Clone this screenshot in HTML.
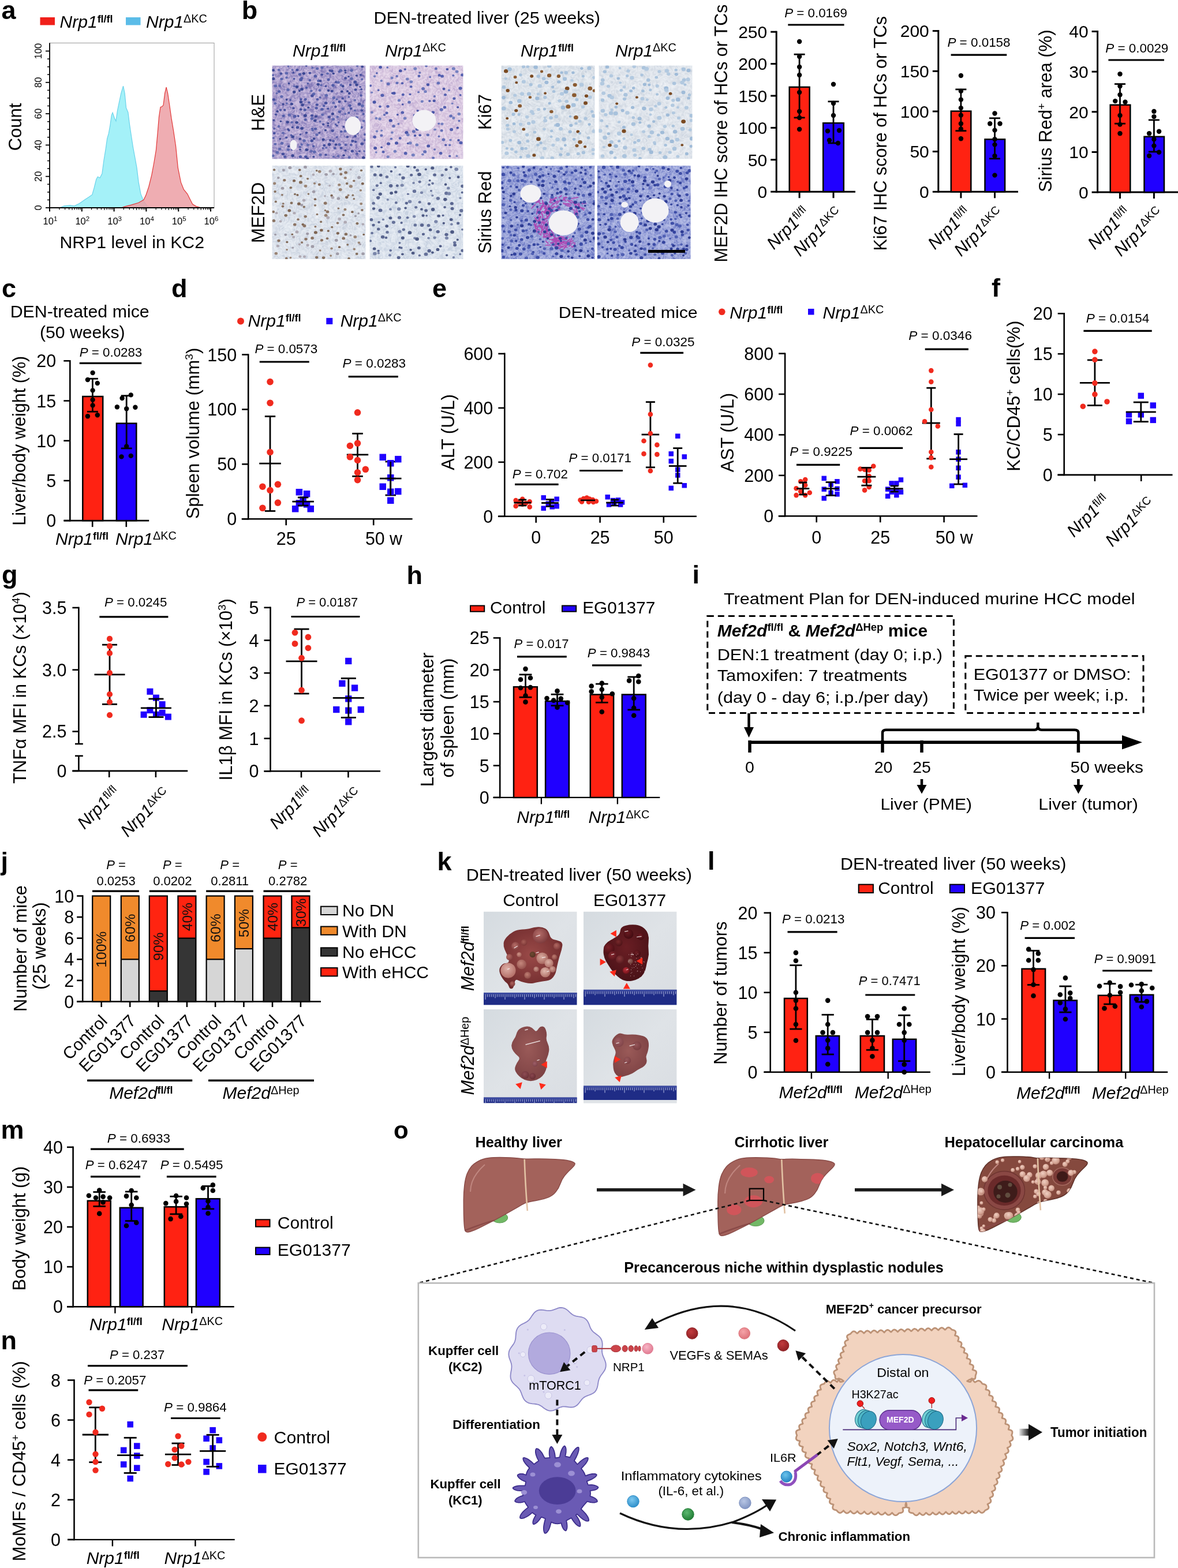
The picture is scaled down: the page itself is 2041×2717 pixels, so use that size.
<!DOCTYPE html>
<html><head><meta charset="utf-8"><title>Figure</title>
<style>html,body{margin:0;padding:0;background:#fff;}svg{display:block;}
text{font-family:'Liberation Sans',Arial,sans-serif;}</style></head>
<body><svg width="2041" height="2717" viewBox="0 0 2041 2717">
<rect width="2041" height="2717" fill="#fff"/>
<text x="2.4" y="33.2" font-size="45" font-weight="bold">a</text>
<rect x="69.5" y="30.0" width="25.5" height="13.5" fill="#f0201a" />
<text x="103.6" y="48.0" font-size="30"><tspan font-style="italic">Nrp1</tspan><tspan font-size="18.0" dy="-9.0" font-weight="bold">fl/fl</tspan></text>
<rect x="218.0" y="30.0" width="25.5" height="13.5" fill="#5bbce8" />
<text x="253.0" y="48.0" font-size="30"><tspan font-style="italic">Nrp1</tspan><tspan font-size="19.8" dy="-8.7">ΔKC</tspan></text>
<rect x="86" y="74.5" width="285" height="285.5" fill="none" stroke="#9a9a9a" stroke-width="1"/>
<path d="M103.6,360.1 L111.2,356.8 L121.3,355.8 L128.9,356.8 L137.7,352.5 L146.6,346.2 L154.2,341.2 L159.7,337.4 L163.0,326.0 L166.8,310.8 L169.3,306.3 L173.1,308.3 L176.9,300.7 L179.9,278.0 L183.2,257.8 L185.7,240.1 L188.3,231.2 L190.8,217.3 L193.3,199.6 L195.1,195.1 L198.4,204.7 L200.9,209.8 L203.4,192.1 L206.0,179.4 L209.8,161.7 L213.5,149.1 L216.1,161.7 L218.6,187.0 L221.9,194.6 L224.4,214.8 L227.4,235.0 L230.5,255.2 L233.8,272.9 L237.0,290.6 L240.1,315.9 L243.9,336.1 L248.9,348.7 L255.2,356.8 L262.8,360.1 Z" fill="#9ff0f8" stroke="#6cd3ea" stroke-width="1.2" fill-opacity="0.95"/>
<path d="M209.8,360.1 L217.3,357.6 L227.4,355.1 L240.1,351.3 L248.9,346.2 L252.7,338.6 L257.8,323.5 L262.8,303.3 L266.6,283.0 L270.4,260.3 L273.4,227.4 L275.5,202.2 L278.0,185.7 L281.0,184.5 L283.0,182.0 L285.6,161.7 L288.1,151.1 L290.6,161.7 L293.7,182.0 L296.9,204.7 L300.7,227.4 L304.5,252.7 L308.3,290.6 L313.4,315.9 L318.4,328.5 L324.7,336.1 L328.5,343.7 L333.6,353.8 L339.9,357.6 L348.7,360.1 Z" fill="#ec9fa4" stroke="#e23a3a" stroke-width="1.2" fill-opacity="0.85"/>
<line x1="86.0" y1="359.5" x2="371.0" y2="359.5" stroke="#6cd3ea" stroke-width="1.2" />
<line x1="86.0" y1="74.5" x2="86.0" y2="361.0" stroke="#000" stroke-width="1.8" />
<line x1="79.0" y1="360.0" x2="86.0" y2="360.0" stroke="#000" stroke-width="1.8" />
<text x="72.0" y="360.0" font-size="16.5" text-anchor="middle" transform="rotate(-90 72.0 360.0)">0</text>
<line x1="82.0" y1="346.4" x2="86.0" y2="346.4" stroke="#000" stroke-width="1.5" />
<line x1="82.0" y1="332.9" x2="86.0" y2="332.9" stroke="#000" stroke-width="1.5" />
<line x1="82.0" y1="319.3" x2="86.0" y2="319.3" stroke="#000" stroke-width="1.5" />
<line x1="79.0" y1="305.7" x2="86.0" y2="305.7" stroke="#000" stroke-width="1.8" />
<text x="72.0" y="305.7" font-size="16.5" text-anchor="middle" transform="rotate(-90 72.0 305.7)">20</text>
<line x1="82.0" y1="292.1" x2="86.0" y2="292.1" stroke="#000" stroke-width="1.5" />
<line x1="82.0" y1="278.6" x2="86.0" y2="278.6" stroke="#000" stroke-width="1.5" />
<line x1="82.0" y1="265.0" x2="86.0" y2="265.0" stroke="#000" stroke-width="1.5" />
<line x1="79.0" y1="251.4" x2="86.0" y2="251.4" stroke="#000" stroke-width="1.8" />
<text x="72.0" y="251.4" font-size="16.5" text-anchor="middle" transform="rotate(-90 72.0 251.4)">40</text>
<line x1="82.0" y1="237.8" x2="86.0" y2="237.8" stroke="#000" stroke-width="1.5" />
<line x1="82.0" y1="224.2" x2="86.0" y2="224.2" stroke="#000" stroke-width="1.5" />
<line x1="82.0" y1="210.7" x2="86.0" y2="210.7" stroke="#000" stroke-width="1.5" />
<line x1="79.0" y1="197.1" x2="86.0" y2="197.1" stroke="#000" stroke-width="1.8" />
<text x="72.0" y="197.1" font-size="16.5" text-anchor="middle" transform="rotate(-90 72.0 197.1)">60</text>
<line x1="82.0" y1="183.5" x2="86.0" y2="183.5" stroke="#000" stroke-width="1.5" />
<line x1="82.0" y1="169.9" x2="86.0" y2="169.9" stroke="#000" stroke-width="1.5" />
<line x1="82.0" y1="156.4" x2="86.0" y2="156.4" stroke="#000" stroke-width="1.5" />
<line x1="79.0" y1="142.8" x2="86.0" y2="142.8" stroke="#000" stroke-width="1.8" />
<text x="72.0" y="142.8" font-size="16.5" text-anchor="middle" transform="rotate(-90 72.0 142.8)">80</text>
<line x1="82.0" y1="129.2" x2="86.0" y2="129.2" stroke="#000" stroke-width="1.5" />
<line x1="82.0" y1="115.7" x2="86.0" y2="115.7" stroke="#000" stroke-width="1.5" />
<line x1="82.0" y1="102.1" x2="86.0" y2="102.1" stroke="#000" stroke-width="1.5" />
<line x1="79.0" y1="88.5" x2="86.0" y2="88.5" stroke="#000" stroke-width="1.8" />
<text x="72.0" y="88.5" font-size="16.5" text-anchor="middle" transform="rotate(-90 72.0 88.5)">100</text>
<line x1="85.0" y1="360.0" x2="371.0" y2="360.0" stroke="#000" stroke-width="1.8" />
<line x1="86.0" y1="360.0" x2="86.0" y2="366.5" stroke="#000" stroke-width="2" />
<text x="87.0" y="389.0" font-size="16.5" text-anchor="middle">10<tspan font-size="11.5" dy="-6.5">1</tspan></text>
<line x1="102.8" y1="360.0" x2="102.8" y2="363.5" stroke="#000" stroke-width="1.2" />
<line x1="112.6" y1="360.0" x2="112.6" y2="363.5" stroke="#000" stroke-width="1.2" />
<line x1="119.6" y1="360.0" x2="119.6" y2="363.5" stroke="#000" stroke-width="1.2" />
<line x1="125.0" y1="360.0" x2="125.0" y2="364.0" stroke="#000" stroke-width="1.2" />
<line x1="129.4" y1="360.0" x2="129.4" y2="363.5" stroke="#000" stroke-width="1.2" />
<line x1="133.2" y1="360.0" x2="133.2" y2="363.5" stroke="#000" stroke-width="1.2" />
<line x1="136.4" y1="360.0" x2="136.4" y2="363.5" stroke="#000" stroke-width="1.2" />
<line x1="139.2" y1="360.0" x2="139.2" y2="363.5" stroke="#000" stroke-width="1.2" />
<line x1="141.8" y1="360.0" x2="141.8" y2="366.5" stroke="#000" stroke-width="2" />
<text x="142.8" y="389.0" font-size="16.5" text-anchor="middle">10<tspan font-size="11.5" dy="-6.5">2</tspan></text>
<line x1="158.6" y1="360.0" x2="158.6" y2="363.5" stroke="#000" stroke-width="1.2" />
<line x1="168.4" y1="360.0" x2="168.4" y2="363.5" stroke="#000" stroke-width="1.2" />
<line x1="175.4" y1="360.0" x2="175.4" y2="363.5" stroke="#000" stroke-width="1.2" />
<line x1="180.8" y1="360.0" x2="180.8" y2="364.0" stroke="#000" stroke-width="1.2" />
<line x1="185.2" y1="360.0" x2="185.2" y2="363.5" stroke="#000" stroke-width="1.2" />
<line x1="189.0" y1="360.0" x2="189.0" y2="363.5" stroke="#000" stroke-width="1.2" />
<line x1="192.2" y1="360.0" x2="192.2" y2="363.5" stroke="#000" stroke-width="1.2" />
<line x1="195.0" y1="360.0" x2="195.0" y2="363.5" stroke="#000" stroke-width="1.2" />
<line x1="197.6" y1="360.0" x2="197.6" y2="366.5" stroke="#000" stroke-width="2" />
<text x="198.6" y="389.0" font-size="16.5" text-anchor="middle">10<tspan font-size="11.5" dy="-6.5">3</tspan></text>
<line x1="214.4" y1="360.0" x2="214.4" y2="363.5" stroke="#000" stroke-width="1.2" />
<line x1="224.2" y1="360.0" x2="224.2" y2="363.5" stroke="#000" stroke-width="1.2" />
<line x1="231.2" y1="360.0" x2="231.2" y2="363.5" stroke="#000" stroke-width="1.2" />
<line x1="236.6" y1="360.0" x2="236.6" y2="364.0" stroke="#000" stroke-width="1.2" />
<line x1="241.0" y1="360.0" x2="241.0" y2="363.5" stroke="#000" stroke-width="1.2" />
<line x1="244.8" y1="360.0" x2="244.8" y2="363.5" stroke="#000" stroke-width="1.2" />
<line x1="248.0" y1="360.0" x2="248.0" y2="363.5" stroke="#000" stroke-width="1.2" />
<line x1="250.8" y1="360.0" x2="250.8" y2="363.5" stroke="#000" stroke-width="1.2" />
<line x1="253.4" y1="360.0" x2="253.4" y2="366.5" stroke="#000" stroke-width="2" />
<text x="254.4" y="389.0" font-size="16.5" text-anchor="middle">10<tspan font-size="11.5" dy="-6.5">4</tspan></text>
<line x1="270.2" y1="360.0" x2="270.2" y2="363.5" stroke="#000" stroke-width="1.2" />
<line x1="280.0" y1="360.0" x2="280.0" y2="363.5" stroke="#000" stroke-width="1.2" />
<line x1="287.0" y1="360.0" x2="287.0" y2="363.5" stroke="#000" stroke-width="1.2" />
<line x1="292.4" y1="360.0" x2="292.4" y2="364.0" stroke="#000" stroke-width="1.2" />
<line x1="296.8" y1="360.0" x2="296.8" y2="363.5" stroke="#000" stroke-width="1.2" />
<line x1="300.6" y1="360.0" x2="300.6" y2="363.5" stroke="#000" stroke-width="1.2" />
<line x1="303.8" y1="360.0" x2="303.8" y2="363.5" stroke="#000" stroke-width="1.2" />
<line x1="306.6" y1="360.0" x2="306.6" y2="363.5" stroke="#000" stroke-width="1.2" />
<line x1="309.2" y1="360.0" x2="309.2" y2="366.5" stroke="#000" stroke-width="2" />
<text x="310.2" y="389.0" font-size="16.5" text-anchor="middle">10<tspan font-size="11.5" dy="-6.5">5</tspan></text>
<line x1="326.0" y1="360.0" x2="326.0" y2="363.5" stroke="#000" stroke-width="1.2" />
<line x1="335.8" y1="360.0" x2="335.8" y2="363.5" stroke="#000" stroke-width="1.2" />
<line x1="342.8" y1="360.0" x2="342.8" y2="363.5" stroke="#000" stroke-width="1.2" />
<line x1="348.2" y1="360.0" x2="348.2" y2="364.0" stroke="#000" stroke-width="1.2" />
<line x1="352.6" y1="360.0" x2="352.6" y2="363.5" stroke="#000" stroke-width="1.2" />
<line x1="356.4" y1="360.0" x2="356.4" y2="363.5" stroke="#000" stroke-width="1.2" />
<line x1="359.6" y1="360.0" x2="359.6" y2="363.5" stroke="#000" stroke-width="1.2" />
<line x1="362.4" y1="360.0" x2="362.4" y2="363.5" stroke="#000" stroke-width="1.2" />
<line x1="365.0" y1="360.0" x2="365.0" y2="366.5" stroke="#000" stroke-width="2" />
<text x="366.0" y="389.0" font-size="16.5" text-anchor="middle">10<tspan font-size="11.5" dy="-6.5">6</tspan></text>
<text x="36.6" y="220.0" font-size="31" text-anchor="middle" transform="rotate(-90 36.6 220.0)">Count</text>
<text x="103.5" y="430.0" font-size="30" textLength="250.5" lengthAdjust="spacingAndGlyphs">NRP1 level in KC2</text>
<text x="418.7" y="33.2" font-size="45" font-weight="bold">b</text>
<text x="647.5" y="41.0" font-size="30" textLength="392.5" lengthAdjust="spacingAndGlyphs">DEN-treated liver (25 weeks)</text>
<text x="507.0" y="97.5" font-size="30"><tspan font-style="italic">Nrp1</tspan><tspan font-size="18.0" dy="-9.0" font-weight="bold">fl/fl</tspan></text>
<text x="667.0" y="97.5" font-size="30"><tspan font-style="italic">Nrp1</tspan><tspan font-size="19.8" dy="-8.7">ΔKC</tspan></text>
<text x="902.0" y="97.5" font-size="30"><tspan font-style="italic">Nrp1</tspan><tspan font-size="18.0" dy="-9.0" font-weight="bold">fl/fl</tspan></text>
<text x="1066.0" y="97.5" font-size="30"><tspan font-style="italic">Nrp1</tspan><tspan font-size="19.8" dy="-8.7">ΔKC</tspan></text>
<clipPath id="clip1"><rect x="471.5" y="113.5" width="162" height="162"/></clipPath>
<g clip-path="url(#clip1)">
<rect x="471.5" y="113.5" width="162.0" height="162.0" fill="#aa9dcc" />
<filter id="tf1" x="0" y="0" width="100%" height="100%" color-interpolation-filters="sRGB"><feTurbulence type="fractalNoise" baseFrequency="0.09" numOctaves="3" seed="1" result="n"/><feColorMatrix in="n" type="matrix" values="0 0 0 0 0.373  0 0 0 0 0.345  0 0 0 0 0.647  1.5 0 0 0 -0.55"/></filter>
<rect x="471.5" y="113.5" width="162" height="162" filter="url(#tf1)"/>
<filter id="tg1" x="0" y="0" width="100%" height="100%" color-interpolation-filters="sRGB"><feTurbulence type="fractalNoise" baseFrequency="0.18" numOctaves="3" seed="51" result="n"/><feColorMatrix in="n" type="matrix" values="0 0 0 0 0.922  0 0 0 0 0.843  0 0 0 0 0.933  1.6 0 0 0 -0.75"/></filter>
<rect x="471.5" y="113.5" width="162" height="162" filter="url(#tg1)"/>
<filter id="tm1" x="0" y="0" width="100%" height="100%" color-interpolation-filters="sRGB"><feTurbulence type="fractalNoise" baseFrequency="0.085" numOctaves="2" seed="91" result="n"/><feComponentTransfer in="n" result="t"><feFuncR type="table" tableValues="0 1 0 0 1 0 0 1 0 0 1 0 0 1 0"/></feComponentTransfer><feColorMatrix in="t" type="matrix" values="0 0 0 0 0.882  0 0 0 0 0.824  0 0 0 0 0.922  0.55 0 0 0 0"/></filter>
<rect x="471.5" y="113.5" width="162" height="162" filter="url(#tm1)"/>
<ellipse cx="473.2" cy="121.7" rx="2.7" ry="2.3" fill="#3c4894" fill-opacity="1.0"/>
<ellipse cx="483.2" cy="120.9" rx="2.3" ry="2.0" fill="#5e68b0" fill-opacity="1.0"/>
<ellipse cx="499.4" cy="114.9" rx="1.8" ry="1.6" fill="#5e68b0" fill-opacity="1.0"/>
<ellipse cx="506.3" cy="121.0" rx="1.8" ry="1.6" fill="#5e68b0" fill-opacity="1.0"/>
<ellipse cx="514.9" cy="121.3" rx="2.5" ry="2.2" fill="#46509e" fill-opacity="1.0"/>
<ellipse cx="530.8" cy="114.3" rx="1.8" ry="1.6" fill="#46509e" fill-opacity="1.0"/>
<ellipse cx="541.3" cy="117.5" rx="2.0" ry="1.8" fill="#5e68b0" fill-opacity="1.0"/>
<ellipse cx="549.5" cy="118.8" rx="2.7" ry="2.3" fill="#5e68b0" fill-opacity="1.0"/>
<ellipse cx="558.0" cy="117.2" rx="2.6" ry="2.3" fill="#5e68b0" fill-opacity="1.0"/>
<ellipse cx="571.8" cy="122.4" rx="2.3" ry="2.0" fill="#46509e" fill-opacity="1.0"/>
<ellipse cx="575.0" cy="123.1" rx="2.8" ry="2.4" fill="#46509e" fill-opacity="1.0"/>
<ellipse cx="590.2" cy="122.2" rx="2.9" ry="2.6" fill="#5e68b0" fill-opacity="1.0"/>
<ellipse cx="598.1" cy="122.3" rx="2.0" ry="1.7" fill="#3c4894" fill-opacity="1.0"/>
<ellipse cx="609.0" cy="122.0" rx="2.8" ry="2.4" fill="#5e68b0" fill-opacity="1.0"/>
<ellipse cx="619.1" cy="114.3" rx="2.0" ry="1.8" fill="#5e68b0" fill-opacity="1.0"/>
<ellipse cx="627.7" cy="115.6" rx="2.4" ry="2.1" fill="#3c4894" fill-opacity="1.0"/>
<ellipse cx="472.8" cy="130.2" rx="1.9" ry="1.7" fill="#525ca8" fill-opacity="1.0"/>
<ellipse cx="486.9" cy="127.7" rx="2.3" ry="2.1" fill="#46509e" fill-opacity="1.0"/>
<ellipse cx="496.5" cy="126.9" rx="2.8" ry="2.4" fill="#5e68b0" fill-opacity="1.0"/>
<ellipse cx="508.3" cy="125.7" rx="2.0" ry="1.8" fill="#46509e" fill-opacity="1.0"/>
<ellipse cx="519.5" cy="129.0" rx="2.8" ry="2.4" fill="#525ca8" fill-opacity="1.0"/>
<ellipse cx="526.3" cy="127.3" rx="2.8" ry="2.4" fill="#3c4894" fill-opacity="1.0"/>
<ellipse cx="536.9" cy="126.6" rx="2.4" ry="2.1" fill="#46509e" fill-opacity="1.0"/>
<ellipse cx="546.4" cy="131.9" rx="2.9" ry="2.5" fill="#525ca8" fill-opacity="1.0"/>
<ellipse cx="557.7" cy="129.2" rx="2.3" ry="2.0" fill="#46509e" fill-opacity="1.0"/>
<ellipse cx="567.5" cy="127.5" rx="2.4" ry="2.1" fill="#5e68b0" fill-opacity="1.0"/>
<ellipse cx="577.7" cy="127.4" rx="2.2" ry="1.9" fill="#3c4894" fill-opacity="1.0"/>
<ellipse cx="587.6" cy="124.4" rx="2.0" ry="1.8" fill="#525ca8" fill-opacity="1.0"/>
<ellipse cx="598.5" cy="125.8" rx="1.9" ry="1.6" fill="#3c4894" fill-opacity="1.0"/>
<ellipse cx="603.9" cy="132.7" rx="1.8" ry="1.6" fill="#46509e" fill-opacity="1.0"/>
<ellipse cx="617.9" cy="131.0" rx="2.1" ry="1.8" fill="#3c4894" fill-opacity="1.0"/>
<ellipse cx="624.9" cy="129.8" rx="2.2" ry="1.9" fill="#46509e" fill-opacity="1.0"/>
<ellipse cx="473.5" cy="136.6" rx="2.9" ry="2.5" fill="#3c4894" fill-opacity="1.0"/>
<ellipse cx="488.0" cy="136.9" rx="2.6" ry="2.3" fill="#5e68b0" fill-opacity="1.0"/>
<ellipse cx="496.6" cy="134.5" rx="2.2" ry="2.0" fill="#5e68b0" fill-opacity="1.0"/>
<ellipse cx="509.6" cy="136.6" rx="2.1" ry="1.8" fill="#525ca8" fill-opacity="1.0"/>
<ellipse cx="521.3" cy="138.2" rx="2.9" ry="2.6" fill="#525ca8" fill-opacity="1.0"/>
<ellipse cx="522.8" cy="135.6" rx="2.6" ry="2.3" fill="#525ca8" fill-opacity="1.0"/>
<ellipse cx="536.8" cy="138.9" rx="2.3" ry="2.0" fill="#525ca8" fill-opacity="1.0"/>
<ellipse cx="551.8" cy="140.0" rx="2.6" ry="2.3" fill="#5e68b0" fill-opacity="1.0"/>
<ellipse cx="555.0" cy="140.2" rx="2.2" ry="2.0" fill="#3c4894" fill-opacity="1.0"/>
<ellipse cx="569.1" cy="138.1" rx="2.6" ry="2.3" fill="#525ca8" fill-opacity="1.0"/>
<ellipse cx="582.1" cy="142.2" rx="2.1" ry="1.9" fill="#46509e" fill-opacity="1.0"/>
<ellipse cx="586.2" cy="142.8" rx="2.6" ry="2.3" fill="#5e68b0" fill-opacity="1.0"/>
<ellipse cx="598.7" cy="135.4" rx="2.4" ry="2.1" fill="#46509e" fill-opacity="1.0"/>
<ellipse cx="609.0" cy="136.2" rx="2.8" ry="2.5" fill="#5e68b0" fill-opacity="1.0"/>
<ellipse cx="615.3" cy="142.2" rx="2.9" ry="2.6" fill="#46509e" fill-opacity="1.0"/>
<ellipse cx="627.3" cy="137.4" rx="2.0" ry="1.8" fill="#5e68b0" fill-opacity="1.0"/>
<ellipse cx="477.4" cy="148.9" rx="2.9" ry="2.5" fill="#5e68b0" fill-opacity="1.0"/>
<ellipse cx="484.8" cy="148.9" rx="2.1" ry="1.9" fill="#5e68b0" fill-opacity="1.0"/>
<ellipse cx="500.5" cy="144.5" rx="2.0" ry="1.8" fill="#3c4894" fill-opacity="1.0"/>
<ellipse cx="509.8" cy="149.5" rx="1.9" ry="1.7" fill="#5e68b0" fill-opacity="1.0"/>
<ellipse cx="514.4" cy="150.5" rx="2.7" ry="2.4" fill="#3c4894" fill-opacity="1.0"/>
<ellipse cx="531.0" cy="152.0" rx="2.4" ry="2.1" fill="#525ca8" fill-opacity="1.0"/>
<ellipse cx="533.4" cy="144.7" rx="1.9" ry="1.7" fill="#525ca8" fill-opacity="1.0"/>
<ellipse cx="551.2" cy="146.3" rx="2.7" ry="2.3" fill="#3c4894" fill-opacity="1.0"/>
<ellipse cx="556.4" cy="147.5" rx="2.1" ry="1.9" fill="#5e68b0" fill-opacity="1.0"/>
<ellipse cx="564.4" cy="149.4" rx="1.9" ry="1.7" fill="#46509e" fill-opacity="1.0"/>
<ellipse cx="577.0" cy="147.8" rx="2.9" ry="2.6" fill="#525ca8" fill-opacity="1.0"/>
<ellipse cx="590.9" cy="147.5" rx="2.5" ry="2.2" fill="#5e68b0" fill-opacity="1.0"/>
<ellipse cx="594.2" cy="149.4" rx="2.4" ry="2.1" fill="#3c4894" fill-opacity="1.0"/>
<ellipse cx="607.0" cy="147.1" rx="2.4" ry="2.1" fill="#46509e" fill-opacity="1.0"/>
<ellipse cx="617.9" cy="146.9" rx="2.7" ry="2.4" fill="#3c4894" fill-opacity="1.0"/>
<ellipse cx="624.0" cy="150.5" rx="1.9" ry="1.6" fill="#46509e" fill-opacity="1.0"/>
<ellipse cx="479.5" cy="161.7" rx="2.0" ry="1.7" fill="#5e68b0" fill-opacity="1.0"/>
<ellipse cx="483.6" cy="158.6" rx="2.6" ry="2.3" fill="#525ca8" fill-opacity="1.0"/>
<ellipse cx="499.0" cy="155.4" rx="2.8" ry="2.5" fill="#5e68b0" fill-opacity="1.0"/>
<ellipse cx="509.7" cy="159.5" rx="2.7" ry="2.4" fill="#3c4894" fill-opacity="1.0"/>
<ellipse cx="519.0" cy="157.4" rx="2.0" ry="1.8" fill="#3c4894" fill-opacity="1.0"/>
<ellipse cx="523.0" cy="154.6" rx="2.9" ry="2.6" fill="#3c4894" fill-opacity="1.0"/>
<ellipse cx="539.4" cy="157.4" rx="2.2" ry="2.0" fill="#5e68b0" fill-opacity="1.0"/>
<ellipse cx="543.5" cy="162.8" rx="2.9" ry="2.6" fill="#5e68b0" fill-opacity="1.0"/>
<ellipse cx="554.0" cy="156.5" rx="2.5" ry="2.2" fill="#5e68b0" fill-opacity="1.0"/>
<ellipse cx="569.2" cy="156.9" rx="2.4" ry="2.1" fill="#3c4894" fill-opacity="1.0"/>
<ellipse cx="575.1" cy="157.8" rx="2.7" ry="2.4" fill="#46509e" fill-opacity="1.0"/>
<ellipse cx="592.3" cy="158.6" rx="2.5" ry="2.2" fill="#3c4894" fill-opacity="1.0"/>
<ellipse cx="602.1" cy="158.1" rx="2.1" ry="1.9" fill="#3c4894" fill-opacity="1.0"/>
<ellipse cx="605.3" cy="161.7" rx="2.4" ry="2.1" fill="#3c4894" fill-opacity="1.0"/>
<ellipse cx="616.0" cy="155.4" rx="2.5" ry="2.2" fill="#46509e" fill-opacity="1.0"/>
<ellipse cx="626.1" cy="154.7" rx="2.0" ry="1.8" fill="#46509e" fill-opacity="1.0"/>
<ellipse cx="474.4" cy="172.5" rx="2.6" ry="2.3" fill="#46509e" fill-opacity="1.0"/>
<ellipse cx="487.9" cy="167.3" rx="2.7" ry="2.4" fill="#5e68b0" fill-opacity="1.0"/>
<ellipse cx="496.5" cy="172.5" rx="1.9" ry="1.7" fill="#3c4894" fill-opacity="1.0"/>
<ellipse cx="503.1" cy="173.3" rx="2.0" ry="1.7" fill="#525ca8" fill-opacity="1.0"/>
<ellipse cx="521.5" cy="172.1" rx="2.1" ry="1.9" fill="#46509e" fill-opacity="1.0"/>
<ellipse cx="529.1" cy="172.2" rx="2.5" ry="2.2" fill="#525ca8" fill-opacity="1.0"/>
<ellipse cx="540.9" cy="165.9" rx="2.8" ry="2.5" fill="#46509e" fill-opacity="1.0"/>
<ellipse cx="550.0" cy="172.1" rx="2.5" ry="2.2" fill="#525ca8" fill-opacity="1.0"/>
<ellipse cx="554.6" cy="168.6" rx="1.9" ry="1.7" fill="#525ca8" fill-opacity="1.0"/>
<ellipse cx="565.4" cy="165.2" rx="2.9" ry="2.5" fill="#5e68b0" fill-opacity="1.0"/>
<ellipse cx="578.3" cy="169.6" rx="2.8" ry="2.4" fill="#5e68b0" fill-opacity="1.0"/>
<ellipse cx="583.5" cy="172.3" rx="2.0" ry="1.7" fill="#5e68b0" fill-opacity="1.0"/>
<ellipse cx="593.7" cy="170.5" rx="2.3" ry="2.0" fill="#46509e" fill-opacity="1.0"/>
<ellipse cx="604.2" cy="167.9" rx="1.9" ry="1.7" fill="#525ca8" fill-opacity="1.0"/>
<ellipse cx="615.0" cy="173.6" rx="2.1" ry="1.8" fill="#5e68b0" fill-opacity="1.0"/>
<ellipse cx="625.5" cy="165.4" rx="2.3" ry="2.1" fill="#525ca8" fill-opacity="1.0"/>
<ellipse cx="476.8" cy="179.3" rx="2.5" ry="2.2" fill="#5e68b0" fill-opacity="1.0"/>
<ellipse cx="490.6" cy="180.6" rx="2.0" ry="1.8" fill="#3c4894" fill-opacity="1.0"/>
<ellipse cx="496.8" cy="179.1" rx="2.0" ry="1.8" fill="#5e68b0" fill-opacity="1.0"/>
<ellipse cx="505.5" cy="180.3" rx="2.6" ry="2.3" fill="#3c4894" fill-opacity="1.0"/>
<ellipse cx="521.4" cy="176.8" rx="2.8" ry="2.5" fill="#3c4894" fill-opacity="1.0"/>
<ellipse cx="524.1" cy="181.7" rx="2.8" ry="2.5" fill="#3c4894" fill-opacity="1.0"/>
<ellipse cx="535.5" cy="177.5" rx="2.4" ry="2.1" fill="#525ca8" fill-opacity="1.0"/>
<ellipse cx="549.3" cy="181.5" rx="2.5" ry="2.2" fill="#46509e" fill-opacity="1.0"/>
<ellipse cx="561.2" cy="183.5" rx="2.4" ry="2.1" fill="#525ca8" fill-opacity="1.0"/>
<ellipse cx="564.6" cy="178.6" rx="2.9" ry="2.5" fill="#46509e" fill-opacity="1.0"/>
<ellipse cx="577.8" cy="178.3" rx="2.5" ry="2.2" fill="#5e68b0" fill-opacity="1.0"/>
<ellipse cx="588.1" cy="176.3" rx="2.6" ry="2.3" fill="#46509e" fill-opacity="1.0"/>
<ellipse cx="598.3" cy="175.6" rx="2.1" ry="1.8" fill="#46509e" fill-opacity="1.0"/>
<ellipse cx="606.1" cy="183.1" rx="2.9" ry="2.5" fill="#525ca8" fill-opacity="1.0"/>
<ellipse cx="622.6" cy="180.4" rx="2.9" ry="2.6" fill="#46509e" fill-opacity="1.0"/>
<ellipse cx="627.9" cy="183.2" rx="2.9" ry="2.6" fill="#5e68b0" fill-opacity="1.0"/>
<ellipse cx="480.6" cy="193.1" rx="2.2" ry="2.0" fill="#3c4894" fill-opacity="1.0"/>
<ellipse cx="486.1" cy="190.6" rx="2.3" ry="2.1" fill="#525ca8" fill-opacity="1.0"/>
<ellipse cx="493.3" cy="190.4" rx="2.2" ry="2.0" fill="#46509e" fill-opacity="1.0"/>
<ellipse cx="508.4" cy="187.4" rx="2.2" ry="1.9" fill="#46509e" fill-opacity="1.0"/>
<ellipse cx="521.3" cy="189.7" rx="2.4" ry="2.1" fill="#46509e" fill-opacity="1.0"/>
<ellipse cx="528.3" cy="190.4" rx="2.7" ry="2.4" fill="#525ca8" fill-opacity="1.0"/>
<ellipse cx="534.3" cy="186.2" rx="2.0" ry="1.8" fill="#3c4894" fill-opacity="1.0"/>
<ellipse cx="548.2" cy="187.2" rx="2.6" ry="2.3" fill="#525ca8" fill-opacity="1.0"/>
<ellipse cx="558.0" cy="189.4" rx="2.8" ry="2.4" fill="#525ca8" fill-opacity="1.0"/>
<ellipse cx="568.3" cy="188.4" rx="2.1" ry="1.8" fill="#46509e" fill-opacity="1.0"/>
<ellipse cx="581.5" cy="185.1" rx="2.4" ry="2.1" fill="#46509e" fill-opacity="1.0"/>
<ellipse cx="588.4" cy="193.7" rx="2.7" ry="2.3" fill="#525ca8" fill-opacity="1.0"/>
<ellipse cx="594.2" cy="188.3" rx="2.7" ry="2.4" fill="#5e68b0" fill-opacity="1.0"/>
<ellipse cx="608.2" cy="188.1" rx="2.4" ry="2.1" fill="#46509e" fill-opacity="1.0"/>
<ellipse cx="614.9" cy="191.4" rx="2.2" ry="1.9" fill="#5e68b0" fill-opacity="1.0"/>
<ellipse cx="627.0" cy="191.5" rx="2.4" ry="2.1" fill="#46509e" fill-opacity="1.0"/>
<ellipse cx="477.9" cy="198.4" rx="2.0" ry="1.8" fill="#46509e" fill-opacity="1.0"/>
<ellipse cx="491.2" cy="200.8" rx="2.6" ry="2.3" fill="#525ca8" fill-opacity="1.0"/>
<ellipse cx="501.3" cy="199.2" rx="2.7" ry="2.4" fill="#5e68b0" fill-opacity="1.0"/>
<ellipse cx="510.9" cy="201.5" rx="2.9" ry="2.6" fill="#525ca8" fill-opacity="1.0"/>
<ellipse cx="516.6" cy="201.1" rx="2.0" ry="1.8" fill="#46509e" fill-opacity="1.0"/>
<ellipse cx="528.8" cy="200.3" rx="2.9" ry="2.6" fill="#3c4894" fill-opacity="1.0"/>
<ellipse cx="540.6" cy="200.3" rx="2.6" ry="2.3" fill="#46509e" fill-opacity="1.0"/>
<ellipse cx="547.4" cy="201.8" rx="2.5" ry="2.2" fill="#3c4894" fill-opacity="1.0"/>
<ellipse cx="558.7" cy="198.7" rx="2.5" ry="2.2" fill="#5e68b0" fill-opacity="1.0"/>
<ellipse cx="570.3" cy="202.7" rx="2.7" ry="2.3" fill="#46509e" fill-opacity="1.0"/>
<ellipse cx="576.4" cy="197.4" rx="2.6" ry="2.3" fill="#3c4894" fill-opacity="1.0"/>
<ellipse cx="584.8" cy="202.6" rx="2.3" ry="2.1" fill="#5e68b0" fill-opacity="1.0"/>
<ellipse cx="598.2" cy="197.5" rx="1.9" ry="1.7" fill="#5e68b0" fill-opacity="1.0"/>
<ellipse cx="604.3" cy="195.6" rx="2.3" ry="2.0" fill="#525ca8" fill-opacity="1.0"/>
<ellipse cx="618.4" cy="203.6" rx="2.6" ry="2.3" fill="#5e68b0" fill-opacity="1.0"/>
<ellipse cx="629.7" cy="197.5" rx="2.1" ry="1.9" fill="#525ca8" fill-opacity="1.0"/>
<ellipse cx="474.2" cy="208.2" rx="1.8" ry="1.6" fill="#3c4894" fill-opacity="1.0"/>
<ellipse cx="486.4" cy="210.2" rx="1.8" ry="1.6" fill="#3c4894" fill-opacity="1.0"/>
<ellipse cx="498.2" cy="211.6" rx="2.7" ry="2.4" fill="#3c4894" fill-opacity="1.0"/>
<ellipse cx="505.6" cy="211.9" rx="2.2" ry="2.0" fill="#5e68b0" fill-opacity="1.0"/>
<ellipse cx="514.1" cy="212.3" rx="2.8" ry="2.4" fill="#3c4894" fill-opacity="1.0"/>
<ellipse cx="529.2" cy="207.5" rx="2.5" ry="2.2" fill="#525ca8" fill-opacity="1.0"/>
<ellipse cx="540.4" cy="205.4" rx="2.8" ry="2.5" fill="#5e68b0" fill-opacity="1.0"/>
<ellipse cx="545.8" cy="209.1" rx="2.7" ry="2.3" fill="#3c4894" fill-opacity="1.0"/>
<ellipse cx="554.7" cy="210.8" rx="2.0" ry="1.7" fill="#5e68b0" fill-opacity="1.0"/>
<ellipse cx="568.4" cy="213.6" rx="1.9" ry="1.7" fill="#3c4894" fill-opacity="1.0"/>
<ellipse cx="577.4" cy="206.6" rx="2.7" ry="2.4" fill="#5e68b0" fill-opacity="1.0"/>
<ellipse cx="586.7" cy="212.0" rx="2.0" ry="1.8" fill="#525ca8" fill-opacity="1.0"/>
<ellipse cx="600.1" cy="207.9" rx="1.9" ry="1.7" fill="#5e68b0" fill-opacity="1.0"/>
<ellipse cx="606.6" cy="213.6" rx="2.9" ry="2.5" fill="#46509e" fill-opacity="1.0"/>
<ellipse cx="614.3" cy="210.6" rx="2.8" ry="2.5" fill="#525ca8" fill-opacity="1.0"/>
<ellipse cx="630.1" cy="209.6" rx="2.4" ry="2.1" fill="#5e68b0" fill-opacity="1.0"/>
<ellipse cx="475.1" cy="222.9" rx="1.9" ry="1.7" fill="#525ca8" fill-opacity="1.0"/>
<ellipse cx="483.0" cy="218.9" rx="2.3" ry="2.1" fill="#5e68b0" fill-opacity="1.0"/>
<ellipse cx="499.1" cy="224.1" rx="2.0" ry="1.8" fill="#3c4894" fill-opacity="1.0"/>
<ellipse cx="506.6" cy="220.5" rx="2.0" ry="1.8" fill="#3c4894" fill-opacity="1.0"/>
<ellipse cx="515.5" cy="220.7" rx="2.8" ry="2.5" fill="#46509e" fill-opacity="1.0"/>
<ellipse cx="523.1" cy="222.5" rx="2.8" ry="2.4" fill="#3c4894" fill-opacity="1.0"/>
<ellipse cx="540.9" cy="223.0" rx="2.1" ry="1.8" fill="#525ca8" fill-opacity="1.0"/>
<ellipse cx="546.5" cy="223.3" rx="2.7" ry="2.3" fill="#525ca8" fill-opacity="1.0"/>
<ellipse cx="560.2" cy="215.5" rx="2.2" ry="2.0" fill="#46509e" fill-opacity="1.0"/>
<ellipse cx="568.3" cy="217.6" rx="1.9" ry="1.6" fill="#3c4894" fill-opacity="1.0"/>
<ellipse cx="581.5" cy="215.6" rx="1.8" ry="1.6" fill="#525ca8" fill-opacity="1.0"/>
<ellipse cx="583.8" cy="217.7" rx="1.9" ry="1.7" fill="#46509e" fill-opacity="1.0"/>
<ellipse cx="595.2" cy="219.8" rx="1.9" ry="1.7" fill="#3c4894" fill-opacity="1.0"/>
<ellipse cx="609.9" cy="223.0" rx="2.5" ry="2.2" fill="#5e68b0" fill-opacity="1.0"/>
<ellipse cx="616.8" cy="217.7" rx="2.1" ry="1.8" fill="#525ca8" fill-opacity="1.0"/>
<ellipse cx="626.1" cy="220.6" rx="2.7" ry="2.4" fill="#525ca8" fill-opacity="1.0"/>
<ellipse cx="475.2" cy="230.9" rx="2.4" ry="2.1" fill="#46509e" fill-opacity="1.0"/>
<ellipse cx="490.4" cy="230.4" rx="2.4" ry="2.1" fill="#5e68b0" fill-opacity="1.0"/>
<ellipse cx="500.6" cy="226.0" rx="2.1" ry="1.8" fill="#46509e" fill-opacity="1.0"/>
<ellipse cx="504.7" cy="234.3" rx="1.9" ry="1.7" fill="#525ca8" fill-opacity="1.0"/>
<ellipse cx="520.3" cy="233.1" rx="1.8" ry="1.6" fill="#46509e" fill-opacity="1.0"/>
<ellipse cx="530.9" cy="230.1" rx="2.4" ry="2.1" fill="#46509e" fill-opacity="1.0"/>
<ellipse cx="541.7" cy="225.7" rx="2.4" ry="2.1" fill="#5e68b0" fill-opacity="1.0"/>
<ellipse cx="548.9" cy="233.5" rx="2.7" ry="2.3" fill="#5e68b0" fill-opacity="1.0"/>
<ellipse cx="553.2" cy="230.2" rx="1.9" ry="1.6" fill="#3c4894" fill-opacity="1.0"/>
<ellipse cx="563.9" cy="225.7" rx="2.2" ry="1.9" fill="#3c4894" fill-opacity="1.0"/>
<ellipse cx="576.1" cy="226.6" rx="2.7" ry="2.4" fill="#46509e" fill-opacity="1.0"/>
<ellipse cx="591.2" cy="228.1" rx="2.3" ry="2.0" fill="#525ca8" fill-opacity="1.0"/>
<ellipse cx="598.1" cy="227.3" rx="2.8" ry="2.5" fill="#5e68b0" fill-opacity="1.0"/>
<ellipse cx="612.3" cy="230.7" rx="1.9" ry="1.7" fill="#5e68b0" fill-opacity="1.0"/>
<ellipse cx="618.5" cy="230.5" rx="2.8" ry="2.4" fill="#46509e" fill-opacity="1.0"/>
<ellipse cx="632.1" cy="233.0" rx="2.1" ry="1.9" fill="#525ca8" fill-opacity="1.0"/>
<ellipse cx="473.8" cy="239.1" rx="2.1" ry="1.9" fill="#5e68b0" fill-opacity="1.0"/>
<ellipse cx="485.3" cy="240.7" rx="1.8" ry="1.6" fill="#3c4894" fill-opacity="1.0"/>
<ellipse cx="496.1" cy="238.4" rx="2.1" ry="1.8" fill="#46509e" fill-opacity="1.0"/>
<ellipse cx="507.2" cy="236.9" rx="2.8" ry="2.5" fill="#3c4894" fill-opacity="1.0"/>
<ellipse cx="519.7" cy="240.7" rx="2.3" ry="2.0" fill="#3c4894" fill-opacity="1.0"/>
<ellipse cx="527.0" cy="243.8" rx="2.9" ry="2.5" fill="#5e68b0" fill-opacity="1.0"/>
<ellipse cx="540.2" cy="243.9" rx="2.8" ry="2.5" fill="#46509e" fill-opacity="1.0"/>
<ellipse cx="544.1" cy="240.3" rx="2.4" ry="2.1" fill="#3c4894" fill-opacity="1.0"/>
<ellipse cx="560.1" cy="241.9" rx="2.6" ry="2.3" fill="#3c4894" fill-opacity="1.0"/>
<ellipse cx="572.2" cy="242.8" rx="2.2" ry="1.9" fill="#3c4894" fill-opacity="1.0"/>
<ellipse cx="577.5" cy="244.4" rx="2.4" ry="2.1" fill="#525ca8" fill-opacity="1.0"/>
<ellipse cx="583.6" cy="237.8" rx="2.0" ry="1.8" fill="#525ca8" fill-opacity="1.0"/>
<ellipse cx="601.8" cy="237.2" rx="2.2" ry="2.0" fill="#46509e" fill-opacity="1.0"/>
<ellipse cx="611.0" cy="244.4" rx="2.6" ry="2.3" fill="#46509e" fill-opacity="1.0"/>
<ellipse cx="615.6" cy="236.1" rx="2.4" ry="2.1" fill="#46509e" fill-opacity="1.0"/>
<ellipse cx="631.7" cy="242.7" rx="2.0" ry="1.8" fill="#525ca8" fill-opacity="1.0"/>
<ellipse cx="476.7" cy="249.6" rx="2.5" ry="2.2" fill="#5e68b0" fill-opacity="1.0"/>
<ellipse cx="488.6" cy="248.2" rx="2.8" ry="2.5" fill="#5e68b0" fill-opacity="1.0"/>
<ellipse cx="500.1" cy="253.8" rx="2.3" ry="2.0" fill="#3c4894" fill-opacity="1.0"/>
<ellipse cx="507.3" cy="254.2" rx="2.7" ry="2.4" fill="#46509e" fill-opacity="1.0"/>
<ellipse cx="519.9" cy="254.7" rx="2.1" ry="1.8" fill="#525ca8" fill-opacity="1.0"/>
<ellipse cx="522.7" cy="250.5" rx="2.2" ry="1.9" fill="#5e68b0" fill-opacity="1.0"/>
<ellipse cx="533.5" cy="251.2" rx="2.4" ry="2.1" fill="#5e68b0" fill-opacity="1.0"/>
<ellipse cx="543.2" cy="253.4" rx="2.3" ry="2.0" fill="#525ca8" fill-opacity="1.0"/>
<ellipse cx="561.8" cy="252.0" rx="2.5" ry="2.2" fill="#46509e" fill-opacity="1.0"/>
<ellipse cx="570.6" cy="250.3" rx="2.9" ry="2.6" fill="#3c4894" fill-opacity="1.0"/>
<ellipse cx="582.1" cy="250.6" rx="2.4" ry="2.1" fill="#3c4894" fill-opacity="1.0"/>
<ellipse cx="588.2" cy="250.6" rx="2.7" ry="2.4" fill="#5e68b0" fill-opacity="1.0"/>
<ellipse cx="599.0" cy="250.9" rx="2.3" ry="2.0" fill="#525ca8" fill-opacity="1.0"/>
<ellipse cx="608.2" cy="251.0" rx="2.4" ry="2.1" fill="#525ca8" fill-opacity="1.0"/>
<ellipse cx="616.1" cy="245.7" rx="2.3" ry="2.0" fill="#46509e" fill-opacity="1.0"/>
<ellipse cx="627.2" cy="249.3" rx="2.9" ry="2.5" fill="#46509e" fill-opacity="1.0"/>
<ellipse cx="480.2" cy="264.2" rx="2.8" ry="2.4" fill="#5e68b0" fill-opacity="1.0"/>
<ellipse cx="484.6" cy="258.2" rx="2.7" ry="2.4" fill="#5e68b0" fill-opacity="1.0"/>
<ellipse cx="499.3" cy="259.3" rx="2.7" ry="2.4" fill="#5e68b0" fill-opacity="1.0"/>
<ellipse cx="505.6" cy="259.5" rx="1.8" ry="1.6" fill="#525ca8" fill-opacity="1.0"/>
<ellipse cx="519.9" cy="259.1" rx="1.9" ry="1.7" fill="#3c4894" fill-opacity="1.0"/>
<ellipse cx="531.3" cy="259.5" rx="2.9" ry="2.5" fill="#3c4894" fill-opacity="1.0"/>
<ellipse cx="539.5" cy="262.1" rx="2.3" ry="2.0" fill="#5e68b0" fill-opacity="1.0"/>
<ellipse cx="544.8" cy="263.3" rx="2.9" ry="2.5" fill="#5e68b0" fill-opacity="1.0"/>
<ellipse cx="559.5" cy="256.6" rx="1.9" ry="1.7" fill="#525ca8" fill-opacity="1.0"/>
<ellipse cx="565.2" cy="256.0" rx="2.1" ry="1.8" fill="#5e68b0" fill-opacity="1.0"/>
<ellipse cx="580.3" cy="256.7" rx="2.5" ry="2.2" fill="#525ca8" fill-opacity="1.0"/>
<ellipse cx="591.0" cy="256.6" rx="2.5" ry="2.2" fill="#46509e" fill-opacity="1.0"/>
<ellipse cx="598.5" cy="260.6" rx="2.2" ry="1.9" fill="#46509e" fill-opacity="1.0"/>
<ellipse cx="610.3" cy="261.9" rx="2.7" ry="2.4" fill="#46509e" fill-opacity="1.0"/>
<ellipse cx="622.8" cy="262.0" rx="2.0" ry="1.7" fill="#46509e" fill-opacity="1.0"/>
<ellipse cx="631.0" cy="261.9" rx="1.9" ry="1.6" fill="#5e68b0" fill-opacity="1.0"/>
<ellipse cx="473.1" cy="270.0" rx="2.6" ry="2.3" fill="#5e68b0" fill-opacity="1.0"/>
<ellipse cx="490.4" cy="266.9" rx="2.8" ry="2.4" fill="#46509e" fill-opacity="1.0"/>
<ellipse cx="493.6" cy="271.5" rx="2.6" ry="2.3" fill="#525ca8" fill-opacity="1.0"/>
<ellipse cx="507.1" cy="269.7" rx="2.8" ry="2.5" fill="#3c4894" fill-opacity="1.0"/>
<ellipse cx="520.4" cy="271.7" rx="2.7" ry="2.4" fill="#525ca8" fill-opacity="1.0"/>
<ellipse cx="529.8" cy="271.6" rx="2.8" ry="2.4" fill="#46509e" fill-opacity="1.0"/>
<ellipse cx="532.8" cy="274.9" rx="2.5" ry="2.2" fill="#3c4894" fill-opacity="1.0"/>
<ellipse cx="543.4" cy="271.6" rx="2.1" ry="1.9" fill="#46509e" fill-opacity="1.0"/>
<ellipse cx="555.1" cy="268.4" rx="2.6" ry="2.3" fill="#5e68b0" fill-opacity="1.0"/>
<ellipse cx="564.5" cy="268.2" rx="2.2" ry="2.0" fill="#46509e" fill-opacity="1.0"/>
<ellipse cx="578.1" cy="271.4" rx="1.9" ry="1.7" fill="#5e68b0" fill-opacity="1.0"/>
<ellipse cx="585.8" cy="270.3" rx="2.1" ry="1.9" fill="#5e68b0" fill-opacity="1.0"/>
<ellipse cx="595.5" cy="269.2" rx="2.3" ry="2.0" fill="#3c4894" fill-opacity="1.0"/>
<ellipse cx="605.2" cy="272.8" rx="2.6" ry="2.3" fill="#5e68b0" fill-opacity="1.0"/>
<ellipse cx="618.6" cy="266.4" rx="2.1" ry="1.9" fill="#525ca8" fill-opacity="1.0"/>
<ellipse cx="629.8" cy="273.3" rx="2.8" ry="2.5" fill="#3c4894" fill-opacity="1.0"/>
<ellipse cx="611.5" cy="218.0" rx="13.7" ry="16" fill="#f3f2f5"/>
<ellipse cx="508.5" cy="251.2" rx="6" ry="9" fill="#f3f2f5"/>
</g>
<clipPath id="clip2"><rect x="640.5" y="113.5" width="162" height="162"/></clipPath>
<g clip-path="url(#clip2)">
<rect x="640.5" y="113.5" width="162.0" height="162.0" fill="#d5c3dd" />
<filter id="tf2" x="0" y="0" width="100%" height="100%" color-interpolation-filters="sRGB"><feTurbulence type="fractalNoise" baseFrequency="0.08" numOctaves="3" seed="2" result="n"/><feColorMatrix in="n" type="matrix" values="0 0 0 0 0.686  0 0 0 0 0.588  0 0 0 0 0.784  1.3 0 0 0 -0.5"/></filter>
<rect x="640.5" y="113.5" width="162" height="162" filter="url(#tf2)"/>
<filter id="tg2" x="0" y="0" width="100%" height="100%" color-interpolation-filters="sRGB"><feTurbulence type="fractalNoise" baseFrequency="0.2" numOctaves="3" seed="52" result="n"/><feColorMatrix in="n" type="matrix" values="0 0 0 0 0.961  0 0 0 0 0.910  0 0 0 0 0.957  1.5 0 0 0 -0.65"/></filter>
<rect x="640.5" y="113.5" width="162" height="162" filter="url(#tg2)"/>
<filter id="tm2" x="0" y="0" width="100%" height="100%" color-interpolation-filters="sRGB"><feTurbulence type="fractalNoise" baseFrequency="0.085" numOctaves="2" seed="92" result="n"/><feComponentTransfer in="n" result="t"><feFuncR type="table" tableValues="0 1 0 0 1 0 0 1 0 0 1 0 0 1 0"/></feComponentTransfer><feColorMatrix in="t" type="matrix" values="0 0 0 0 0.961  0 0 0 0 0.922  0 0 0 0 0.965  0.5 0 0 0 0"/></filter>
<rect x="640.5" y="113.5" width="162" height="162" filter="url(#tm2)"/>
<ellipse cx="652.8" cy="126.8" rx="1.9" ry="1.7" fill="#5460b0" fill-opacity="1.0"/>
<ellipse cx="659.1" cy="116.5" rx="2.9" ry="2.5" fill="#4a56a8" fill-opacity="1.0"/>
<ellipse cx="671.2" cy="117.0" rx="1.9" ry="1.7" fill="#6470b8" fill-opacity="1.0"/>
<ellipse cx="693.8" cy="122.7" rx="2.9" ry="2.5" fill="#4a56a8" fill-opacity="1.0"/>
<ellipse cx="701.8" cy="120.1" rx="2.2" ry="1.9" fill="#5460b0" fill-opacity="1.0"/>
<ellipse cx="719.3" cy="119.1" rx="3.0" ry="2.7" fill="#7480c0" fill-opacity="1.0"/>
<ellipse cx="727.3" cy="126.0" rx="2.1" ry="1.8" fill="#6470b8" fill-opacity="1.0"/>
<ellipse cx="738.5" cy="114.6" rx="2.3" ry="2.0" fill="#6470b8" fill-opacity="1.0"/>
<ellipse cx="755.4" cy="119.0" rx="2.5" ry="2.2" fill="#6470b8" fill-opacity="1.0"/>
<ellipse cx="774.8" cy="120.1" rx="2.4" ry="2.1" fill="#4a56a8" fill-opacity="1.0"/>
<ellipse cx="785.8" cy="118.9" rx="3.1" ry="2.7" fill="#7480c0" fill-opacity="1.0"/>
<ellipse cx="791.6" cy="124.2" rx="2.8" ry="2.4" fill="#7480c0" fill-opacity="1.0"/>
<ellipse cx="649.1" cy="132.3" rx="2.2" ry="2.0" fill="#7480c0" fill-opacity="1.0"/>
<ellipse cx="660.8" cy="140.0" rx="2.3" ry="2.0" fill="#7480c0" fill-opacity="1.0"/>
<ellipse cx="679.1" cy="135.1" rx="2.6" ry="2.3" fill="#7480c0" fill-opacity="1.0"/>
<ellipse cx="687.6" cy="131.9" rx="2.3" ry="2.0" fill="#6470b8" fill-opacity="1.0"/>
<ellipse cx="705.8" cy="137.1" rx="2.8" ry="2.5" fill="#7480c0" fill-opacity="1.0"/>
<ellipse cx="712.4" cy="141.7" rx="2.8" ry="2.4" fill="#7480c0" fill-opacity="1.0"/>
<ellipse cx="726.0" cy="131.7" rx="2.5" ry="2.2" fill="#5460b0" fill-opacity="1.0"/>
<ellipse cx="745.2" cy="133.5" rx="1.9" ry="1.7" fill="#6470b8" fill-opacity="1.0"/>
<ellipse cx="761.3" cy="130.4" rx="2.6" ry="2.3" fill="#5460b0" fill-opacity="1.0"/>
<ellipse cx="766.0" cy="132.0" rx="3.0" ry="2.6" fill="#5460b0" fill-opacity="1.0"/>
<ellipse cx="785.3" cy="130.8" rx="2.2" ry="1.9" fill="#6470b8" fill-opacity="1.0"/>
<ellipse cx="801.1" cy="129.8" rx="3.0" ry="2.6" fill="#5460b0" fill-opacity="1.0"/>
<ellipse cx="641.9" cy="148.5" rx="2.2" ry="1.9" fill="#5460b0" fill-opacity="1.0"/>
<ellipse cx="655.7" cy="156.3" rx="1.9" ry="1.7" fill="#5460b0" fill-opacity="1.0"/>
<ellipse cx="672.7" cy="145.4" rx="3.0" ry="2.7" fill="#6470b8" fill-opacity="1.0"/>
<ellipse cx="688.0" cy="143.7" rx="2.6" ry="2.3" fill="#6470b8" fill-opacity="1.0"/>
<ellipse cx="697.0" cy="144.2" rx="2.3" ry="2.0" fill="#5460b0" fill-opacity="1.0"/>
<ellipse cx="712.2" cy="150.2" rx="2.3" ry="2.0" fill="#5460b0" fill-opacity="1.0"/>
<ellipse cx="733.1" cy="153.7" rx="3.0" ry="2.6" fill="#6470b8" fill-opacity="1.0"/>
<ellipse cx="741.4" cy="146.7" rx="2.7" ry="2.4" fill="#4a56a8" fill-opacity="1.0"/>
<ellipse cx="759.4" cy="144.0" rx="2.9" ry="2.5" fill="#6470b8" fill-opacity="1.0"/>
<ellipse cx="769.0" cy="154.0" rx="2.5" ry="2.2" fill="#4a56a8" fill-opacity="1.0"/>
<ellipse cx="777.9" cy="156.4" rx="2.2" ry="1.9" fill="#7480c0" fill-opacity="1.0"/>
<ellipse cx="797.6" cy="153.0" rx="3.1" ry="2.7" fill="#5460b0" fill-opacity="1.0"/>
<ellipse cx="644.2" cy="160.2" rx="2.1" ry="1.8" fill="#7480c0" fill-opacity="1.0"/>
<ellipse cx="662.4" cy="165.2" rx="3.1" ry="2.7" fill="#5460b0" fill-opacity="1.0"/>
<ellipse cx="680.3" cy="161.5" rx="2.4" ry="2.1" fill="#4a56a8" fill-opacity="1.0"/>
<ellipse cx="682.7" cy="161.4" rx="2.9" ry="2.5" fill="#4a56a8" fill-opacity="1.0"/>
<ellipse cx="698.3" cy="164.0" rx="2.5" ry="2.2" fill="#5460b0" fill-opacity="1.0"/>
<ellipse cx="710.5" cy="163.5" rx="2.1" ry="1.8" fill="#5460b0" fill-opacity="1.0"/>
<ellipse cx="725.1" cy="159.7" rx="2.1" ry="1.8" fill="#6470b8" fill-opacity="1.0"/>
<ellipse cx="737.0" cy="158.7" rx="2.7" ry="2.4" fill="#7480c0" fill-opacity="1.0"/>
<ellipse cx="752.9" cy="166.9" rx="2.1" ry="1.9" fill="#6470b8" fill-opacity="1.0"/>
<ellipse cx="771.5" cy="164.2" rx="2.5" ry="2.2" fill="#5460b0" fill-opacity="1.0"/>
<ellipse cx="786.9" cy="170.7" rx="2.6" ry="2.3" fill="#5460b0" fill-opacity="1.0"/>
<ellipse cx="797.7" cy="164.8" rx="1.9" ry="1.7" fill="#5460b0" fill-opacity="1.0"/>
<ellipse cx="648.6" cy="177.0" rx="3.1" ry="2.7" fill="#4a56a8" fill-opacity="1.0"/>
<ellipse cx="658.4" cy="184.7" rx="2.4" ry="2.1" fill="#5460b0" fill-opacity="1.0"/>
<ellipse cx="671.9" cy="184.3" rx="2.7" ry="2.4" fill="#5460b0" fill-opacity="1.0"/>
<ellipse cx="691.5" cy="173.9" rx="2.7" ry="2.4" fill="#7480c0" fill-opacity="1.0"/>
<ellipse cx="697.7" cy="180.9" rx="2.0" ry="1.7" fill="#4a56a8" fill-opacity="1.0"/>
<ellipse cx="709.0" cy="177.2" rx="2.8" ry="2.4" fill="#6470b8" fill-opacity="1.0"/>
<ellipse cx="731.3" cy="175.7" rx="2.6" ry="2.3" fill="#7480c0" fill-opacity="1.0"/>
<ellipse cx="744.4" cy="175.0" rx="2.3" ry="2.0" fill="#5460b0" fill-opacity="1.0"/>
<ellipse cx="752.3" cy="174.8" rx="2.6" ry="2.3" fill="#4a56a8" fill-opacity="1.0"/>
<ellipse cx="770.5" cy="185.9" rx="2.7" ry="2.4" fill="#5460b0" fill-opacity="1.0"/>
<ellipse cx="783.7" cy="179.4" rx="1.9" ry="1.7" fill="#7480c0" fill-opacity="1.0"/>
<ellipse cx="793.2" cy="185.9" rx="2.1" ry="1.8" fill="#4a56a8" fill-opacity="1.0"/>
<ellipse cx="644.4" cy="194.8" rx="2.5" ry="2.2" fill="#7480c0" fill-opacity="1.0"/>
<ellipse cx="666.0" cy="199.0" rx="2.2" ry="2.0" fill="#6470b8" fill-opacity="1.0"/>
<ellipse cx="670.1" cy="195.8" rx="2.6" ry="2.3" fill="#5460b0" fill-opacity="1.0"/>
<ellipse cx="688.8" cy="198.7" rx="2.0" ry="1.8" fill="#4a56a8" fill-opacity="1.0"/>
<ellipse cx="697.3" cy="195.1" rx="2.9" ry="2.5" fill="#5460b0" fill-opacity="1.0"/>
<ellipse cx="718.4" cy="200.0" rx="2.7" ry="2.4" fill="#5460b0" fill-opacity="1.0"/>
<ellipse cx="723.7" cy="191.8" rx="2.2" ry="1.9" fill="#4a56a8" fill-opacity="1.0"/>
<ellipse cx="741.0" cy="194.8" rx="2.0" ry="1.8" fill="#7480c0" fill-opacity="1.0"/>
<ellipse cx="750.3" cy="194.7" rx="2.8" ry="2.4" fill="#4a56a8" fill-opacity="1.0"/>
<ellipse cx="764.7" cy="190.0" rx="3.1" ry="2.7" fill="#6470b8" fill-opacity="1.0"/>
<ellipse cx="781.1" cy="201.1" rx="2.9" ry="2.5" fill="#6470b8" fill-opacity="1.0"/>
<ellipse cx="795.3" cy="197.4" rx="2.9" ry="2.5" fill="#7480c0" fill-opacity="1.0"/>
<ellipse cx="651.9" cy="205.0" rx="2.5" ry="2.2" fill="#7480c0" fill-opacity="1.0"/>
<ellipse cx="658.0" cy="206.0" rx="2.8" ry="2.5" fill="#7480c0" fill-opacity="1.0"/>
<ellipse cx="676.7" cy="208.9" rx="3.1" ry="2.7" fill="#4a56a8" fill-opacity="1.0"/>
<ellipse cx="690.3" cy="214.7" rx="2.0" ry="1.7" fill="#6470b8" fill-opacity="1.0"/>
<ellipse cx="701.6" cy="205.1" rx="2.9" ry="2.5" fill="#7480c0" fill-opacity="1.0"/>
<ellipse cx="720.5" cy="211.0" rx="1.9" ry="1.7" fill="#7480c0" fill-opacity="1.0"/>
<ellipse cx="728.5" cy="214.6" rx="2.5" ry="2.2" fill="#6470b8" fill-opacity="1.0"/>
<ellipse cx="745.6" cy="202.8" rx="3.1" ry="2.7" fill="#7480c0" fill-opacity="1.0"/>
<ellipse cx="760.2" cy="214.3" rx="2.0" ry="1.8" fill="#6470b8" fill-opacity="1.0"/>
<ellipse cx="766.0" cy="214.8" rx="2.6" ry="2.3" fill="#7480c0" fill-opacity="1.0"/>
<ellipse cx="785.9" cy="204.4" rx="2.6" ry="2.3" fill="#7480c0" fill-opacity="1.0"/>
<ellipse cx="795.5" cy="209.4" rx="2.1" ry="1.8" fill="#6470b8" fill-opacity="1.0"/>
<ellipse cx="653.0" cy="227.4" rx="2.3" ry="2.0" fill="#7480c0" fill-opacity="1.0"/>
<ellipse cx="661.2" cy="226.2" rx="2.0" ry="1.7" fill="#7480c0" fill-opacity="1.0"/>
<ellipse cx="679.4" cy="229.6" rx="2.4" ry="2.2" fill="#7480c0" fill-opacity="1.0"/>
<ellipse cx="682.0" cy="218.4" rx="2.8" ry="2.5" fill="#6470b8" fill-opacity="1.0"/>
<ellipse cx="704.4" cy="229.8" rx="3.1" ry="2.7" fill="#4a56a8" fill-opacity="1.0"/>
<ellipse cx="716.9" cy="227.8" rx="3.0" ry="2.6" fill="#6470b8" fill-opacity="1.0"/>
<ellipse cx="722.8" cy="223.9" rx="3.1" ry="2.7" fill="#4a56a8" fill-opacity="1.0"/>
<ellipse cx="737.6" cy="221.1" rx="2.5" ry="2.2" fill="#5460b0" fill-opacity="1.0"/>
<ellipse cx="753.6" cy="224.5" rx="2.4" ry="2.1" fill="#7480c0" fill-opacity="1.0"/>
<ellipse cx="765.2" cy="226.3" rx="2.5" ry="2.2" fill="#6470b8" fill-opacity="1.0"/>
<ellipse cx="782.1" cy="224.5" rx="3.0" ry="2.7" fill="#5460b0" fill-opacity="1.0"/>
<ellipse cx="792.8" cy="221.5" rx="2.3" ry="2.0" fill="#4a56a8" fill-opacity="1.0"/>
<ellipse cx="649.1" cy="237.3" rx="2.9" ry="2.6" fill="#5460b0" fill-opacity="1.0"/>
<ellipse cx="660.9" cy="234.8" rx="2.6" ry="2.3" fill="#6470b8" fill-opacity="1.0"/>
<ellipse cx="677.9" cy="240.4" rx="2.3" ry="2.0" fill="#6470b8" fill-opacity="1.0"/>
<ellipse cx="693.2" cy="239.5" rx="2.5" ry="2.2" fill="#5460b0" fill-opacity="1.0"/>
<ellipse cx="706.8" cy="233.5" rx="2.9" ry="2.6" fill="#7480c0" fill-opacity="1.0"/>
<ellipse cx="719.1" cy="234.9" rx="2.3" ry="2.0" fill="#4a56a8" fill-opacity="1.0"/>
<ellipse cx="727.7" cy="234.3" rx="2.4" ry="2.1" fill="#4a56a8" fill-opacity="1.0"/>
<ellipse cx="741.3" cy="233.8" rx="2.8" ry="2.4" fill="#6470b8" fill-opacity="1.0"/>
<ellipse cx="760.5" cy="236.4" rx="2.0" ry="1.8" fill="#6470b8" fill-opacity="1.0"/>
<ellipse cx="768.4" cy="242.0" rx="2.9" ry="2.6" fill="#6470b8" fill-opacity="1.0"/>
<ellipse cx="780.5" cy="242.6" rx="2.2" ry="1.9" fill="#7480c0" fill-opacity="1.0"/>
<ellipse cx="794.5" cy="243.0" rx="2.3" ry="2.0" fill="#4a56a8" fill-opacity="1.0"/>
<ellipse cx="650.2" cy="256.7" rx="3.0" ry="2.6" fill="#4a56a8" fill-opacity="1.0"/>
<ellipse cx="661.1" cy="255.2" rx="2.0" ry="1.7" fill="#4a56a8" fill-opacity="1.0"/>
<ellipse cx="673.0" cy="249.1" rx="3.1" ry="2.7" fill="#4a56a8" fill-opacity="1.0"/>
<ellipse cx="687.0" cy="247.9" rx="3.0" ry="2.7" fill="#4a56a8" fill-opacity="1.0"/>
<ellipse cx="706.8" cy="248.5" rx="1.9" ry="1.7" fill="#4a56a8" fill-opacity="1.0"/>
<ellipse cx="710.7" cy="247.8" rx="3.0" ry="2.6" fill="#7480c0" fill-opacity="1.0"/>
<ellipse cx="722.3" cy="251.0" rx="2.9" ry="2.6" fill="#7480c0" fill-opacity="1.0"/>
<ellipse cx="742.2" cy="253.0" rx="3.0" ry="2.6" fill="#4a56a8" fill-opacity="1.0"/>
<ellipse cx="753.0" cy="259.1" rx="2.0" ry="1.8" fill="#6470b8" fill-opacity="1.0"/>
<ellipse cx="772.2" cy="251.2" rx="2.1" ry="1.8" fill="#4a56a8" fill-opacity="1.0"/>
<ellipse cx="779.2" cy="251.3" rx="2.2" ry="1.9" fill="#6470b8" fill-opacity="1.0"/>
<ellipse cx="798.5" cy="247.4" rx="3.1" ry="2.7" fill="#5460b0" fill-opacity="1.0"/>
<ellipse cx="651.7" cy="263.9" rx="2.0" ry="1.7" fill="#7480c0" fill-opacity="1.0"/>
<ellipse cx="664.1" cy="263.3" rx="2.5" ry="2.2" fill="#5460b0" fill-opacity="1.0"/>
<ellipse cx="672.3" cy="271.7" rx="2.6" ry="2.3" fill="#7480c0" fill-opacity="1.0"/>
<ellipse cx="684.4" cy="262.2" rx="2.8" ry="2.5" fill="#7480c0" fill-opacity="1.0"/>
<ellipse cx="702.7" cy="265.7" rx="2.9" ry="2.6" fill="#5460b0" fill-opacity="1.0"/>
<ellipse cx="715.8" cy="268.6" rx="3.1" ry="2.7" fill="#7480c0" fill-opacity="1.0"/>
<ellipse cx="732.4" cy="267.5" rx="2.4" ry="2.1" fill="#7480c0" fill-opacity="1.0"/>
<ellipse cx="736.2" cy="262.9" rx="3.1" ry="2.7" fill="#6470b8" fill-opacity="1.0"/>
<ellipse cx="750.6" cy="273.7" rx="2.5" ry="2.2" fill="#6470b8" fill-opacity="1.0"/>
<ellipse cx="763.6" cy="265.6" rx="2.9" ry="2.5" fill="#5460b0" fill-opacity="1.0"/>
<ellipse cx="779.2" cy="270.4" rx="2.2" ry="1.9" fill="#5460b0" fill-opacity="1.0"/>
<ellipse cx="791.5" cy="270.4" rx="2.0" ry="1.8" fill="#7480c0" fill-opacity="1.0"/>
<ellipse cx="735.0" cy="208.9" rx="20.6" ry="18.3" fill="#f3f2f5"/>
</g>
<clipPath id="clip3"><rect x="471.5" y="287" width="162" height="162"/></clipPath>
<g clip-path="url(#clip3)">
<rect x="471.5" y="287.0" width="162.0" height="162.0" fill="#d3dae5" />
<filter id="tf3" x="0" y="0" width="100%" height="100%" color-interpolation-filters="sRGB"><feTurbulence type="fractalNoise" baseFrequency="0.07" numOctaves="3" seed="3" result="n"/><feColorMatrix in="n" type="matrix" values="0 0 0 0 0.933  0 0 0 0 0.949  0 0 0 0 0.969  1.5 0 0 0 -0.5"/></filter>
<rect x="471.5" y="287" width="162" height="162" filter="url(#tf3)"/>
<filter id="tg3" x="0" y="0" width="100%" height="100%" color-interpolation-filters="sRGB"><feTurbulence type="fractalNoise" baseFrequency="0.14" numOctaves="3" seed="53" result="n"/><feColorMatrix in="n" type="matrix" values="0 0 0 0 0.706  0 0 0 0 0.753  0 0 0 0 0.824  1.3 0 0 0 -0.6"/></filter>
<rect x="471.5" y="287" width="162" height="162" filter="url(#tg3)"/>
<filter id="tm3" x="0" y="0" width="100%" height="100%" color-interpolation-filters="sRGB"><feTurbulence type="fractalNoise" baseFrequency="0.08" numOctaves="2" seed="93" result="n"/><feComponentTransfer in="n" result="t"><feFuncR type="table" tableValues="0 1 0 0 1 0 0 1 0 0 1 0 0 1 0"/></feComponentTransfer><feColorMatrix in="t" type="matrix" values="0 0 0 0 0.941  0 0 0 0 0.957  0 0 0 0 0.976  0.6 0 0 0 0"/></filter>
<rect x="471.5" y="287" width="162" height="162" filter="url(#tm3)"/>
<ellipse cx="475.1" cy="294.3" rx="2.2" ry="2.0" fill="#86705e" fill-opacity="1.0"/>
<ellipse cx="491.4" cy="294.7" rx="2.5" ry="2.2" fill="#a09ca8" fill-opacity="1.0"/>
<ellipse cx="502.3" cy="290.5" rx="3.0" ry="2.6" fill="#a09ca8" fill-opacity="1.0"/>
<ellipse cx="519.2" cy="294.4" rx="2.3" ry="2.0" fill="#7e6452" fill-opacity="1.0"/>
<ellipse cx="529.0" cy="289.5" rx="2.9" ry="2.6" fill="#a09ca8" fill-opacity="1.0"/>
<ellipse cx="548.7" cy="295.8" rx="1.9" ry="1.7" fill="#86705e" fill-opacity="1.0"/>
<ellipse cx="553.7" cy="297.2" rx="2.8" ry="2.5" fill="#9a8474" fill-opacity="1.0"/>
<ellipse cx="572.4" cy="296.4" rx="2.9" ry="2.5" fill="#b0aab4" fill-opacity="1.0"/>
<ellipse cx="589.8" cy="292.9" rx="2.7" ry="2.4" fill="#86705e" fill-opacity="1.0"/>
<ellipse cx="599.1" cy="299.0" rx="2.9" ry="2.5" fill="#8c7464" fill-opacity="1.0"/>
<ellipse cx="607.6" cy="293.7" rx="2.1" ry="1.9" fill="#b0aab4" fill-opacity="1.0"/>
<ellipse cx="626.0" cy="295.3" rx="2.2" ry="1.9" fill="#86705e" fill-opacity="1.0"/>
<ellipse cx="482.3" cy="308.1" rx="2.4" ry="2.1" fill="#a09ca8" fill-opacity="1.0"/>
<ellipse cx="492.8" cy="312.2" rx="2.6" ry="2.3" fill="#8c7464" fill-opacity="1.0"/>
<ellipse cx="509.6" cy="313.2" rx="2.6" ry="2.3" fill="#7e6452" fill-opacity="1.0"/>
<ellipse cx="521.2" cy="305.1" rx="2.5" ry="2.2" fill="#86705e" fill-opacity="1.0"/>
<ellipse cx="533.1" cy="309.8" rx="2.1" ry="1.8" fill="#86705e" fill-opacity="1.0"/>
<ellipse cx="542.9" cy="302.7" rx="2.4" ry="2.1" fill="#b0aab4" fill-opacity="1.0"/>
<ellipse cx="565.2" cy="302.3" rx="2.8" ry="2.4" fill="#a09ca8" fill-opacity="1.0"/>
<ellipse cx="577.6" cy="301.4" rx="2.3" ry="2.0" fill="#a09ca8" fill-opacity="1.0"/>
<ellipse cx="590.8" cy="301.7" rx="2.5" ry="2.2" fill="#8c7464" fill-opacity="1.0"/>
<ellipse cx="598.3" cy="308.3" rx="2.5" ry="2.2" fill="#9a8474" fill-opacity="1.0"/>
<ellipse cx="613.3" cy="313.3" rx="2.2" ry="1.9" fill="#8c7464" fill-opacity="1.0"/>
<ellipse cx="622.0" cy="307.7" rx="2.9" ry="2.6" fill="#a09ca8" fill-opacity="1.0"/>
<ellipse cx="475.7" cy="317.9" rx="2.6" ry="2.3" fill="#9a8474" fill-opacity="1.0"/>
<ellipse cx="489.5" cy="326.3" rx="2.9" ry="2.5" fill="#a09ca8" fill-opacity="1.0"/>
<ellipse cx="503.8" cy="325.2" rx="2.3" ry="2.0" fill="#86705e" fill-opacity="1.0"/>
<ellipse cx="520.9" cy="315.9" rx="3.0" ry="2.6" fill="#86705e" fill-opacity="1.0"/>
<ellipse cx="529.5" cy="322.4" rx="2.7" ry="2.3" fill="#9a8474" fill-opacity="1.0"/>
<ellipse cx="545.0" cy="317.8" rx="2.2" ry="1.9" fill="#9a8474" fill-opacity="1.0"/>
<ellipse cx="553.3" cy="319.7" rx="2.5" ry="2.2" fill="#8c7464" fill-opacity="1.0"/>
<ellipse cx="571.2" cy="321.8" rx="2.0" ry="1.7" fill="#b0aab4" fill-opacity="1.0"/>
<ellipse cx="587.8" cy="320.3" rx="2.6" ry="2.3" fill="#9a8474" fill-opacity="1.0"/>
<ellipse cx="601.1" cy="318.1" rx="2.4" ry="2.1" fill="#86705e" fill-opacity="1.0"/>
<ellipse cx="607.9" cy="322.9" rx="3.0" ry="2.6" fill="#9a8474" fill-opacity="1.0"/>
<ellipse cx="628.3" cy="318.3" rx="2.5" ry="2.2" fill="#7e6452" fill-opacity="1.0"/>
<ellipse cx="476.6" cy="332.0" rx="2.2" ry="2.0" fill="#86705e" fill-opacity="1.0"/>
<ellipse cx="488.9" cy="337.7" rx="1.9" ry="1.7" fill="#8c7464" fill-opacity="1.0"/>
<ellipse cx="511.0" cy="336.5" rx="2.0" ry="1.7" fill="#86705e" fill-opacity="1.0"/>
<ellipse cx="515.4" cy="337.9" rx="2.1" ry="1.8" fill="#7e6452" fill-opacity="1.0"/>
<ellipse cx="534.4" cy="336.1" rx="1.9" ry="1.7" fill="#86705e" fill-opacity="1.0"/>
<ellipse cx="543.6" cy="332.2" rx="2.8" ry="2.5" fill="#a09ca8" fill-opacity="1.0"/>
<ellipse cx="563.0" cy="339.8" rx="1.9" ry="1.7" fill="#b0aab4" fill-opacity="1.0"/>
<ellipse cx="574.6" cy="338.9" rx="2.3" ry="2.1" fill="#7e6452" fill-opacity="1.0"/>
<ellipse cx="589.7" cy="328.6" rx="2.9" ry="2.6" fill="#9a8474" fill-opacity="1.0"/>
<ellipse cx="603.5" cy="338.4" rx="2.0" ry="1.8" fill="#9a8474" fill-opacity="1.0"/>
<ellipse cx="611.3" cy="338.2" rx="1.9" ry="1.7" fill="#86705e" fill-opacity="1.0"/>
<ellipse cx="624.9" cy="329.8" rx="2.2" ry="1.9" fill="#9a8474" fill-opacity="1.0"/>
<ellipse cx="477.8" cy="349.4" rx="2.1" ry="1.9" fill="#86705e" fill-opacity="1.0"/>
<ellipse cx="490.7" cy="352.9" rx="2.0" ry="1.7" fill="#8c7464" fill-opacity="1.0"/>
<ellipse cx="505.0" cy="351.8" rx="2.5" ry="2.2" fill="#86705e" fill-opacity="1.0"/>
<ellipse cx="518.0" cy="353.2" rx="2.9" ry="2.6" fill="#7e6452" fill-opacity="1.0"/>
<ellipse cx="526.6" cy="347.2" rx="2.7" ry="2.4" fill="#b0aab4" fill-opacity="1.0"/>
<ellipse cx="546.0" cy="345.2" rx="2.2" ry="1.9" fill="#7e6452" fill-opacity="1.0"/>
<ellipse cx="563.6" cy="352.1" rx="3.0" ry="2.6" fill="#8c7464" fill-opacity="1.0"/>
<ellipse cx="576.5" cy="342.2" rx="2.9" ry="2.5" fill="#b0aab4" fill-opacity="1.0"/>
<ellipse cx="586.4" cy="344.1" rx="2.9" ry="2.5" fill="#a09ca8" fill-opacity="1.0"/>
<ellipse cx="600.7" cy="341.8" rx="2.7" ry="2.4" fill="#7e6452" fill-opacity="1.0"/>
<ellipse cx="613.3" cy="344.6" rx="1.8" ry="1.6" fill="#86705e" fill-opacity="1.0"/>
<ellipse cx="625.7" cy="353.1" rx="2.5" ry="2.2" fill="#9a8474" fill-opacity="1.0"/>
<ellipse cx="473.7" cy="367.0" rx="2.4" ry="2.2" fill="#8c7464" fill-opacity="1.0"/>
<ellipse cx="489.9" cy="357.6" rx="2.4" ry="2.1" fill="#8c7464" fill-opacity="1.0"/>
<ellipse cx="501.3" cy="364.8" rx="2.9" ry="2.6" fill="#7e6452" fill-opacity="1.0"/>
<ellipse cx="522.7" cy="355.3" rx="2.6" ry="2.2" fill="#a09ca8" fill-opacity="1.0"/>
<ellipse cx="526.8" cy="358.5" rx="2.1" ry="1.9" fill="#86705e" fill-opacity="1.0"/>
<ellipse cx="546.0" cy="355.8" rx="2.2" ry="1.9" fill="#8c7464" fill-opacity="1.0"/>
<ellipse cx="563.6" cy="364.6" rx="1.9" ry="1.6" fill="#8c7464" fill-opacity="1.0"/>
<ellipse cx="567.5" cy="367.0" rx="2.8" ry="2.5" fill="#8c7464" fill-opacity="1.0"/>
<ellipse cx="586.4" cy="361.1" rx="2.0" ry="1.7" fill="#8c7464" fill-opacity="1.0"/>
<ellipse cx="597.9" cy="363.0" rx="2.5" ry="2.2" fill="#9a8474" fill-opacity="1.0"/>
<ellipse cx="610.4" cy="367.2" rx="2.3" ry="2.0" fill="#7e6452" fill-opacity="1.0"/>
<ellipse cx="627.4" cy="363.9" rx="2.3" ry="2.0" fill="#8c7464" fill-opacity="1.0"/>
<ellipse cx="479.1" cy="369.2" rx="2.4" ry="2.1" fill="#b0aab4" fill-opacity="1.0"/>
<ellipse cx="495.2" cy="373.3" rx="2.8" ry="2.4" fill="#86705e" fill-opacity="1.0"/>
<ellipse cx="509.9" cy="369.3" rx="2.6" ry="2.2" fill="#b0aab4" fill-opacity="1.0"/>
<ellipse cx="516.5" cy="380.2" rx="2.3" ry="2.0" fill="#8c7464" fill-opacity="1.0"/>
<ellipse cx="529.2" cy="375.2" rx="2.6" ry="2.3" fill="#8c7464" fill-opacity="1.0"/>
<ellipse cx="549.4" cy="371.4" rx="2.0" ry="1.7" fill="#8c7464" fill-opacity="1.0"/>
<ellipse cx="564.6" cy="373.2" rx="2.9" ry="2.5" fill="#9a8474" fill-opacity="1.0"/>
<ellipse cx="568.2" cy="377.1" rx="2.9" ry="2.6" fill="#b0aab4" fill-opacity="1.0"/>
<ellipse cx="588.2" cy="379.5" rx="2.8" ry="2.4" fill="#b0aab4" fill-opacity="1.0"/>
<ellipse cx="595.0" cy="372.5" rx="2.4" ry="2.1" fill="#86705e" fill-opacity="1.0"/>
<ellipse cx="615.9" cy="374.4" rx="2.1" ry="1.8" fill="#a09ca8" fill-opacity="1.0"/>
<ellipse cx="621.2" cy="369.8" rx="1.9" ry="1.7" fill="#a09ca8" fill-opacity="1.0"/>
<ellipse cx="474.4" cy="382.5" rx="2.8" ry="2.5" fill="#8c7464" fill-opacity="1.0"/>
<ellipse cx="486.0" cy="383.6" rx="2.4" ry="2.1" fill="#b0aab4" fill-opacity="1.0"/>
<ellipse cx="510.7" cy="389.2" rx="2.8" ry="2.4" fill="#8c7464" fill-opacity="1.0"/>
<ellipse cx="524.8" cy="389.0" rx="2.4" ry="2.1" fill="#7e6452" fill-opacity="1.0"/>
<ellipse cx="527.5" cy="391.3" rx="2.9" ry="2.6" fill="#8c7464" fill-opacity="1.0"/>
<ellipse cx="546.4" cy="392.7" rx="2.0" ry="1.8" fill="#8c7464" fill-opacity="1.0"/>
<ellipse cx="556.1" cy="384.4" rx="2.1" ry="1.8" fill="#86705e" fill-opacity="1.0"/>
<ellipse cx="575.2" cy="393.6" rx="2.1" ry="1.9" fill="#86705e" fill-opacity="1.0"/>
<ellipse cx="585.0" cy="386.4" rx="2.3" ry="2.0" fill="#8c7464" fill-opacity="1.0"/>
<ellipse cx="598.2" cy="385.0" rx="2.9" ry="2.6" fill="#b0aab4" fill-opacity="1.0"/>
<ellipse cx="618.9" cy="387.2" rx="2.5" ry="2.2" fill="#86705e" fill-opacity="1.0"/>
<ellipse cx="628.9" cy="388.5" rx="2.4" ry="2.1" fill="#b0aab4" fill-opacity="1.0"/>
<ellipse cx="477.0" cy="406.5" rx="2.0" ry="1.8" fill="#a09ca8" fill-opacity="1.0"/>
<ellipse cx="494.8" cy="406.8" rx="2.4" ry="2.1" fill="#a09ca8" fill-opacity="1.0"/>
<ellipse cx="506.3" cy="406.1" rx="2.0" ry="1.7" fill="#7e6452" fill-opacity="1.0"/>
<ellipse cx="514.5" cy="401.9" rx="2.9" ry="2.6" fill="#b0aab4" fill-opacity="1.0"/>
<ellipse cx="532.7" cy="405.1" rx="2.6" ry="2.3" fill="#a09ca8" fill-opacity="1.0"/>
<ellipse cx="546.9" cy="402.8" rx="3.0" ry="2.6" fill="#7e6452" fill-opacity="1.0"/>
<ellipse cx="556.9" cy="398.9" rx="2.8" ry="2.4" fill="#7e6452" fill-opacity="1.0"/>
<ellipse cx="568.8" cy="400.1" rx="2.2" ry="1.9" fill="#7e6452" fill-opacity="1.0"/>
<ellipse cx="585.3" cy="404.2" rx="2.6" ry="2.3" fill="#7e6452" fill-opacity="1.0"/>
<ellipse cx="599.4" cy="405.8" rx="2.8" ry="2.5" fill="#86705e" fill-opacity="1.0"/>
<ellipse cx="607.5" cy="407.7" rx="1.9" ry="1.7" fill="#a09ca8" fill-opacity="1.0"/>
<ellipse cx="630.2" cy="406.4" rx="1.9" ry="1.6" fill="#7e6452" fill-opacity="1.0"/>
<ellipse cx="483.0" cy="417.1" rx="2.7" ry="2.4" fill="#8c7464" fill-opacity="1.0"/>
<ellipse cx="497.3" cy="419.5" rx="2.1" ry="1.8" fill="#7e6452" fill-opacity="1.0"/>
<ellipse cx="508.6" cy="410.8" rx="2.5" ry="2.2" fill="#b0aab4" fill-opacity="1.0"/>
<ellipse cx="523.1" cy="420.1" rx="2.1" ry="1.9" fill="#8c7464" fill-opacity="1.0"/>
<ellipse cx="530.0" cy="414.3" rx="2.7" ry="2.4" fill="#8c7464" fill-opacity="1.0"/>
<ellipse cx="541.1" cy="412.4" rx="2.9" ry="2.5" fill="#8c7464" fill-opacity="1.0"/>
<ellipse cx="557.5" cy="416.2" rx="2.6" ry="2.3" fill="#8c7464" fill-opacity="1.0"/>
<ellipse cx="567.0" cy="413.2" rx="2.3" ry="2.0" fill="#8c7464" fill-opacity="1.0"/>
<ellipse cx="582.7" cy="416.3" rx="2.9" ry="2.6" fill="#a09ca8" fill-opacity="1.0"/>
<ellipse cx="595.2" cy="413.0" rx="2.9" ry="2.5" fill="#8c7464" fill-opacity="1.0"/>
<ellipse cx="615.3" cy="410.5" rx="2.9" ry="2.5" fill="#9a8474" fill-opacity="1.0"/>
<ellipse cx="621.9" cy="420.6" rx="2.2" ry="2.0" fill="#9a8474" fill-opacity="1.0"/>
<ellipse cx="481.4" cy="426.3" rx="2.6" ry="2.3" fill="#b0aab4" fill-opacity="1.0"/>
<ellipse cx="497.1" cy="432.6" rx="1.9" ry="1.7" fill="#9a8474" fill-opacity="1.0"/>
<ellipse cx="507.3" cy="429.2" rx="1.9" ry="1.7" fill="#a09ca8" fill-opacity="1.0"/>
<ellipse cx="518.9" cy="423.4" rx="2.2" ry="1.9" fill="#b0aab4" fill-opacity="1.0"/>
<ellipse cx="533.1" cy="424.9" rx="2.6" ry="2.3" fill="#b0aab4" fill-opacity="1.0"/>
<ellipse cx="541.5" cy="427.2" rx="2.9" ry="2.6" fill="#a09ca8" fill-opacity="1.0"/>
<ellipse cx="554.7" cy="434.0" rx="2.0" ry="1.7" fill="#9a8474" fill-opacity="1.0"/>
<ellipse cx="574.5" cy="430.6" rx="2.3" ry="2.0" fill="#9a8474" fill-opacity="1.0"/>
<ellipse cx="588.0" cy="428.2" rx="2.2" ry="1.9" fill="#7e6452" fill-opacity="1.0"/>
<ellipse cx="602.2" cy="424.0" rx="2.0" ry="1.8" fill="#86705e" fill-opacity="1.0"/>
<ellipse cx="613.8" cy="431.7" rx="2.2" ry="2.0" fill="#9a8474" fill-opacity="1.0"/>
<ellipse cx="624.0" cy="423.3" rx="2.0" ry="1.7" fill="#a09ca8" fill-opacity="1.0"/>
<ellipse cx="478.3" cy="439.2" rx="2.7" ry="2.4" fill="#9a8474" fill-opacity="1.0"/>
<ellipse cx="496.3" cy="447.7" rx="2.3" ry="2.1" fill="#8c7464" fill-opacity="1.0"/>
<ellipse cx="503.5" cy="446.5" rx="1.9" ry="1.7" fill="#9a8474" fill-opacity="1.0"/>
<ellipse cx="519.8" cy="444.5" rx="2.5" ry="2.2" fill="#b0aab4" fill-opacity="1.0"/>
<ellipse cx="527.5" cy="444.7" rx="2.5" ry="2.2" fill="#b0aab4" fill-opacity="1.0"/>
<ellipse cx="548.7" cy="446.1" rx="2.7" ry="2.4" fill="#86705e" fill-opacity="1.0"/>
<ellipse cx="560.6" cy="446.6" rx="2.8" ry="2.4" fill="#86705e" fill-opacity="1.0"/>
<ellipse cx="573.1" cy="443.1" rx="2.0" ry="1.8" fill="#9a8474" fill-opacity="1.0"/>
<ellipse cx="584.7" cy="439.7" rx="2.8" ry="2.5" fill="#a09ca8" fill-opacity="1.0"/>
<ellipse cx="604.5" cy="447.7" rx="2.3" ry="2.0" fill="#86705e" fill-opacity="1.0"/>
<ellipse cx="618.2" cy="439.9" rx="2.4" ry="2.1" fill="#86705e" fill-opacity="1.0"/>
<ellipse cx="629.0" cy="439.8" rx="2.8" ry="2.5" fill="#a09ca8" fill-opacity="1.0"/>
</g>
<clipPath id="clip4"><rect x="640.5" y="287" width="162" height="162"/></clipPath>
<g clip-path="url(#clip4)">
<rect x="640.5" y="287.0" width="162.0" height="162.0" fill="#d0d9e6" />
<filter id="tf4" x="0" y="0" width="100%" height="100%" color-interpolation-filters="sRGB"><feTurbulence type="fractalNoise" baseFrequency="0.07" numOctaves="3" seed="4" result="n"/><feColorMatrix in="n" type="matrix" values="0 0 0 0 0.925  0 0 0 0 0.945  0 0 0 0 0.969  1.5 0 0 0 -0.5"/></filter>
<rect x="640.5" y="287" width="162" height="162" filter="url(#tf4)"/>
<filter id="tg4" x="0" y="0" width="100%" height="100%" color-interpolation-filters="sRGB"><feTurbulence type="fractalNoise" baseFrequency="0.14" numOctaves="3" seed="54" result="n"/><feColorMatrix in="n" type="matrix" values="0 0 0 0 0.698  0 0 0 0 0.753  0 0 0 0 0.831  1.3 0 0 0 -0.6"/></filter>
<rect x="640.5" y="287" width="162" height="162" filter="url(#tg4)"/>
<filter id="tm4" x="0" y="0" width="100%" height="100%" color-interpolation-filters="sRGB"><feTurbulence type="fractalNoise" baseFrequency="0.08" numOctaves="2" seed="94" result="n"/><feComponentTransfer in="n" result="t"><feFuncR type="table" tableValues="0 1 0 0 1 0 0 1 0 0 1 0 0 1 0"/></feComponentTransfer><feColorMatrix in="t" type="matrix" values="0 0 0 0 0.941  0 0 0 0 0.957  0 0 0 0 0.976  0.6 0 0 0 0"/></filter>
<rect x="640.5" y="287" width="162" height="162" filter="url(#tm4)"/>
<ellipse cx="644.0" cy="288.9" rx="2.6" ry="2.3" fill="#66729a" fill-opacity="1.0"/>
<ellipse cx="655.8" cy="287.9" rx="2.8" ry="2.4" fill="#4e5a84" fill-opacity="1.0"/>
<ellipse cx="677.9" cy="297.0" rx="2.3" ry="2.0" fill="#4e5a84" fill-opacity="1.0"/>
<ellipse cx="685.0" cy="289.8" rx="2.2" ry="1.9" fill="#66729a" fill-opacity="1.0"/>
<ellipse cx="706.6" cy="288.0" rx="2.9" ry="2.5" fill="#4e5a84" fill-opacity="1.0"/>
<ellipse cx="718.4" cy="290.0" rx="2.4" ry="2.2" fill="#4e5a84" fill-opacity="1.0"/>
<ellipse cx="723.2" cy="295.0" rx="2.9" ry="2.6" fill="#66729a" fill-opacity="1.0"/>
<ellipse cx="737.8" cy="293.4" rx="2.1" ry="1.9" fill="#4e5a84" fill-opacity="1.0"/>
<ellipse cx="749.3" cy="291.2" rx="3.0" ry="2.6" fill="#4e5a84" fill-opacity="1.0"/>
<ellipse cx="773.0" cy="293.9" rx="2.6" ry="2.3" fill="#4e5a84" fill-opacity="1.0"/>
<ellipse cx="781.4" cy="289.6" rx="2.4" ry="2.1" fill="#5a6690" fill-opacity="1.0"/>
<ellipse cx="790.7" cy="293.3" rx="3.4" ry="3.0" fill="#7a86aa" fill-opacity="1.0"/>
<ellipse cx="649.7" cy="302.9" rx="2.9" ry="2.6" fill="#5a6690" fill-opacity="1.0"/>
<ellipse cx="659.7" cy="303.6" rx="2.9" ry="2.5" fill="#4e5a84" fill-opacity="1.0"/>
<ellipse cx="670.4" cy="306.5" rx="2.8" ry="2.5" fill="#66729a" fill-opacity="1.0"/>
<ellipse cx="692.7" cy="302.4" rx="2.1" ry="1.9" fill="#66729a" fill-opacity="1.0"/>
<ellipse cx="698.5" cy="308.2" rx="3.2" ry="2.8" fill="#5a6690" fill-opacity="1.0"/>
<ellipse cx="712.7" cy="303.3" rx="2.6" ry="2.3" fill="#5a6690" fill-opacity="1.0"/>
<ellipse cx="726.5" cy="302.2" rx="3.3" ry="2.9" fill="#4e5a84" fill-opacity="1.0"/>
<ellipse cx="744.6" cy="312.8" rx="2.0" ry="1.8" fill="#4e5a84" fill-opacity="1.0"/>
<ellipse cx="753.1" cy="303.0" rx="2.9" ry="2.6" fill="#5a6690" fill-opacity="1.0"/>
<ellipse cx="766.2" cy="303.5" rx="2.6" ry="2.3" fill="#66729a" fill-opacity="1.0"/>
<ellipse cx="779.2" cy="308.5" rx="2.2" ry="2.0" fill="#5a6690" fill-opacity="1.0"/>
<ellipse cx="794.1" cy="306.7" rx="2.5" ry="2.2" fill="#4e5a84" fill-opacity="1.0"/>
<ellipse cx="653.3" cy="321.6" rx="2.6" ry="2.3" fill="#66729a" fill-opacity="1.0"/>
<ellipse cx="659.8" cy="317.2" rx="2.1" ry="1.9" fill="#5a6690" fill-opacity="1.0"/>
<ellipse cx="677.1" cy="321.9" rx="3.3" ry="2.9" fill="#5a6690" fill-opacity="1.0"/>
<ellipse cx="688.3" cy="321.8" rx="2.5" ry="2.2" fill="#5a6690" fill-opacity="1.0"/>
<ellipse cx="696.7" cy="321.1" rx="3.1" ry="2.7" fill="#7a86aa" fill-opacity="1.0"/>
<ellipse cx="716.6" cy="317.1" rx="2.3" ry="2.0" fill="#7a86aa" fill-opacity="1.0"/>
<ellipse cx="727.2" cy="315.1" rx="2.6" ry="2.3" fill="#66729a" fill-opacity="1.0"/>
<ellipse cx="743.5" cy="319.9" rx="2.3" ry="2.0" fill="#66729a" fill-opacity="1.0"/>
<ellipse cx="749.6" cy="317.8" rx="2.4" ry="2.1" fill="#66729a" fill-opacity="1.0"/>
<ellipse cx="772.1" cy="319.7" rx="2.4" ry="2.1" fill="#4e5a84" fill-opacity="1.0"/>
<ellipse cx="776.8" cy="326.0" rx="2.8" ry="2.5" fill="#7a86aa" fill-opacity="1.0"/>
<ellipse cx="801.4" cy="322.6" rx="3.2" ry="2.8" fill="#5a6690" fill-opacity="1.0"/>
<ellipse cx="647.2" cy="329.3" rx="2.3" ry="2.0" fill="#66729a" fill-opacity="1.0"/>
<ellipse cx="658.8" cy="336.2" rx="3.1" ry="2.7" fill="#4e5a84" fill-opacity="1.0"/>
<ellipse cx="678.1" cy="334.6" rx="2.9" ry="2.6" fill="#4e5a84" fill-opacity="1.0"/>
<ellipse cx="685.8" cy="332.9" rx="2.7" ry="2.4" fill="#4e5a84" fill-opacity="1.0"/>
<ellipse cx="706.9" cy="336.3" rx="2.1" ry="1.8" fill="#66729a" fill-opacity="1.0"/>
<ellipse cx="718.0" cy="331.4" rx="3.2" ry="2.8" fill="#66729a" fill-opacity="1.0"/>
<ellipse cx="730.5" cy="333.8" rx="2.7" ry="2.3" fill="#7a86aa" fill-opacity="1.0"/>
<ellipse cx="746.9" cy="330.8" rx="2.0" ry="1.8" fill="#66729a" fill-opacity="1.0"/>
<ellipse cx="749.3" cy="338.8" rx="2.2" ry="1.9" fill="#7a86aa" fill-opacity="1.0"/>
<ellipse cx="773.3" cy="334.9" rx="3.2" ry="2.8" fill="#66729a" fill-opacity="1.0"/>
<ellipse cx="778.1" cy="335.6" rx="3.1" ry="2.8" fill="#7a86aa" fill-opacity="1.0"/>
<ellipse cx="800.8" cy="333.5" rx="2.1" ry="1.9" fill="#5a6690" fill-opacity="1.0"/>
<ellipse cx="647.1" cy="352.2" rx="2.8" ry="2.5" fill="#66729a" fill-opacity="1.0"/>
<ellipse cx="655.2" cy="342.6" rx="3.2" ry="2.8" fill="#5a6690" fill-opacity="1.0"/>
<ellipse cx="671.8" cy="345.9" rx="2.1" ry="1.9" fill="#7a86aa" fill-opacity="1.0"/>
<ellipse cx="686.3" cy="351.2" rx="2.4" ry="2.2" fill="#66729a" fill-opacity="1.0"/>
<ellipse cx="704.4" cy="352.1" rx="2.6" ry="2.3" fill="#5a6690" fill-opacity="1.0"/>
<ellipse cx="710.1" cy="349.2" rx="3.2" ry="2.8" fill="#7a86aa" fill-opacity="1.0"/>
<ellipse cx="727.2" cy="350.3" rx="2.6" ry="2.3" fill="#66729a" fill-opacity="1.0"/>
<ellipse cx="743.4" cy="353.0" rx="2.7" ry="2.4" fill="#5a6690" fill-opacity="1.0"/>
<ellipse cx="758.9" cy="343.7" rx="3.2" ry="2.8" fill="#66729a" fill-opacity="1.0"/>
<ellipse cx="771.3" cy="345.6" rx="3.2" ry="2.8" fill="#4e5a84" fill-opacity="1.0"/>
<ellipse cx="782.8" cy="352.7" rx="3.0" ry="2.6" fill="#5a6690" fill-opacity="1.0"/>
<ellipse cx="797.5" cy="343.1" rx="2.2" ry="1.9" fill="#7a86aa" fill-opacity="1.0"/>
<ellipse cx="647.6" cy="361.5" rx="2.6" ry="2.3" fill="#4e5a84" fill-opacity="1.0"/>
<ellipse cx="659.0" cy="364.5" rx="3.4" ry="3.0" fill="#5a6690" fill-opacity="1.0"/>
<ellipse cx="676.4" cy="362.6" rx="2.4" ry="2.2" fill="#7a86aa" fill-opacity="1.0"/>
<ellipse cx="691.2" cy="362.1" rx="3.3" ry="2.9" fill="#7a86aa" fill-opacity="1.0"/>
<ellipse cx="702.6" cy="360.5" rx="2.2" ry="1.9" fill="#4e5a84" fill-opacity="1.0"/>
<ellipse cx="720.7" cy="359.3" rx="2.6" ry="2.3" fill="#66729a" fill-opacity="1.0"/>
<ellipse cx="730.4" cy="362.7" rx="2.4" ry="2.1" fill="#4e5a84" fill-opacity="1.0"/>
<ellipse cx="738.1" cy="364.8" rx="2.9" ry="2.6" fill="#5a6690" fill-opacity="1.0"/>
<ellipse cx="750.1" cy="363.0" rx="3.2" ry="2.9" fill="#4e5a84" fill-opacity="1.0"/>
<ellipse cx="770.6" cy="359.1" rx="2.4" ry="2.1" fill="#5a6690" fill-opacity="1.0"/>
<ellipse cx="783.5" cy="361.5" rx="3.0" ry="2.7" fill="#5a6690" fill-opacity="1.0"/>
<ellipse cx="799.4" cy="365.0" rx="3.3" ry="2.9" fill="#66729a" fill-opacity="1.0"/>
<ellipse cx="643.4" cy="380.7" rx="2.9" ry="2.6" fill="#5a6690" fill-opacity="1.0"/>
<ellipse cx="663.9" cy="380.4" rx="2.2" ry="1.9" fill="#7a86aa" fill-opacity="1.0"/>
<ellipse cx="676.4" cy="377.7" rx="2.9" ry="2.5" fill="#4e5a84" fill-opacity="1.0"/>
<ellipse cx="692.0" cy="377.0" rx="3.2" ry="2.8" fill="#66729a" fill-opacity="1.0"/>
<ellipse cx="706.1" cy="377.2" rx="2.4" ry="2.1" fill="#66729a" fill-opacity="1.0"/>
<ellipse cx="717.7" cy="375.2" rx="2.7" ry="2.4" fill="#7a86aa" fill-opacity="1.0"/>
<ellipse cx="733.1" cy="373.5" rx="2.6" ry="2.3" fill="#4e5a84" fill-opacity="1.0"/>
<ellipse cx="739.1" cy="373.7" rx="2.0" ry="1.8" fill="#66729a" fill-opacity="1.0"/>
<ellipse cx="760.1" cy="374.2" rx="2.8" ry="2.4" fill="#4e5a84" fill-opacity="1.0"/>
<ellipse cx="767.6" cy="373.4" rx="2.1" ry="1.8" fill="#5a6690" fill-opacity="1.0"/>
<ellipse cx="781.7" cy="380.4" rx="2.9" ry="2.5" fill="#4e5a84" fill-opacity="1.0"/>
<ellipse cx="797.0" cy="372.5" rx="2.1" ry="1.9" fill="#4e5a84" fill-opacity="1.0"/>
<ellipse cx="647.0" cy="390.0" rx="2.7" ry="2.3" fill="#5a6690" fill-opacity="1.0"/>
<ellipse cx="656.5" cy="385.1" rx="2.4" ry="2.1" fill="#5a6690" fill-opacity="1.0"/>
<ellipse cx="670.2" cy="391.8" rx="2.9" ry="2.6" fill="#4e5a84" fill-opacity="1.0"/>
<ellipse cx="681.9" cy="385.2" rx="3.0" ry="2.7" fill="#66729a" fill-opacity="1.0"/>
<ellipse cx="695.6" cy="386.0" rx="2.2" ry="1.9" fill="#5a6690" fill-opacity="1.0"/>
<ellipse cx="719.4" cy="390.0" rx="2.8" ry="2.5" fill="#66729a" fill-opacity="1.0"/>
<ellipse cx="731.1" cy="390.1" rx="3.3" ry="2.9" fill="#5a6690" fill-opacity="1.0"/>
<ellipse cx="742.5" cy="390.6" rx="3.0" ry="2.6" fill="#66729a" fill-opacity="1.0"/>
<ellipse cx="755.3" cy="384.0" rx="3.2" ry="2.8" fill="#7a86aa" fill-opacity="1.0"/>
<ellipse cx="768.8" cy="386.7" rx="2.2" ry="2.0" fill="#4e5a84" fill-opacity="1.0"/>
<ellipse cx="782.4" cy="388.7" rx="2.4" ry="2.1" fill="#7a86aa" fill-opacity="1.0"/>
<ellipse cx="793.7" cy="386.9" rx="2.6" ry="2.3" fill="#5a6690" fill-opacity="1.0"/>
<ellipse cx="644.6" cy="403.9" rx="2.4" ry="2.1" fill="#66729a" fill-opacity="1.0"/>
<ellipse cx="655.7" cy="397.1" rx="2.8" ry="2.5" fill="#5a6690" fill-opacity="1.0"/>
<ellipse cx="671.0" cy="402.4" rx="2.7" ry="2.3" fill="#66729a" fill-opacity="1.0"/>
<ellipse cx="692.4" cy="401.2" rx="3.0" ry="2.7" fill="#7a86aa" fill-opacity="1.0"/>
<ellipse cx="699.3" cy="397.8" rx="2.7" ry="2.4" fill="#66729a" fill-opacity="1.0"/>
<ellipse cx="710.0" cy="403.2" rx="3.3" ry="2.9" fill="#4e5a84" fill-opacity="1.0"/>
<ellipse cx="733.5" cy="405.8" rx="2.6" ry="2.3" fill="#5a6690" fill-opacity="1.0"/>
<ellipse cx="745.6" cy="398.3" rx="2.8" ry="2.5" fill="#4e5a84" fill-opacity="1.0"/>
<ellipse cx="758.7" cy="401.5" rx="3.2" ry="2.8" fill="#5a6690" fill-opacity="1.0"/>
<ellipse cx="773.5" cy="406.5" rx="3.2" ry="2.8" fill="#5a6690" fill-opacity="1.0"/>
<ellipse cx="783.5" cy="402.1" rx="3.4" ry="3.0" fill="#4e5a84" fill-opacity="1.0"/>
<ellipse cx="801.0" cy="397.8" rx="2.1" ry="1.8" fill="#66729a" fill-opacity="1.0"/>
<ellipse cx="641.6" cy="417.4" rx="2.5" ry="2.2" fill="#66729a" fill-opacity="1.0"/>
<ellipse cx="663.1" cy="410.6" rx="3.3" ry="2.9" fill="#5a6690" fill-opacity="1.0"/>
<ellipse cx="669.0" cy="411.9" rx="2.4" ry="2.1" fill="#5a6690" fill-opacity="1.0"/>
<ellipse cx="692.5" cy="421.0" rx="2.0" ry="1.8" fill="#66729a" fill-opacity="1.0"/>
<ellipse cx="697.8" cy="412.2" rx="3.0" ry="2.7" fill="#4e5a84" fill-opacity="1.0"/>
<ellipse cx="718.6" cy="412.8" rx="2.5" ry="2.2" fill="#7a86aa" fill-opacity="1.0"/>
<ellipse cx="722.6" cy="414.2" rx="3.3" ry="2.9" fill="#4e5a84" fill-opacity="1.0"/>
<ellipse cx="742.5" cy="412.6" rx="2.3" ry="2.0" fill="#7a86aa" fill-opacity="1.0"/>
<ellipse cx="753.1" cy="411.8" rx="2.7" ry="2.4" fill="#7a86aa" fill-opacity="1.0"/>
<ellipse cx="774.0" cy="412.5" rx="3.0" ry="2.7" fill="#7a86aa" fill-opacity="1.0"/>
<ellipse cx="787.7" cy="420.4" rx="2.6" ry="2.3" fill="#66729a" fill-opacity="1.0"/>
<ellipse cx="792.8" cy="415.4" rx="2.1" ry="1.8" fill="#4e5a84" fill-opacity="1.0"/>
<ellipse cx="648.6" cy="430.9" rx="2.9" ry="2.5" fill="#4e5a84" fill-opacity="1.0"/>
<ellipse cx="655.7" cy="434.7" rx="2.2" ry="2.0" fill="#5a6690" fill-opacity="1.0"/>
<ellipse cx="676.7" cy="434.0" rx="2.4" ry="2.1" fill="#66729a" fill-opacity="1.0"/>
<ellipse cx="692.5" cy="428.7" rx="2.2" ry="1.9" fill="#4e5a84" fill-opacity="1.0"/>
<ellipse cx="695.3" cy="429.6" rx="2.3" ry="2.0" fill="#5a6690" fill-opacity="1.0"/>
<ellipse cx="711.6" cy="432.9" rx="2.2" ry="1.9" fill="#4e5a84" fill-opacity="1.0"/>
<ellipse cx="725.8" cy="429.6" rx="2.9" ry="2.6" fill="#5a6690" fill-opacity="1.0"/>
<ellipse cx="743.7" cy="434.7" rx="3.2" ry="2.9" fill="#5a6690" fill-opacity="1.0"/>
<ellipse cx="758.4" cy="432.4" rx="2.9" ry="2.6" fill="#4e5a84" fill-opacity="1.0"/>
<ellipse cx="763.1" cy="426.6" rx="2.5" ry="2.2" fill="#4e5a84" fill-opacity="1.0"/>
<ellipse cx="788.2" cy="424.6" rx="3.0" ry="2.7" fill="#5a6690" fill-opacity="1.0"/>
<ellipse cx="801.3" cy="434.2" rx="2.9" ry="2.6" fill="#5a6690" fill-opacity="1.0"/>
<ellipse cx="649.4" cy="439.4" rx="3.3" ry="2.9" fill="#7a86aa" fill-opacity="1.0"/>
<ellipse cx="655.9" cy="438.6" rx="2.2" ry="1.9" fill="#7a86aa" fill-opacity="1.0"/>
<ellipse cx="675.5" cy="442.2" rx="2.5" ry="2.2" fill="#7a86aa" fill-opacity="1.0"/>
<ellipse cx="690.7" cy="446.4" rx="3.0" ry="2.7" fill="#5a6690" fill-opacity="1.0"/>
<ellipse cx="697.4" cy="440.5" rx="2.4" ry="2.1" fill="#4e5a84" fill-opacity="1.0"/>
<ellipse cx="715.6" cy="438.5" rx="2.9" ry="2.5" fill="#4e5a84" fill-opacity="1.0"/>
<ellipse cx="726.8" cy="442.7" rx="2.2" ry="1.9" fill="#66729a" fill-opacity="1.0"/>
<ellipse cx="738.0" cy="440.4" rx="3.4" ry="2.9" fill="#66729a" fill-opacity="1.0"/>
<ellipse cx="749.4" cy="437.6" rx="2.4" ry="2.1" fill="#4e5a84" fill-opacity="1.0"/>
<ellipse cx="774.1" cy="442.2" rx="2.1" ry="1.8" fill="#4e5a84" fill-opacity="1.0"/>
<ellipse cx="785.9" cy="445.9" rx="2.2" ry="2.0" fill="#7a86aa" fill-opacity="1.0"/>
<ellipse cx="797.2" cy="440.4" rx="2.0" ry="1.8" fill="#66729a" fill-opacity="1.0"/>
</g>
<clipPath id="clip5"><rect x="868.5" y="113.5" width="162" height="162"/></clipPath>
<g clip-path="url(#clip5)">
<rect x="868.5" y="113.5" width="162.0" height="162.0" fill="#d5dce4" />
<filter id="tf5" x="0" y="0" width="100%" height="100%" color-interpolation-filters="sRGB"><feTurbulence type="fractalNoise" baseFrequency="0.07" numOctaves="3" seed="5" result="n"/><feColorMatrix in="n" type="matrix" values="0 0 0 0 0.933  0 0 0 0 0.949  0 0 0 0 0.965  1.5 0 0 0 -0.5"/></filter>
<rect x="868.5" y="113.5" width="162" height="162" filter="url(#tf5)"/>
<filter id="tg5" x="0" y="0" width="100%" height="100%" color-interpolation-filters="sRGB"><feTurbulence type="fractalNoise" baseFrequency="0.15" numOctaves="3" seed="55" result="n"/><feColorMatrix in="n" type="matrix" values="0 0 0 0 0.725  0 0 0 0 0.776  0 0 0 0 0.839  1.3 0 0 0 -0.6"/></filter>
<rect x="868.5" y="113.5" width="162" height="162" filter="url(#tg5)"/>
<filter id="tm5" x="0" y="0" width="100%" height="100%" color-interpolation-filters="sRGB"><feTurbulence type="fractalNoise" baseFrequency="0.075" numOctaves="2" seed="95" result="n"/><feComponentTransfer in="n" result="t"><feFuncR type="table" tableValues="0 1 0 0 1 0 0 1 0 0 1 0 0 1 0"/></feComponentTransfer><feColorMatrix in="t" type="matrix" values="0 0 0 0 0.949  0 0 0 0 0.961  0 0 0 0 0.976  0.55 0 0 0 0"/></filter>
<rect x="868.5" y="113.5" width="162" height="162" filter="url(#tm5)"/>
<ellipse cx="876.7" cy="123.2" rx="3.7" ry="3.2" fill="#7a4a22" fill-opacity="1.0"/>
<ellipse cx="883.0" cy="119.8" rx="3.9" ry="3.4" fill="#a8c2dc" fill-opacity="1.0"/>
<ellipse cx="907.1" cy="115.6" rx="3.2" ry="2.8" fill="#abc4dd" fill-opacity="1.0"/>
<ellipse cx="914.3" cy="115.4" rx="2.8" ry="2.5" fill="#abc4dd" fill-opacity="1.0"/>
<ellipse cx="928.1" cy="116.4" rx="3.8" ry="3.3" fill="#9fbbd8" fill-opacity="1.0"/>
<ellipse cx="938.6" cy="123.9" rx="2.6" ry="2.3" fill="#8a5a30" fill-opacity="1.0"/>
<ellipse cx="951.7" cy="114.2" rx="3.8" ry="3.3" fill="#abc4dd" fill-opacity="1.0"/>
<ellipse cx="973.1" cy="125.8" rx="2.7" ry="2.3" fill="#9fbbd8" fill-opacity="1.0"/>
<ellipse cx="980.7" cy="125.9" rx="3.3" ry="2.9" fill="#abc4dd" fill-opacity="1.0"/>
<ellipse cx="992.9" cy="125.9" rx="2.7" ry="2.4" fill="#9fbbd8" fill-opacity="1.0"/>
<ellipse cx="1007.8" cy="118.6" rx="2.7" ry="2.3" fill="#9fbbd8" fill-opacity="1.0"/>
<ellipse cx="1020.9" cy="118.2" rx="3.7" ry="3.3" fill="#a8c2dc" fill-opacity="1.0"/>
<ellipse cx="876.4" cy="136.3" rx="2.5" ry="2.2" fill="#b2c9e0" fill-opacity="1.0"/>
<ellipse cx="892.6" cy="133.5" rx="2.9" ry="2.6" fill="#8a5a30" fill-opacity="1.0"/>
<ellipse cx="901.9" cy="129.8" rx="2.8" ry="2.5" fill="#a8c2dc" fill-opacity="1.0"/>
<ellipse cx="921.2" cy="132.0" rx="3.0" ry="2.7" fill="#7a4a22" fill-opacity="1.0"/>
<ellipse cx="932.7" cy="132.1" rx="3.3" ry="2.9" fill="#a8c2dc" fill-opacity="1.0"/>
<ellipse cx="942.2" cy="136.3" rx="3.4" ry="3.0" fill="#abc4dd" fill-opacity="1.0"/>
<ellipse cx="951.6" cy="130.7" rx="3.7" ry="3.3" fill="#8a5a30" fill-opacity="1.0"/>
<ellipse cx="967.9" cy="132.0" rx="3.2" ry="2.9" fill="#8a5a30" fill-opacity="1.0"/>
<ellipse cx="978.5" cy="136.8" rx="3.7" ry="3.2" fill="#a8c2dc" fill-opacity="1.0"/>
<ellipse cx="991.1" cy="139.2" rx="2.5" ry="2.2" fill="#b2c9e0" fill-opacity="1.0"/>
<ellipse cx="1010.4" cy="132.1" rx="2.6" ry="2.3" fill="#a8c2dc" fill-opacity="1.0"/>
<ellipse cx="1028.9" cy="134.3" rx="2.9" ry="2.6" fill="#b2c9e0" fill-opacity="1.0"/>
<ellipse cx="872.9" cy="150.9" rx="3.4" ry="3.0" fill="#a8c2dc" fill-opacity="1.0"/>
<ellipse cx="894.8" cy="143.1" rx="2.5" ry="2.2" fill="#7a4a22" fill-opacity="1.0"/>
<ellipse cx="907.4" cy="141.6" rx="3.6" ry="3.2" fill="#b2c9e0" fill-opacity="1.0"/>
<ellipse cx="919.7" cy="146.7" rx="3.1" ry="2.7" fill="#a8c2dc" fill-opacity="1.0"/>
<ellipse cx="935.1" cy="148.9" rx="3.7" ry="3.2" fill="#b2c9e0" fill-opacity="1.0"/>
<ellipse cx="946.9" cy="142.8" rx="3.6" ry="3.1" fill="#9fbbd8" fill-opacity="1.0"/>
<ellipse cx="957.8" cy="150.7" rx="2.6" ry="2.3" fill="#9fbbd8" fill-opacity="1.0"/>
<ellipse cx="968.2" cy="141.9" rx="3.1" ry="2.7" fill="#9fbbd8" fill-opacity="1.0"/>
<ellipse cx="982.7" cy="153.3" rx="3.8" ry="3.3" fill="#7a4a22" fill-opacity="1.0"/>
<ellipse cx="996.2" cy="147.1" rx="3.6" ry="3.1" fill="#8a5a30" fill-opacity="1.0"/>
<ellipse cx="1007.5" cy="146.9" rx="3.8" ry="3.4" fill="#b2c9e0" fill-opacity="1.0"/>
<ellipse cx="1022.3" cy="153.2" rx="3.9" ry="3.5" fill="#8a5a30" fill-opacity="1.0"/>
<ellipse cx="879.7" cy="156.9" rx="3.2" ry="2.8" fill="#7a4a22" fill-opacity="1.0"/>
<ellipse cx="892.2" cy="165.2" rx="3.0" ry="2.6" fill="#b2c9e0" fill-opacity="1.0"/>
<ellipse cx="904.6" cy="162.7" rx="3.6" ry="3.2" fill="#b2c9e0" fill-opacity="1.0"/>
<ellipse cx="916.5" cy="162.8" rx="3.7" ry="3.3" fill="#a8c2dc" fill-opacity="1.0"/>
<ellipse cx="932.5" cy="163.1" rx="2.9" ry="2.5" fill="#b2c9e0" fill-opacity="1.0"/>
<ellipse cx="944.6" cy="161.7" rx="2.4" ry="2.1" fill="#7a4a22" fill-opacity="1.0"/>
<ellipse cx="959.6" cy="158.6" rx="2.8" ry="2.5" fill="#a8c2dc" fill-opacity="1.0"/>
<ellipse cx="973.6" cy="162.5" rx="3.7" ry="3.2" fill="#b2c9e0" fill-opacity="1.0"/>
<ellipse cx="980.5" cy="158.9" rx="3.9" ry="3.4" fill="#9fbbd8" fill-opacity="1.0"/>
<ellipse cx="994.9" cy="164.9" rx="3.8" ry="3.3" fill="#8a5a30" fill-opacity="1.0"/>
<ellipse cx="1016.0" cy="166.3" rx="3.2" ry="2.8" fill="#7a4a22" fill-opacity="1.0"/>
<ellipse cx="1029.6" cy="157.1" rx="3.0" ry="2.6" fill="#8a5a30" fill-opacity="1.0"/>
<ellipse cx="872.6" cy="169.1" rx="3.5" ry="3.1" fill="#9fbbd8" fill-opacity="1.0"/>
<ellipse cx="884.8" cy="177.7" rx="3.3" ry="2.9" fill="#9fbbd8" fill-opacity="1.0"/>
<ellipse cx="899.9" cy="174.9" rx="3.8" ry="3.3" fill="#a8c2dc" fill-opacity="1.0"/>
<ellipse cx="918.4" cy="168.5" rx="2.7" ry="2.3" fill="#8a5a30" fill-opacity="1.0"/>
<ellipse cx="930.8" cy="170.4" rx="3.6" ry="3.2" fill="#9fbbd8" fill-opacity="1.0"/>
<ellipse cx="944.3" cy="168.7" rx="3.2" ry="2.8" fill="#abc4dd" fill-opacity="1.0"/>
<ellipse cx="952.2" cy="179.0" rx="2.6" ry="2.3" fill="#9fbbd8" fill-opacity="1.0"/>
<ellipse cx="969.5" cy="174.8" rx="3.1" ry="2.7" fill="#b2c9e0" fill-opacity="1.0"/>
<ellipse cx="981.8" cy="175.6" rx="3.3" ry="2.9" fill="#abc4dd" fill-opacity="1.0"/>
<ellipse cx="999.4" cy="172.7" rx="3.0" ry="2.6" fill="#a8c2dc" fill-opacity="1.0"/>
<ellipse cx="1014.6" cy="178.7" rx="3.5" ry="3.1" fill="#7a4a22" fill-opacity="1.0"/>
<ellipse cx="1022.2" cy="168.6" rx="3.4" ry="3.0" fill="#b2c9e0" fill-opacity="1.0"/>
<ellipse cx="872.8" cy="187.9" rx="3.9" ry="3.5" fill="#a8c2dc" fill-opacity="1.0"/>
<ellipse cx="894.3" cy="191.6" rx="3.1" ry="2.7" fill="#7a4a22" fill-opacity="1.0"/>
<ellipse cx="900.7" cy="183.4" rx="3.4" ry="3.0" fill="#8a5a30" fill-opacity="1.0"/>
<ellipse cx="921.3" cy="193.4" rx="3.4" ry="3.0" fill="#b2c9e0" fill-opacity="1.0"/>
<ellipse cx="933.2" cy="189.7" rx="3.0" ry="2.6" fill="#b2c9e0" fill-opacity="1.0"/>
<ellipse cx="943.5" cy="189.1" rx="2.6" ry="2.3" fill="#9fbbd8" fill-opacity="1.0"/>
<ellipse cx="955.4" cy="193.5" rx="3.2" ry="2.8" fill="#8a5a30" fill-opacity="1.0"/>
<ellipse cx="975.5" cy="186.3" rx="3.9" ry="3.5" fill="#9fbbd8" fill-opacity="1.0"/>
<ellipse cx="984.4" cy="184.8" rx="4.0" ry="3.5" fill="#8a5a30" fill-opacity="1.0"/>
<ellipse cx="993.7" cy="181.9" rx="3.9" ry="3.4" fill="#a8c2dc" fill-opacity="1.0"/>
<ellipse cx="1010.1" cy="185.2" rx="3.2" ry="2.8" fill="#b2c9e0" fill-opacity="1.0"/>
<ellipse cx="1025.7" cy="193.3" rx="2.8" ry="2.5" fill="#a8c2dc" fill-opacity="1.0"/>
<ellipse cx="878.7" cy="205.2" rx="2.4" ry="2.1" fill="#7a4a22" fill-opacity="1.0"/>
<ellipse cx="889.5" cy="198.1" rx="3.2" ry="2.8" fill="#a8c2dc" fill-opacity="1.0"/>
<ellipse cx="899.2" cy="198.4" rx="2.6" ry="2.3" fill="#a8c2dc" fill-opacity="1.0"/>
<ellipse cx="913.2" cy="202.6" rx="3.2" ry="2.8" fill="#b2c9e0" fill-opacity="1.0"/>
<ellipse cx="923.4" cy="196.7" rx="2.9" ry="2.5" fill="#b2c9e0" fill-opacity="1.0"/>
<ellipse cx="944.1" cy="204.1" rx="2.4" ry="2.1" fill="#b2c9e0" fill-opacity="1.0"/>
<ellipse cx="954.6" cy="204.2" rx="3.3" ry="2.9" fill="#a8c2dc" fill-opacity="1.0"/>
<ellipse cx="963.7" cy="201.9" rx="3.5" ry="3.1" fill="#b2c9e0" fill-opacity="1.0"/>
<ellipse cx="988.0" cy="201.8" rx="2.4" ry="2.1" fill="#9fbbd8" fill-opacity="1.0"/>
<ellipse cx="997.9" cy="203.5" rx="3.9" ry="3.5" fill="#8a5a30" fill-opacity="1.0"/>
<ellipse cx="1014.6" cy="205.4" rx="3.2" ry="2.8" fill="#abc4dd" fill-opacity="1.0"/>
<ellipse cx="1028.6" cy="200.8" rx="3.6" ry="3.2" fill="#a8c2dc" fill-opacity="1.0"/>
<ellipse cx="879.3" cy="217.1" rx="3.1" ry="2.7" fill="#a8c2dc" fill-opacity="1.0"/>
<ellipse cx="890.6" cy="214.4" rx="2.9" ry="2.5" fill="#9fbbd8" fill-opacity="1.0"/>
<ellipse cx="902.0" cy="215.3" rx="3.2" ry="2.8" fill="#b2c9e0" fill-opacity="1.0"/>
<ellipse cx="916.2" cy="213.8" rx="3.3" ry="2.9" fill="#a8c2dc" fill-opacity="1.0"/>
<ellipse cx="924.0" cy="211.5" rx="3.7" ry="3.3" fill="#b2c9e0" fill-opacity="1.0"/>
<ellipse cx="944.7" cy="209.0" rx="3.6" ry="3.1" fill="#b2c9e0" fill-opacity="1.0"/>
<ellipse cx="962.3" cy="217.2" rx="2.5" ry="2.2" fill="#b2c9e0" fill-opacity="1.0"/>
<ellipse cx="966.3" cy="216.5" rx="3.9" ry="3.5" fill="#9fbbd8" fill-opacity="1.0"/>
<ellipse cx="989.3" cy="217.3" rx="3.1" ry="2.7" fill="#9fbbd8" fill-opacity="1.0"/>
<ellipse cx="998.1" cy="213.7" rx="2.7" ry="2.3" fill="#abc4dd" fill-opacity="1.0"/>
<ellipse cx="1004.7" cy="210.0" rx="3.0" ry="2.6" fill="#b2c9e0" fill-opacity="1.0"/>
<ellipse cx="1021.1" cy="215.6" rx="2.6" ry="2.3" fill="#9fbbd8" fill-opacity="1.0"/>
<ellipse cx="879.8" cy="223.8" rx="3.1" ry="2.7" fill="#b2c9e0" fill-opacity="1.0"/>
<ellipse cx="891.0" cy="228.1" rx="3.0" ry="2.6" fill="#b2c9e0" fill-opacity="1.0"/>
<ellipse cx="907.3" cy="223.9" rx="2.9" ry="2.5" fill="#7a4a22" fill-opacity="1.0"/>
<ellipse cx="913.2" cy="233.6" rx="3.3" ry="2.9" fill="#abc4dd" fill-opacity="1.0"/>
<ellipse cx="926.4" cy="228.9" rx="2.8" ry="2.5" fill="#a8c2dc" fill-opacity="1.0"/>
<ellipse cx="943.0" cy="223.8" rx="2.8" ry="2.4" fill="#b2c9e0" fill-opacity="1.0"/>
<ellipse cx="955.7" cy="226.9" rx="2.6" ry="2.3" fill="#a8c2dc" fill-opacity="1.0"/>
<ellipse cx="971.6" cy="223.2" rx="3.5" ry="3.1" fill="#b2c9e0" fill-opacity="1.0"/>
<ellipse cx="987.7" cy="228.3" rx="3.1" ry="2.8" fill="#9fbbd8" fill-opacity="1.0"/>
<ellipse cx="1001.3" cy="228.0" rx="2.9" ry="2.6" fill="#7a4a22" fill-opacity="1.0"/>
<ellipse cx="1004.5" cy="231.0" rx="2.5" ry="2.2" fill="#9fbbd8" fill-opacity="1.0"/>
<ellipse cx="1029.2" cy="227.4" rx="3.7" ry="3.2" fill="#b2c9e0" fill-opacity="1.0"/>
<ellipse cx="870.2" cy="246.7" rx="3.2" ry="2.8" fill="#abc4dd" fill-opacity="1.0"/>
<ellipse cx="884.4" cy="243.3" rx="3.0" ry="2.6" fill="#abc4dd" fill-opacity="1.0"/>
<ellipse cx="899.7" cy="247.0" rx="3.5" ry="3.1" fill="#9fbbd8" fill-opacity="1.0"/>
<ellipse cx="914.3" cy="244.5" rx="3.0" ry="2.6" fill="#a8c2dc" fill-opacity="1.0"/>
<ellipse cx="932.9" cy="240.9" rx="3.8" ry="3.3" fill="#7a4a22" fill-opacity="1.0"/>
<ellipse cx="937.1" cy="247.7" rx="2.7" ry="2.4" fill="#9fbbd8" fill-opacity="1.0"/>
<ellipse cx="955.0" cy="236.9" rx="2.5" ry="2.2" fill="#abc4dd" fill-opacity="1.0"/>
<ellipse cx="966.1" cy="241.6" rx="3.9" ry="3.4" fill="#b2c9e0" fill-opacity="1.0"/>
<ellipse cx="977.2" cy="241.4" rx="3.8" ry="3.4" fill="#9fbbd8" fill-opacity="1.0"/>
<ellipse cx="994.6" cy="241.3" rx="2.7" ry="2.4" fill="#9fbbd8" fill-opacity="1.0"/>
<ellipse cx="1005.0" cy="246.2" rx="3.8" ry="3.3" fill="#8a5a30" fill-opacity="1.0"/>
<ellipse cx="1019.5" cy="238.8" rx="2.8" ry="2.5" fill="#9fbbd8" fill-opacity="1.0"/>
<ellipse cx="878.3" cy="257.3" rx="2.5" ry="2.2" fill="#a8c2dc" fill-opacity="1.0"/>
<ellipse cx="886.9" cy="258.3" rx="2.9" ry="2.6" fill="#a8c2dc" fill-opacity="1.0"/>
<ellipse cx="904.5" cy="257.4" rx="3.2" ry="2.8" fill="#9fbbd8" fill-opacity="1.0"/>
<ellipse cx="911.1" cy="257.3" rx="2.9" ry="2.5" fill="#abc4dd" fill-opacity="1.0"/>
<ellipse cx="932.0" cy="251.2" rx="2.7" ry="2.4" fill="#a8c2dc" fill-opacity="1.0"/>
<ellipse cx="943.7" cy="257.2" rx="3.4" ry="3.0" fill="#b2c9e0" fill-opacity="1.0"/>
<ellipse cx="958.4" cy="251.4" rx="3.0" ry="2.6" fill="#b2c9e0" fill-opacity="1.0"/>
<ellipse cx="972.6" cy="257.9" rx="2.7" ry="2.3" fill="#abc4dd" fill-opacity="1.0"/>
<ellipse cx="979.3" cy="251.7" rx="2.5" ry="2.2" fill="#9fbbd8" fill-opacity="1.0"/>
<ellipse cx="999.5" cy="252.5" rx="3.1" ry="2.8" fill="#8a5a30" fill-opacity="1.0"/>
<ellipse cx="1013.6" cy="254.2" rx="2.5" ry="2.2" fill="#7a4a22" fill-opacity="1.0"/>
<ellipse cx="1027.8" cy="259.3" rx="3.3" ry="2.9" fill="#b2c9e0" fill-opacity="1.0"/>
<ellipse cx="877.9" cy="265.6" rx="3.7" ry="3.2" fill="#b2c9e0" fill-opacity="1.0"/>
<ellipse cx="894.0" cy="263.3" rx="2.8" ry="2.5" fill="#a8c2dc" fill-opacity="1.0"/>
<ellipse cx="902.2" cy="272.2" rx="2.5" ry="2.2" fill="#9fbbd8" fill-opacity="1.0"/>
<ellipse cx="915.1" cy="270.5" rx="3.8" ry="3.3" fill="#abc4dd" fill-opacity="1.0"/>
<ellipse cx="925.4" cy="268.9" rx="3.0" ry="2.7" fill="#7a4a22" fill-opacity="1.0"/>
<ellipse cx="939.5" cy="273.9" rx="3.7" ry="3.2" fill="#b2c9e0" fill-opacity="1.0"/>
<ellipse cx="956.8" cy="273.9" rx="3.4" ry="3.0" fill="#abc4dd" fill-opacity="1.0"/>
<ellipse cx="971.3" cy="268.0" rx="3.0" ry="2.6" fill="#9fbbd8" fill-opacity="1.0"/>
<ellipse cx="984.1" cy="267.3" rx="3.4" ry="3.0" fill="#a8c2dc" fill-opacity="1.0"/>
<ellipse cx="1001.8" cy="266.4" rx="3.1" ry="2.7" fill="#abc4dd" fill-opacity="1.0"/>
<ellipse cx="1010.9" cy="264.4" rx="3.2" ry="2.8" fill="#a8c2dc" fill-opacity="1.0"/>
<ellipse cx="1027.6" cy="266.5" rx="2.6" ry="2.3" fill="#b2c9e0" fill-opacity="1.0"/>
</g>
<clipPath id="clip6"><rect x="1037.5" y="113.5" width="162" height="162"/></clipPath>
<g clip-path="url(#clip6)">
<rect x="1037.5" y="113.5" width="162.0" height="162.0" fill="#d8dee6" />
<filter id="tf6" x="0" y="0" width="100%" height="100%" color-interpolation-filters="sRGB"><feTurbulence type="fractalNoise" baseFrequency="0.07" numOctaves="3" seed="6" result="n"/><feColorMatrix in="n" type="matrix" values="0 0 0 0 0.941  0 0 0 0 0.953  0 0 0 0 0.969  1.5 0 0 0 -0.5"/></filter>
<rect x="1037.5" y="113.5" width="162" height="162" filter="url(#tf6)"/>
<filter id="tg6" x="0" y="0" width="100%" height="100%" color-interpolation-filters="sRGB"><feTurbulence type="fractalNoise" baseFrequency="0.15" numOctaves="3" seed="56" result="n"/><feColorMatrix in="n" type="matrix" values="0 0 0 0 0.737  0 0 0 0 0.784  0 0 0 0 0.847  1.3 0 0 0 -0.6"/></filter>
<rect x="1037.5" y="113.5" width="162" height="162" filter="url(#tg6)"/>
<filter id="tm6" x="0" y="0" width="100%" height="100%" color-interpolation-filters="sRGB"><feTurbulence type="fractalNoise" baseFrequency="0.075" numOctaves="2" seed="96" result="n"/><feComponentTransfer in="n" result="t"><feFuncR type="table" tableValues="0 1 0 0 1 0 0 1 0 0 1 0 0 1 0"/></feComponentTransfer><feColorMatrix in="t" type="matrix" values="0 0 0 0 0.949  0 0 0 0 0.961  0 0 0 0 0.976  0.55 0 0 0 0"/></filter>
<rect x="1037.5" y="113.5" width="162" height="162" filter="url(#tm6)"/>
<ellipse cx="1047.8" cy="124.2" rx="3.2" ry="2.8" fill="#a8c2dc" fill-opacity="1.0"/>
<ellipse cx="1052.1" cy="115.9" rx="3.3" ry="2.9" fill="#9fbbd8" fill-opacity="1.0"/>
<ellipse cx="1074.1" cy="118.1" rx="2.4" ry="2.1" fill="#abc4dd" fill-opacity="1.0"/>
<ellipse cx="1088.4" cy="123.0" rx="3.1" ry="2.7" fill="#b2c9e0" fill-opacity="1.0"/>
<ellipse cx="1098.7" cy="115.3" rx="3.3" ry="2.9" fill="#b2c9e0" fill-opacity="1.0"/>
<ellipse cx="1115.5" cy="117.4" rx="3.7" ry="3.2" fill="#abc4dd" fill-opacity="1.0"/>
<ellipse cx="1120.2" cy="119.3" rx="4.0" ry="3.5" fill="#b2c9e0" fill-opacity="1.0"/>
<ellipse cx="1142.4" cy="124.0" rx="3.1" ry="2.7" fill="#b2c9e0" fill-opacity="1.0"/>
<ellipse cx="1155.4" cy="122.7" rx="3.7" ry="3.2" fill="#b2c9e0" fill-opacity="1.0"/>
<ellipse cx="1171.2" cy="121.3" rx="2.7" ry="2.4" fill="#abc4dd" fill-opacity="1.0"/>
<ellipse cx="1184.3" cy="120.1" rx="3.7" ry="3.3" fill="#abc4dd" fill-opacity="1.0"/>
<ellipse cx="1192.9" cy="122.0" rx="3.5" ry="3.1" fill="#9fbbd8" fill-opacity="1.0"/>
<ellipse cx="1044.3" cy="138.8" rx="3.4" ry="3.0" fill="#abc4dd" fill-opacity="1.0"/>
<ellipse cx="1059.0" cy="131.4" rx="3.3" ry="2.9" fill="#b2c9e0" fill-opacity="1.0"/>
<ellipse cx="1071.3" cy="135.9" rx="2.7" ry="2.4" fill="#9fbbd8" fill-opacity="1.0"/>
<ellipse cx="1086.7" cy="131.5" rx="2.7" ry="2.4" fill="#abc4dd" fill-opacity="1.0"/>
<ellipse cx="1094.9" cy="134.9" rx="3.7" ry="3.3" fill="#b2c9e0" fill-opacity="1.0"/>
<ellipse cx="1112.0" cy="130.0" rx="2.7" ry="2.4" fill="#abc4dd" fill-opacity="1.0"/>
<ellipse cx="1123.2" cy="138.7" rx="3.4" ry="3.0" fill="#a8c2dc" fill-opacity="1.0"/>
<ellipse cx="1137.2" cy="134.1" rx="2.9" ry="2.5" fill="#abc4dd" fill-opacity="1.0"/>
<ellipse cx="1158.3" cy="128.3" rx="3.1" ry="2.7" fill="#b2c9e0" fill-opacity="1.0"/>
<ellipse cx="1171.8" cy="128.8" rx="3.1" ry="2.7" fill="#9fbbd8" fill-opacity="1.0"/>
<ellipse cx="1185.1" cy="138.5" rx="3.5" ry="3.1" fill="#abc4dd" fill-opacity="1.0"/>
<ellipse cx="1192.1" cy="137.8" rx="3.7" ry="3.2" fill="#b2c9e0" fill-opacity="1.0"/>
<ellipse cx="1043.4" cy="144.9" rx="3.7" ry="3.3" fill="#b2c9e0" fill-opacity="1.0"/>
<ellipse cx="1054.0" cy="149.4" rx="3.1" ry="2.7" fill="#b2c9e0" fill-opacity="1.0"/>
<ellipse cx="1074.7" cy="143.3" rx="2.4" ry="2.1" fill="#b2c9e0" fill-opacity="1.0"/>
<ellipse cx="1081.7" cy="150.9" rx="2.7" ry="2.4" fill="#b2c9e0" fill-opacity="1.0"/>
<ellipse cx="1097.7" cy="152.4" rx="2.8" ry="2.5" fill="#9fbbd8" fill-opacity="1.0"/>
<ellipse cx="1116.9" cy="146.3" rx="3.2" ry="2.8" fill="#9fbbd8" fill-opacity="1.0"/>
<ellipse cx="1124.9" cy="147.0" rx="2.6" ry="2.3" fill="#9fbbd8" fill-opacity="1.0"/>
<ellipse cx="1138.7" cy="148.9" rx="3.1" ry="2.8" fill="#b2c9e0" fill-opacity="1.0"/>
<ellipse cx="1154.2" cy="153.0" rx="3.9" ry="3.4" fill="#9fbbd8" fill-opacity="1.0"/>
<ellipse cx="1168.1" cy="144.4" rx="3.4" ry="3.0" fill="#abc4dd" fill-opacity="1.0"/>
<ellipse cx="1182.0" cy="143.1" rx="3.7" ry="3.3" fill="#b2c9e0" fill-opacity="1.0"/>
<ellipse cx="1186.8" cy="146.6" rx="2.5" ry="2.2" fill="#a8c2dc" fill-opacity="1.0"/>
<ellipse cx="1045.6" cy="161.6" rx="3.5" ry="3.1" fill="#b2c9e0" fill-opacity="1.0"/>
<ellipse cx="1056.1" cy="166.1" rx="3.8" ry="3.3" fill="#a8c2dc" fill-opacity="1.0"/>
<ellipse cx="1076.3" cy="156.6" rx="2.8" ry="2.5" fill="#a8c2dc" fill-opacity="1.0"/>
<ellipse cx="1083.8" cy="164.2" rx="3.7" ry="3.3" fill="#abc4dd" fill-opacity="1.0"/>
<ellipse cx="1093.1" cy="157.5" rx="3.0" ry="2.6" fill="#9fbbd8" fill-opacity="1.0"/>
<ellipse cx="1113.9" cy="157.6" rx="2.9" ry="2.6" fill="#a8c2dc" fill-opacity="1.0"/>
<ellipse cx="1126.8" cy="155.9" rx="2.6" ry="2.3" fill="#abc4dd" fill-opacity="1.0"/>
<ellipse cx="1138.5" cy="163.5" rx="2.5" ry="2.2" fill="#a8c2dc" fill-opacity="1.0"/>
<ellipse cx="1154.7" cy="156.2" rx="3.7" ry="3.3" fill="#b2c9e0" fill-opacity="1.0"/>
<ellipse cx="1161.6" cy="162.3" rx="2.8" ry="2.5" fill="#7a4a22" fill-opacity="1.0"/>
<ellipse cx="1184.0" cy="160.2" rx="3.5" ry="3.1" fill="#9fbbd8" fill-opacity="1.0"/>
<ellipse cx="1194.4" cy="164.6" rx="2.7" ry="2.4" fill="#abc4dd" fill-opacity="1.0"/>
<ellipse cx="1044.0" cy="173.5" rx="3.3" ry="2.9" fill="#abc4dd" fill-opacity="1.0"/>
<ellipse cx="1060.3" cy="168.9" rx="3.7" ry="3.2" fill="#b2c9e0" fill-opacity="1.0"/>
<ellipse cx="1068.7" cy="179.6" rx="2.5" ry="2.2" fill="#7a4a22" fill-opacity="1.0"/>
<ellipse cx="1082.0" cy="171.5" rx="3.2" ry="2.8" fill="#abc4dd" fill-opacity="1.0"/>
<ellipse cx="1103.4" cy="168.6" rx="2.5" ry="2.2" fill="#7a4a22" fill-opacity="1.0"/>
<ellipse cx="1113.0" cy="171.1" rx="3.6" ry="3.2" fill="#b2c9e0" fill-opacity="1.0"/>
<ellipse cx="1121.3" cy="172.7" rx="2.5" ry="2.2" fill="#b2c9e0" fill-opacity="1.0"/>
<ellipse cx="1142.0" cy="179.7" rx="3.5" ry="3.1" fill="#b2c9e0" fill-opacity="1.0"/>
<ellipse cx="1156.9" cy="170.1" rx="3.5" ry="3.1" fill="#9fbbd8" fill-opacity="1.0"/>
<ellipse cx="1166.3" cy="173.8" rx="3.2" ry="2.8" fill="#b2c9e0" fill-opacity="1.0"/>
<ellipse cx="1174.7" cy="172.4" rx="4.0" ry="3.5" fill="#9fbbd8" fill-opacity="1.0"/>
<ellipse cx="1193.1" cy="170.0" rx="2.9" ry="2.5" fill="#9fbbd8" fill-opacity="1.0"/>
<ellipse cx="1044.3" cy="192.0" rx="3.7" ry="3.2" fill="#abc4dd" fill-opacity="1.0"/>
<ellipse cx="1060.1" cy="190.4" rx="2.6" ry="2.3" fill="#b2c9e0" fill-opacity="1.0"/>
<ellipse cx="1067.2" cy="185.5" rx="2.8" ry="2.5" fill="#9fbbd8" fill-opacity="1.0"/>
<ellipse cx="1078.7" cy="191.5" rx="3.0" ry="2.7" fill="#9fbbd8" fill-opacity="1.0"/>
<ellipse cx="1096.1" cy="186.3" rx="3.1" ry="2.7" fill="#9fbbd8" fill-opacity="1.0"/>
<ellipse cx="1115.9" cy="188.1" rx="3.8" ry="3.3" fill="#9fbbd8" fill-opacity="1.0"/>
<ellipse cx="1127.9" cy="189.5" rx="3.7" ry="3.2" fill="#b2c9e0" fill-opacity="1.0"/>
<ellipse cx="1136.0" cy="183.9" rx="2.6" ry="2.3" fill="#b2c9e0" fill-opacity="1.0"/>
<ellipse cx="1153.8" cy="186.3" rx="2.5" ry="2.2" fill="#a8c2dc" fill-opacity="1.0"/>
<ellipse cx="1165.4" cy="182.4" rx="3.4" ry="3.0" fill="#b2c9e0" fill-opacity="1.0"/>
<ellipse cx="1174.4" cy="186.1" rx="2.5" ry="2.2" fill="#b2c9e0" fill-opacity="1.0"/>
<ellipse cx="1189.4" cy="186.6" rx="3.6" ry="3.2" fill="#b2c9e0" fill-opacity="1.0"/>
<ellipse cx="1049.4" cy="198.7" rx="3.2" ry="2.8" fill="#b2c9e0" fill-opacity="1.0"/>
<ellipse cx="1058.6" cy="195.9" rx="3.8" ry="3.4" fill="#abc4dd" fill-opacity="1.0"/>
<ellipse cx="1066.6" cy="196.5" rx="4.0" ry="3.5" fill="#a8c2dc" fill-opacity="1.0"/>
<ellipse cx="1087.0" cy="195.5" rx="3.7" ry="3.3" fill="#b2c9e0" fill-opacity="1.0"/>
<ellipse cx="1097.3" cy="203.8" rx="2.8" ry="2.5" fill="#abc4dd" fill-opacity="1.0"/>
<ellipse cx="1108.1" cy="205.6" rx="3.6" ry="3.2" fill="#9fbbd8" fill-opacity="1.0"/>
<ellipse cx="1127.0" cy="198.6" rx="2.4" ry="2.1" fill="#b2c9e0" fill-opacity="1.0"/>
<ellipse cx="1142.3" cy="204.2" rx="4.0" ry="3.5" fill="#b2c9e0" fill-opacity="1.0"/>
<ellipse cx="1156.8" cy="199.2" rx="3.2" ry="2.8" fill="#9fbbd8" fill-opacity="1.0"/>
<ellipse cx="1166.9" cy="195.6" rx="3.0" ry="2.6" fill="#b2c9e0" fill-opacity="1.0"/>
<ellipse cx="1175.9" cy="204.4" rx="3.0" ry="2.6" fill="#b2c9e0" fill-opacity="1.0"/>
<ellipse cx="1198.2" cy="200.5" rx="3.7" ry="3.3" fill="#a8c2dc" fill-opacity="1.0"/>
<ellipse cx="1042.4" cy="209.0" rx="2.9" ry="2.6" fill="#abc4dd" fill-opacity="1.0"/>
<ellipse cx="1051.7" cy="218.7" rx="2.5" ry="2.2" fill="#9fbbd8" fill-opacity="1.0"/>
<ellipse cx="1072.7" cy="211.5" rx="2.6" ry="2.3" fill="#b2c9e0" fill-opacity="1.0"/>
<ellipse cx="1080.9" cy="220.5" rx="3.0" ry="2.7" fill="#9fbbd8" fill-opacity="1.0"/>
<ellipse cx="1097.4" cy="215.0" rx="3.7" ry="3.3" fill="#a8c2dc" fill-opacity="1.0"/>
<ellipse cx="1108.8" cy="212.3" rx="2.5" ry="2.2" fill="#9fbbd8" fill-opacity="1.0"/>
<ellipse cx="1124.6" cy="218.5" rx="3.3" ry="2.9" fill="#9fbbd8" fill-opacity="1.0"/>
<ellipse cx="1132.7" cy="210.6" rx="2.6" ry="2.3" fill="#9fbbd8" fill-opacity="1.0"/>
<ellipse cx="1151.9" cy="219.1" rx="3.2" ry="2.9" fill="#b2c9e0" fill-opacity="1.0"/>
<ellipse cx="1166.3" cy="218.3" rx="2.7" ry="2.4" fill="#abc4dd" fill-opacity="1.0"/>
<ellipse cx="1184.1" cy="210.6" rx="3.9" ry="3.4" fill="#7a4a22" fill-opacity="1.0"/>
<ellipse cx="1197.7" cy="208.8" rx="3.1" ry="2.7" fill="#b2c9e0" fill-opacity="1.0"/>
<ellipse cx="1039.8" cy="226.7" rx="3.8" ry="3.3" fill="#b2c9e0" fill-opacity="1.0"/>
<ellipse cx="1054.4" cy="231.7" rx="2.7" ry="2.4" fill="#9fbbd8" fill-opacity="1.0"/>
<ellipse cx="1072.7" cy="231.5" rx="3.9" ry="3.4" fill="#b2c9e0" fill-opacity="1.0"/>
<ellipse cx="1081.0" cy="227.2" rx="3.6" ry="3.2" fill="#7a4a22" fill-opacity="1.0"/>
<ellipse cx="1094.0" cy="233.5" rx="2.5" ry="2.2" fill="#b2c9e0" fill-opacity="1.0"/>
<ellipse cx="1115.1" cy="228.1" rx="3.0" ry="2.6" fill="#b2c9e0" fill-opacity="1.0"/>
<ellipse cx="1129.4" cy="229.4" rx="3.8" ry="3.3" fill="#abc4dd" fill-opacity="1.0"/>
<ellipse cx="1140.7" cy="233.9" rx="2.8" ry="2.5" fill="#a8c2dc" fill-opacity="1.0"/>
<ellipse cx="1147.5" cy="229.5" rx="3.6" ry="3.1" fill="#9fbbd8" fill-opacity="1.0"/>
<ellipse cx="1169.6" cy="228.3" rx="3.7" ry="3.2" fill="#9fbbd8" fill-opacity="1.0"/>
<ellipse cx="1182.6" cy="223.2" rx="4.0" ry="3.5" fill="#abc4dd" fill-opacity="1.0"/>
<ellipse cx="1195.8" cy="224.8" rx="2.9" ry="2.6" fill="#b2c9e0" fill-opacity="1.0"/>
<ellipse cx="1048.1" cy="238.6" rx="3.9" ry="3.5" fill="#abc4dd" fill-opacity="1.0"/>
<ellipse cx="1059.3" cy="246.1" rx="3.6" ry="3.2" fill="#abc4dd" fill-opacity="1.0"/>
<ellipse cx="1072.7" cy="244.5" rx="2.6" ry="2.3" fill="#9fbbd8" fill-opacity="1.0"/>
<ellipse cx="1081.1" cy="240.2" rx="2.6" ry="2.3" fill="#b2c9e0" fill-opacity="1.0"/>
<ellipse cx="1099.8" cy="246.8" rx="2.8" ry="2.5" fill="#a8c2dc" fill-opacity="1.0"/>
<ellipse cx="1106.4" cy="243.6" rx="3.2" ry="2.8" fill="#abc4dd" fill-opacity="1.0"/>
<ellipse cx="1124.7" cy="236.4" rx="2.8" ry="2.5" fill="#b2c9e0" fill-opacity="1.0"/>
<ellipse cx="1133.9" cy="247.0" rx="2.9" ry="2.6" fill="#b2c9e0" fill-opacity="1.0"/>
<ellipse cx="1156.3" cy="240.2" rx="3.7" ry="3.3" fill="#9fbbd8" fill-opacity="1.0"/>
<ellipse cx="1164.2" cy="244.9" rx="3.6" ry="3.2" fill="#9fbbd8" fill-opacity="1.0"/>
<ellipse cx="1173.4" cy="242.1" rx="3.7" ry="3.3" fill="#b2c9e0" fill-opacity="1.0"/>
<ellipse cx="1198.7" cy="240.2" rx="3.8" ry="3.4" fill="#9fbbd8" fill-opacity="1.0"/>
<ellipse cx="1046.4" cy="255.0" rx="2.5" ry="2.2" fill="#b2c9e0" fill-opacity="1.0"/>
<ellipse cx="1056.5" cy="251.6" rx="3.3" ry="2.9" fill="#7a4a22" fill-opacity="1.0"/>
<ellipse cx="1067.2" cy="253.2" rx="3.7" ry="3.2" fill="#9fbbd8" fill-opacity="1.0"/>
<ellipse cx="1082.9" cy="255.8" rx="3.8" ry="3.4" fill="#abc4dd" fill-opacity="1.0"/>
<ellipse cx="1098.9" cy="259.9" rx="3.6" ry="3.2" fill="#b2c9e0" fill-opacity="1.0"/>
<ellipse cx="1114.7" cy="257.2" rx="3.4" ry="3.0" fill="#a8c2dc" fill-opacity="1.0"/>
<ellipse cx="1125.6" cy="259.1" rx="3.3" ry="2.9" fill="#a8c2dc" fill-opacity="1.0"/>
<ellipse cx="1134.7" cy="249.6" rx="2.4" ry="2.1" fill="#abc4dd" fill-opacity="1.0"/>
<ellipse cx="1153.1" cy="251.5" rx="2.8" ry="2.5" fill="#a8c2dc" fill-opacity="1.0"/>
<ellipse cx="1168.5" cy="257.7" rx="3.8" ry="3.4" fill="#abc4dd" fill-opacity="1.0"/>
<ellipse cx="1181.8" cy="251.3" rx="2.4" ry="2.1" fill="#7a4a22" fill-opacity="1.0"/>
<ellipse cx="1197.3" cy="253.5" rx="2.7" ry="2.4" fill="#9fbbd8" fill-opacity="1.0"/>
<ellipse cx="1044.0" cy="270.4" rx="3.2" ry="2.8" fill="#b2c9e0" fill-opacity="1.0"/>
<ellipse cx="1059.2" cy="264.2" rx="3.6" ry="3.1" fill="#9fbbd8" fill-opacity="1.0"/>
<ellipse cx="1065.8" cy="273.5" rx="2.7" ry="2.4" fill="#abc4dd" fill-opacity="1.0"/>
<ellipse cx="1081.9" cy="270.4" rx="4.0" ry="3.5" fill="#abc4dd" fill-opacity="1.0"/>
<ellipse cx="1100.2" cy="268.8" rx="3.2" ry="2.9" fill="#b2c9e0" fill-opacity="1.0"/>
<ellipse cx="1108.9" cy="274.5" rx="2.9" ry="2.5" fill="#9fbbd8" fill-opacity="1.0"/>
<ellipse cx="1128.3" cy="263.8" rx="3.6" ry="3.2" fill="#9fbbd8" fill-opacity="1.0"/>
<ellipse cx="1143.6" cy="264.6" rx="2.8" ry="2.5" fill="#abc4dd" fill-opacity="1.0"/>
<ellipse cx="1152.3" cy="272.6" rx="4.0" ry="3.5" fill="#a8c2dc" fill-opacity="1.0"/>
<ellipse cx="1160.6" cy="264.0" rx="3.1" ry="2.7" fill="#b2c9e0" fill-opacity="1.0"/>
<ellipse cx="1174.3" cy="271.0" rx="3.0" ry="2.6" fill="#b2c9e0" fill-opacity="1.0"/>
<ellipse cx="1189.9" cy="266.4" rx="3.0" ry="2.7" fill="#9fbbd8" fill-opacity="1.0"/>
</g>
<clipPath id="clip7"><rect x="868.5" y="287" width="162" height="162"/></clipPath>
<g clip-path="url(#clip7)">
<rect x="868.5" y="287.0" width="162.0" height="162.0" fill="#96a0d6" />
<filter id="tf7" x="0" y="0" width="100%" height="100%" color-interpolation-filters="sRGB"><feTurbulence type="fractalNoise" baseFrequency="0.09" numOctaves="3" seed="7" result="n"/><feColorMatrix in="n" type="matrix" values="0 0 0 0 0.275  0 0 0 0 0.333  0 0 0 0 0.706  1.4 0 0 0 -0.55"/></filter>
<rect x="868.5" y="287" width="162" height="162" filter="url(#tf7)"/>
<filter id="tg7" x="0" y="0" width="100%" height="100%" color-interpolation-filters="sRGB"><feTurbulence type="fractalNoise" baseFrequency="0.2" numOctaves="3" seed="57" result="n"/><feColorMatrix in="n" type="matrix" values="0 0 0 0 0.784  0 0 0 0 0.804  0 0 0 0 0.941  1.5 0 0 0 -0.7"/></filter>
<rect x="868.5" y="287" width="162" height="162" filter="url(#tg7)"/>
<filter id="tm7" x="0" y="0" width="100%" height="100%" color-interpolation-filters="sRGB"><feTurbulence type="fractalNoise" baseFrequency="0.09" numOctaves="2" seed="97" result="n"/><feComponentTransfer in="n" result="t"><feFuncR type="table" tableValues="0 1 0 0 1 0 0 1 0 0 1 0 0 1 0"/></feComponentTransfer><feColorMatrix in="t" type="matrix" values="0 0 0 0 0.804  0 0 0 0 0.824  0 0 0 0 0.941  0.5 0 0 0 0"/></filter>
<rect x="868.5" y="287" width="162" height="162" filter="url(#tm7)"/>
<path d="M950.0,401.8 L948.3,397.5 M941.0,376.2 L937.7,368.3 M987.6,417.4 L984.9,421.4 M929.3,393.1 L925.1,388.8 M938.1,357.7 L943.8,352.6 M994.5,366.4 L996.6,372.7 M971.0,412.3 L959.7,413.9 M962.7,420.0 L956.4,416.1 M948.2,376.8 L946.2,371.3 M953.8,359.3 L959.4,352.0 M940.8,387.5 L945.0,378.1 M952.4,415.4 L942.9,408.3 M962.2,358.4 L967.0,360.2 M931.1,393.9 L925.3,387.8 M988.9,421.9 L979.8,420.7 M984.4,356.3 L992.4,361.2 M942.0,369.8 L952.9,363.6 M932.3,384.4 L926.0,376.2 M940.4,354.3 L946.8,352.7 M934.8,398.7 L927.5,395.1 M967.8,411.7 L957.9,416.3 M972.7,415.1 L960.9,416.0 M980.5,419.0 L968.6,419.4 M975.5,344.6 L982.8,341.8 M932.4,404.7 L933.8,399.5 M965.9,413.6 L957.6,414.6 M946.6,370.6 L944.8,363.1 M938.1,400.4 L941.2,390.7 M934.5,377.8 L936.6,373.9 M991.6,348.6 L998.2,357.6 M940.3,396.0 L932.4,390.4 M981.9,411.1 L977.6,414.5 M950.7,399.2 L945.5,398.0 M976.9,417.5 L968.5,425.9 M950.9,369.3 L952.7,362.4 M947.8,397.4 L949.3,384.5 M936.5,385.7 L933.5,381.8 M946.4,401.1 L946.3,395.6 M994.2,426.2 L989.1,427.9 M948.8,377.6 L953.6,365.7 M984.1,348.6 L991.3,347.1 M964.0,424.2 L953.5,420.8 M948.2,402.0 L947.0,389.2 M982.4,346.1 L990.9,352.5 M955.8,415.9 L951.7,414.6 M987.9,414.0 L980.3,420.9 M997.7,358.5 L1001.2,370.9 M996.4,359.8 L1002.4,360.6 M963.3,412.2 L953.3,405.4 M979.3,352.3 L989.9,355.9 M980.3,423.2 L970.9,417.4 M963.9,353.9 L971.4,345.7 M936.8,408.0 L938.1,400.5 M927.7,397.8 L928.1,392.2 M973.2,413.2 L964.9,405.6 M967.9,426.1 L962.0,418.1 M940.0,402.9 L936.4,401.0 M1002.5,356.6 L1012.0,364.6 M927.9,391.6 L930.2,386.1 M955.1,410.2 L946.1,408.2 M952.4,411.6 L940.2,410.6 M941.6,401.6 L937.4,390.2 M927.4,394.1 L925.7,385.5 M948.2,379.6 L949.1,374.1 M996.5,422.1 L991.9,428.9 M959.1,353.8 L965.7,348.2 M933.2,370.5 L931.2,361.7 M955.8,410.2 L951.6,402.7 M934.2,369.6 L941.3,365.9 M944.2,365.2 L950.5,357.2 M935.4,387.8 L934.3,375.4 M951.1,350.2 L957.4,351.3 M930.2,368.5 L934.5,365.5 M973.5,419.0 L968.5,422.6 M982.5,423.1 L971.0,419.5 M966.7,423.6 L962.0,421.3 M989.5,344.1 L1001.9,341.9 M938.1,395.7 L943.5,385.6 M966.9,417.9 L960.1,416.1 M962.4,414.3 L959.4,411.5 M940.4,373.3 L937.9,366.8 M945.3,363.8 L945.4,350.9 M968.6,342.9 L973.2,338.4 M989.6,424.0 L985.5,427.2 M927.4,393.8 L929.5,387.8 M966.8,427.8 L957.0,424.7 M978.3,411.4 L970.7,409.6 M983.6,428.4 L972.4,427.7 M980.9,427.0 L972.7,435.4 M939.9,387.4 L940.3,375.1 M955.6,406.4 L951.2,402.2 M975.7,413.5 L971.3,417.3 M948.3,404.8 L946.6,398.4 M943.9,381.6 L943.6,377.5 M959.1,405.9 L954.3,398.3 M962.1,417.5 L959.6,413.2 M975.6,353.1 L987.1,352.9 M937.9,396.6 L937.7,383.7 M935.1,406.8 L933.1,397.3 M940.9,394.1 L936.6,391.2 M983.3,424.5 L978.6,427.3 M980.8,426.8 L971.9,422.0 M952.4,406.9 L945.0,403.5 M967.5,418.3 L955.0,420.3 M1001.3,358.4 L1013.6,361.6 M947.6,405.7 L940.2,405.1 M936.1,384.4 L932.5,376.7 M991.0,412.6 L987.6,419.4 M984.2,409.7 L979.2,413.2 M941.1,368.3 L949.0,362.4 M954.2,348.7 L959.8,344.6 M996.9,365.5 L1001.6,374.1 M989.1,425.3 L980.0,422.0 M958.3,348.6 L963.3,341.4 M929.1,378.8 L936.1,369.8 M933.7,364.9 L941.1,357.9 M961.1,407.4 L953.8,407.7 M976.5,426.8 L966.9,426.0 M942.6,361.3 L945.2,358.2 M971.2,347.1 L980.0,346.2 M956.5,366.6 L962.4,364.6 M980.9,415.3 L975.2,414.0 M958.1,345.2 L965.1,342.5 M931.9,383.6 L936.5,375.1 M954.7,367.7 L956.1,361.6 M964.1,357.4 L968.1,356.5 M983.0,415.0 L972.8,414.3 M955.0,361.9 L961.7,357.2 M944.9,385.8 L948.4,381.1 M1007.8,352.9 L1015.9,352.3 M975.7,342.5 L982.1,342.0 M954.1,424.7 L944.9,424.8 M969.9,420.3 L966.5,416.3 M975.8,351.6 L984.2,357.6 M950.5,421.9 L946.8,419.8 M993.5,416.6 L987.7,420.0 M970.7,416.8 L959.2,418.5 M996.4,421.0 L991.4,420.6 M996.0,351.6 L998.9,357.5 M941.6,398.6 L945.2,390.0 M941.7,400.4 L938.4,397.4 M977.1,426.8 L965.5,431.3 M955.8,410.0 L951.2,406.5 M929.5,402.8 L932.0,391.8 M939.2,357.6 L948.1,356.5 M963.2,363.2 L971.3,362.6 M963.1,350.6 L966.7,348.0 M990.0,362.0 L996.5,364.9 M942.2,412.0 L942.4,405.7 M952.5,363.4 L958.6,358.9 M967.6,412.5 L955.7,415.0 M942.9,381.9 L952.2,372.8 M944.5,387.7 L941.9,383.6 M949.8,399.4 L944.7,395.7 M932.3,367.3 L938.2,362.3 M936.5,393.6 L933.7,387.2 M982.8,415.2 L978.5,412.5 M933.7,379.7 L937.8,375.4 M953.5,408.0 L946.7,403.7 M1002.4,351.7 L1004.0,355.6 M990.5,422.3 L982.6,419.8 M951.7,373.5 L956.1,362.0 M976.9,344.8 L981.3,349.1 M975.7,413.4 L965.6,412.9 M998.7,352.7 L1006.5,360.2 M934.9,387.1 L927.3,379.1 M950.0,422.2 L945.2,417.4 M972.9,415.2 L963.1,412.0 M975.3,411.7 L966.1,411.1 M944.4,395.4 L943.6,391.4 M934.6,353.5 L942.9,351.3 M950.4,353.9 L950.9,359.6 M952.4,359.6 L951.0,363.5 M940.0,358.9 L934.9,361.7 M944.5,365.1 L945.1,369.3 M935.6,352.5 L933.4,347.6 M948.0,360.5 L942.6,360.3 M952.7,349.8 L955.1,344.7 M932.5,361.0 L929.5,371.3 M939.9,346.7 L941.0,353.5 M944.5,365.7 L948.6,371.1 M932.2,366.4 L935.0,369.7 M928.1,351.8 L936.3,345.7 M946.3,366.9 L952.0,364.3 M931.5,365.4 L931.4,361.2 M944.4,351.5 L940.0,356.0 M931.1,342.1 L929.9,348.4 M952.3,345.1 L957.6,343.9 M936.1,362.5 L939.2,356.2 M927.8,353.8 L920.6,361.3 M931.7,351.1 L935.1,348.6 M937.6,362.3 L938.0,358.0 M927.4,343.6 L932.5,340.8 M946.7,364.5 L943.5,369.5 M952.4,357.4 L951.7,366.4 " stroke="#b040b0" stroke-width="1.8" fill="none" stroke-opacity="0.9"/>
<ellipse cx="871.9" cy="290.2" rx="2.0" ry="1.7" fill="#34449e" fill-opacity="1.0"/>
<ellipse cx="879.4" cy="289.8" rx="2.6" ry="2.3" fill="#5060b4" fill-opacity="1.0"/>
<ellipse cx="897.9" cy="291.3" rx="2.3" ry="2.0" fill="#5060b4" fill-opacity="1.0"/>
<ellipse cx="906.8" cy="288.8" rx="2.6" ry="2.3" fill="#34449e" fill-opacity="1.0"/>
<ellipse cx="916.8" cy="294.7" rx="3.0" ry="2.7" fill="#3e4ea8" fill-opacity="1.0"/>
<ellipse cx="925.2" cy="290.7" rx="2.4" ry="2.1" fill="#2e3c94" fill-opacity="1.0"/>
<ellipse cx="936.9" cy="293.3" rx="2.6" ry="2.3" fill="#5060b4" fill-opacity="1.0"/>
<ellipse cx="946.7" cy="289.9" rx="2.0" ry="1.8" fill="#34449e" fill-opacity="1.0"/>
<ellipse cx="954.4" cy="292.8" rx="2.2" ry="1.9" fill="#5060b4" fill-opacity="1.0"/>
<ellipse cx="968.2" cy="297.1" rx="2.3" ry="2.0" fill="#34449e" fill-opacity="1.0"/>
<ellipse cx="972.2" cy="291.6" rx="3.2" ry="2.8" fill="#5060b4" fill-opacity="1.0"/>
<ellipse cx="982.0" cy="288.8" rx="2.5" ry="2.2" fill="#3e4ea8" fill-opacity="1.0"/>
<ellipse cx="997.3" cy="295.8" rx="2.8" ry="2.5" fill="#34449e" fill-opacity="1.0"/>
<ellipse cx="1007.7" cy="290.4" rx="2.3" ry="2.0" fill="#2e3c94" fill-opacity="1.0"/>
<ellipse cx="1014.2" cy="294.7" rx="2.2" ry="1.9" fill="#3e4ea8" fill-opacity="1.0"/>
<ellipse cx="1022.6" cy="289.8" rx="2.3" ry="2.0" fill="#3e4ea8" fill-opacity="1.0"/>
<ellipse cx="872.0" cy="302.2" rx="3.2" ry="2.9" fill="#3e4ea8" fill-opacity="1.0"/>
<ellipse cx="885.1" cy="299.3" rx="2.6" ry="2.2" fill="#34449e" fill-opacity="1.0"/>
<ellipse cx="890.2" cy="303.0" rx="3.0" ry="2.7" fill="#5060b4" fill-opacity="1.0"/>
<ellipse cx="907.7" cy="298.7" rx="2.3" ry="2.1" fill="#34449e" fill-opacity="1.0"/>
<ellipse cx="910.0" cy="304.2" rx="3.0" ry="2.7" fill="#3e4ea8" fill-opacity="1.0"/>
<ellipse cx="928.1" cy="302.0" rx="3.1" ry="2.7" fill="#5060b4" fill-opacity="1.0"/>
<ellipse cx="935.3" cy="305.9" rx="2.8" ry="2.5" fill="#34449e" fill-opacity="1.0"/>
<ellipse cx="940.8" cy="304.1" rx="2.8" ry="2.4" fill="#3e4ea8" fill-opacity="1.0"/>
<ellipse cx="950.3" cy="301.6" rx="2.0" ry="1.8" fill="#2e3c94" fill-opacity="1.0"/>
<ellipse cx="960.5" cy="305.5" rx="3.1" ry="2.8" fill="#34449e" fill-opacity="1.0"/>
<ellipse cx="977.7" cy="302.3" rx="2.4" ry="2.1" fill="#2e3c94" fill-opacity="1.0"/>
<ellipse cx="981.1" cy="298.6" rx="2.6" ry="2.3" fill="#5060b4" fill-opacity="1.0"/>
<ellipse cx="991.1" cy="299.3" rx="2.5" ry="2.2" fill="#3e4ea8" fill-opacity="1.0"/>
<ellipse cx="1006.5" cy="299.2" rx="2.2" ry="1.9" fill="#2e3c94" fill-opacity="1.0"/>
<ellipse cx="1014.5" cy="301.1" rx="2.3" ry="2.1" fill="#34449e" fill-opacity="1.0"/>
<ellipse cx="1023.7" cy="303.8" rx="2.4" ry="2.1" fill="#5060b4" fill-opacity="1.0"/>
<ellipse cx="869.2" cy="316.6" rx="3.0" ry="2.6" fill="#3e4ea8" fill-opacity="1.0"/>
<ellipse cx="882.7" cy="313.1" rx="3.2" ry="2.8" fill="#5060b4" fill-opacity="1.0"/>
<ellipse cx="897.5" cy="313.3" rx="3.0" ry="2.7" fill="#5060b4" fill-opacity="1.0"/>
<ellipse cx="904.6" cy="312.7" rx="3.0" ry="2.6" fill="#3e4ea8" fill-opacity="1.0"/>
<ellipse cx="909.6" cy="314.5" rx="2.8" ry="2.4" fill="#5060b4" fill-opacity="1.0"/>
<ellipse cx="920.4" cy="315.2" rx="2.4" ry="2.1" fill="#3e4ea8" fill-opacity="1.0"/>
<ellipse cx="931.1" cy="311.9" rx="2.6" ry="2.3" fill="#34449e" fill-opacity="1.0"/>
<ellipse cx="940.9" cy="313.9" rx="3.0" ry="2.6" fill="#3e4ea8" fill-opacity="1.0"/>
<ellipse cx="952.8" cy="317.3" rx="2.0" ry="1.8" fill="#5060b4" fill-opacity="1.0"/>
<ellipse cx="963.0" cy="315.0" rx="2.8" ry="2.4" fill="#34449e" fill-opacity="1.0"/>
<ellipse cx="978.5" cy="315.2" rx="3.0" ry="2.7" fill="#3e4ea8" fill-opacity="1.0"/>
<ellipse cx="986.2" cy="317.5" rx="2.8" ry="2.4" fill="#3e4ea8" fill-opacity="1.0"/>
<ellipse cx="998.1" cy="310.9" rx="2.2" ry="2.0" fill="#5060b4" fill-opacity="1.0"/>
<ellipse cx="1009.2" cy="310.7" rx="2.4" ry="2.1" fill="#3e4ea8" fill-opacity="1.0"/>
<ellipse cx="1013.0" cy="316.2" rx="3.1" ry="2.7" fill="#34449e" fill-opacity="1.0"/>
<ellipse cx="1028.9" cy="317.3" rx="2.8" ry="2.5" fill="#2e3c94" fill-opacity="1.0"/>
<ellipse cx="870.1" cy="325.8" rx="2.7" ry="2.3" fill="#2e3c94" fill-opacity="1.0"/>
<ellipse cx="885.0" cy="322.9" rx="2.3" ry="2.0" fill="#5060b4" fill-opacity="1.0"/>
<ellipse cx="895.3" cy="324.3" rx="2.5" ry="2.2" fill="#34449e" fill-opacity="1.0"/>
<ellipse cx="899.4" cy="329.5" rx="2.6" ry="2.2" fill="#5060b4" fill-opacity="1.0"/>
<ellipse cx="916.5" cy="327.5" rx="2.5" ry="2.2" fill="#3e4ea8" fill-opacity="1.0"/>
<ellipse cx="927.0" cy="323.8" rx="2.0" ry="1.8" fill="#2e3c94" fill-opacity="1.0"/>
<ellipse cx="933.7" cy="320.8" rx="2.5" ry="2.2" fill="#34449e" fill-opacity="1.0"/>
<ellipse cx="940.3" cy="321.2" rx="3.1" ry="2.8" fill="#2e3c94" fill-opacity="1.0"/>
<ellipse cx="957.1" cy="324.9" rx="2.0" ry="1.8" fill="#5060b4" fill-opacity="1.0"/>
<ellipse cx="966.1" cy="327.6" rx="2.0" ry="1.7" fill="#34449e" fill-opacity="1.0"/>
<ellipse cx="979.3" cy="327.1" rx="3.0" ry="2.6" fill="#3e4ea8" fill-opacity="1.0"/>
<ellipse cx="981.6" cy="328.5" rx="2.3" ry="2.0" fill="#3e4ea8" fill-opacity="1.0"/>
<ellipse cx="996.8" cy="326.9" rx="2.2" ry="2.0" fill="#2e3c94" fill-opacity="1.0"/>
<ellipse cx="1006.2" cy="322.4" rx="2.4" ry="2.1" fill="#2e3c94" fill-opacity="1.0"/>
<ellipse cx="1019.0" cy="324.4" rx="2.3" ry="2.0" fill="#5060b4" fill-opacity="1.0"/>
<ellipse cx="1022.8" cy="322.5" rx="2.6" ry="2.3" fill="#2e3c94" fill-opacity="1.0"/>
<ellipse cx="872.4" cy="332.7" rx="2.5" ry="2.2" fill="#2e3c94" fill-opacity="1.0"/>
<ellipse cx="885.3" cy="339.4" rx="2.2" ry="1.9" fill="#2e3c94" fill-opacity="1.0"/>
<ellipse cx="890.3" cy="335.9" rx="2.8" ry="2.4" fill="#2e3c94" fill-opacity="1.0"/>
<ellipse cx="908.2" cy="335.1" rx="2.6" ry="2.3" fill="#34449e" fill-opacity="1.0"/>
<ellipse cx="911.8" cy="335.9" rx="3.1" ry="2.7" fill="#2e3c94" fill-opacity="1.0"/>
<ellipse cx="922.0" cy="340.4" rx="2.7" ry="2.4" fill="#2e3c94" fill-opacity="1.0"/>
<ellipse cx="932.8" cy="331.5" rx="2.2" ry="2.0" fill="#34449e" fill-opacity="1.0"/>
<ellipse cx="942.6" cy="335.8" rx="2.4" ry="2.1" fill="#2e3c94" fill-opacity="1.0"/>
<ellipse cx="956.7" cy="338.0" rx="2.2" ry="2.0" fill="#2e3c94" fill-opacity="1.0"/>
<ellipse cx="965.7" cy="334.9" rx="2.6" ry="2.3" fill="#34449e" fill-opacity="1.0"/>
<ellipse cx="971.5" cy="332.9" rx="2.8" ry="2.5" fill="#34449e" fill-opacity="1.0"/>
<ellipse cx="980.9" cy="336.3" rx="2.3" ry="2.1" fill="#2e3c94" fill-opacity="1.0"/>
<ellipse cx="995.4" cy="334.8" rx="2.3" ry="2.1" fill="#3e4ea8" fill-opacity="1.0"/>
<ellipse cx="1002.5" cy="336.8" rx="2.6" ry="2.3" fill="#3e4ea8" fill-opacity="1.0"/>
<ellipse cx="1010.9" cy="338.5" rx="2.9" ry="2.5" fill="#5060b4" fill-opacity="1.0"/>
<ellipse cx="1021.8" cy="336.9" rx="3.1" ry="2.7" fill="#2e3c94" fill-opacity="1.0"/>
<ellipse cx="872.7" cy="344.1" rx="2.0" ry="1.7" fill="#2e3c94" fill-opacity="1.0"/>
<ellipse cx="884.6" cy="347.2" rx="2.7" ry="2.4" fill="#5060b4" fill-opacity="1.0"/>
<ellipse cx="891.5" cy="350.3" rx="2.0" ry="1.8" fill="#34449e" fill-opacity="1.0"/>
<ellipse cx="903.1" cy="343.9" rx="2.0" ry="1.8" fill="#34449e" fill-opacity="1.0"/>
<ellipse cx="909.6" cy="346.9" rx="3.2" ry="2.8" fill="#3e4ea8" fill-opacity="1.0"/>
<ellipse cx="923.4" cy="346.6" rx="2.8" ry="2.5" fill="#5060b4" fill-opacity="1.0"/>
<ellipse cx="937.2" cy="343.2" rx="2.4" ry="2.1" fill="#2e3c94" fill-opacity="1.0"/>
<ellipse cx="945.6" cy="351.2" rx="2.9" ry="2.5" fill="#5060b4" fill-opacity="1.0"/>
<ellipse cx="956.5" cy="341.6" rx="3.0" ry="2.7" fill="#5060b4" fill-opacity="1.0"/>
<ellipse cx="960.9" cy="347.9" rx="2.2" ry="1.9" fill="#34449e" fill-opacity="1.0"/>
<ellipse cx="972.6" cy="347.8" rx="2.1" ry="1.9" fill="#2e3c94" fill-opacity="1.0"/>
<ellipse cx="986.9" cy="344.1" rx="2.7" ry="2.3" fill="#5060b4" fill-opacity="1.0"/>
<ellipse cx="996.8" cy="350.5" rx="3.2" ry="2.8" fill="#2e3c94" fill-opacity="1.0"/>
<ellipse cx="1006.5" cy="350.9" rx="2.2" ry="2.0" fill="#34449e" fill-opacity="1.0"/>
<ellipse cx="1012.3" cy="350.3" rx="3.0" ry="2.7" fill="#3e4ea8" fill-opacity="1.0"/>
<ellipse cx="1029.5" cy="348.8" rx="2.4" ry="2.1" fill="#5060b4" fill-opacity="1.0"/>
<ellipse cx="872.0" cy="354.7" rx="3.1" ry="2.8" fill="#5060b4" fill-opacity="1.0"/>
<ellipse cx="883.4" cy="357.5" rx="2.0" ry="1.7" fill="#34449e" fill-opacity="1.0"/>
<ellipse cx="893.2" cy="359.4" rx="2.7" ry="2.4" fill="#2e3c94" fill-opacity="1.0"/>
<ellipse cx="906.6" cy="356.1" rx="2.7" ry="2.4" fill="#3e4ea8" fill-opacity="1.0"/>
<ellipse cx="910.8" cy="352.6" rx="2.1" ry="1.8" fill="#3e4ea8" fill-opacity="1.0"/>
<ellipse cx="922.8" cy="353.7" rx="2.0" ry="1.7" fill="#34449e" fill-opacity="1.0"/>
<ellipse cx="931.0" cy="358.6" rx="2.0" ry="1.8" fill="#34449e" fill-opacity="1.0"/>
<ellipse cx="946.6" cy="353.0" rx="2.7" ry="2.4" fill="#2e3c94" fill-opacity="1.0"/>
<ellipse cx="951.8" cy="361.6" rx="2.6" ry="2.3" fill="#34449e" fill-opacity="1.0"/>
<ellipse cx="968.1" cy="359.7" rx="2.9" ry="2.5" fill="#5060b4" fill-opacity="1.0"/>
<ellipse cx="971.2" cy="354.3" rx="2.1" ry="1.8" fill="#34449e" fill-opacity="1.0"/>
<ellipse cx="989.0" cy="361.2" rx="2.9" ry="2.6" fill="#34449e" fill-opacity="1.0"/>
<ellipse cx="998.0" cy="358.5" rx="2.3" ry="2.0" fill="#34449e" fill-opacity="1.0"/>
<ellipse cx="1001.8" cy="360.0" rx="2.8" ry="2.5" fill="#2e3c94" fill-opacity="1.0"/>
<ellipse cx="1013.7" cy="356.5" rx="2.0" ry="1.7" fill="#2e3c94" fill-opacity="1.0"/>
<ellipse cx="1029.4" cy="352.8" rx="2.9" ry="2.6" fill="#2e3c94" fill-opacity="1.0"/>
<ellipse cx="876.0" cy="369.0" rx="2.6" ry="2.3" fill="#2e3c94" fill-opacity="1.0"/>
<ellipse cx="884.8" cy="363.4" rx="2.5" ry="2.2" fill="#5060b4" fill-opacity="1.0"/>
<ellipse cx="894.0" cy="364.1" rx="2.6" ry="2.3" fill="#34449e" fill-opacity="1.0"/>
<ellipse cx="904.3" cy="365.2" rx="3.1" ry="2.7" fill="#34449e" fill-opacity="1.0"/>
<ellipse cx="914.7" cy="365.9" rx="2.5" ry="2.2" fill="#3e4ea8" fill-opacity="1.0"/>
<ellipse cx="922.3" cy="370.4" rx="2.0" ry="1.8" fill="#2e3c94" fill-opacity="1.0"/>
<ellipse cx="934.2" cy="367.9" rx="3.0" ry="2.6" fill="#3e4ea8" fill-opacity="1.0"/>
<ellipse cx="948.7" cy="368.9" rx="3.2" ry="2.8" fill="#2e3c94" fill-opacity="1.0"/>
<ellipse cx="955.3" cy="364.7" rx="3.0" ry="2.6" fill="#3e4ea8" fill-opacity="1.0"/>
<ellipse cx="964.7" cy="364.2" rx="2.8" ry="2.4" fill="#34449e" fill-opacity="1.0"/>
<ellipse cx="974.7" cy="372.8" rx="2.7" ry="2.4" fill="#34449e" fill-opacity="1.0"/>
<ellipse cx="986.1" cy="366.6" rx="2.5" ry="2.2" fill="#5060b4" fill-opacity="1.0"/>
<ellipse cx="998.6" cy="370.4" rx="2.5" ry="2.2" fill="#34449e" fill-opacity="1.0"/>
<ellipse cx="1004.0" cy="366.1" rx="2.5" ry="2.2" fill="#3e4ea8" fill-opacity="1.0"/>
<ellipse cx="1014.2" cy="371.7" rx="2.3" ry="2.0" fill="#5060b4" fill-opacity="1.0"/>
<ellipse cx="1022.0" cy="368.9" rx="2.8" ry="2.5" fill="#34449e" fill-opacity="1.0"/>
<ellipse cx="872.2" cy="377.1" rx="2.2" ry="1.9" fill="#5060b4" fill-opacity="1.0"/>
<ellipse cx="885.2" cy="381.2" rx="2.2" ry="1.9" fill="#5060b4" fill-opacity="1.0"/>
<ellipse cx="895.5" cy="376.4" rx="2.3" ry="2.0" fill="#2e3c94" fill-opacity="1.0"/>
<ellipse cx="903.6" cy="382.5" rx="2.3" ry="2.0" fill="#3e4ea8" fill-opacity="1.0"/>
<ellipse cx="911.9" cy="381.3" rx="3.0" ry="2.7" fill="#3e4ea8" fill-opacity="1.0"/>
<ellipse cx="926.2" cy="383.4" rx="2.9" ry="2.5" fill="#2e3c94" fill-opacity="1.0"/>
<ellipse cx="931.2" cy="377.1" rx="2.2" ry="1.9" fill="#34449e" fill-opacity="1.0"/>
<ellipse cx="941.4" cy="380.3" rx="2.2" ry="1.9" fill="#3e4ea8" fill-opacity="1.0"/>
<ellipse cx="959.0" cy="381.7" rx="2.9" ry="2.6" fill="#5060b4" fill-opacity="1.0"/>
<ellipse cx="962.6" cy="375.0" rx="3.1" ry="2.8" fill="#2e3c94" fill-opacity="1.0"/>
<ellipse cx="972.1" cy="377.7" rx="2.0" ry="1.8" fill="#5060b4" fill-opacity="1.0"/>
<ellipse cx="988.2" cy="378.2" rx="2.2" ry="2.0" fill="#2e3c94" fill-opacity="1.0"/>
<ellipse cx="994.7" cy="375.3" rx="2.7" ry="2.4" fill="#5060b4" fill-opacity="1.0"/>
<ellipse cx="1000.7" cy="376.3" rx="3.1" ry="2.7" fill="#5060b4" fill-opacity="1.0"/>
<ellipse cx="1018.5" cy="380.4" rx="2.8" ry="2.5" fill="#3e4ea8" fill-opacity="1.0"/>
<ellipse cx="1027.1" cy="380.2" rx="2.5" ry="2.2" fill="#2e3c94" fill-opacity="1.0"/>
<ellipse cx="871.4" cy="391.6" rx="3.1" ry="2.7" fill="#3e4ea8" fill-opacity="1.0"/>
<ellipse cx="886.3" cy="391.7" rx="2.8" ry="2.4" fill="#2e3c94" fill-opacity="1.0"/>
<ellipse cx="897.0" cy="389.4" rx="2.0" ry="1.7" fill="#5060b4" fill-opacity="1.0"/>
<ellipse cx="904.1" cy="391.2" rx="3.1" ry="2.7" fill="#2e3c94" fill-opacity="1.0"/>
<ellipse cx="916.6" cy="388.5" rx="2.6" ry="2.3" fill="#34449e" fill-opacity="1.0"/>
<ellipse cx="920.0" cy="390.0" rx="2.2" ry="1.9" fill="#3e4ea8" fill-opacity="1.0"/>
<ellipse cx="934.5" cy="385.7" rx="2.7" ry="2.4" fill="#3e4ea8" fill-opacity="1.0"/>
<ellipse cx="946.4" cy="389.7" rx="2.8" ry="2.4" fill="#2e3c94" fill-opacity="1.0"/>
<ellipse cx="954.8" cy="388.7" rx="3.2" ry="2.8" fill="#3e4ea8" fill-opacity="1.0"/>
<ellipse cx="969.2" cy="386.5" rx="2.6" ry="2.3" fill="#34449e" fill-opacity="1.0"/>
<ellipse cx="976.9" cy="390.7" rx="2.8" ry="2.4" fill="#2e3c94" fill-opacity="1.0"/>
<ellipse cx="982.9" cy="388.6" rx="2.0" ry="1.7" fill="#5060b4" fill-opacity="1.0"/>
<ellipse cx="998.8" cy="390.8" rx="2.8" ry="2.5" fill="#2e3c94" fill-opacity="1.0"/>
<ellipse cx="1001.6" cy="387.7" rx="2.5" ry="2.2" fill="#3e4ea8" fill-opacity="1.0"/>
<ellipse cx="1019.8" cy="394.1" rx="2.6" ry="2.2" fill="#3e4ea8" fill-opacity="1.0"/>
<ellipse cx="1022.1" cy="392.3" rx="3.0" ry="2.6" fill="#3e4ea8" fill-opacity="1.0"/>
<ellipse cx="873.3" cy="401.0" rx="2.2" ry="2.0" fill="#3e4ea8" fill-opacity="1.0"/>
<ellipse cx="882.3" cy="401.7" rx="3.0" ry="2.7" fill="#5060b4" fill-opacity="1.0"/>
<ellipse cx="893.5" cy="398.4" rx="2.7" ry="2.3" fill="#3e4ea8" fill-opacity="1.0"/>
<ellipse cx="906.5" cy="400.1" rx="3.0" ry="2.6" fill="#3e4ea8" fill-opacity="1.0"/>
<ellipse cx="911.9" cy="399.2" rx="2.3" ry="2.0" fill="#5060b4" fill-opacity="1.0"/>
<ellipse cx="925.8" cy="400.2" rx="3.0" ry="2.6" fill="#2e3c94" fill-opacity="1.0"/>
<ellipse cx="933.0" cy="401.9" rx="2.4" ry="2.1" fill="#5060b4" fill-opacity="1.0"/>
<ellipse cx="943.8" cy="401.7" rx="2.8" ry="2.5" fill="#2e3c94" fill-opacity="1.0"/>
<ellipse cx="951.4" cy="398.5" rx="2.5" ry="2.2" fill="#34449e" fill-opacity="1.0"/>
<ellipse cx="967.7" cy="404.3" rx="3.0" ry="2.6" fill="#3e4ea8" fill-opacity="1.0"/>
<ellipse cx="975.1" cy="398.9" rx="2.7" ry="2.4" fill="#34449e" fill-opacity="1.0"/>
<ellipse cx="982.3" cy="396.2" rx="2.3" ry="2.1" fill="#34449e" fill-opacity="1.0"/>
<ellipse cx="995.8" cy="403.8" rx="2.2" ry="1.9" fill="#5060b4" fill-opacity="1.0"/>
<ellipse cx="1003.8" cy="397.0" rx="3.1" ry="2.8" fill="#3e4ea8" fill-opacity="1.0"/>
<ellipse cx="1016.3" cy="402.2" rx="3.2" ry="2.8" fill="#34449e" fill-opacity="1.0"/>
<ellipse cx="1027.0" cy="404.2" rx="3.0" ry="2.6" fill="#2e3c94" fill-opacity="1.0"/>
<ellipse cx="870.8" cy="413.1" rx="2.6" ry="2.3" fill="#5060b4" fill-opacity="1.0"/>
<ellipse cx="885.2" cy="407.5" rx="2.1" ry="1.9" fill="#5060b4" fill-opacity="1.0"/>
<ellipse cx="891.4" cy="407.7" rx="2.6" ry="2.3" fill="#34449e" fill-opacity="1.0"/>
<ellipse cx="903.8" cy="415.1" rx="2.9" ry="2.5" fill="#3e4ea8" fill-opacity="1.0"/>
<ellipse cx="914.0" cy="411.6" rx="3.1" ry="2.7" fill="#34449e" fill-opacity="1.0"/>
<ellipse cx="921.1" cy="409.5" rx="2.9" ry="2.5" fill="#5060b4" fill-opacity="1.0"/>
<ellipse cx="935.8" cy="414.5" rx="2.4" ry="2.1" fill="#5060b4" fill-opacity="1.0"/>
<ellipse cx="949.0" cy="412.9" rx="2.2" ry="1.9" fill="#2e3c94" fill-opacity="1.0"/>
<ellipse cx="955.8" cy="406.6" rx="2.7" ry="2.4" fill="#2e3c94" fill-opacity="1.0"/>
<ellipse cx="967.5" cy="407.3" rx="2.6" ry="2.3" fill="#3e4ea8" fill-opacity="1.0"/>
<ellipse cx="970.6" cy="413.3" rx="2.8" ry="2.4" fill="#2e3c94" fill-opacity="1.0"/>
<ellipse cx="981.2" cy="412.7" rx="2.4" ry="2.1" fill="#3e4ea8" fill-opacity="1.0"/>
<ellipse cx="993.1" cy="409.7" rx="2.3" ry="2.0" fill="#34449e" fill-opacity="1.0"/>
<ellipse cx="1008.2" cy="409.2" rx="3.0" ry="2.7" fill="#5060b4" fill-opacity="1.0"/>
<ellipse cx="1013.8" cy="415.9" rx="3.1" ry="2.7" fill="#2e3c94" fill-opacity="1.0"/>
<ellipse cx="1029.8" cy="412.7" rx="3.0" ry="2.6" fill="#2e3c94" fill-opacity="1.0"/>
<ellipse cx="870.8" cy="424.1" rx="2.1" ry="1.9" fill="#34449e" fill-opacity="1.0"/>
<ellipse cx="886.3" cy="417.5" rx="2.9" ry="2.5" fill="#5060b4" fill-opacity="1.0"/>
<ellipse cx="894.2" cy="417.6" rx="2.3" ry="2.1" fill="#34449e" fill-opacity="1.0"/>
<ellipse cx="899.8" cy="425.1" rx="2.6" ry="2.3" fill="#34449e" fill-opacity="1.0"/>
<ellipse cx="916.7" cy="426.0" rx="2.7" ry="2.4" fill="#3e4ea8" fill-opacity="1.0"/>
<ellipse cx="925.3" cy="423.9" rx="2.7" ry="2.4" fill="#34449e" fill-opacity="1.0"/>
<ellipse cx="931.7" cy="423.6" rx="2.5" ry="2.2" fill="#3e4ea8" fill-opacity="1.0"/>
<ellipse cx="940.8" cy="418.9" rx="2.0" ry="1.8" fill="#34449e" fill-opacity="1.0"/>
<ellipse cx="958.3" cy="423.5" rx="2.4" ry="2.1" fill="#3e4ea8" fill-opacity="1.0"/>
<ellipse cx="967.3" cy="422.6" rx="2.3" ry="2.0" fill="#2e3c94" fill-opacity="1.0"/>
<ellipse cx="971.9" cy="417.5" rx="2.0" ry="1.7" fill="#34449e" fill-opacity="1.0"/>
<ellipse cx="984.9" cy="422.2" rx="3.0" ry="2.7" fill="#5060b4" fill-opacity="1.0"/>
<ellipse cx="995.7" cy="426.1" rx="2.5" ry="2.2" fill="#34449e" fill-opacity="1.0"/>
<ellipse cx="1006.8" cy="422.9" rx="3.2" ry="2.9" fill="#3e4ea8" fill-opacity="1.0"/>
<ellipse cx="1015.1" cy="421.1" rx="2.1" ry="1.8" fill="#5060b4" fill-opacity="1.0"/>
<ellipse cx="1022.8" cy="418.6" rx="2.0" ry="1.7" fill="#34449e" fill-opacity="1.0"/>
<ellipse cx="869.1" cy="434.4" rx="3.2" ry="2.8" fill="#34449e" fill-opacity="1.0"/>
<ellipse cx="881.1" cy="429.1" rx="2.6" ry="2.3" fill="#2e3c94" fill-opacity="1.0"/>
<ellipse cx="895.8" cy="430.3" rx="2.9" ry="2.6" fill="#3e4ea8" fill-opacity="1.0"/>
<ellipse cx="907.8" cy="431.5" rx="2.9" ry="2.6" fill="#3e4ea8" fill-opacity="1.0"/>
<ellipse cx="916.2" cy="428.8" rx="2.8" ry="2.4" fill="#5060b4" fill-opacity="1.0"/>
<ellipse cx="923.8" cy="437.0" rx="2.3" ry="2.0" fill="#34449e" fill-opacity="1.0"/>
<ellipse cx="936.3" cy="428.1" rx="2.0" ry="1.7" fill="#34449e" fill-opacity="1.0"/>
<ellipse cx="943.4" cy="431.0" rx="2.7" ry="2.4" fill="#5060b4" fill-opacity="1.0"/>
<ellipse cx="955.6" cy="431.0" rx="3.2" ry="2.8" fill="#5060b4" fill-opacity="1.0"/>
<ellipse cx="964.4" cy="429.6" rx="3.2" ry="2.8" fill="#34449e" fill-opacity="1.0"/>
<ellipse cx="973.6" cy="434.2" rx="2.8" ry="2.4" fill="#5060b4" fill-opacity="1.0"/>
<ellipse cx="984.7" cy="435.5" rx="2.5" ry="2.2" fill="#2e3c94" fill-opacity="1.0"/>
<ellipse cx="997.7" cy="433.4" rx="2.3" ry="2.1" fill="#34449e" fill-opacity="1.0"/>
<ellipse cx="1006.3" cy="434.3" rx="3.0" ry="2.6" fill="#2e3c94" fill-opacity="1.0"/>
<ellipse cx="1018.7" cy="435.0" rx="2.0" ry="1.7" fill="#3e4ea8" fill-opacity="1.0"/>
<ellipse cx="1026.4" cy="430.9" rx="2.5" ry="2.2" fill="#3e4ea8" fill-opacity="1.0"/>
<ellipse cx="872.4" cy="445.4" rx="2.7" ry="2.4" fill="#3e4ea8" fill-opacity="1.0"/>
<ellipse cx="886.5" cy="441.5" rx="2.0" ry="1.7" fill="#2e3c94" fill-opacity="1.0"/>
<ellipse cx="891.7" cy="440.3" rx="3.1" ry="2.8" fill="#34449e" fill-opacity="1.0"/>
<ellipse cx="902.0" cy="440.1" rx="3.1" ry="2.7" fill="#3e4ea8" fill-opacity="1.0"/>
<ellipse cx="912.0" cy="447.0" rx="3.0" ry="2.6" fill="#5060b4" fill-opacity="1.0"/>
<ellipse cx="922.8" cy="439.6" rx="2.7" ry="2.3" fill="#5060b4" fill-opacity="1.0"/>
<ellipse cx="931.6" cy="446.0" rx="3.2" ry="2.8" fill="#3e4ea8" fill-opacity="1.0"/>
<ellipse cx="942.7" cy="439.3" rx="2.5" ry="2.2" fill="#3e4ea8" fill-opacity="1.0"/>
<ellipse cx="958.4" cy="444.4" rx="2.0" ry="1.7" fill="#5060b4" fill-opacity="1.0"/>
<ellipse cx="964.3" cy="439.6" rx="3.0" ry="2.6" fill="#34449e" fill-opacity="1.0"/>
<ellipse cx="972.4" cy="444.4" rx="3.1" ry="2.7" fill="#2e3c94" fill-opacity="1.0"/>
<ellipse cx="984.7" cy="444.5" rx="2.2" ry="1.9" fill="#3e4ea8" fill-opacity="1.0"/>
<ellipse cx="991.3" cy="446.6" rx="2.3" ry="2.0" fill="#2e3c94" fill-opacity="1.0"/>
<ellipse cx="1004.3" cy="443.8" rx="2.1" ry="1.9" fill="#34449e" fill-opacity="1.0"/>
<ellipse cx="1019.2" cy="443.5" rx="3.1" ry="2.7" fill="#2e3c94" fill-opacity="1.0"/>
<ellipse cx="1026.6" cy="446.4" rx="2.2" ry="1.9" fill="#34449e" fill-opacity="1.0"/>
<ellipse cx="919.5" cy="335.6" rx="18" ry="15.6" fill="#f3f2f5"/>
<ellipse cx="976.0" cy="386.1" rx="25.3" ry="21.7" fill="#f3f2f5"/>
</g>
<clipPath id="clip8"><rect x="1034.7" y="287" width="162" height="162"/></clipPath>
<g clip-path="url(#clip8)">
<rect x="1034.7" y="287.0" width="162.0" height="162.0" fill="#98a2d8" />
<filter id="tf8" x="0" y="0" width="100%" height="100%" color-interpolation-filters="sRGB"><feTurbulence type="fractalNoise" baseFrequency="0.09" numOctaves="3" seed="8" result="n"/><feColorMatrix in="n" type="matrix" values="0 0 0 0 0.275  0 0 0 0 0.333  0 0 0 0 0.706  1.4 0 0 0 -0.55"/></filter>
<rect x="1034.7" y="287" width="162" height="162" filter="url(#tf8)"/>
<filter id="tg8" x="0" y="0" width="100%" height="100%" color-interpolation-filters="sRGB"><feTurbulence type="fractalNoise" baseFrequency="0.2" numOctaves="3" seed="58" result="n"/><feColorMatrix in="n" type="matrix" values="0 0 0 0 0.784  0 0 0 0 0.804  0 0 0 0 0.941  1.5 0 0 0 -0.7"/></filter>
<rect x="1034.7" y="287" width="162" height="162" filter="url(#tg8)"/>
<filter id="tm8" x="0" y="0" width="100%" height="100%" color-interpolation-filters="sRGB"><feTurbulence type="fractalNoise" baseFrequency="0.09" numOctaves="2" seed="98" result="n"/><feComponentTransfer in="n" result="t"><feFuncR type="table" tableValues="0 1 0 0 1 0 0 1 0 0 1 0 0 1 0"/></feComponentTransfer><feColorMatrix in="t" type="matrix" values="0 0 0 0 0.804  0 0 0 0 0.824  0 0 0 0 0.941  0.5 0 0 0 0"/></filter>
<rect x="1034.7" y="287" width="162" height="162" filter="url(#tm8)"/>
<ellipse cx="1037.3" cy="296.9" rx="2.1" ry="1.9" fill="#34449e" fill-opacity="1.0"/>
<ellipse cx="1046.1" cy="289.9" rx="3.2" ry="2.9" fill="#3e4ea8" fill-opacity="1.0"/>
<ellipse cx="1059.1" cy="287.8" rx="2.6" ry="2.3" fill="#5060b4" fill-opacity="1.0"/>
<ellipse cx="1070.1" cy="289.4" rx="3.0" ry="2.7" fill="#34449e" fill-opacity="1.0"/>
<ellipse cx="1080.1" cy="294.9" rx="2.9" ry="2.5" fill="#5060b4" fill-opacity="1.0"/>
<ellipse cx="1090.2" cy="296.4" rx="2.9" ry="2.5" fill="#2e3c94" fill-opacity="1.0"/>
<ellipse cx="1096.8" cy="295.5" rx="2.5" ry="2.2" fill="#5060b4" fill-opacity="1.0"/>
<ellipse cx="1107.1" cy="288.1" rx="2.3" ry="2.0" fill="#34449e" fill-opacity="1.0"/>
<ellipse cx="1120.7" cy="293.9" rx="3.1" ry="2.7" fill="#3e4ea8" fill-opacity="1.0"/>
<ellipse cx="1131.9" cy="292.8" rx="2.0" ry="1.8" fill="#3e4ea8" fill-opacity="1.0"/>
<ellipse cx="1137.8" cy="295.9" rx="2.5" ry="2.2" fill="#5060b4" fill-opacity="1.0"/>
<ellipse cx="1149.2" cy="291.0" rx="3.1" ry="2.7" fill="#3e4ea8" fill-opacity="1.0"/>
<ellipse cx="1158.1" cy="293.4" rx="2.6" ry="2.3" fill="#2e3c94" fill-opacity="1.0"/>
<ellipse cx="1173.2" cy="296.8" rx="3.0" ry="2.7" fill="#3e4ea8" fill-opacity="1.0"/>
<ellipse cx="1179.8" cy="291.0" rx="2.3" ry="2.0" fill="#34449e" fill-opacity="1.0"/>
<ellipse cx="1194.4" cy="295.9" rx="3.1" ry="2.8" fill="#3e4ea8" fill-opacity="1.0"/>
<ellipse cx="1038.3" cy="307.2" rx="2.3" ry="2.1" fill="#3e4ea8" fill-opacity="1.0"/>
<ellipse cx="1047.8" cy="302.5" rx="2.4" ry="2.1" fill="#5060b4" fill-opacity="1.0"/>
<ellipse cx="1057.1" cy="302.2" rx="2.2" ry="1.9" fill="#34449e" fill-opacity="1.0"/>
<ellipse cx="1067.4" cy="305.8" rx="2.3" ry="2.1" fill="#34449e" fill-opacity="1.0"/>
<ellipse cx="1083.0" cy="302.0" rx="3.0" ry="2.7" fill="#5060b4" fill-opacity="1.0"/>
<ellipse cx="1094.1" cy="299.7" rx="2.7" ry="2.4" fill="#5060b4" fill-opacity="1.0"/>
<ellipse cx="1099.8" cy="304.1" rx="2.3" ry="2.0" fill="#34449e" fill-opacity="1.0"/>
<ellipse cx="1106.4" cy="304.8" rx="2.9" ry="2.6" fill="#2e3c94" fill-opacity="1.0"/>
<ellipse cx="1117.6" cy="307.4" rx="2.6" ry="2.3" fill="#3e4ea8" fill-opacity="1.0"/>
<ellipse cx="1135.3" cy="299.0" rx="2.0" ry="1.7" fill="#3e4ea8" fill-opacity="1.0"/>
<ellipse cx="1139.6" cy="304.7" rx="2.1" ry="1.9" fill="#2e3c94" fill-opacity="1.0"/>
<ellipse cx="1149.8" cy="307.7" rx="2.0" ry="1.7" fill="#5060b4" fill-opacity="1.0"/>
<ellipse cx="1158.6" cy="306.8" rx="2.0" ry="1.8" fill="#3e4ea8" fill-opacity="1.0"/>
<ellipse cx="1168.5" cy="307.8" rx="2.5" ry="2.2" fill="#34449e" fill-opacity="1.0"/>
<ellipse cx="1178.8" cy="300.5" rx="3.0" ry="2.6" fill="#3e4ea8" fill-opacity="1.0"/>
<ellipse cx="1190.6" cy="299.4" rx="2.9" ry="2.5" fill="#3e4ea8" fill-opacity="1.0"/>
<ellipse cx="1041.8" cy="314.1" rx="2.1" ry="1.8" fill="#5060b4" fill-opacity="1.0"/>
<ellipse cx="1050.5" cy="317.1" rx="2.5" ry="2.2" fill="#34449e" fill-opacity="1.0"/>
<ellipse cx="1057.3" cy="313.5" rx="2.1" ry="1.8" fill="#34449e" fill-opacity="1.0"/>
<ellipse cx="1072.0" cy="315.1" rx="2.0" ry="1.7" fill="#2e3c94" fill-opacity="1.0"/>
<ellipse cx="1083.3" cy="314.3" rx="3.2" ry="2.8" fill="#3e4ea8" fill-opacity="1.0"/>
<ellipse cx="1090.4" cy="312.3" rx="2.4" ry="2.2" fill="#3e4ea8" fill-opacity="1.0"/>
<ellipse cx="1096.0" cy="315.1" rx="3.1" ry="2.8" fill="#2e3c94" fill-opacity="1.0"/>
<ellipse cx="1114.5" cy="318.7" rx="2.2" ry="2.0" fill="#2e3c94" fill-opacity="1.0"/>
<ellipse cx="1116.9" cy="313.2" rx="2.9" ry="2.6" fill="#2e3c94" fill-opacity="1.0"/>
<ellipse cx="1131.0" cy="315.2" rx="3.2" ry="2.8" fill="#2e3c94" fill-opacity="1.0"/>
<ellipse cx="1142.4" cy="310.2" rx="2.6" ry="2.3" fill="#5060b4" fill-opacity="1.0"/>
<ellipse cx="1155.3" cy="317.4" rx="2.4" ry="2.1" fill="#2e3c94" fill-opacity="1.0"/>
<ellipse cx="1160.3" cy="312.9" rx="3.1" ry="2.8" fill="#2e3c94" fill-opacity="1.0"/>
<ellipse cx="1174.3" cy="315.0" rx="2.4" ry="2.1" fill="#5060b4" fill-opacity="1.0"/>
<ellipse cx="1178.7" cy="317.1" rx="2.6" ry="2.3" fill="#34449e" fill-opacity="1.0"/>
<ellipse cx="1189.5" cy="309.8" rx="2.9" ry="2.6" fill="#2e3c94" fill-opacity="1.0"/>
<ellipse cx="1044.2" cy="327.5" rx="2.8" ry="2.4" fill="#2e3c94" fill-opacity="1.0"/>
<ellipse cx="1054.3" cy="322.6" rx="3.0" ry="2.7" fill="#2e3c94" fill-opacity="1.0"/>
<ellipse cx="1058.0" cy="328.6" rx="2.5" ry="2.2" fill="#2e3c94" fill-opacity="1.0"/>
<ellipse cx="1067.8" cy="322.4" rx="2.6" ry="2.3" fill="#5060b4" fill-opacity="1.0"/>
<ellipse cx="1078.0" cy="327.8" rx="2.7" ry="2.4" fill="#3e4ea8" fill-opacity="1.0"/>
<ellipse cx="1089.2" cy="327.5" rx="3.0" ry="2.6" fill="#5060b4" fill-opacity="1.0"/>
<ellipse cx="1096.7" cy="321.6" rx="2.7" ry="2.4" fill="#5060b4" fill-opacity="1.0"/>
<ellipse cx="1114.5" cy="327.6" rx="2.1" ry="1.9" fill="#3e4ea8" fill-opacity="1.0"/>
<ellipse cx="1122.4" cy="320.8" rx="2.6" ry="2.2" fill="#2e3c94" fill-opacity="1.0"/>
<ellipse cx="1134.8" cy="320.8" rx="2.7" ry="2.4" fill="#34449e" fill-opacity="1.0"/>
<ellipse cx="1139.4" cy="320.3" rx="3.1" ry="2.8" fill="#3e4ea8" fill-opacity="1.0"/>
<ellipse cx="1152.5" cy="323.5" rx="3.0" ry="2.7" fill="#3e4ea8" fill-opacity="1.0"/>
<ellipse cx="1163.3" cy="325.8" rx="2.4" ry="2.1" fill="#2e3c94" fill-opacity="1.0"/>
<ellipse cx="1173.6" cy="329.3" rx="2.0" ry="1.8" fill="#34449e" fill-opacity="1.0"/>
<ellipse cx="1185.3" cy="325.9" rx="2.5" ry="2.2" fill="#3e4ea8" fill-opacity="1.0"/>
<ellipse cx="1189.4" cy="323.7" rx="2.5" ry="2.2" fill="#34449e" fill-opacity="1.0"/>
<ellipse cx="1036.1" cy="332.9" rx="2.3" ry="2.1" fill="#3e4ea8" fill-opacity="1.0"/>
<ellipse cx="1048.4" cy="332.7" rx="3.2" ry="2.8" fill="#34449e" fill-opacity="1.0"/>
<ellipse cx="1060.5" cy="337.9" rx="3.0" ry="2.7" fill="#2e3c94" fill-opacity="1.0"/>
<ellipse cx="1068.3" cy="333.1" rx="2.6" ry="2.3" fill="#34449e" fill-opacity="1.0"/>
<ellipse cx="1080.8" cy="339.8" rx="3.2" ry="2.9" fill="#3e4ea8" fill-opacity="1.0"/>
<ellipse cx="1087.9" cy="332.9" rx="2.2" ry="1.9" fill="#3e4ea8" fill-opacity="1.0"/>
<ellipse cx="1102.9" cy="331.3" rx="3.1" ry="2.7" fill="#2e3c94" fill-opacity="1.0"/>
<ellipse cx="1109.9" cy="339.8" rx="2.7" ry="2.4" fill="#2e3c94" fill-opacity="1.0"/>
<ellipse cx="1122.5" cy="340.3" rx="2.6" ry="2.3" fill="#2e3c94" fill-opacity="1.0"/>
<ellipse cx="1133.0" cy="338.3" rx="2.2" ry="1.9" fill="#2e3c94" fill-opacity="1.0"/>
<ellipse cx="1142.7" cy="335.4" rx="2.1" ry="1.9" fill="#2e3c94" fill-opacity="1.0"/>
<ellipse cx="1151.1" cy="340.2" rx="2.6" ry="2.3" fill="#2e3c94" fill-opacity="1.0"/>
<ellipse cx="1164.1" cy="336.3" rx="2.5" ry="2.2" fill="#3e4ea8" fill-opacity="1.0"/>
<ellipse cx="1174.3" cy="337.0" rx="2.1" ry="1.9" fill="#5060b4" fill-opacity="1.0"/>
<ellipse cx="1177.2" cy="339.2" rx="2.6" ry="2.3" fill="#2e3c94" fill-opacity="1.0"/>
<ellipse cx="1190.2" cy="337.5" rx="2.8" ry="2.4" fill="#3e4ea8" fill-opacity="1.0"/>
<ellipse cx="1042.8" cy="341.7" rx="3.0" ry="2.7" fill="#5060b4" fill-opacity="1.0"/>
<ellipse cx="1050.6" cy="342.8" rx="3.2" ry="2.8" fill="#5060b4" fill-opacity="1.0"/>
<ellipse cx="1060.6" cy="347.2" rx="3.1" ry="2.7" fill="#2e3c94" fill-opacity="1.0"/>
<ellipse cx="1074.7" cy="341.9" rx="2.7" ry="2.4" fill="#2e3c94" fill-opacity="1.0"/>
<ellipse cx="1084.7" cy="345.0" rx="3.2" ry="2.8" fill="#34449e" fill-opacity="1.0"/>
<ellipse cx="1090.2" cy="343.2" rx="2.3" ry="2.0" fill="#2e3c94" fill-opacity="1.0"/>
<ellipse cx="1101.2" cy="350.6" rx="2.9" ry="2.6" fill="#5060b4" fill-opacity="1.0"/>
<ellipse cx="1109.5" cy="347.7" rx="2.0" ry="1.8" fill="#3e4ea8" fill-opacity="1.0"/>
<ellipse cx="1124.7" cy="348.0" rx="2.8" ry="2.5" fill="#34449e" fill-opacity="1.0"/>
<ellipse cx="1126.6" cy="343.8" rx="2.4" ry="2.1" fill="#2e3c94" fill-opacity="1.0"/>
<ellipse cx="1140.8" cy="343.2" rx="2.1" ry="1.9" fill="#2e3c94" fill-opacity="1.0"/>
<ellipse cx="1153.7" cy="349.2" rx="2.9" ry="2.6" fill="#2e3c94" fill-opacity="1.0"/>
<ellipse cx="1160.8" cy="344.4" rx="2.5" ry="2.2" fill="#5060b4" fill-opacity="1.0"/>
<ellipse cx="1170.9" cy="347.7" rx="2.6" ry="2.3" fill="#5060b4" fill-opacity="1.0"/>
<ellipse cx="1180.1" cy="347.2" rx="2.9" ry="2.6" fill="#2e3c94" fill-opacity="1.0"/>
<ellipse cx="1193.6" cy="348.0" rx="2.4" ry="2.1" fill="#5060b4" fill-opacity="1.0"/>
<ellipse cx="1037.1" cy="357.4" rx="2.7" ry="2.4" fill="#3e4ea8" fill-opacity="1.0"/>
<ellipse cx="1049.9" cy="352.7" rx="2.7" ry="2.3" fill="#2e3c94" fill-opacity="1.0"/>
<ellipse cx="1057.4" cy="358.5" rx="2.3" ry="2.0" fill="#3e4ea8" fill-opacity="1.0"/>
<ellipse cx="1074.3" cy="352.5" rx="2.5" ry="2.2" fill="#3e4ea8" fill-opacity="1.0"/>
<ellipse cx="1078.6" cy="352.6" rx="2.0" ry="1.7" fill="#34449e" fill-opacity="1.0"/>
<ellipse cx="1092.6" cy="357.9" rx="2.8" ry="2.4" fill="#34449e" fill-opacity="1.0"/>
<ellipse cx="1096.4" cy="354.4" rx="2.4" ry="2.1" fill="#34449e" fill-opacity="1.0"/>
<ellipse cx="1109.9" cy="361.2" rx="2.0" ry="1.7" fill="#34449e" fill-opacity="1.0"/>
<ellipse cx="1120.9" cy="354.3" rx="3.1" ry="2.8" fill="#5060b4" fill-opacity="1.0"/>
<ellipse cx="1134.6" cy="356.5" rx="2.1" ry="1.9" fill="#3e4ea8" fill-opacity="1.0"/>
<ellipse cx="1142.5" cy="359.9" rx="3.0" ry="2.6" fill="#2e3c94" fill-opacity="1.0"/>
<ellipse cx="1155.1" cy="356.6" rx="2.0" ry="1.8" fill="#5060b4" fill-opacity="1.0"/>
<ellipse cx="1163.0" cy="354.3" rx="2.0" ry="1.7" fill="#34449e" fill-opacity="1.0"/>
<ellipse cx="1173.8" cy="355.4" rx="2.2" ry="1.9" fill="#34449e" fill-opacity="1.0"/>
<ellipse cx="1180.6" cy="359.1" rx="2.3" ry="2.0" fill="#2e3c94" fill-opacity="1.0"/>
<ellipse cx="1192.6" cy="356.3" rx="2.2" ry="2.0" fill="#3e4ea8" fill-opacity="1.0"/>
<ellipse cx="1036.9" cy="371.0" rx="2.8" ry="2.5" fill="#5060b4" fill-opacity="1.0"/>
<ellipse cx="1046.8" cy="371.2" rx="2.3" ry="2.0" fill="#34449e" fill-opacity="1.0"/>
<ellipse cx="1059.4" cy="371.8" rx="3.0" ry="2.7" fill="#5060b4" fill-opacity="1.0"/>
<ellipse cx="1073.9" cy="371.6" rx="3.2" ry="2.8" fill="#3e4ea8" fill-opacity="1.0"/>
<ellipse cx="1081.3" cy="367.7" rx="2.2" ry="2.0" fill="#2e3c94" fill-opacity="1.0"/>
<ellipse cx="1091.4" cy="364.7" rx="2.3" ry="2.0" fill="#3e4ea8" fill-opacity="1.0"/>
<ellipse cx="1099.8" cy="369.7" rx="3.1" ry="2.8" fill="#2e3c94" fill-opacity="1.0"/>
<ellipse cx="1112.3" cy="368.6" rx="2.3" ry="2.0" fill="#5060b4" fill-opacity="1.0"/>
<ellipse cx="1119.2" cy="368.7" rx="2.8" ry="2.5" fill="#5060b4" fill-opacity="1.0"/>
<ellipse cx="1134.0" cy="372.1" rx="2.5" ry="2.2" fill="#2e3c94" fill-opacity="1.0"/>
<ellipse cx="1137.5" cy="366.9" rx="3.1" ry="2.7" fill="#5060b4" fill-opacity="1.0"/>
<ellipse cx="1150.3" cy="363.2" rx="2.4" ry="2.1" fill="#3e4ea8" fill-opacity="1.0"/>
<ellipse cx="1156.9" cy="363.3" rx="2.9" ry="2.5" fill="#2e3c94" fill-opacity="1.0"/>
<ellipse cx="1170.2" cy="367.8" rx="2.7" ry="2.4" fill="#3e4ea8" fill-opacity="1.0"/>
<ellipse cx="1178.0" cy="372.8" rx="2.3" ry="2.0" fill="#34449e" fill-opacity="1.0"/>
<ellipse cx="1188.9" cy="369.3" rx="2.0" ry="1.8" fill="#2e3c94" fill-opacity="1.0"/>
<ellipse cx="1038.3" cy="380.8" rx="3.2" ry="2.8" fill="#3e4ea8" fill-opacity="1.0"/>
<ellipse cx="1054.1" cy="381.1" rx="2.3" ry="2.0" fill="#34449e" fill-opacity="1.0"/>
<ellipse cx="1059.8" cy="378.5" rx="2.9" ry="2.6" fill="#34449e" fill-opacity="1.0"/>
<ellipse cx="1070.3" cy="378.9" rx="2.5" ry="2.2" fill="#5060b4" fill-opacity="1.0"/>
<ellipse cx="1080.5" cy="382.5" rx="2.8" ry="2.5" fill="#34449e" fill-opacity="1.0"/>
<ellipse cx="1091.1" cy="379.9" rx="3.0" ry="2.6" fill="#3e4ea8" fill-opacity="1.0"/>
<ellipse cx="1104.3" cy="381.1" rx="2.7" ry="2.4" fill="#5060b4" fill-opacity="1.0"/>
<ellipse cx="1111.8" cy="378.3" rx="2.2" ry="1.9" fill="#3e4ea8" fill-opacity="1.0"/>
<ellipse cx="1123.0" cy="382.5" rx="3.2" ry="2.8" fill="#2e3c94" fill-opacity="1.0"/>
<ellipse cx="1131.2" cy="380.5" rx="2.7" ry="2.4" fill="#2e3c94" fill-opacity="1.0"/>
<ellipse cx="1137.1" cy="376.3" rx="3.0" ry="2.7" fill="#5060b4" fill-opacity="1.0"/>
<ellipse cx="1150.6" cy="380.8" rx="2.2" ry="1.9" fill="#34449e" fill-opacity="1.0"/>
<ellipse cx="1162.6" cy="380.1" rx="2.3" ry="2.1" fill="#3e4ea8" fill-opacity="1.0"/>
<ellipse cx="1170.4" cy="379.3" rx="2.2" ry="1.9" fill="#5060b4" fill-opacity="1.0"/>
<ellipse cx="1179.9" cy="376.2" rx="2.2" ry="1.9" fill="#3e4ea8" fill-opacity="1.0"/>
<ellipse cx="1194.1" cy="374.2" rx="2.4" ry="2.1" fill="#34449e" fill-opacity="1.0"/>
<ellipse cx="1040.0" cy="389.5" rx="2.0" ry="1.8" fill="#34449e" fill-opacity="1.0"/>
<ellipse cx="1049.4" cy="388.3" rx="2.4" ry="2.1" fill="#34449e" fill-opacity="1.0"/>
<ellipse cx="1056.4" cy="393.2" rx="2.5" ry="2.2" fill="#5060b4" fill-opacity="1.0"/>
<ellipse cx="1066.5" cy="393.0" rx="2.0" ry="1.7" fill="#3e4ea8" fill-opacity="1.0"/>
<ellipse cx="1079.3" cy="393.5" rx="2.8" ry="2.5" fill="#5060b4" fill-opacity="1.0"/>
<ellipse cx="1091.3" cy="392.4" rx="2.6" ry="2.3" fill="#5060b4" fill-opacity="1.0"/>
<ellipse cx="1103.5" cy="392.3" rx="2.9" ry="2.5" fill="#3e4ea8" fill-opacity="1.0"/>
<ellipse cx="1110.1" cy="387.4" rx="2.7" ry="2.4" fill="#3e4ea8" fill-opacity="1.0"/>
<ellipse cx="1118.1" cy="389.8" rx="3.0" ry="2.6" fill="#2e3c94" fill-opacity="1.0"/>
<ellipse cx="1135.3" cy="388.3" rx="3.0" ry="2.6" fill="#2e3c94" fill-opacity="1.0"/>
<ellipse cx="1141.6" cy="393.1" rx="3.2" ry="2.8" fill="#2e3c94" fill-opacity="1.0"/>
<ellipse cx="1147.8" cy="388.4" rx="2.0" ry="1.7" fill="#34449e" fill-opacity="1.0"/>
<ellipse cx="1164.9" cy="386.9" rx="3.1" ry="2.7" fill="#3e4ea8" fill-opacity="1.0"/>
<ellipse cx="1172.7" cy="389.5" rx="3.1" ry="2.7" fill="#5060b4" fill-opacity="1.0"/>
<ellipse cx="1177.8" cy="391.6" rx="3.2" ry="2.8" fill="#5060b4" fill-opacity="1.0"/>
<ellipse cx="1191.1" cy="389.6" rx="2.4" ry="2.1" fill="#3e4ea8" fill-opacity="1.0"/>
<ellipse cx="1038.0" cy="405.1" rx="3.1" ry="2.8" fill="#34449e" fill-opacity="1.0"/>
<ellipse cx="1045.5" cy="404.4" rx="2.4" ry="2.1" fill="#5060b4" fill-opacity="1.0"/>
<ellipse cx="1055.6" cy="398.0" rx="3.2" ry="2.8" fill="#2e3c94" fill-opacity="1.0"/>
<ellipse cx="1066.0" cy="401.6" rx="2.8" ry="2.4" fill="#5060b4" fill-opacity="1.0"/>
<ellipse cx="1084.3" cy="396.0" rx="2.0" ry="1.7" fill="#34449e" fill-opacity="1.0"/>
<ellipse cx="1088.7" cy="398.0" rx="3.2" ry="2.8" fill="#2e3c94" fill-opacity="1.0"/>
<ellipse cx="1103.3" cy="402.0" rx="2.4" ry="2.1" fill="#34449e" fill-opacity="1.0"/>
<ellipse cx="1108.3" cy="404.0" rx="2.8" ry="2.4" fill="#3e4ea8" fill-opacity="1.0"/>
<ellipse cx="1120.8" cy="398.3" rx="2.8" ry="2.4" fill="#5060b4" fill-opacity="1.0"/>
<ellipse cx="1126.6" cy="395.8" rx="2.9" ry="2.6" fill="#2e3c94" fill-opacity="1.0"/>
<ellipse cx="1137.8" cy="398.1" rx="3.2" ry="2.8" fill="#2e3c94" fill-opacity="1.0"/>
<ellipse cx="1154.7" cy="400.5" rx="2.9" ry="2.6" fill="#3e4ea8" fill-opacity="1.0"/>
<ellipse cx="1164.5" cy="398.7" rx="3.1" ry="2.8" fill="#2e3c94" fill-opacity="1.0"/>
<ellipse cx="1168.3" cy="402.3" rx="2.9" ry="2.6" fill="#34449e" fill-opacity="1.0"/>
<ellipse cx="1181.8" cy="401.6" rx="3.0" ry="2.6" fill="#2e3c94" fill-opacity="1.0"/>
<ellipse cx="1192.1" cy="398.5" rx="2.7" ry="2.3" fill="#3e4ea8" fill-opacity="1.0"/>
<ellipse cx="1035.5" cy="413.1" rx="2.9" ry="2.5" fill="#3e4ea8" fill-opacity="1.0"/>
<ellipse cx="1048.6" cy="410.7" rx="3.2" ry="2.8" fill="#2e3c94" fill-opacity="1.0"/>
<ellipse cx="1058.6" cy="415.8" rx="2.3" ry="2.1" fill="#3e4ea8" fill-opacity="1.0"/>
<ellipse cx="1068.9" cy="410.7" rx="2.7" ry="2.4" fill="#3e4ea8" fill-opacity="1.0"/>
<ellipse cx="1082.6" cy="414.9" rx="2.8" ry="2.4" fill="#2e3c94" fill-opacity="1.0"/>
<ellipse cx="1093.3" cy="411.5" rx="3.2" ry="2.8" fill="#34449e" fill-opacity="1.0"/>
<ellipse cx="1103.9" cy="409.7" rx="2.6" ry="2.3" fill="#2e3c94" fill-opacity="1.0"/>
<ellipse cx="1106.2" cy="412.0" rx="2.9" ry="2.5" fill="#3e4ea8" fill-opacity="1.0"/>
<ellipse cx="1123.9" cy="413.1" rx="2.1" ry="1.9" fill="#34449e" fill-opacity="1.0"/>
<ellipse cx="1134.4" cy="414.5" rx="2.7" ry="2.4" fill="#3e4ea8" fill-opacity="1.0"/>
<ellipse cx="1143.5" cy="411.7" rx="3.2" ry="2.8" fill="#5060b4" fill-opacity="1.0"/>
<ellipse cx="1150.7" cy="409.2" rx="2.9" ry="2.5" fill="#5060b4" fill-opacity="1.0"/>
<ellipse cx="1161.2" cy="413.6" rx="2.1" ry="1.8" fill="#5060b4" fill-opacity="1.0"/>
<ellipse cx="1171.7" cy="410.5" rx="3.0" ry="2.7" fill="#5060b4" fill-opacity="1.0"/>
<ellipse cx="1182.4" cy="406.9" rx="2.6" ry="2.3" fill="#3e4ea8" fill-opacity="1.0"/>
<ellipse cx="1194.4" cy="411.8" rx="2.5" ry="2.2" fill="#2e3c94" fill-opacity="1.0"/>
<ellipse cx="1037.4" cy="422.5" rx="3.0" ry="2.6" fill="#34449e" fill-opacity="1.0"/>
<ellipse cx="1053.2" cy="419.4" rx="2.5" ry="2.2" fill="#2e3c94" fill-opacity="1.0"/>
<ellipse cx="1063.2" cy="420.4" rx="2.6" ry="2.3" fill="#3e4ea8" fill-opacity="1.0"/>
<ellipse cx="1073.4" cy="426.0" rx="2.4" ry="2.1" fill="#3e4ea8" fill-opacity="1.0"/>
<ellipse cx="1083.6" cy="418.7" rx="2.3" ry="2.0" fill="#34449e" fill-opacity="1.0"/>
<ellipse cx="1094.5" cy="423.5" rx="2.7" ry="2.4" fill="#3e4ea8" fill-opacity="1.0"/>
<ellipse cx="1101.1" cy="425.7" rx="2.1" ry="1.9" fill="#2e3c94" fill-opacity="1.0"/>
<ellipse cx="1108.8" cy="418.6" rx="2.6" ry="2.3" fill="#2e3c94" fill-opacity="1.0"/>
<ellipse cx="1124.0" cy="423.1" rx="2.6" ry="2.3" fill="#2e3c94" fill-opacity="1.0"/>
<ellipse cx="1133.4" cy="423.5" rx="2.9" ry="2.6" fill="#3e4ea8" fill-opacity="1.0"/>
<ellipse cx="1142.4" cy="417.6" rx="2.1" ry="1.8" fill="#2e3c94" fill-opacity="1.0"/>
<ellipse cx="1149.8" cy="419.8" rx="3.0" ry="2.6" fill="#34449e" fill-opacity="1.0"/>
<ellipse cx="1164.7" cy="423.3" rx="2.2" ry="1.9" fill="#5060b4" fill-opacity="1.0"/>
<ellipse cx="1166.9" cy="425.7" rx="2.6" ry="2.3" fill="#2e3c94" fill-opacity="1.0"/>
<ellipse cx="1180.6" cy="423.6" rx="2.4" ry="2.1" fill="#5060b4" fill-opacity="1.0"/>
<ellipse cx="1190.1" cy="426.0" rx="2.5" ry="2.2" fill="#2e3c94" fill-opacity="1.0"/>
<ellipse cx="1044.0" cy="428.6" rx="2.2" ry="2.0" fill="#3e4ea8" fill-opacity="1.0"/>
<ellipse cx="1052.1" cy="431.9" rx="2.5" ry="2.2" fill="#3e4ea8" fill-opacity="1.0"/>
<ellipse cx="1058.3" cy="431.1" rx="2.3" ry="2.0" fill="#34449e" fill-opacity="1.0"/>
<ellipse cx="1065.6" cy="432.1" rx="3.1" ry="2.7" fill="#3e4ea8" fill-opacity="1.0"/>
<ellipse cx="1077.8" cy="429.0" rx="3.1" ry="2.7" fill="#34449e" fill-opacity="1.0"/>
<ellipse cx="1090.2" cy="433.9" rx="2.1" ry="1.9" fill="#5060b4" fill-opacity="1.0"/>
<ellipse cx="1100.5" cy="434.9" rx="2.8" ry="2.5" fill="#34449e" fill-opacity="1.0"/>
<ellipse cx="1111.1" cy="430.7" rx="2.7" ry="2.3" fill="#2e3c94" fill-opacity="1.0"/>
<ellipse cx="1116.9" cy="431.5" rx="3.1" ry="2.7" fill="#5060b4" fill-opacity="1.0"/>
<ellipse cx="1131.2" cy="430.3" rx="2.0" ry="1.8" fill="#5060b4" fill-opacity="1.0"/>
<ellipse cx="1139.3" cy="436.2" rx="2.5" ry="2.2" fill="#2e3c94" fill-opacity="1.0"/>
<ellipse cx="1154.5" cy="435.0" rx="2.8" ry="2.5" fill="#3e4ea8" fill-opacity="1.0"/>
<ellipse cx="1163.1" cy="431.0" rx="2.5" ry="2.2" fill="#2e3c94" fill-opacity="1.0"/>
<ellipse cx="1174.1" cy="431.6" rx="2.8" ry="2.5" fill="#34449e" fill-opacity="1.0"/>
<ellipse cx="1184.5" cy="431.3" rx="2.4" ry="2.1" fill="#2e3c94" fill-opacity="1.0"/>
<ellipse cx="1189.7" cy="432.3" rx="2.9" ry="2.6" fill="#34449e" fill-opacity="1.0"/>
<ellipse cx="1037.6" cy="444.9" rx="3.1" ry="2.8" fill="#34449e" fill-opacity="1.0"/>
<ellipse cx="1052.6" cy="439.1" rx="2.0" ry="1.7" fill="#3e4ea8" fill-opacity="1.0"/>
<ellipse cx="1060.2" cy="443.1" rx="2.2" ry="2.0" fill="#2e3c94" fill-opacity="1.0"/>
<ellipse cx="1070.7" cy="441.8" rx="2.6" ry="2.3" fill="#5060b4" fill-opacity="1.0"/>
<ellipse cx="1078.9" cy="441.3" rx="3.1" ry="2.7" fill="#5060b4" fill-opacity="1.0"/>
<ellipse cx="1092.9" cy="439.0" rx="2.9" ry="2.5" fill="#34449e" fill-opacity="1.0"/>
<ellipse cx="1102.5" cy="440.9" rx="2.5" ry="2.2" fill="#3e4ea8" fill-opacity="1.0"/>
<ellipse cx="1111.3" cy="446.8" rx="3.1" ry="2.7" fill="#34449e" fill-opacity="1.0"/>
<ellipse cx="1117.8" cy="441.3" rx="2.5" ry="2.2" fill="#3e4ea8" fill-opacity="1.0"/>
<ellipse cx="1134.7" cy="441.1" rx="2.4" ry="2.2" fill="#5060b4" fill-opacity="1.0"/>
<ellipse cx="1142.0" cy="447.5" rx="2.5" ry="2.2" fill="#34449e" fill-opacity="1.0"/>
<ellipse cx="1148.0" cy="438.8" rx="2.9" ry="2.5" fill="#34449e" fill-opacity="1.0"/>
<ellipse cx="1164.4" cy="442.2" rx="2.5" ry="2.2" fill="#5060b4" fill-opacity="1.0"/>
<ellipse cx="1169.3" cy="439.1" rx="2.3" ry="2.0" fill="#3e4ea8" fill-opacity="1.0"/>
<ellipse cx="1184.0" cy="442.8" rx="2.0" ry="1.8" fill="#2e3c94" fill-opacity="1.0"/>
<ellipse cx="1187.5" cy="438.8" rx="2.7" ry="2.4" fill="#5060b4" fill-opacity="1.0"/>
<ellipse cx="1135.3" cy="364.5" rx="23.5" ry="21" fill="#f3f2f5"/>
<ellipse cx="1090.7" cy="385.0" rx="16" ry="17" fill="#f3f2f5"/>
<ellipse cx="1082.3" cy="354.8" rx="6" ry="5" fill="#f3f2f5"/>
<ellipse cx="1157.0" cy="318.7" rx="6" ry="6" fill="#f3f2f5"/>
</g>
<rect x="1123.0" y="433.0" width="64.0" height="5.0" fill="#000" />
<text x="458.0" y="195.0" font-size="31" text-anchor="middle" transform="rotate(-90 458.0 195.0)">H&amp;E</text>
<text x="458.0" y="368.5" font-size="31" text-anchor="middle" transform="rotate(-90 458.0 368.5)">MEF2D</text>
<text x="851.3" y="194.0" font-size="31" text-anchor="middle" transform="rotate(-90 851.3 194.0)">Ki67</text>
<text x="851.3" y="368.0" font-size="31" text-anchor="middle" transform="rotate(-90 851.3 368.0)">Sirius Red</text>
<line x1="1345.2" y1="53.7" x2="1345.2" y2="333.7" stroke="#000" stroke-width="3" />
<line x1="1335.2" y1="332.2" x2="1345.2" y2="332.2" stroke="#000" stroke-width="3" />
<text x="1329.2" y="343.0" font-size="30" text-anchor="end">0</text>
<line x1="1335.2" y1="276.8" x2="1345.2" y2="276.8" stroke="#000" stroke-width="3" />
<text x="1329.2" y="287.6" font-size="30" text-anchor="end">50</text>
<line x1="1335.2" y1="221.4" x2="1345.2" y2="221.4" stroke="#000" stroke-width="3" />
<text x="1329.2" y="232.2" font-size="30" text-anchor="end">100</text>
<line x1="1335.2" y1="166.0" x2="1345.2" y2="166.0" stroke="#000" stroke-width="3" />
<text x="1329.2" y="176.8" font-size="30" text-anchor="end">150</text>
<line x1="1335.2" y1="110.6" x2="1345.2" y2="110.6" stroke="#000" stroke-width="3" />
<text x="1329.2" y="121.4" font-size="30" text-anchor="end">200</text>
<line x1="1335.2" y1="55.2" x2="1345.2" y2="55.2" stroke="#000" stroke-width="3" />
<text x="1329.2" y="66.0" font-size="30" text-anchor="end">250</text>
<line x1="1345.2" y1="332.2" x2="1482.0" y2="332.2" stroke="#000" stroke-width="3" />
<line x1="1385.1" y1="332.2" x2="1385.1" y2="343.2" stroke="#000" stroke-width="3" />
<line x1="1444.0" y1="332.2" x2="1444.0" y2="343.2" stroke="#000" stroke-width="3" />
<rect x="1367.7" y="150.9" width="34.9" height="181.2" fill="#ff2212" stroke="#000" stroke-width="2.5" />
<rect x="1426.2" y="213.2" width="35.6" height="118.9" fill="#2000ff" stroke="#000" stroke-width="2.5" />
<line x1="1385.1" y1="94.2" x2="1385.1" y2="203.9" stroke="#000" stroke-width="2.8" />
<line x1="1375.6" y1="94.2" x2="1394.6" y2="94.2" stroke="#000" stroke-width="2.8" />
<line x1="1375.6" y1="203.9" x2="1394.6" y2="203.9" stroke="#000" stroke-width="2.8" />
<line x1="1444.0" y1="175.9" x2="1444.0" y2="248.0" stroke="#000" stroke-width="2.8" />
<line x1="1434.5" y1="175.9" x2="1453.5" y2="175.9" stroke="#000" stroke-width="2.8" />
<line x1="1434.5" y1="248.0" x2="1453.5" y2="248.0" stroke="#000" stroke-width="2.8" />
<circle cx="1385.1" cy="72.0" r="4.2" fill="#000" />
<circle cx="1385.1" cy="98.0" r="4.2" fill="#000" />
<circle cx="1385.1" cy="116.0" r="4.2" fill="#000" />
<circle cx="1385.1" cy="130.0" r="4.2" fill="#000" />
<circle cx="1385.1" cy="160.0" r="4.2" fill="#000" />
<circle cx="1385.1" cy="193.0" r="4.2" fill="#000" />
<circle cx="1385.1" cy="204.0" r="4.2" fill="#000" />
<circle cx="1385.1" cy="224.0" r="4.2" fill="#000" />
<circle cx="1444.0" cy="146.0" r="4.2" fill="#000" />
<circle cx="1444.0" cy="179.0" r="4.2" fill="#000" />
<circle cx="1444.0" cy="200.0" r="4.2" fill="#000" />
<circle cx="1434.0" cy="227.0" r="4.2" fill="#000" />
<circle cx="1454.0" cy="226.0" r="4.2" fill="#000" />
<circle cx="1437.0" cy="243.0" r="4.2" fill="#000" />
<circle cx="1452.0" cy="248.0" r="4.2" fill="#000" />
<text x="1413.5" y="30.0" font-size="21.5" text-anchor="middle" textLength="108.7" lengthAdjust="spacingAndGlyphs"><tspan font-style="italic">P</tspan> = 0.0169</text>
<line x1="1365.3" y1="43.0" x2="1462.6" y2="43.0" stroke="#000" stroke-width="3.2" />
<text x="1259.5" y="231.0" font-size="31" text-anchor="middle" transform="rotate(-90 1259.5 231.0)" textLength="447.0" lengthAdjust="spacingAndGlyphs">MEF2D IHC score of HCs or TCs</text>
<text x="1404.0" y="370.5" font-size="30" text-anchor="end" transform="rotate(-45 1404.0 370.5)"><tspan font-style="italic">Nrp1</tspan><tspan font-size="19.2" dy="-9.0">fl/fl</tspan></text>
<text x="1461.0" y="371.0" font-size="30" text-anchor="end" transform="rotate(-45 1461.0 371.0)"><tspan font-style="italic">Nrp1</tspan><tspan font-size="19.8" dy="-8.7">ΔKC</tspan></text>
<line x1="1625.8" y1="52.1" x2="1625.8" y2="333.8" stroke="#000" stroke-width="3" />
<line x1="1615.8" y1="332.3" x2="1625.8" y2="332.3" stroke="#000" stroke-width="3" />
<text x="1609.8" y="343.1" font-size="30" text-anchor="end">0</text>
<line x1="1615.8" y1="262.6" x2="1625.8" y2="262.6" stroke="#000" stroke-width="3" />
<text x="1609.8" y="273.4" font-size="30" text-anchor="end">50</text>
<line x1="1615.8" y1="193.0" x2="1625.8" y2="193.0" stroke="#000" stroke-width="3" />
<text x="1609.8" y="203.8" font-size="30" text-anchor="end">100</text>
<line x1="1615.8" y1="123.3" x2="1625.8" y2="123.3" stroke="#000" stroke-width="3" />
<text x="1609.8" y="134.1" font-size="30" text-anchor="end">150</text>
<line x1="1615.8" y1="53.6" x2="1625.8" y2="53.6" stroke="#000" stroke-width="3" />
<text x="1609.8" y="64.4" font-size="30" text-anchor="end">200</text>
<line x1="1625.8" y1="332.3" x2="1764.0" y2="332.3" stroke="#000" stroke-width="3" />
<line x1="1664.9" y1="332.3" x2="1664.9" y2="343.3" stroke="#000" stroke-width="3" />
<line x1="1723.5" y1="332.3" x2="1723.5" y2="343.3" stroke="#000" stroke-width="3" />
<rect x="1647.8" y="192.6" width="34.5" height="139.8" fill="#ff2212" stroke="#000" stroke-width="2.5" />
<rect x="1706.5" y="241.4" width="34.6" height="90.9" fill="#2000ff" stroke="#000" stroke-width="2.5" />
<line x1="1664.9" y1="154.9" x2="1664.9" y2="226.7" stroke="#000" stroke-width="2.8" />
<line x1="1655.4" y1="154.9" x2="1674.4" y2="154.9" stroke="#000" stroke-width="2.8" />
<line x1="1655.4" y1="226.7" x2="1674.4" y2="226.7" stroke="#000" stroke-width="2.8" />
<line x1="1723.5" y1="204.8" x2="1723.5" y2="274.9" stroke="#000" stroke-width="2.8" />
<line x1="1714.0" y1="204.8" x2="1733.0" y2="204.8" stroke="#000" stroke-width="2.8" />
<line x1="1714.0" y1="274.9" x2="1733.0" y2="274.9" stroke="#000" stroke-width="2.8" />
<circle cx="1664.9" cy="131.0" r="4.2" fill="#000" />
<circle cx="1664.9" cy="157.9" r="4.2" fill="#000" />
<circle cx="1664.9" cy="172.6" r="4.2" fill="#000" />
<circle cx="1664.9" cy="187.1" r="4.2" fill="#000" />
<circle cx="1664.9" cy="199.6" r="4.2" fill="#000" />
<circle cx="1664.9" cy="214.2" r="4.2" fill="#000" />
<circle cx="1664.9" cy="223.5" r="4.2" fill="#000" />
<circle cx="1664.9" cy="240.2" r="4.2" fill="#000" />
<circle cx="1723.5" cy="196.5" r="4.2" fill="#000" />
<circle cx="1715.2" cy="214.2" r="4.2" fill="#000" />
<circle cx="1732.5" cy="214.2" r="4.2" fill="#000" />
<circle cx="1723.5" cy="225.6" r="4.2" fill="#000" />
<circle cx="1723.5" cy="241.2" r="4.2" fill="#000" />
<circle cx="1723.5" cy="250.6" r="4.2" fill="#000" />
<circle cx="1723.5" cy="270.3" r="4.2" fill="#000" />
<circle cx="1723.5" cy="303.6" r="4.2" fill="#000" />
<text x="1696.0" y="81.1" font-size="21.5" text-anchor="middle" textLength="109.2" lengthAdjust="spacingAndGlyphs"><tspan font-style="italic">P</tspan> = 0.0158</text>
<line x1="1647.6" y1="95.2" x2="1744.3" y2="95.2" stroke="#000" stroke-width="3.2" />
<text x="1536.4" y="231.3" font-size="31" text-anchor="middle" transform="rotate(-90 1536.4 231.3)" textLength="406.6" lengthAdjust="spacingAndGlyphs">Ki67 IHC score of HCs or TCs</text>
<text x="1683.0" y="370.5" font-size="30" text-anchor="end" transform="rotate(-45 1683.0 370.5)"><tspan font-style="italic">Nrp1</tspan><tspan font-size="19.2" dy="-9.0">fl/fl</tspan></text>
<text x="1740.0" y="371.0" font-size="30" text-anchor="end" transform="rotate(-45 1740.0 371.0)"><tspan font-style="italic">Nrp1</tspan><tspan font-size="19.8" dy="-8.7">ΔKC</tspan></text>
<line x1="1901.6" y1="53.0" x2="1901.6" y2="334.6" stroke="#000" stroke-width="3" />
<line x1="1891.6" y1="333.1" x2="1901.6" y2="333.1" stroke="#000" stroke-width="3" />
<text x="1885.6" y="343.9" font-size="30" text-anchor="end">0</text>
<line x1="1891.6" y1="263.5" x2="1901.6" y2="263.5" stroke="#000" stroke-width="3" />
<text x="1885.6" y="274.3" font-size="30" text-anchor="end">10</text>
<line x1="1891.6" y1="193.8" x2="1901.6" y2="193.8" stroke="#000" stroke-width="3" />
<text x="1885.6" y="204.6" font-size="30" text-anchor="end">20</text>
<line x1="1891.6" y1="124.2" x2="1901.6" y2="124.2" stroke="#000" stroke-width="3" />
<text x="1885.6" y="135.0" font-size="30" text-anchor="end">30</text>
<line x1="1891.6" y1="54.5" x2="1901.6" y2="54.5" stroke="#000" stroke-width="3" />
<text x="1885.6" y="65.3" font-size="30" text-anchor="end">40</text>
<line x1="1901.6" y1="333.1" x2="2041.0" y2="333.1" stroke="#000" stroke-width="3" />
<line x1="1940.5" y1="333.1" x2="1940.5" y2="344.1" stroke="#000" stroke-width="3" />
<line x1="1999.4" y1="333.1" x2="1999.4" y2="344.1" stroke="#000" stroke-width="3" />
<rect x="1923.7" y="181.8" width="34.6" height="151.4" fill="#ff2212" stroke="#000" stroke-width="2.5" />
<rect x="1982.5" y="236.8" width="34.5" height="96.3" fill="#2000ff" stroke="#000" stroke-width="2.5" />
<line x1="1940.5" y1="145.6" x2="1940.5" y2="214.2" stroke="#000" stroke-width="2.8" />
<line x1="1931.0" y1="145.6" x2="1950.0" y2="145.6" stroke="#000" stroke-width="2.8" />
<line x1="1931.0" y1="214.2" x2="1950.0" y2="214.2" stroke="#000" stroke-width="2.8" />
<line x1="1999.4" y1="207.9" x2="1999.4" y2="263.0" stroke="#000" stroke-width="2.8" />
<line x1="1989.9" y1="207.9" x2="2008.9" y2="207.9" stroke="#000" stroke-width="2.8" />
<line x1="1989.9" y1="263.0" x2="2008.9" y2="263.0" stroke="#000" stroke-width="2.8" />
<circle cx="1940.5" cy="128.3" r="4.2" fill="#000" />
<circle cx="1940.5" cy="149.3" r="4.2" fill="#000" />
<circle cx="1940.5" cy="164.3" r="4.2" fill="#000" />
<circle cx="1932.2" cy="175.1" r="4.2" fill="#000" />
<circle cx="1949.5" cy="176.8" r="4.2" fill="#000" />
<circle cx="1940.5" cy="200.0" r="4.2" fill="#000" />
<circle cx="1940.5" cy="215.6" r="4.2" fill="#000" />
<circle cx="1940.5" cy="231.2" r="4.2" fill="#000" />
<circle cx="1999.4" cy="193.0" r="4.2" fill="#000" />
<circle cx="1999.4" cy="202.1" r="4.2" fill="#000" />
<circle cx="1991.1" cy="231.2" r="4.2" fill="#000" />
<circle cx="2008.1" cy="227.7" r="4.2" fill="#000" />
<circle cx="1999.4" cy="241.2" r="4.2" fill="#000" />
<circle cx="1999.4" cy="252.6" r="4.2" fill="#000" />
<circle cx="2008.1" cy="263.7" r="4.2" fill="#000" />
<circle cx="1991.1" cy="270.0" r="4.2" fill="#000" />
<text x="1969.8" y="91.1" font-size="21.5" text-anchor="middle" textLength="109.1" lengthAdjust="spacingAndGlyphs"><tspan font-style="italic">P</tspan> = 0.0029</text>
<line x1="1920.4" y1="104.0" x2="2017.0" y2="104.0" stroke="#000" stroke-width="3.2" />
<text x="1822.0" y="192.3" font-size="31" text-anchor="middle" transform="rotate(-90 1822.0 192.3)">Sirius Red<tspan font-size="19" dy="-11">+</tspan><tspan dy="11"> area (%)</tspan></text>
<text x="1960.0" y="370.5" font-size="30" text-anchor="end" transform="rotate(-45 1960.0 370.5)"><tspan font-style="italic">Nrp1</tspan><tspan font-size="19.2" dy="-9.0">fl/fl</tspan></text>
<text x="2017.0" y="371.0" font-size="30" text-anchor="end" transform="rotate(-45 2017.0 371.0)"><tspan font-style="italic">Nrp1</tspan><tspan font-size="19.8" dy="-8.7">ΔKC</tspan></text>
<text x="2.9" y="514.5" font-size="45" font-weight="bold">c</text>
<text x="17.7" y="549.5" font-size="30" textLength="241.0" lengthAdjust="spacingAndGlyphs">DEN-treated mice</text>
<text x="69.0" y="585.8" font-size="30" textLength="147.5" lengthAdjust="spacingAndGlyphs">(50 weeks)</text>
<line x1="121.3" y1="624.1" x2="121.3" y2="903.4" stroke="#000" stroke-width="2.6" />
<line x1="110.3" y1="902.1" x2="121.3" y2="902.1" stroke="#000" stroke-width="2.6" />
<text x="97.3" y="913.1" font-size="30.5" text-anchor="end">0</text>
<line x1="110.3" y1="832.9" x2="121.3" y2="832.9" stroke="#000" stroke-width="2.6" />
<text x="97.3" y="843.9" font-size="30.5" text-anchor="end">5</text>
<line x1="110.3" y1="763.7" x2="121.3" y2="763.7" stroke="#000" stroke-width="2.6" />
<text x="97.3" y="774.7" font-size="30.5" text-anchor="end">10</text>
<line x1="110.3" y1="694.5" x2="121.3" y2="694.5" stroke="#000" stroke-width="2.6" />
<text x="97.3" y="705.5" font-size="30.5" text-anchor="end">15</text>
<line x1="110.3" y1="625.3" x2="121.3" y2="625.3" stroke="#000" stroke-width="2.6" />
<text x="97.3" y="636.3" font-size="30.5" text-anchor="end">20</text>
<line x1="110.7" y1="902.1" x2="258.2" y2="902.1" stroke="#000" stroke-width="2.6" />
<line x1="160.2" y1="902.1" x2="160.2" y2="913.1" stroke="#000" stroke-width="2.6" />
<line x1="218.8" y1="902.1" x2="218.8" y2="913.1" stroke="#000" stroke-width="2.6" />
<rect x="143.3" y="687.0" width="34.9" height="215.1" fill="#ff2212" stroke="#000" stroke-width="2.5" />
<rect x="201.9" y="733.6" width="34.4" height="168.5" fill="#2000ff" stroke="#000" stroke-width="2.5" />
<line x1="160.4" y1="656.2" x2="160.4" y2="713.3" stroke="#000" stroke-width="2.8" />
<line x1="150.9" y1="656.2" x2="169.9" y2="656.2" stroke="#000" stroke-width="2.8" />
<line x1="150.9" y1="713.3" x2="169.9" y2="713.3" stroke="#000" stroke-width="2.8" />
<line x1="219.2" y1="685.7" x2="219.2" y2="776.9" stroke="#000" stroke-width="2.8" />
<line x1="209.7" y1="685.7" x2="228.7" y2="685.7" stroke="#000" stroke-width="2.8" />
<line x1="209.7" y1="776.9" x2="228.7" y2="776.9" stroke="#000" stroke-width="2.8" />
<circle cx="160.6" cy="646.0" r="4.2" fill="#000" />
<circle cx="151.9" cy="658.0" r="4.2" fill="#000" />
<circle cx="168.8" cy="664.0" r="4.2" fill="#000" />
<circle cx="160.6" cy="676.4" r="4.2" fill="#000" />
<circle cx="160.6" cy="692.7" r="4.2" fill="#000" />
<circle cx="160.6" cy="702.4" r="4.2" fill="#000" />
<circle cx="151.9" cy="721.3" r="4.2" fill="#000" />
<circle cx="168.8" cy="719.2" r="4.2" fill="#000" />
<circle cx="226.8" cy="684.4" r="4.2" fill="#000" />
<circle cx="211.6" cy="690.0" r="4.2" fill="#000" />
<circle cx="202.9" cy="705.3" r="4.2" fill="#000" />
<circle cx="219.2" cy="708.3" r="4.2" fill="#000" />
<circle cx="234.4" cy="705.7" r="4.2" fill="#000" />
<circle cx="219.2" cy="773.4" r="4.2" fill="#000" />
<circle cx="210.5" cy="791.4" r="4.2" fill="#000" />
<circle cx="226.8" cy="789.9" r="4.2" fill="#000" />
<text x="192.0" y="618.2" font-size="22" text-anchor="middle" textLength="108.5" lengthAdjust="spacingAndGlyphs"><tspan font-style="italic">P</tspan> = 0.0283</text>
<line x1="137.8" y1="629.3" x2="245.2" y2="629.3" stroke="#000" stroke-width="3.2" />
<text x="44.0" y="763.7" font-size="31" text-anchor="middle" transform="rotate(-90 44.0 763.7)" textLength="294.0" lengthAdjust="spacingAndGlyphs">Liver/body weight (%)</text>
<text x="96.0" y="943.9" font-size="30"><tspan font-style="italic">Nrp1</tspan><tspan font-size="18.0" dy="-9.0" font-weight="bold">fl/fl</tspan></text>
<text x="200.0" y="943.9" font-size="30"><tspan font-style="italic">Nrp1</tspan><tspan font-size="19.8" dy="-8.7">ΔKC</tspan></text>
<text x="297.0" y="514.5" font-size="45" font-weight="bold">d</text>
<circle cx="417.0" cy="556.4" r="6.0" fill="#f02a1e" />
<text x="429.6" y="566.0" font-size="30"><tspan font-style="italic">Nrp1</tspan><tspan font-size="18.0" dy="-9.0" font-weight="bold">fl/fl</tspan></text>
<rect x="565.3" y="550.9" width="11.0" height="11.0" fill="#2000ff" />
<text x="589.7" y="566.0" font-size="30"><tspan font-style="italic">Nrp1</tspan><tspan font-size="19.8" dy="-8.7">ΔKC</tspan></text>
<line x1="430.2" y1="613.2" x2="430.2" y2="900.5" stroke="#000" stroke-width="2.6" />
<line x1="419.2" y1="899.2" x2="430.2" y2="899.2" stroke="#000" stroke-width="2.6" />
<text x="410.2" y="910.2" font-size="30.5" text-anchor="end">0</text>
<line x1="419.2" y1="804.3" x2="430.2" y2="804.3" stroke="#000" stroke-width="2.6" />
<text x="410.2" y="815.3" font-size="30.5" text-anchor="end">50</text>
<line x1="419.2" y1="709.4" x2="430.2" y2="709.4" stroke="#000" stroke-width="2.6" />
<text x="410.2" y="720.4" font-size="30.5" text-anchor="end">100</text>
<line x1="419.2" y1="614.5" x2="430.2" y2="614.5" stroke="#000" stroke-width="2.6" />
<text x="410.2" y="625.5" font-size="30.5" text-anchor="end">150</text>
<line x1="418.7" y1="899.2" x2="714.6" y2="899.2" stroke="#000" stroke-width="2.6" />
<line x1="495.7" y1="899.2" x2="495.7" y2="910.2" stroke="#000" stroke-width="2.6" />
<line x1="647.2" y1="899.2" x2="647.2" y2="910.2" stroke="#000" stroke-width="2.6" />
<line x1="468.0" y1="721.5" x2="468.0" y2="885.5" stroke="#000" stroke-width="2.8" />
<line x1="458.8" y1="721.5" x2="477.2" y2="721.5" stroke="#000" stroke-width="2.8" />
<line x1="458.8" y1="885.5" x2="477.2" y2="885.5" stroke="#000" stroke-width="2.8" />
<line x1="449.2" y1="803.1" x2="486.8" y2="803.1" stroke="#000" stroke-width="2.8" />
<circle cx="468.0" cy="661.6" r="5.8" fill="#f02a1e" />
<circle cx="468.0" cy="698.2" r="5.8" fill="#f02a1e" />
<circle cx="468.0" cy="783.5" r="5.8" fill="#f02a1e" />
<circle cx="454.9" cy="843.2" r="5.8" fill="#f02a1e" />
<circle cx="481.4" cy="839.3" r="5.8" fill="#f02a1e" />
<circle cx="468.0" cy="849.5" r="5.8" fill="#f02a1e" />
<circle cx="481.4" cy="871.1" r="5.8" fill="#f02a1e" />
<circle cx="454.9" cy="880.3" r="5.8" fill="#f02a1e" />
<rect x="512.6" y="847.0" width="11.5" height="11.5" fill="#2000ff" />
<rect x="525.8" y="850.0" width="11.5" height="11.5" fill="#2000ff" />
<rect x="519.4" y="860.2" width="11.5" height="11.5" fill="#2000ff" />
<rect x="505.9" y="876.0" width="11.5" height="11.5" fill="#2000ff" />
<rect x="532.5" y="876.0" width="11.5" height="11.5" fill="#2000ff" />
<rect x="512.6" y="866.2" width="11.5" height="11.5" fill="#2000ff" />
<rect x="525.8" y="868.2" width="11.5" height="11.5" fill="#2000ff" />
<line x1="525.1" y1="862.0" x2="525.1" y2="876.0" stroke="#000" stroke-width="2.8" />
<line x1="515.9" y1="862.0" x2="534.4" y2="862.0" stroke="#000" stroke-width="2.8" />
<line x1="515.9" y1="876.0" x2="534.4" y2="876.0" stroke="#000" stroke-width="2.8" />
<line x1="506.4" y1="869.2" x2="543.9" y2="869.2" stroke="#000" stroke-width="2.8" />
<line x1="619.5" y1="751.3" x2="619.5" y2="825.3" stroke="#000" stroke-width="2.8" />
<line x1="610.2" y1="751.3" x2="628.8" y2="751.3" stroke="#000" stroke-width="2.8" />
<line x1="610.2" y1="825.3" x2="628.8" y2="825.3" stroke="#000" stroke-width="2.8" />
<line x1="600.8" y1="787.9" x2="638.2" y2="787.9" stroke="#000" stroke-width="2.8" />
<circle cx="619.5" cy="714.8" r="5.8" fill="#f02a1e" />
<circle cx="606.4" cy="772.5" r="5.8" fill="#f02a1e" />
<circle cx="619.5" cy="768.1" r="5.8" fill="#f02a1e" />
<circle cx="606.4" cy="791.8" r="5.8" fill="#f02a1e" />
<circle cx="619.5" cy="797.5" r="5.8" fill="#f02a1e" />
<circle cx="633.3" cy="813.3" r="5.8" fill="#f02a1e" />
<circle cx="619.5" cy="818.7" r="5.8" fill="#f02a1e" />
<circle cx="619.5" cy="831.6" r="5.8" fill="#f02a1e" />
<line x1="676.7" y1="799.9" x2="676.7" y2="858.0" stroke="#000" stroke-width="2.8" />
<line x1="667.5" y1="799.9" x2="686.0" y2="799.9" stroke="#000" stroke-width="2.8" />
<line x1="667.5" y1="858.0" x2="686.0" y2="858.0" stroke="#000" stroke-width="2.8" />
<line x1="658.0" y1="829.1" x2="695.5" y2="829.1" stroke="#000" stroke-width="2.8" />
<rect x="657.5" y="786.5" width="11.5" height="11.5" fill="#2000ff" />
<rect x="684.0" y="789.9" width="11.5" height="11.5" fill="#2000ff" />
<rect x="671.0" y="797.0" width="11.5" height="11.5" fill="#2000ff" />
<rect x="671.0" y="822.0" width="11.5" height="11.5" fill="#2000ff" />
<rect x="657.5" y="837.5" width="11.5" height="11.5" fill="#2000ff" />
<rect x="684.0" y="845.8" width="11.5" height="11.5" fill="#2000ff" />
<rect x="671.0" y="846.5" width="11.5" height="11.5" fill="#2000ff" />
<rect x="671.0" y="861.5" width="11.5" height="11.5" fill="#2000ff" />
<line x1="676.7" y1="799.9" x2="676.7" y2="858.0" stroke="#000" stroke-width="2.8" />
<line x1="667.5" y1="829.1" x2="686.0" y2="829.1" stroke="#000" stroke-width="2.8" />
<text x="495.8" y="612.1" font-size="22" text-anchor="middle" textLength="108.8" lengthAdjust="spacingAndGlyphs"><tspan font-style="italic">P</tspan> = 0.0573</text>
<line x1="449.7" y1="627.0" x2="535.7" y2="627.0" stroke="#000" stroke-width="3.2" />
<text x="648.3" y="637.2" font-size="22" text-anchor="middle" textLength="109.7" lengthAdjust="spacingAndGlyphs"><tspan font-style="italic">P</tspan> = 0.0283</text>
<line x1="603.7" y1="652.6" x2="689.8" y2="652.6" stroke="#000" stroke-width="3.2" />
<text x="345.0" y="751.0" font-size="31" text-anchor="middle" transform="rotate(-90 345.0 751.0)">Spleen volume (mm<tspan font-size="19" dy="-11">3</tspan><tspan dy="11">)</tspan></text>
<text x="495.7" y="943.9" font-size="30.5" text-anchor="middle">25</text>
<text x="632.9" y="943.9" font-size="30.5" textLength="64.0" lengthAdjust="spacingAndGlyphs">50 w</text>
<text x="749.0" y="514.5" font-size="45" font-weight="bold">e</text>
<text x="967.7" y="551.0" font-size="28.5" textLength="241.0" lengthAdjust="spacingAndGlyphs">DEN-treated mice</text>
<circle cx="1250.8" cy="540.3" r="5.8" fill="#f02a1e" />
<text x="1264.2" y="552.0" font-size="30"><tspan font-style="italic">Nrp1</tspan><tspan font-size="18.0" dy="-9.0" font-weight="bold">fl/fl</tspan></text>
<rect x="1400.0" y="535.0" width="10.5" height="10.5" fill="#2000ff" />
<text x="1425.5" y="552.0" font-size="30"><tspan font-style="italic">Nrp1</tspan><tspan font-size="19.8" dy="-8.7">ΔKC</tspan></text>
<line x1="874.3" y1="611.4" x2="874.3" y2="896.1" stroke="#000" stroke-width="2.6" />
<line x1="863.3" y1="894.8" x2="874.3" y2="894.8" stroke="#000" stroke-width="2.6" />
<text x="854.3" y="905.8" font-size="30.5" text-anchor="end">0</text>
<line x1="863.3" y1="800.8" x2="874.3" y2="800.8" stroke="#000" stroke-width="2.6" />
<text x="854.3" y="811.8" font-size="30.5" text-anchor="end">200</text>
<line x1="863.3" y1="706.9" x2="874.3" y2="706.9" stroke="#000" stroke-width="2.6" />
<text x="854.3" y="717.9" font-size="30.5" text-anchor="end">400</text>
<line x1="863.3" y1="612.9" x2="874.3" y2="612.9" stroke="#000" stroke-width="2.6" />
<text x="854.3" y="623.9" font-size="30.5" text-anchor="end">600</text>
<line x1="862.9" y1="894.8" x2="1206.9" y2="894.8" stroke="#000" stroke-width="2.6" />
<line x1="928.7" y1="894.8" x2="928.7" y2="905.8" stroke="#000" stroke-width="2.6" />
<line x1="1039.6" y1="894.8" x2="1039.6" y2="905.8" stroke="#000" stroke-width="2.6" />
<line x1="1149.8" y1="894.8" x2="1149.8" y2="905.8" stroke="#000" stroke-width="2.6" />
<text x="928.7" y="941.5" font-size="30.5" text-anchor="middle">0</text>
<text x="1039.6" y="941.5" font-size="30.5" text-anchor="middle">25</text>
<text x="1149.8" y="941.5" font-size="30.5" text-anchor="middle">50</text>
<text x="787.0" y="749.0" font-size="31" text-anchor="middle" transform="rotate(-90 787.0 749.0)">ALT (U/L)</text>
<circle cx="893.7" cy="867.0" r="4.3" fill="#f02a1e" />
<circle cx="905.2" cy="864.7" r="4.3" fill="#f02a1e" />
<circle cx="917.7" cy="869.3" r="4.3" fill="#f02a1e" />
<circle cx="893.7" cy="876.9" r="4.3" fill="#f02a1e" />
<circle cx="905.2" cy="873.8" r="4.3" fill="#f02a1e" />
<circle cx="917.7" cy="878.4" r="4.3" fill="#f02a1e" />
<circle cx="899.4" cy="870.5" r="4.3" fill="#f02a1e" />
<circle cx="911.0" cy="872.0" r="4.3" fill="#f02a1e" />
<line x1="905.2" y1="866.0" x2="905.2" y2="876.0" stroke="#000" stroke-width="2.8" />
<line x1="898.2" y1="866.0" x2="912.2" y2="866.0" stroke="#000" stroke-width="2.8" />
<line x1="898.2" y1="876.0" x2="912.2" y2="876.0" stroke="#000" stroke-width="2.8" />
<line x1="890.4" y1="871.0" x2="920.1" y2="871.0" stroke="#000" stroke-width="2.8" />
<rect x="937.5" y="858.1" width="8.5" height="8.5" fill="#2000ff" />
<rect x="960.4" y="860.5" width="8.5" height="8.5" fill="#2000ff" />
<rect x="937.5" y="876.5" width="8.5" height="8.5" fill="#2000ff" />
<rect x="952.4" y="874.1" width="8.5" height="8.5" fill="#2000ff" />
<rect x="960.4" y="873.0" width="8.5" height="8.5" fill="#2000ff" />
<rect x="945.5" y="868.4" width="8.5" height="8.5" fill="#2000ff" />
<rect x="951.8" y="864.8" width="8.5" height="8.5" fill="#2000ff" />
<line x1="953.0" y1="865.5" x2="953.0" y2="877.5" stroke="#000" stroke-width="2.8" />
<line x1="946.0" y1="865.5" x2="960.0" y2="865.5" stroke="#000" stroke-width="2.8" />
<line x1="946.0" y1="877.5" x2="960.0" y2="877.5" stroke="#000" stroke-width="2.8" />
<line x1="938.1" y1="871.5" x2="967.9" y2="871.5" stroke="#000" stroke-width="2.8" />
<circle cx="1005.5" cy="866.5" r="4.3" fill="#f02a1e" />
<circle cx="1011.0" cy="864.0" r="4.3" fill="#f02a1e" />
<circle cx="1016.7" cy="862.5" r="4.3" fill="#f02a1e" />
<circle cx="1021.3" cy="864.5" r="4.3" fill="#f02a1e" />
<circle cx="1027.0" cy="866.0" r="4.3" fill="#f02a1e" />
<circle cx="1033.0" cy="868.5" r="4.3" fill="#f02a1e" />
<circle cx="1008.0" cy="869.5" r="4.3" fill="#f02a1e" />
<circle cx="1020.0" cy="869.8" r="4.3" fill="#f02a1e" />
<circle cx="1028.0" cy="870.0" r="4.3" fill="#f02a1e" />
<line x1="1006.0" y1="866.9" x2="1031.0" y2="866.9" stroke="#000" stroke-width="2.6" />
<rect x="1048.5" y="857.0" width="8.5" height="8.5" fill="#2000ff" />
<rect x="1066.8" y="862.2" width="8.5" height="8.5" fill="#2000ff" />
<rect x="1059.8" y="868.2" width="8.5" height="8.5" fill="#2000ff" />
<rect x="1050.8" y="870.2" width="8.5" height="8.5" fill="#2000ff" />
<rect x="1070.8" y="870.2" width="8.5" height="8.5" fill="#2000ff" />
<rect x="1073.8" y="866.2" width="8.5" height="8.5" fill="#2000ff" />
<rect x="1057.8" y="862.8" width="8.5" height="8.5" fill="#2000ff" />
<line x1="1065.0" y1="866.0" x2="1065.0" y2="876.0" stroke="#000" stroke-width="2.8" />
<line x1="1058.0" y1="866.0" x2="1072.0" y2="866.0" stroke="#000" stroke-width="2.8" />
<line x1="1058.0" y1="876.0" x2="1072.0" y2="876.0" stroke="#000" stroke-width="2.8" />
<line x1="1050.2" y1="871.0" x2="1079.8" y2="871.0" stroke="#000" stroke-width="2.8" />
<line x1="1126.9" y1="696.6" x2="1126.9" y2="809.8" stroke="#000" stroke-width="2.8" />
<line x1="1118.9" y1="696.6" x2="1134.9" y2="696.6" stroke="#000" stroke-width="2.8" />
<line x1="1118.9" y1="809.8" x2="1134.9" y2="809.8" stroke="#000" stroke-width="2.8" />
<line x1="1111.6" y1="753.0" x2="1142.2" y2="753.0" stroke="#000" stroke-width="2.8" />
<circle cx="1126.9" cy="632.6" r="4.3" fill="#f02a1e" />
<circle cx="1126.9" cy="717.9" r="4.3" fill="#f02a1e" />
<circle cx="1126.9" cy="751.0" r="4.3" fill="#f02a1e" />
<circle cx="1115.5" cy="764.0" r="4.3" fill="#f02a1e" />
<circle cx="1138.4" cy="770.9" r="4.3" fill="#f02a1e" />
<circle cx="1115.5" cy="786.4" r="4.3" fill="#f02a1e" />
<circle cx="1138.4" cy="787.4" r="4.3" fill="#f02a1e" />
<circle cx="1126.9" cy="815.9" r="4.3" fill="#f02a1e" />
<rect x="1170.0" y="751.4" width="8.5" height="8.5" fill="#2000ff" />
<rect x="1158.5" y="782.1" width="8.5" height="8.5" fill="#2000ff" />
<rect x="1181.5" y="787.2" width="8.5" height="8.5" fill="#2000ff" />
<rect x="1158.5" y="794.8" width="8.5" height="8.5" fill="#2000ff" />
<rect x="1170.0" y="809.5" width="8.5" height="8.5" fill="#2000ff" />
<rect x="1170.0" y="819.2" width="8.5" height="8.5" fill="#2000ff" />
<rect x="1181.5" y="837.0" width="8.5" height="8.5" fill="#2000ff" />
<rect x="1158.5" y="841.6" width="8.5" height="8.5" fill="#2000ff" />
<line x1="1174.2" y1="776.6" x2="1174.2" y2="837.2" stroke="#000" stroke-width="2.8" />
<line x1="1166.2" y1="776.6" x2="1182.2" y2="776.6" stroke="#000" stroke-width="2.8" />
<line x1="1166.2" y1="837.2" x2="1182.2" y2="837.2" stroke="#000" stroke-width="2.8" />
<line x1="1158.9" y1="807.5" x2="1189.5" y2="807.5" stroke="#000" stroke-width="2.8" />
<text x="935.8" y="828.9" font-size="22" text-anchor="middle" textLength="96.2" lengthAdjust="spacingAndGlyphs"><tspan font-style="italic">P</tspan> = 0.702</text>
<line x1="892.1" y1="839.4" x2="967.6" y2="839.4" stroke="#000" stroke-width="3.2" />
<text x="1039.7" y="800.6" font-size="22" text-anchor="middle" textLength="108.2" lengthAdjust="spacingAndGlyphs"><tspan font-style="italic">P</tspan> = 0.0171</text>
<line x1="1004.1" y1="815.5" x2="1078.9" y2="815.5" stroke="#000" stroke-width="3.2" />
<text x="1148.8" y="600.1" font-size="22" text-anchor="middle" textLength="109.3" lengthAdjust="spacingAndGlyphs"><tspan font-style="italic">P</tspan> = 0.0325</text>
<line x1="1109.3" y1="611.3" x2="1184.1" y2="611.3" stroke="#000" stroke-width="3.2" />
<line x1="1360.1" y1="611.4" x2="1360.1" y2="895.5" stroke="#000" stroke-width="2.6" />
<line x1="1349.1" y1="894.2" x2="1360.1" y2="894.2" stroke="#000" stroke-width="2.6" />
<text x="1340.1" y="905.2" font-size="30.5" text-anchor="end">0</text>
<line x1="1349.1" y1="823.8" x2="1360.1" y2="823.8" stroke="#000" stroke-width="2.6" />
<text x="1340.1" y="834.8" font-size="30.5" text-anchor="end">200</text>
<line x1="1349.1" y1="753.4" x2="1360.1" y2="753.4" stroke="#000" stroke-width="2.6" />
<text x="1340.1" y="764.4" font-size="30.5" text-anchor="end">400</text>
<line x1="1349.1" y1="683.0" x2="1360.1" y2="683.0" stroke="#000" stroke-width="2.6" />
<text x="1340.1" y="694.0" font-size="30.5" text-anchor="end">600</text>
<line x1="1349.1" y1="612.6" x2="1360.1" y2="612.6" stroke="#000" stroke-width="2.6" />
<text x="1340.1" y="623.6" font-size="30.5" text-anchor="end">800</text>
<line x1="1348.7" y1="894.2" x2="1693.5" y2="894.2" stroke="#000" stroke-width="2.6" />
<line x1="1414.7" y1="894.2" x2="1414.7" y2="905.2" stroke="#000" stroke-width="2.6" />
<line x1="1525.2" y1="894.2" x2="1525.2" y2="905.2" stroke="#000" stroke-width="2.6" />
<line x1="1635.6" y1="894.2" x2="1635.6" y2="905.2" stroke="#000" stroke-width="2.6" />
<text x="1414.7" y="942.3" font-size="30.5" text-anchor="middle">0</text>
<text x="1525.2" y="942.3" font-size="30.5" text-anchor="middle">25</text>
<text x="1620.7" y="942.3" font-size="30.5" textLength="65.0" lengthAdjust="spacingAndGlyphs">50 w</text>
<text x="1271.3" y="749.5" font-size="31" text-anchor="middle" transform="rotate(-90 1271.3 749.5)">AST (U/L)</text>
<circle cx="1395.2" cy="831.0" r="4.3" fill="#f02a1e" />
<circle cx="1387.2" cy="834.2" r="4.3" fill="#f02a1e" />
<circle cx="1395.2" cy="840.7" r="4.3" fill="#f02a1e" />
<circle cx="1379.6" cy="846.2" r="4.3" fill="#f02a1e" />
<circle cx="1387.2" cy="851.6" r="4.3" fill="#f02a1e" />
<circle cx="1402.8" cy="853.7" r="4.3" fill="#f02a1e" />
<circle cx="1379.6" cy="858.1" r="4.3" fill="#f02a1e" />
<circle cx="1395.2" cy="858.1" r="4.3" fill="#f02a1e" />
<line x1="1391.3" y1="836.0" x2="1391.3" y2="857.0" stroke="#000" stroke-width="2.8" />
<line x1="1384.3" y1="836.0" x2="1398.3" y2="836.0" stroke="#000" stroke-width="2.8" />
<line x1="1384.3" y1="857.0" x2="1398.3" y2="857.0" stroke="#000" stroke-width="2.8" />
<line x1="1380.3" y1="846.6" x2="1402.3" y2="846.6" stroke="#000" stroke-width="2.8" />
<rect x="1423.5" y="824.6" width="8.5" height="8.5" fill="#2000ff" />
<rect x="1446.2" y="830.0" width="8.5" height="8.5" fill="#2000ff" />
<rect x="1435.4" y="835.4" width="8.5" height="8.5" fill="#2000ff" />
<rect x="1423.5" y="843.4" width="8.5" height="8.5" fill="#2000ff" />
<rect x="1446.2" y="842.6" width="8.5" height="8.5" fill="#2000ff" />
<rect x="1435.4" y="849.5" width="8.5" height="8.5" fill="#2000ff" />
<rect x="1446.2" y="852.1" width="8.5" height="8.5" fill="#2000ff" />
<rect x="1423.5" y="859.2" width="8.5" height="8.5" fill="#2000ff" />
<line x1="1439.6" y1="835.5" x2="1439.6" y2="858.5" stroke="#000" stroke-width="2.8" />
<line x1="1430.6" y1="835.5" x2="1448.6" y2="835.5" stroke="#000" stroke-width="2.8" />
<line x1="1430.6" y1="858.5" x2="1448.6" y2="858.5" stroke="#000" stroke-width="2.8" />
<line x1="1425.6" y1="846.6" x2="1453.6" y2="846.6" stroke="#000" stroke-width="2.8" />
<circle cx="1513.3" cy="807.8" r="4.3" fill="#f02a1e" />
<circle cx="1490.5" cy="812.6" r="4.3" fill="#f02a1e" />
<circle cx="1505.7" cy="814.7" r="4.3" fill="#f02a1e" />
<circle cx="1498.1" cy="813.7" r="4.3" fill="#f02a1e" />
<circle cx="1505.7" cy="825.1" r="4.3" fill="#f02a1e" />
<circle cx="1498.1" cy="833.2" r="4.3" fill="#f02a1e" />
<circle cx="1505.7" cy="833.2" r="4.3" fill="#f02a1e" />
<circle cx="1505.7" cy="844.0" r="4.3" fill="#f02a1e" />
<circle cx="1498.1" cy="849.4" r="4.3" fill="#f02a1e" />
<line x1="1501.4" y1="810.4" x2="1501.4" y2="841.2" stroke="#000" stroke-width="2.8" />
<line x1="1492.4" y1="810.4" x2="1510.4" y2="810.4" stroke="#000" stroke-width="2.8" />
<line x1="1492.4" y1="841.2" x2="1510.4" y2="841.2" stroke="#000" stroke-width="2.8" />
<line x1="1485.4" y1="826.2" x2="1517.4" y2="826.2" stroke="#000" stroke-width="2.8" />
<rect x="1556.7" y="827.2" width="8.5" height="8.5" fill="#2000ff" />
<rect x="1540.4" y="833.2" width="8.5" height="8.5" fill="#2000ff" />
<rect x="1549.1" y="833.2" width="8.5" height="8.5" fill="#2000ff" />
<rect x="1533.9" y="843.4" width="8.5" height="8.5" fill="#2000ff" />
<rect x="1549.1" y="845.2" width="8.5" height="8.5" fill="#2000ff" />
<rect x="1556.7" y="848.4" width="8.5" height="8.5" fill="#2000ff" />
<rect x="1540.4" y="848.4" width="8.5" height="8.5" fill="#2000ff" />
<rect x="1533.9" y="855.5" width="8.5" height="8.5" fill="#2000ff" />
<rect x="1549.1" y="853.8" width="8.5" height="8.5" fill="#2000ff" />
<line x1="1549.7" y1="842.0" x2="1549.7" y2="852.0" stroke="#000" stroke-width="2.8" />
<line x1="1542.7" y1="842.0" x2="1556.7" y2="842.0" stroke="#000" stroke-width="2.8" />
<line x1="1542.7" y1="852.0" x2="1556.7" y2="852.0" stroke="#000" stroke-width="2.8" />
<line x1="1534.7" y1="846.8" x2="1564.7" y2="846.8" stroke="#000" stroke-width="2.8" />
<line x1="1613.3" y1="672.2" x2="1613.3" y2="794.8" stroke="#000" stroke-width="2.8" />
<line x1="1605.3" y1="672.2" x2="1621.3" y2="672.2" stroke="#000" stroke-width="2.8" />
<line x1="1605.3" y1="794.8" x2="1621.3" y2="794.8" stroke="#000" stroke-width="2.8" />
<line x1="1597.8" y1="733.1" x2="1628.8" y2="733.1" stroke="#000" stroke-width="2.8" />
<circle cx="1613.3" cy="642.1" r="4.3" fill="#f02a1e" />
<circle cx="1613.3" cy="661.6" r="4.3" fill="#f02a1e" />
<circle cx="1613.3" cy="709.7" r="4.3" fill="#f02a1e" />
<circle cx="1602.1" cy="730.3" r="4.3" fill="#f02a1e" />
<circle cx="1624.8" cy="738.5" r="4.3" fill="#f02a1e" />
<circle cx="1613.3" cy="783.3" r="4.3" fill="#f02a1e" />
<circle cx="1613.3" cy="793.1" r="4.3" fill="#f02a1e" />
<circle cx="1613.3" cy="809.3" r="4.3" fill="#f02a1e" />
<rect x="1656.3" y="722.8" width="8.5" height="8.5" fill="#2000ff" />
<rect x="1656.3" y="730.4" width="8.5" height="8.5" fill="#2000ff" />
<rect x="1656.3" y="779.1" width="8.5" height="8.5" fill="#2000ff" />
<rect x="1656.3" y="791.4" width="8.5" height="8.5" fill="#2000ff" />
<rect x="1656.3" y="806.6" width="8.5" height="8.5" fill="#2000ff" />
<rect x="1656.3" y="822.4" width="8.5" height="8.5" fill="#2000ff" />
<rect x="1645.0" y="837.6" width="8.5" height="8.5" fill="#2000ff" />
<rect x="1667.6" y="836.5" width="8.5" height="8.5" fill="#2000ff" />
<line x1="1660.6" y1="752.4" x2="1660.6" y2="839.0" stroke="#000" stroke-width="2.8" />
<line x1="1652.6" y1="752.4" x2="1668.6" y2="752.4" stroke="#000" stroke-width="2.8" />
<line x1="1652.6" y1="839.0" x2="1668.6" y2="839.0" stroke="#000" stroke-width="2.8" />
<line x1="1645.1" y1="795.7" x2="1676.1" y2="795.7" stroke="#000" stroke-width="2.8" />
<text x="1422.5" y="789.8" font-size="22" text-anchor="middle" textLength="108.7" lengthAdjust="spacingAndGlyphs"><tspan font-style="italic">P</tspan> = 0.9225</text>
<line x1="1380.0" y1="805.4" x2="1455.2" y2="805.4" stroke="#000" stroke-width="3.2" />
<text x="1527.0" y="754.1" font-size="22" text-anchor="middle" textLength="108.9" lengthAdjust="spacingAndGlyphs"><tspan font-style="italic">P</tspan> = 0.0062</text>
<line x1="1489.0" y1="776.4" x2="1564.2" y2="776.4" stroke="#000" stroke-width="3.2" />
<text x="1629.1" y="589.1" font-size="22" text-anchor="middle" textLength="109.7" lengthAdjust="spacingAndGlyphs"><tspan font-style="italic">P</tspan> = 0.0346</text>
<line x1="1602.7" y1="605.1" x2="1677.9" y2="605.1" stroke="#000" stroke-width="3.2" />
<text x="1718.0" y="514.2" font-size="45" font-weight="bold">f</text>
<line x1="1843.7" y1="542.1" x2="1843.7" y2="824.2" stroke="#000" stroke-width="2.6" />
<line x1="1832.7" y1="822.9" x2="1843.7" y2="822.9" stroke="#000" stroke-width="2.6" />
<text x="1823.7" y="833.9" font-size="30.5" text-anchor="end">0</text>
<line x1="1832.7" y1="753.0" x2="1843.7" y2="753.0" stroke="#000" stroke-width="2.6" />
<text x="1823.7" y="764.0" font-size="30.5" text-anchor="end">5</text>
<line x1="1832.7" y1="683.1" x2="1843.7" y2="683.1" stroke="#000" stroke-width="2.6" />
<text x="1823.7" y="694.1" font-size="30.5" text-anchor="end">10</text>
<line x1="1832.7" y1="613.2" x2="1843.7" y2="613.2" stroke="#000" stroke-width="2.6" />
<text x="1823.7" y="624.2" font-size="30.5" text-anchor="end">15</text>
<line x1="1832.7" y1="543.3" x2="1843.7" y2="543.3" stroke="#000" stroke-width="2.6" />
<text x="1823.7" y="554.3" font-size="30.5" text-anchor="end">20</text>
<line x1="1832.4" y1="822.9" x2="2031.5" y2="822.9" stroke="#000" stroke-width="2.6" />
<line x1="1896.9" y1="822.9" x2="1896.9" y2="833.9" stroke="#000" stroke-width="2.6" />
<line x1="1977.2" y1="822.9" x2="1977.2" y2="833.9" stroke="#000" stroke-width="2.6" />
<line x1="1896.9" y1="623.9" x2="1896.9" y2="702.5" stroke="#000" stroke-width="2.8" />
<line x1="1883.9" y1="623.9" x2="1909.9" y2="623.9" stroke="#000" stroke-width="2.8" />
<line x1="1883.9" y1="702.5" x2="1909.9" y2="702.5" stroke="#000" stroke-width="2.8" />
<line x1="1870.9" y1="663.4" x2="1922.9" y2="663.4" stroke="#000" stroke-width="2.8" />
<circle cx="1896.9" cy="609.1" r="4.8" fill="#f02a1e" />
<circle cx="1896.9" cy="623.3" r="4.8" fill="#f02a1e" />
<circle cx="1896.9" cy="663.8" r="4.8" fill="#f02a1e" />
<circle cx="1896.9" cy="683.4" r="4.8" fill="#f02a1e" />
<circle cx="1918.0" cy="696.0" r="4.8" fill="#f02a1e" />
<circle cx="1876.3" cy="704.2" r="4.8" fill="#f02a1e" />
<rect x="1971.6" y="680.6" width="10.4" height="10.4" fill="#2000ff" />
<rect x="1992.6" y="697.3" width="10.4" height="10.4" fill="#2000ff" />
<rect x="1950.8" y="713.1" width="10.4" height="10.4" fill="#2000ff" />
<rect x="1971.6" y="713.1" width="10.4" height="10.4" fill="#2000ff" />
<rect x="1950.8" y="724.8" width="10.4" height="10.4" fill="#2000ff" />
<rect x="1992.6" y="722.7" width="10.4" height="10.4" fill="#2000ff" />
<line x1="1976.8" y1="697.0" x2="1976.8" y2="730.7" stroke="#000" stroke-width="2.8" />
<line x1="1963.8" y1="697.0" x2="1989.8" y2="697.0" stroke="#000" stroke-width="2.8" />
<line x1="1963.8" y1="730.7" x2="1989.8" y2="730.7" stroke="#000" stroke-width="2.8" />
<line x1="1950.8" y1="713.8" x2="2002.8" y2="713.8" stroke="#000" stroke-width="2.8" />
<text x="1936.5" y="558.6" font-size="22" text-anchor="middle" textLength="109.6" lengthAdjust="spacingAndGlyphs"><tspan font-style="italic">P</tspan> = 0.0154</text>
<line x1="1877.4" y1="573.3" x2="1995.7" y2="573.3" stroke="#000" stroke-width="3.2" />
<text x="1766.7" y="686.2" font-size="31" text-anchor="middle" transform="rotate(-90 1766.7 686.2)">KC/CD45<tspan font-size="19" dy="-11">+</tspan><tspan dy="11"> cells(%)</tspan></text>
<text x="1924.0" y="869.0" font-size="30" text-anchor="end" transform="rotate(-45 1924.0 869.0)"><tspan font-style="italic">Nrp1</tspan><tspan font-size="19.2" dy="-9.0">fl/fl</tspan></text>
<text x="2002.0" y="874.0" font-size="30" text-anchor="end" transform="rotate(-45 2002.0 874.0)"><tspan font-style="italic">Nrp1</tspan><tspan font-size="19.8" dy="-8.7">ΔKC</tspan></text>
<text x="2.9" y="1011.2" font-size="45" font-weight="bold">g</text>
<line x1="136.4" y1="1051.7" x2="136.4" y2="1289.0" stroke="#000" stroke-width="2.6" />
<line x1="136.4" y1="1309.8" x2="136.4" y2="1335.9" stroke="#000" stroke-width="2.6" />
<line x1="125.4" y1="1053.0" x2="136.4" y2="1053.0" stroke="#000" stroke-width="2.6" />
<text x="115.4" y="1063.9" font-size="30.5" text-anchor="end">3.5</text>
<line x1="125.4" y1="1160.7" x2="136.4" y2="1160.7" stroke="#000" stroke-width="2.6" />
<text x="115.4" y="1171.6" font-size="30.5" text-anchor="end">3.0</text>
<line x1="125.4" y1="1267.5" x2="136.4" y2="1267.5" stroke="#000" stroke-width="2.6" />
<text x="115.4" y="1278.4" font-size="30.5" text-anchor="end">2.5</text>
<line x1="125.4" y1="1335.9" x2="136.4" y2="1335.9" stroke="#000" stroke-width="2.6" />
<text x="115.4" y="1346.8" font-size="30.5" text-anchor="end">0</text>
<line x1="130.0" y1="1289.0" x2="143.8" y2="1289.0" stroke="#000" stroke-width="2.6" />
<line x1="130.0" y1="1309.8" x2="143.8" y2="1309.8" stroke="#000" stroke-width="2.6" />
<line x1="125.4" y1="1335.9" x2="325.2" y2="1335.9" stroke="#000" stroke-width="2.6" />
<line x1="189.2" y1="1335.9" x2="189.2" y2="1346.9" stroke="#000" stroke-width="2.6" />
<line x1="269.9" y1="1335.9" x2="269.9" y2="1346.9" stroke="#000" stroke-width="2.6" />
<line x1="190.0" y1="1117.2" x2="190.0" y2="1220.3" stroke="#000" stroke-width="2.8" />
<line x1="177.0" y1="1117.2" x2="203.0" y2="1117.2" stroke="#000" stroke-width="2.8" />
<line x1="177.0" y1="1220.3" x2="203.0" y2="1220.3" stroke="#000" stroke-width="2.8" />
<line x1="163.5" y1="1168.8" x2="216.5" y2="1168.8" stroke="#000" stroke-width="2.8" />
<circle cx="190.0" cy="1106.9" r="5.1" fill="#f02a1e" />
<circle cx="190.0" cy="1119.6" r="5.1" fill="#f02a1e" />
<circle cx="190.0" cy="1131.9" r="5.1" fill="#f02a1e" />
<circle cx="190.0" cy="1166.0" r="5.1" fill="#f02a1e" />
<circle cx="190.0" cy="1203.0" r="5.1" fill="#f02a1e" />
<circle cx="190.0" cy="1216.5" r="5.1" fill="#f02a1e" />
<circle cx="190.0" cy="1239.1" r="5.1" fill="#f02a1e" />
<rect x="254.4" y="1192.8" width="11.0" height="11.0" fill="#2000ff" />
<rect x="264.9" y="1203.6" width="11.0" height="11.0" fill="#2000ff" />
<rect x="275.6" y="1215.1" width="11.0" height="11.0" fill="#2000ff" />
<rect x="254.4" y="1225.1" width="11.0" height="11.0" fill="#2000ff" />
<rect x="243.6" y="1232.8" width="11.0" height="11.0" fill="#2000ff" />
<rect x="264.9" y="1232.8" width="11.0" height="11.0" fill="#2000ff" />
<rect x="275.6" y="1229.7" width="11.0" height="11.0" fill="#2000ff" />
<rect x="285.9" y="1236.6" width="11.0" height="11.0" fill="#2000ff" />
<line x1="270.4" y1="1211.0" x2="270.4" y2="1242.6" stroke="#000" stroke-width="2.8" />
<line x1="257.4" y1="1211.0" x2="283.4" y2="1211.0" stroke="#000" stroke-width="2.8" />
<line x1="257.4" y1="1242.6" x2="283.4" y2="1242.6" stroke="#000" stroke-width="2.8" />
<line x1="243.9" y1="1226.8" x2="296.9" y2="1226.8" stroke="#000" stroke-width="2.8" />
<text x="235.2" y="1050.7" font-size="22" text-anchor="middle" textLength="108.4" lengthAdjust="spacingAndGlyphs"><tspan font-style="italic">P</tspan> = 0.0245</text>
<line x1="172.3" y1="1068.9" x2="291.4" y2="1068.9" stroke="#000" stroke-width="3.2" />
<text x="45.0" y="1191.7" font-size="31" text-anchor="middle" transform="rotate(-90 45.0 1191.7)">TNFα MFI in KCs (×10<tspan font-size="19" dy="-11">4</tspan><tspan dy="11">)</tspan></text>
<text x="209.5" y="1375.0" font-size="30" text-anchor="end" transform="rotate(-45 209.5 1375.0)"><tspan font-style="italic">Nrp1</tspan><tspan font-size="19.2" dy="-9.0">fl/fl</tspan></text>
<text x="296.0" y="1377.0" font-size="30" text-anchor="end" transform="rotate(-45 296.0 1377.0)"><tspan font-style="italic">Nrp1</tspan><tspan font-size="19.8" dy="-8.7">ΔKC</tspan></text>
<line x1="468.5" y1="1051.6" x2="468.5" y2="1337.6" stroke="#000" stroke-width="2.6" />
<line x1="457.5" y1="1336.3" x2="468.5" y2="1336.3" stroke="#000" stroke-width="2.6" />
<text x="448.5" y="1347.3" font-size="30.5" text-anchor="end">0</text>
<line x1="457.5" y1="1279.6" x2="468.5" y2="1279.6" stroke="#000" stroke-width="2.6" />
<text x="448.5" y="1290.6" font-size="30.5" text-anchor="end">1</text>
<line x1="457.5" y1="1222.9" x2="468.5" y2="1222.9" stroke="#000" stroke-width="2.6" />
<text x="448.5" y="1233.9" font-size="30.5" text-anchor="end">2</text>
<line x1="457.5" y1="1166.2" x2="468.5" y2="1166.2" stroke="#000" stroke-width="2.6" />
<text x="448.5" y="1177.2" font-size="30.5" text-anchor="end">3</text>
<line x1="457.5" y1="1109.5" x2="468.5" y2="1109.5" stroke="#000" stroke-width="2.6" />
<text x="448.5" y="1120.5" font-size="30.5" text-anchor="end">4</text>
<line x1="457.5" y1="1052.8" x2="468.5" y2="1052.8" stroke="#000" stroke-width="2.6" />
<text x="448.5" y="1063.8" font-size="30.5" text-anchor="end">5</text>
<line x1="457.5" y1="1336.3" x2="659.0" y2="1336.3" stroke="#000" stroke-width="2.6" />
<line x1="522.0" y1="1336.3" x2="522.0" y2="1347.3" stroke="#000" stroke-width="2.6" />
<line x1="603.4" y1="1336.3" x2="603.4" y2="1347.3" stroke="#000" stroke-width="2.6" />
<line x1="522.5" y1="1090.1" x2="522.5" y2="1201.9" stroke="#000" stroke-width="2.8" />
<line x1="509.5" y1="1090.1" x2="535.5" y2="1090.1" stroke="#000" stroke-width="2.8" />
<line x1="509.5" y1="1201.9" x2="535.5" y2="1201.9" stroke="#000" stroke-width="2.8" />
<line x1="495.5" y1="1145.9" x2="549.5" y2="1145.9" stroke="#000" stroke-width="2.8" />
<circle cx="511.0" cy="1096.2" r="5.4" fill="#f02a1e" />
<circle cx="533.9" cy="1104.0" r="5.4" fill="#f02a1e" />
<circle cx="511.0" cy="1115.4" r="5.4" fill="#f02a1e" />
<circle cx="533.9" cy="1122.8" r="5.4" fill="#f02a1e" />
<circle cx="522.5" cy="1140.2" r="5.4" fill="#f02a1e" />
<circle cx="522.5" cy="1196.0" r="5.4" fill="#f02a1e" />
<circle cx="522.5" cy="1248.7" r="5.4" fill="#f02a1e" />
<rect x="598.1" y="1139.8" width="11.3" height="11.3" fill="#2000ff" />
<rect x="587.2" y="1178.6" width="11.3" height="11.3" fill="#2000ff" />
<rect x="608.9" y="1186.4" width="11.3" height="11.3" fill="#2000ff" />
<rect x="598.1" y="1205.2" width="11.3" height="11.3" fill="#2000ff" />
<rect x="577.1" y="1223.9" width="11.3" height="11.3" fill="#2000ff" />
<rect x="598.1" y="1225.5" width="11.3" height="11.3" fill="#2000ff" />
<rect x="619.6" y="1223.9" width="11.3" height="11.3" fill="#2000ff" />
<rect x="598.1" y="1245.1" width="11.3" height="11.3" fill="#2000ff" />
<line x1="603.8" y1="1175.4" x2="603.8" y2="1243.4" stroke="#000" stroke-width="2.8" />
<line x1="590.8" y1="1175.4" x2="616.8" y2="1175.4" stroke="#000" stroke-width="2.8" />
<line x1="590.8" y1="1243.4" x2="616.8" y2="1243.4" stroke="#000" stroke-width="2.8" />
<line x1="576.8" y1="1209.3" x2="630.8" y2="1209.3" stroke="#000" stroke-width="2.8" />
<text x="566.8" y="1050.5" font-size="22" text-anchor="middle" textLength="106.8" lengthAdjust="spacingAndGlyphs"><tspan font-style="italic">P</tspan> = 0.0187</text>
<line x1="504.5" y1="1068.5" x2="623.4" y2="1068.5" stroke="#000" stroke-width="3.2" />
<text x="402.0" y="1194.8" font-size="31" text-anchor="middle" transform="rotate(-90 402.0 1194.8)">IL1β MFI in KCs (×10<tspan font-size="19" dy="-11">3</tspan><tspan dy="11">)</tspan></text>
<text x="542.5" y="1375.0" font-size="30" text-anchor="end" transform="rotate(-45 542.5 1375.0)"><tspan font-style="italic">Nrp1</tspan><tspan font-size="19.2" dy="-9.0">fl/fl</tspan></text>
<text x="628.0" y="1377.0" font-size="30" text-anchor="end" transform="rotate(-45 628.0 1377.0)"><tspan font-style="italic">Nrp1</tspan><tspan font-size="19.8" dy="-8.7">ΔKC</tspan></text>
<text x="704.5" y="1011.5" font-size="45" font-weight="bold">h</text>
<rect x="815.0" y="1049.5" width="24.2" height="10.2" fill="#ff2212" stroke="#000" stroke-width="2" />
<text x="849.0" y="1063.3" font-size="30" textLength="96.3" lengthAdjust="spacingAndGlyphs">Control</text>
<rect x="974.0" y="1049.5" width="24.2" height="10.2" fill="#2000ff" stroke="#000" stroke-width="2" />
<text x="1009.2" y="1063.3" font-size="30" textLength="126.1" lengthAdjust="spacingAndGlyphs">EG01377</text>
<line x1="866.2" y1="1104.0" x2="866.2" y2="1383.2" stroke="#000" stroke-width="2.6" />
<line x1="854.7" y1="1381.9" x2="866.2" y2="1381.9" stroke="#000" stroke-width="2.6" />
<text x="847.7" y="1392.9" font-size="30.5" text-anchor="end">0</text>
<line x1="854.7" y1="1326.6" x2="866.2" y2="1326.6" stroke="#000" stroke-width="2.6" />
<text x="847.7" y="1337.6" font-size="30.5" text-anchor="end">5</text>
<line x1="854.7" y1="1271.3" x2="866.2" y2="1271.3" stroke="#000" stroke-width="2.6" />
<text x="847.7" y="1282.3" font-size="30.5" text-anchor="end">10</text>
<line x1="854.7" y1="1216.0" x2="866.2" y2="1216.0" stroke="#000" stroke-width="2.6" />
<text x="847.7" y="1227.0" font-size="30.5" text-anchor="end">15</text>
<line x1="854.7" y1="1160.7" x2="866.2" y2="1160.7" stroke="#000" stroke-width="2.6" />
<text x="847.7" y="1171.7" font-size="30.5" text-anchor="end">20</text>
<line x1="854.7" y1="1105.4" x2="866.2" y2="1105.4" stroke="#000" stroke-width="2.6" />
<text x="847.7" y="1116.4" font-size="30.5" text-anchor="end">25</text>
<line x1="854.5" y1="1381.9" x2="1143.3" y2="1381.9" stroke="#000" stroke-width="2.3" />
<line x1="937.9" y1="1381.9" x2="937.9" y2="1393.4" stroke="#000" stroke-width="2.3" />
<line x1="1069.9" y1="1381.9" x2="1069.9" y2="1393.4" stroke="#000" stroke-width="2.3" />
<rect x="890.0" y="1190.2" width="40.8" height="191.8" fill="#ff2212" stroke="#000" stroke-width="2.5" />
<rect x="945.1" y="1215.0" width="40.8" height="166.9" fill="#2000ff" stroke="#000" stroke-width="2.5" />
<rect x="1022.8" y="1203.5" width="40.3" height="178.4" fill="#ff2212" stroke="#000" stroke-width="2.5" />
<rect x="1077.8" y="1203.5" width="40.9" height="178.4" fill="#2000ff" stroke="#000" stroke-width="2.5" />
<line x1="910.5" y1="1168.9" x2="910.5" y2="1208.2" stroke="#000" stroke-width="2.8" />
<line x1="899.6" y1="1168.9" x2="921.4" y2="1168.9" stroke="#000" stroke-width="2.8" />
<line x1="899.6" y1="1208.2" x2="921.4" y2="1208.2" stroke="#000" stroke-width="2.8" />
<circle cx="910.5" cy="1159.1" r="4.3" fill="#000" />
<circle cx="902.0" cy="1177.5" r="4.3" fill="#000" />
<circle cx="919.0" cy="1174.8" r="4.3" fill="#000" />
<circle cx="902.0" cy="1192.0" r="4.3" fill="#000" />
<circle cx="919.0" cy="1191.1" r="4.3" fill="#000" />
<circle cx="910.5" cy="1205.5" r="4.3" fill="#000" />
<circle cx="910.5" cy="1216.4" r="4.3" fill="#000" />
<line x1="965.5" y1="1203.2" x2="965.5" y2="1222.7" stroke="#000" stroke-width="2.8" />
<line x1="954.6" y1="1203.2" x2="976.4" y2="1203.2" stroke="#000" stroke-width="2.8" />
<line x1="954.6" y1="1222.7" x2="976.4" y2="1222.7" stroke="#000" stroke-width="2.8" />
<circle cx="965.5" cy="1197.4" r="4.3" fill="#000" />
<circle cx="947.5" cy="1210.0" r="4.3" fill="#000" />
<circle cx="959.2" cy="1213.6" r="4.3" fill="#000" />
<circle cx="971.8" cy="1210.6" r="4.3" fill="#000" />
<circle cx="983.2" cy="1217.8" r="4.3" fill="#000" />
<circle cx="965.5" cy="1225.7" r="4.3" fill="#000" />
<line x1="1042.8" y1="1185.1" x2="1042.8" y2="1217.3" stroke="#000" stroke-width="2.8" />
<line x1="1032.0" y1="1185.1" x2="1053.6" y2="1185.1" stroke="#000" stroke-width="2.8" />
<line x1="1032.0" y1="1217.3" x2="1053.6" y2="1217.3" stroke="#000" stroke-width="2.8" />
<circle cx="1042.8" cy="1183.9" r="4.3" fill="#000" />
<circle cx="1024.7" cy="1188.9" r="4.3" fill="#000" />
<circle cx="1042.8" cy="1194.7" r="4.3" fill="#000" />
<circle cx="1024.7" cy="1198.3" r="4.3" fill="#000" />
<circle cx="1060.8" cy="1202.3" r="4.3" fill="#000" />
<circle cx="1042.8" cy="1208.2" r="4.3" fill="#000" />
<circle cx="1042.8" cy="1233.5" r="4.3" fill="#000" />
<line x1="1098.2" y1="1173.0" x2="1098.2" y2="1229.9" stroke="#000" stroke-width="2.8" />
<line x1="1087.4" y1="1173.0" x2="1109.0" y2="1173.0" stroke="#000" stroke-width="2.8" />
<line x1="1087.4" y1="1229.9" x2="1109.0" y2="1229.9" stroke="#000" stroke-width="2.8" />
<circle cx="1106.3" cy="1171.2" r="4.3" fill="#000" />
<circle cx="1090.1" cy="1179.4" r="4.3" fill="#000" />
<circle cx="1106.3" cy="1181.2" r="4.3" fill="#000" />
<circle cx="1098.2" cy="1210.0" r="4.3" fill="#000" />
<circle cx="1098.2" cy="1226.8" r="4.3" fill="#000" />
<circle cx="1098.2" cy="1239.8" r="4.3" fill="#000" />
<text x="938.0" y="1122.9" font-size="22" text-anchor="middle" textLength="94.8" lengthAdjust="spacingAndGlyphs"><tspan font-style="italic">P</tspan> = 0.017</text>
<line x1="896.0" y1="1137.8" x2="981.8" y2="1137.8" stroke="#000" stroke-width="3.2" />
<text x="1072.0" y="1139.1" font-size="22" text-anchor="middle" textLength="108.3" lengthAdjust="spacingAndGlyphs"><tspan font-style="italic">P</tspan> = 0.9843</text>
<line x1="1026.0" y1="1152.8" x2="1111.7" y2="1152.8" stroke="#000" stroke-width="3.2" />
<text x="895.3" y="1426.2" font-size="30"><tspan font-style="italic">Nrp1</tspan><tspan font-size="18.0" dy="-9.0" font-weight="bold">fl/fl</tspan></text>
<text x="1019.5" y="1426.2" font-size="30"><tspan font-style="italic">Nrp1</tspan><tspan font-size="19.8" dy="-8.7">ΔKC</tspan></text>
<text x="751.0" y="1247.0" font-size="31" text-anchor="middle" transform="rotate(-90 751.0 1247.0)">Largest diameter</text>
<text x="786.0" y="1244.0" font-size="31" text-anchor="middle" transform="rotate(-90 786.0 1244.0)">of spleen (mm)</text>
<text x="1199.5" y="1011.2" font-size="45" font-weight="bold">i</text>
<text x="1254.0" y="1047.0" font-size="28.5" textLength="712.7" lengthAdjust="spacingAndGlyphs">Treatment Plan for DEN-induced murine HCC model</text>
<rect x="1225.8" y="1067.5" width="426.60000000000014" height="168.0" fill="none" stroke="#000" stroke-width="3" stroke-dasharray="11 7"/>
<rect x="1672.8" y="1136.7" width="308.20000000000005" height="98.79999999999995" fill="none" stroke="#000" stroke-width="3" stroke-dasharray="11 7"/>
<text x="1242.7" y="1103.4" font-size="30"><tspan font-style="italic" font-weight="bold">Mef2d</tspan><tspan font-size="18.5" dy="-10.6" font-weight="bold">fl/fl</tspan><tspan dy="10.6" font-weight="bold"> &amp; </tspan><tspan font-style="italic" font-weight="bold">Mef2d</tspan><tspan font-size="18.5" dy="-10.6" font-weight="bold">ΔHep</tspan><tspan dy="10.6" font-weight="bold"> mice</tspan></text>
<text x="1242.7" y="1144.3" font-size="28.5" textLength="390.3" lengthAdjust="spacingAndGlyphs">DEN:1 treatment (day 0; i.p.)</text>
<text x="1242.7" y="1180.2" font-size="28.5" textLength="329.0" lengthAdjust="spacingAndGlyphs">Tamoxifen: 7 treatments</text>
<text x="1242.7" y="1217.6" font-size="28.5" textLength="366.0" lengthAdjust="spacingAndGlyphs">(day 0 - day 6; i.p./per day)</text>
<text x="1686.7" y="1177.6" font-size="28.5" textLength="272.9" lengthAdjust="spacingAndGlyphs">EG01377 or DMSO:</text>
<text x="1686.7" y="1213.5" font-size="28.5" textLength="268.8" lengthAdjust="spacingAndGlyphs">Twice per week; i.p.</text>
<line x1="1297.5" y1="1236.0" x2="1297.5" y2="1262.0" stroke="#000" stroke-width="4.5" />
<path d="M1289.0,1260.0 L1306.0,1260.0 L1297.5,1278.0 Z" fill="#000" />
<line x1="1297.0" y1="1286.2" x2="1950.0" y2="1286.2" stroke="#000" stroke-width="5.5" />
<path d="M1944.0,1274.0 L1979.0,1286.2 L1944.0,1298.5 Z" fill="#000" />
<line x1="1299.0" y1="1283.0" x2="1299.0" y2="1304.0" stroke="#000" stroke-width="5.5" />
<line x1="1529.0" y1="1283.0" x2="1529.0" y2="1304.0" stroke="#000" stroke-width="5.5" />
<line x1="1597.0" y1="1283.0" x2="1597.0" y2="1304.0" stroke="#000" stroke-width="5.5" />
<line x1="1868.4" y1="1283.0" x2="1868.4" y2="1304.0" stroke="#000" stroke-width="5.5" />
<path d="M1529,1283 L1529,1270 Q1529,1264.7 1535,1264.7 L1792,1264.7 Q1798.3,1264.7 1798.3,1258 L1798.3,1252 M1798.3,1258 Q1798.3,1264.7 1805,1264.7 L1862,1264.7 Q1868.4,1264.7 1868.4,1270 L1868.4,1283" fill="none" stroke="#000" stroke-width="4.5" />
<text x="1299.0" y="1339.0" font-size="28.5" text-anchor="middle">0</text>
<text x="1530.5" y="1339.0" font-size="28.5" text-anchor="middle">20</text>
<text x="1597.0" y="1339.0" font-size="28.5" text-anchor="middle">25</text>
<text x="1854.6" y="1339.0" font-size="28.5" textLength="126.4" lengthAdjust="spacingAndGlyphs">50 weeks</text>
<line x1="1597.0" y1="1350.0" x2="1597.0" y2="1362.0" stroke="#000" stroke-width="4.5" />
<path d="M1588.5,1360.0 L1605.5,1360.0 L1597.0,1375.5 Z" fill="#000" />
<line x1="1868.4" y1="1350.0" x2="1868.4" y2="1362.0" stroke="#000" stroke-width="4.5" />
<path d="M1859.9,1360.0 L1876.9,1360.0 L1868.4,1375.5 Z" fill="#000" />
<text x="1525.4" y="1403.0" font-size="28.5" textLength="158.6" lengthAdjust="spacingAndGlyphs">Liver (PME)</text>
<text x="1799.3" y="1403.0" font-size="28.5" textLength="172.6" lengthAdjust="spacingAndGlyphs">Liver (tumor)</text>
<text x="1.5" y="1507.5" font-size="45" font-weight="bold">j</text>
<line x1="143.2" y1="1551.2" x2="143.2" y2="1736.8" stroke="#000" stroke-width="2.6" />
<line x1="133.2" y1="1735.5" x2="143.2" y2="1735.5" stroke="#000" stroke-width="2.6" />
<text x="128.2" y="1746.5" font-size="30.5" text-anchor="end">0</text>
<line x1="133.2" y1="1698.9" x2="143.2" y2="1698.9" stroke="#000" stroke-width="2.6" />
<text x="128.2" y="1709.9" font-size="30.5" text-anchor="end">2</text>
<line x1="133.2" y1="1662.3" x2="143.2" y2="1662.3" stroke="#000" stroke-width="2.6" />
<text x="128.2" y="1673.3" font-size="30.5" text-anchor="end">4</text>
<line x1="133.2" y1="1625.7" x2="143.2" y2="1625.7" stroke="#000" stroke-width="2.6" />
<text x="128.2" y="1636.7" font-size="30.5" text-anchor="end">6</text>
<line x1="133.2" y1="1589.1" x2="143.2" y2="1589.1" stroke="#000" stroke-width="2.6" />
<text x="128.2" y="1600.1" font-size="30.5" text-anchor="end">8</text>
<line x1="133.2" y1="1552.5" x2="143.2" y2="1552.5" stroke="#000" stroke-width="2.6" />
<text x="128.2" y="1563.5" font-size="30.5" text-anchor="end">10</text>
<line x1="133.1" y1="1735.5" x2="556.0" y2="1735.5" stroke="#000" stroke-width="2.6" />
<line x1="175.7" y1="1735.5" x2="175.7" y2="1745.0" stroke="#000" stroke-width="2.6" />
<line x1="225.2" y1="1735.5" x2="225.2" y2="1745.0" stroke="#000" stroke-width="2.6" />
<line x1="274.3" y1="1735.5" x2="274.3" y2="1745.0" stroke="#000" stroke-width="2.6" />
<line x1="323.9" y1="1735.5" x2="323.9" y2="1745.0" stroke="#000" stroke-width="2.6" />
<line x1="373.1" y1="1735.5" x2="373.1" y2="1745.0" stroke="#000" stroke-width="2.6" />
<line x1="422.4" y1="1735.5" x2="422.4" y2="1745.0" stroke="#000" stroke-width="2.6" />
<line x1="472.0" y1="1735.5" x2="472.0" y2="1745.0" stroke="#000" stroke-width="2.6" />
<line x1="520.9" y1="1735.5" x2="520.9" y2="1745.0" stroke="#000" stroke-width="2.6" />
<rect x="160.2" y="1552.5" width="31.0" height="183.0" fill="#f08a2c" />
<rect x="160.2" y="1552.5" width="31" height="183.0" fill="none" stroke="#000" stroke-width="2.2"/>
<rect x="209.8" y="1662.3" width="31.0" height="73.2" fill="#d6d6d6" />
<rect x="209.8" y="1552.5" width="31.0" height="109.8" fill="#f08a2c" />
<rect x="209.8" y="1552.5" width="31" height="183.0" fill="none" stroke="#000" stroke-width="2.2"/>
<line x1="209.8" y1="1662.3" x2="240.8" y2="1662.3" stroke="#000" stroke-width="2.2" />
<rect x="258.8" y="1717.2" width="31.0" height="18.3" fill="#353535" />
<rect x="258.8" y="1552.5" width="31.0" height="164.7" fill="#ff2410" />
<rect x="258.8" y="1552.5" width="31" height="183.0" fill="none" stroke="#000" stroke-width="2.2"/>
<line x1="258.8" y1="1717.2" x2="289.8" y2="1717.2" stroke="#000" stroke-width="2.2" />
<rect x="308.4" y="1625.7" width="31.0" height="109.8" fill="#353535" />
<rect x="308.4" y="1552.5" width="31.0" height="73.2" fill="#ff2410" />
<rect x="308.4" y="1552.5" width="31" height="183.0" fill="none" stroke="#000" stroke-width="2.2"/>
<line x1="308.4" y1="1625.7" x2="339.4" y2="1625.7" stroke="#000" stroke-width="2.2" />
<rect x="357.6" y="1662.3" width="31.0" height="73.2" fill="#d6d6d6" />
<rect x="357.6" y="1552.5" width="31.0" height="109.8" fill="#f08a2c" />
<rect x="357.6" y="1552.5" width="31" height="183.0" fill="none" stroke="#000" stroke-width="2.2"/>
<line x1="357.6" y1="1662.3" x2="388.6" y2="1662.3" stroke="#000" stroke-width="2.2" />
<rect x="406.9" y="1644.0" width="31.0" height="91.5" fill="#d6d6d6" />
<rect x="406.9" y="1552.5" width="31.0" height="91.5" fill="#f08a2c" />
<rect x="406.9" y="1552.5" width="31" height="183.0" fill="none" stroke="#000" stroke-width="2.2"/>
<line x1="406.9" y1="1644.0" x2="437.9" y2="1644.0" stroke="#000" stroke-width="2.2" />
<rect x="456.5" y="1625.7" width="31.0" height="109.8" fill="#353535" />
<rect x="456.5" y="1552.5" width="31.0" height="73.2" fill="#ff2410" />
<rect x="456.5" y="1552.5" width="31" height="183.0" fill="none" stroke="#000" stroke-width="2.2"/>
<line x1="456.5" y1="1625.7" x2="487.5" y2="1625.7" stroke="#000" stroke-width="2.2" />
<rect x="505.4" y="1607.4" width="31.0" height="128.1" fill="#353535" />
<rect x="505.4" y="1552.5" width="31.0" height="54.9" fill="#ff2410" />
<rect x="505.4" y="1552.5" width="31" height="183.0" fill="none" stroke="#000" stroke-width="2.2"/>
<line x1="505.4" y1="1607.4" x2="536.4" y2="1607.4" stroke="#000" stroke-width="2.2" />
<text x="184.5" y="1645.2" font-size="24.5" text-anchor="middle" fill="#111" transform="rotate(-90 184.5 1645.2)">100%</text>
<text x="234.1" y="1608.1" font-size="24.5" text-anchor="middle" fill="#111" transform="rotate(-90 234.1 1608.1)">60%</text>
<text x="283.1" y="1640.1" font-size="24.5" text-anchor="middle" fill="#111" transform="rotate(-90 283.1 1640.1)">90%</text>
<text x="332.8" y="1588.6" font-size="24.5" text-anchor="middle" fill="#111" transform="rotate(-90 332.8 1588.6)">40%</text>
<text x="381.9" y="1608.1" font-size="24.5" text-anchor="middle" fill="#111" transform="rotate(-90 381.9 1608.1)">60%</text>
<text x="431.2" y="1599.7" font-size="24.5" text-anchor="middle" fill="#111" transform="rotate(-90 431.2 1599.7)">50%</text>
<text x="480.8" y="1588.6" font-size="24.5" text-anchor="middle" fill="#111" transform="rotate(-90 480.8 1588.6)">40%</text>
<text x="529.7" y="1581.2" font-size="24.5" text-anchor="middle" fill="#111" transform="rotate(-90 529.7 1581.2)">30%</text>
<text x="201.1" y="1506.4" font-size="22" text-anchor="middle"><tspan font-style="italic">P</tspan> =</text>
<text x="201.1" y="1534.0" font-size="22" text-anchor="middle">0.0253</text>
<line x1="160.0" y1="1544.1" x2="240.9" y2="1544.1" stroke="#000" stroke-width="3.4" />
<text x="298.9" y="1506.4" font-size="22" text-anchor="middle"><tspan font-style="italic">P</tspan> =</text>
<text x="298.9" y="1534.0" font-size="22" text-anchor="middle">0.0202</text>
<line x1="258.8" y1="1544.1" x2="339.6" y2="1544.1" stroke="#000" stroke-width="3.4" />
<text x="398.2" y="1506.4" font-size="22" text-anchor="middle"><tspan font-style="italic">P</tspan> =</text>
<text x="398.2" y="1534.0" font-size="22" text-anchor="middle">0.2811</text>
<line x1="357.1" y1="1544.1" x2="438.7" y2="1544.1" stroke="#000" stroke-width="3.4" />
<text x="498.7" y="1506.4" font-size="22" text-anchor="middle"><tspan font-style="italic">P</tspan> =</text>
<text x="498.7" y="1534.0" font-size="22" text-anchor="middle">0.2782</text>
<line x1="456.5" y1="1544.1" x2="537.4" y2="1544.1" stroke="#000" stroke-width="3.4" />
<rect x="556.0" y="1570.7" width="28.5" height="14.3" fill="#d6d6d6" stroke="#000" stroke-width="2" />
<text x="593.0" y="1587.9" font-size="30">No DN</text>
<rect x="556.0" y="1605.5" width="28.5" height="14.3" fill="#f08a2c" stroke="#000" stroke-width="2" />
<text x="593.0" y="1623.9" font-size="30">With DN</text>
<rect x="556.0" y="1642.3" width="28.5" height="14.3" fill="#353535" stroke="#000" stroke-width="2" />
<text x="593.0" y="1659.5" font-size="30">No eHCC</text>
<rect x="556.0" y="1677.1" width="28.5" height="14.3" fill="#ff2410" stroke="#000" stroke-width="2" />
<text x="593.0" y="1694.7" font-size="30">With eHCC</text>
<text x="187.7" y="1771.0" font-size="29.5" text-anchor="end" transform="rotate(-45 187.7 1771.0)">Control</text>
<text x="237.2" y="1771.0" font-size="29.5" text-anchor="end" transform="rotate(-45 237.2 1771.0)">EG01377</text>
<text x="286.3" y="1771.0" font-size="29.5" text-anchor="end" transform="rotate(-45 286.3 1771.0)">Control</text>
<text x="335.9" y="1771.0" font-size="29.5" text-anchor="end" transform="rotate(-45 335.9 1771.0)">EG01377</text>
<text x="385.1" y="1771.0" font-size="29.5" text-anchor="end" transform="rotate(-45 385.1 1771.0)">Control</text>
<text x="434.4" y="1771.0" font-size="29.5" text-anchor="end" transform="rotate(-45 434.4 1771.0)">EG01377</text>
<text x="484.0" y="1771.0" font-size="29.5" text-anchor="end" transform="rotate(-45 484.0 1771.0)">Control</text>
<text x="532.9" y="1771.0" font-size="29.5" text-anchor="end" transform="rotate(-45 532.9 1771.0)">EG01377</text>
<line x1="151.1" y1="1872.2" x2="333.2" y2="1872.2" stroke="#000" stroke-width="3.4" />
<line x1="361.0" y1="1872.2" x2="544.0" y2="1872.2" stroke="#000" stroke-width="3.4" />
<text x="189.2" y="1904.2" font-size="30"><tspan font-style="italic">Mef2d</tspan><tspan font-size="18.0" dy="-9.0" font-weight="bold">fl/fl</tspan></text>
<text x="385.6" y="1904.2" font-size="30"><tspan font-style="italic">Mef2d</tspan><tspan font-size="19.8" dy="-8.7">ΔHep</tspan></text>
<text x="45.5" y="1643.5" font-size="31" text-anchor="middle" transform="rotate(-90 45.5 1643.5)">Number of mice</text>
<text x="79.5" y="1639.3" font-size="31" text-anchor="middle" transform="rotate(-90 79.5 1639.3)">(25 weeks)</text>
<text x="757.5" y="1507.5" font-size="45" font-weight="bold">k</text>
<text x="807.7" y="1526.4" font-size="30" textLength="391.3" lengthAdjust="spacingAndGlyphs">DEN-treated liver (50 weeks)</text>
<text x="871.2" y="1569.7" font-size="30" textLength="96.8" lengthAdjust="spacingAndGlyphs">Control</text>
<text x="1028.0" y="1569.7" font-size="30" textLength="126.2" lengthAdjust="spacingAndGlyphs">EG01377</text>
<defs><linearGradient id="photobg" x1="0" y1="0" x2="1" y2="1"><stop offset="0" stop-color="#d5dbe0"/><stop offset="0.5" stop-color="#dfe3e7"/><stop offset="1" stop-color="#d9dde2"/></linearGradient><radialGradient id="livA" cx="0.5" cy="0.45" r="0.6"><stop offset="0" stop-color="#9a4a48"/><stop offset="1" stop-color="#6e2a2c"/></radialGradient><radialGradient id="livB" cx="0.5" cy="0.4" r="0.6"><stop offset="0" stop-color="#6a1e24"/><stop offset="1" stop-color="#4a1217"/></radialGradient><radialGradient id="livC" cx="0.45" cy="0.4" r="0.65"><stop offset="0" stop-color="#9a5a58"/><stop offset="1" stop-color="#7c4143"/></radialGradient></defs>
<clipPath id="phA"><rect x="838" y="1579.5" width="161.7" height="162.1"/></clipPath>
<g clip-path="url(#phA)">
<rect x="838" y="1579.5" width="161.7" height="162.1" fill="url(#photobg)"/>
<path d="M877.9,1623.7 Q882.6,1618.4 889.0,1614.7 Q895.3,1611.1 904.8,1610.5 Q914.2,1610.0 919.5,1608.4 Q924.8,1606.8 932.1,1606.3 Q939.5,1605.8 944.8,1609.0 Q950.0,1612.1 952.1,1619.5 Q954.2,1626.9 959.5,1627.9 Q964.8,1629.0 970.0,1631.1 Q975.3,1633.2 974.2,1639.5 Q973.2,1645.8 971.1,1652.1 Q969.0,1658.4 966.9,1666.9 Q964.8,1675.3 963.7,1681.6 Q962.7,1687.9 958.4,1693.2 Q954.2,1698.4 946.9,1699.5 Q939.5,1700.6 934.2,1701.6 Q929.0,1702.7 923.7,1703.7 Q918.4,1704.8 910.0,1702.7 Q901.6,1700.6 897.4,1698.4 Q893.2,1696.3 892.1,1700.6 Q891.1,1704.8 890.0,1709.0 Q889.0,1713.2 885.8,1713.2 Q882.6,1713.2 881.6,1709.0 Q880.5,1704.8 877.4,1702.7 Q874.2,1700.6 870.0,1694.2 Q865.8,1687.9 865.3,1682.7 Q864.7,1677.4 868.4,1673.2 Q872.1,1669.0 876.3,1669.0 Q880.5,1669.0 881.6,1665.8 Q882.6,1662.7 879.5,1656.3 Q876.3,1650.0 874.2,1644.8 Q872.1,1639.5 872.6,1634.2 Q873.2,1629.0 877.9,1623.7 Z" fill="url(#livA)" />
<defs><radialGradient id="nd240_530" cx="0.42" cy="0.38" r="0.65"><stop offset="0" stop-color="#e3b5ac"/><stop offset="1" stop-color="#b57068"/></radialGradient></defs>
<circle cx="880.5" cy="1681.6" r="13.1" fill="url(#nd240_530)" fill-opacity="0.95"/>
<defs><radialGradient id="nd505_245" cx="0.42" cy="0.38" r="0.65"><stop offset="0" stop-color="#b7706c"/><stop offset="1" stop-color="#7c3a3c"/></radialGradient></defs>
<circle cx="936.3" cy="1621.6" r="13.1" fill="url(#nd505_245)" fill-opacity="0.95"/>
<defs><radialGradient id="nd520_430" cx="0.42" cy="0.38" r="0.65"><stop offset="0" stop-color="#dbb0a4"/><stop offset="1" stop-color="#a8665e"/></radialGradient></defs>
<circle cx="939.5" cy="1660.5" r="10.1" fill="url(#nd520_430)" fill-opacity="0.95"/>
<defs><radialGradient id="nd575_470" cx="0.42" cy="0.38" r="0.65"><stop offset="0" stop-color="#e0b8ac"/><stop offset="1" stop-color="#ae6c64"/></radialGradient></defs>
<circle cx="951.1" cy="1669.0" r="7.6" fill="url(#nd575_470)" fill-opacity="0.95"/>
<defs><radialGradient id="nd545_545" cx="0.42" cy="0.38" r="0.65"><stop offset="0" stop-color="#e6c0b4"/><stop offset="1" stop-color="#b27268"/></radialGradient></defs>
<circle cx="944.8" cy="1684.8" r="8.8" fill="url(#nd545_545)" fill-opacity="0.95"/>
<defs><radialGradient id="nd605_520" cx="0.42" cy="0.38" r="0.65"><stop offset="0" stop-color="#d8a89c"/><stop offset="1" stop-color="#a0605a"/></radialGradient></defs>
<circle cx="957.4" cy="1679.5" r="5.5" fill="url(#nd605_520)" fill-opacity="0.95"/>
<defs><radialGradient id="nd300_330" cx="0.42" cy="0.38" r="0.65"><stop offset="0" stop-color="#b8706a"/><stop offset="1" stop-color="#7e3a3a"/></radialGradient></defs>
<circle cx="893.2" cy="1639.5" r="7.2" fill="url(#nd300_330)" fill-opacity="0.95"/>
<defs><radialGradient id="nd370_300" cx="0.42" cy="0.38" r="0.65"><stop offset="0" stop-color="#a86058"/><stop offset="1" stop-color="#7a3434"/></radialGradient></defs>
<circle cx="907.9" cy="1633.2" r="5.5" fill="url(#nd370_300)" fill-opacity="0.95"/>
<defs><radialGradient id="nd640_330" cx="0.42" cy="0.38" r="0.65"><stop offset="0" stop-color="#b46a64"/><stop offset="1" stop-color="#803c3c"/></radialGradient></defs>
<circle cx="964.8" cy="1639.5" r="5.9" fill="url(#nd640_330)" fill-opacity="0.95"/>
<defs><radialGradient id="nd350_480" cx="0.42" cy="0.38" r="0.65"><stop offset="0" stop-color="#c88c80"/><stop offset="1" stop-color="#94504c"/></radialGradient></defs>
<circle cx="903.7" cy="1671.1" r="8.4" fill="url(#nd350_480)" fill-opacity="0.95"/>
<defs><radialGradient id="nd470_520" cx="0.42" cy="0.38" r="0.65"><stop offset="0" stop-color="#d0a094"/><stop offset="1" stop-color="#9c5c56"/></radialGradient></defs>
<circle cx="929.0" cy="1679.5" r="4.6" fill="url(#nd470_520)" fill-opacity="0.95"/>
<defs><radialGradient id="nd400_570" cx="0.42" cy="0.38" r="0.65"><stop offset="0" stop-color="#c48478"/><stop offset="1" stop-color="#8c4a46"/></radialGradient></defs>
<circle cx="914.2" cy="1690.0" r="5.9" fill="url(#nd400_570)" fill-opacity="0.95"/>
<defs><radialGradient id="nd275_640" cx="0.42" cy="0.38" r="0.65"><stop offset="0" stop-color="#b06660"/><stop offset="1" stop-color="#7a3636"/></radialGradient></defs>
<circle cx="887.9" cy="1704.8" r="4.6" fill="url(#nd275_640)" fill-opacity="0.95"/>
<defs><radialGradient id="nd440_400" cx="0.42" cy="0.38" r="0.65"><stop offset="0" stop-color="#6c4a30"/><stop offset="1" stop-color="#4e3020"/></radialGradient></defs>
<circle cx="922.7" cy="1654.2" r="5.1" fill="url(#nd440_400)" fill-opacity="0.95"/>
<defs><radialGradient id="nd620_420" cx="0.42" cy="0.38" r="0.65"><stop offset="0" stop-color="#c08074"/><stop offset="1" stop-color="#8a4844"/></radialGradient></defs>
<circle cx="960.6" cy="1658.4" r="4.6" fill="url(#nd620_420)" fill-opacity="0.95"/>
<defs><radialGradient id="nd250_420" cx="0.42" cy="0.38" r="0.65"><stop offset="0" stop-color="#b86c64"/><stop offset="1" stop-color="#844040"/></radialGradient></defs>
<circle cx="882.6" cy="1658.4" r="5.5" fill="url(#nd250_420)" fill-opacity="0.95"/>
<defs><radialGradient id="nd330_400" cx="0.42" cy="0.38" r="0.65"><stop offset="0" stop-color="#d49a8c"/><stop offset="1" stop-color="#9c5a54"/></radialGradient></defs>
<circle cx="899.5" cy="1654.2" r="4.2" fill="url(#nd330_400)" fill-opacity="0.95"/>
<line x1="891.1" y1="1642.6" x2="896.3" y2="1639.5" stroke="#f4eeee" stroke-width="1.4" stroke-linecap="round" stroke-opacity="0.85"/>
<line x1="929.0" y1="1622.6" x2="935.3" y2="1620.5" stroke="#f4eeee" stroke-width="1.4" stroke-linecap="round" stroke-opacity="0.85"/>
<line x1="939.5" y1="1659.5" x2="944.8" y2="1658.4" stroke="#f4eeee" stroke-width="1.4" stroke-linecap="round" stroke-opacity="0.85"/>
<line x1="947.9" y1="1683.7" x2="951.1" y2="1682.7" stroke="#f4eeee" stroke-width="1.4" stroke-linecap="round" stroke-opacity="0.85"/>
<line x1="879.5" y1="1679.5" x2="882.6" y2="1678.4" stroke="#f4eeee" stroke-width="1.4" stroke-linecap="round" stroke-opacity="0.85"/>
<line x1="929.0" y1="1651.1" x2="933.2" y2="1650.0" stroke="#f4eeee" stroke-width="1.4" stroke-linecap="round" stroke-opacity="0.85"/>
<rect x="838.0" y="1720.0" width="161.7" height="21.6" fill="#1f2c86" />
<rect x="838.0" y="1720.0" width="161.7" height="3.0" fill="#3b4aa0" />
<line x1="841.0" y1="1723.0" x2="841.0" y2="1732.0" stroke="#c8d0f0" stroke-width="0.9" />
<line x1="844.4" y1="1723.0" x2="844.4" y2="1727.5" stroke="#c8d0f0" stroke-width="0.9" />
<line x1="847.8" y1="1723.0" x2="847.8" y2="1727.5" stroke="#c8d0f0" stroke-width="0.9" />
<line x1="851.2" y1="1723.0" x2="851.2" y2="1727.5" stroke="#c8d0f0" stroke-width="0.9" />
<line x1="854.6" y1="1723.0" x2="854.6" y2="1727.5" stroke="#c8d0f0" stroke-width="0.9" />
<line x1="858.0" y1="1723.0" x2="858.0" y2="1729.5" stroke="#c8d0f0" stroke-width="0.9" />
<line x1="861.4" y1="1723.0" x2="861.4" y2="1727.5" stroke="#c8d0f0" stroke-width="0.9" />
<line x1="864.8" y1="1723.0" x2="864.8" y2="1727.5" stroke="#c8d0f0" stroke-width="0.9" />
<line x1="868.2" y1="1723.0" x2="868.2" y2="1727.5" stroke="#c8d0f0" stroke-width="0.9" />
<line x1="871.6" y1="1723.0" x2="871.6" y2="1727.5" stroke="#c8d0f0" stroke-width="0.9" />
<line x1="875.0" y1="1723.0" x2="875.0" y2="1732.0" stroke="#c8d0f0" stroke-width="0.9" />
<line x1="878.4" y1="1723.0" x2="878.4" y2="1727.5" stroke="#c8d0f0" stroke-width="0.9" />
<line x1="881.8" y1="1723.0" x2="881.8" y2="1727.5" stroke="#c8d0f0" stroke-width="0.9" />
<line x1="885.2" y1="1723.0" x2="885.2" y2="1727.5" stroke="#c8d0f0" stroke-width="0.9" />
<line x1="888.6" y1="1723.0" x2="888.6" y2="1727.5" stroke="#c8d0f0" stroke-width="0.9" />
<line x1="892.0" y1="1723.0" x2="892.0" y2="1729.5" stroke="#c8d0f0" stroke-width="0.9" />
<line x1="895.4" y1="1723.0" x2="895.4" y2="1727.5" stroke="#c8d0f0" stroke-width="0.9" />
<line x1="898.8" y1="1723.0" x2="898.8" y2="1727.5" stroke="#c8d0f0" stroke-width="0.9" />
<line x1="902.2" y1="1723.0" x2="902.2" y2="1727.5" stroke="#c8d0f0" stroke-width="0.9" />
<line x1="905.6" y1="1723.0" x2="905.6" y2="1727.5" stroke="#c8d0f0" stroke-width="0.9" />
<line x1="909.0" y1="1723.0" x2="909.0" y2="1732.0" stroke="#c8d0f0" stroke-width="0.9" />
<line x1="912.4" y1="1723.0" x2="912.4" y2="1727.5" stroke="#c8d0f0" stroke-width="0.9" />
<line x1="915.8" y1="1723.0" x2="915.8" y2="1727.5" stroke="#c8d0f0" stroke-width="0.9" />
<line x1="919.2" y1="1723.0" x2="919.2" y2="1727.5" stroke="#c8d0f0" stroke-width="0.9" />
<line x1="922.6" y1="1723.0" x2="922.6" y2="1727.5" stroke="#c8d0f0" stroke-width="0.9" />
<line x1="926.0" y1="1723.0" x2="926.0" y2="1729.5" stroke="#c8d0f0" stroke-width="0.9" />
<line x1="929.4" y1="1723.0" x2="929.4" y2="1727.5" stroke="#c8d0f0" stroke-width="0.9" />
<line x1="932.8" y1="1723.0" x2="932.8" y2="1727.5" stroke="#c8d0f0" stroke-width="0.9" />
<line x1="936.2" y1="1723.0" x2="936.2" y2="1727.5" stroke="#c8d0f0" stroke-width="0.9" />
<line x1="939.6" y1="1723.0" x2="939.6" y2="1727.5" stroke="#c8d0f0" stroke-width="0.9" />
<line x1="943.0" y1="1723.0" x2="943.0" y2="1732.0" stroke="#c8d0f0" stroke-width="0.9" />
<line x1="946.4" y1="1723.0" x2="946.4" y2="1727.5" stroke="#c8d0f0" stroke-width="0.9" />
<line x1="949.8" y1="1723.0" x2="949.8" y2="1727.5" stroke="#c8d0f0" stroke-width="0.9" />
<line x1="953.2" y1="1723.0" x2="953.2" y2="1727.5" stroke="#c8d0f0" stroke-width="0.9" />
<line x1="956.6" y1="1723.0" x2="956.6" y2="1727.5" stroke="#c8d0f0" stroke-width="0.9" />
<line x1="960.0" y1="1723.0" x2="960.0" y2="1729.5" stroke="#c8d0f0" stroke-width="0.9" />
<line x1="963.4" y1="1723.0" x2="963.4" y2="1727.5" stroke="#c8d0f0" stroke-width="0.9" />
<line x1="966.8" y1="1723.0" x2="966.8" y2="1727.5" stroke="#c8d0f0" stroke-width="0.9" />
<line x1="970.2" y1="1723.0" x2="970.2" y2="1727.5" stroke="#c8d0f0" stroke-width="0.9" />
<line x1="973.6" y1="1723.0" x2="973.6" y2="1727.5" stroke="#c8d0f0" stroke-width="0.9" />
<line x1="977.0" y1="1723.0" x2="977.0" y2="1732.0" stroke="#c8d0f0" stroke-width="0.9" />
<line x1="980.4" y1="1723.0" x2="980.4" y2="1727.5" stroke="#c8d0f0" stroke-width="0.9" />
<line x1="983.8" y1="1723.0" x2="983.8" y2="1727.5" stroke="#c8d0f0" stroke-width="0.9" />
<line x1="987.2" y1="1723.0" x2="987.2" y2="1727.5" stroke="#c8d0f0" stroke-width="0.9" />
<line x1="990.6" y1="1723.0" x2="990.6" y2="1727.5" stroke="#c8d0f0" stroke-width="0.9" />
<line x1="994.0" y1="1723.0" x2="994.0" y2="1729.5" stroke="#c8d0f0" stroke-width="0.9" />
<line x1="997.4" y1="1723.0" x2="997.4" y2="1727.5" stroke="#c8d0f0" stroke-width="0.9" />
</g>
<clipPath id="phB"><rect x="1011" y="1579.5" width="161.6" height="162.1"/></clipPath>
<g clip-path="url(#phB)">
<rect x="1011" y="1579.5" width="161.6" height="162.1" fill="url(#photobg)"/>
<path d="M1084.3,1603.7 Q1093.2,1601.6 1101.6,1602.6 Q1110.1,1603.7 1115.3,1607.9 Q1120.6,1612.1 1122.7,1618.4 Q1124.8,1624.7 1123.7,1632.1 Q1122.7,1639.5 1123.7,1646.9 Q1124.8,1654.2 1122.7,1661.6 Q1120.6,1669.0 1119.5,1675.3 Q1118.5,1681.6 1115.3,1686.9 Q1112.2,1692.1 1106.9,1695.3 Q1101.6,1698.4 1095.3,1699.5 Q1089.0,1700.6 1083.7,1699.5 Q1078.5,1698.4 1074.3,1695.3 Q1070.1,1692.1 1065.8,1687.9 Q1061.6,1683.7 1057.4,1677.4 Q1053.2,1671.1 1050.0,1665.8 Q1046.9,1660.5 1045.8,1653.2 Q1044.8,1645.8 1046.9,1640.5 Q1049.0,1635.3 1053.2,1632.1 Q1057.4,1629.0 1061.6,1626.9 Q1065.8,1624.7 1070.1,1621.6 Q1074.3,1618.4 1074.8,1612.1 Q1075.3,1605.8 1084.3,1603.7 Z" fill="url(#livB)" />
<defs><radialGradient id="nd1070_350" cx="0.42" cy="0.38" r="0.65"><stop offset="0" stop-color="#7a2028"/><stop offset="1" stop-color="#4a0e14"/></radialGradient></defs>
<circle cx="1055.3" cy="1643.7" r="9.5" fill="url(#nd1070_350)" fill-opacity="0.95"/>
<defs><radialGradient id="nd1100_410" cx="0.42" cy="0.38" r="0.65"><stop offset="0" stop-color="#8a2a30"/><stop offset="1" stop-color="#52121a"/></radialGradient></defs>
<circle cx="1061.6" cy="1656.3" r="8.0" fill="url(#nd1100_410)" fill-opacity="0.95"/>
<defs><radialGradient id="nd1160_440" cx="0.42" cy="0.38" r="0.65"><stop offset="0" stop-color="#8c3a3c"/><stop offset="1" stop-color="#561a1e"/></radialGradient></defs>
<circle cx="1074.3" cy="1662.7" r="7.2" fill="url(#nd1160_440)" fill-opacity="0.95"/>
<defs><radialGradient id="nd1245_455" cx="0.42" cy="0.38" r="0.65"><stop offset="0" stop-color="#9a6a64"/><stop offset="1" stop-color="#6a3834"/></radialGradient></defs>
<circle cx="1092.2" cy="1665.8" r="4.6" fill="url(#nd1245_455)" fill-opacity="0.95"/>
<defs><radialGradient id="nd1210_530" cx="0.42" cy="0.38" r="0.65"><stop offset="0" stop-color="#c0303a"/><stop offset="1" stop-color="#701018"/></radialGradient></defs>
<circle cx="1084.8" cy="1681.6" r="5.9" fill="url(#nd1210_530)" fill-opacity="0.95"/>
<defs><radialGradient id="nd1150_300" cx="0.42" cy="0.38" r="0.65"><stop offset="0" stop-color="#7a2a2c"/><stop offset="1" stop-color="#4a1216"/></radialGradient></defs>
<circle cx="1072.2" cy="1633.2" r="6.3" fill="url(#nd1150_300)" fill-opacity="0.95"/>
<defs><radialGradient id="nd1300_390" cx="0.42" cy="0.38" r="0.65"><stop offset="0" stop-color="#6e1e24"/><stop offset="1" stop-color="#420c12"/></radialGradient></defs>
<circle cx="1103.7" cy="1652.1" r="6.3" fill="url(#nd1300_390)" fill-opacity="0.95"/>
<defs><radialGradient id="nd1230_230" cx="0.42" cy="0.38" r="0.65"><stop offset="0" stop-color="#6a1a20"/><stop offset="1" stop-color="#3e0a10"/></radialGradient></defs>
<circle cx="1089.0" cy="1618.4" r="8.4" fill="url(#nd1230_230)" fill-opacity="0.95"/>
<defs><radialGradient id="nd1330_250" cx="0.42" cy="0.38" r="0.65"><stop offset="0" stop-color="#701c24"/><stop offset="1" stop-color="#420c12"/></radialGradient></defs>
<circle cx="1110.1" cy="1622.6" r="6.3" fill="url(#nd1330_250)" fill-opacity="0.95"/>
<line x1="1082.7" y1="1614.2" x2="1087.9" y2="1613.2" stroke="#f4eeee" stroke-width="1.3" stroke-linecap="round" stroke-opacity="0.85"/>
<line x1="1103.7" y1="1623.7" x2="1111.1" y2="1622.6" stroke="#f4eeee" stroke-width="1.3" stroke-linecap="round" stroke-opacity="0.85"/>
<line x1="1059.5" y1="1654.2" x2="1063.7" y2="1653.2" stroke="#f4eeee" stroke-width="1.3" stroke-linecap="round" stroke-opacity="0.85"/>
<line x1="1085.8" y1="1680.5" x2="1087.9" y2="1679.5" stroke="#f4eeee" stroke-width="1.3" stroke-linecap="round" stroke-opacity="0.85"/>
<line x1="1093.2" y1="1654.2" x2="1097.4" y2="1653.8" stroke="#f4eeee" stroke-width="1.3" stroke-linecap="round" stroke-opacity="0.85"/>
<circle cx="1093.5" cy="1680.5" r="0.5" fill="#e8d0d0" />
<circle cx="1106.4" cy="1671.2" r="0.5" fill="#e8d0d0" />
<circle cx="1094.9" cy="1685.1" r="0.5" fill="#e8d0d0" />
<circle cx="1111.1" cy="1672.7" r="0.5" fill="#e8d0d0" />
<circle cx="1102.8" cy="1660.5" r="0.5" fill="#e8d0d0" />
<circle cx="1089.1" cy="1666.4" r="0.5" fill="#e8d0d0" />
<circle cx="1105.0" cy="1653.1" r="0.5" fill="#e8d0d0" />
<circle cx="1110.7" cy="1660.3" r="0.5" fill="#e8d0d0" />
<circle cx="1095.4" cy="1651.9" r="0.5" fill="#e8d0d0" />
<circle cx="1116.3" cy="1682.7" r="0.5" fill="#e8d0d0" />
<circle cx="1113.0" cy="1677.3" r="0.5" fill="#e8d0d0" />
<circle cx="1089.9" cy="1664.6" r="0.5" fill="#e8d0d0" />
<circle cx="1102.6" cy="1655.1" r="0.5" fill="#e8d0d0" />
<circle cx="1115.1" cy="1666.3" r="0.5" fill="#e8d0d0" />
<circle cx="1093.2" cy="1686.2" r="0.5" fill="#e8d0d0" />
<circle cx="1092.4" cy="1691.1" r="0.5" fill="#e8d0d0" />
<circle cx="1101.4" cy="1674.4" r="0.5" fill="#e8d0d0" />
<circle cx="1098.4" cy="1671.5" r="0.5" fill="#e8d0d0" />
<circle cx="1094.1" cy="1651.7" r="0.5" fill="#e8d0d0" />
<circle cx="1112.7" cy="1660.4" r="0.5" fill="#e8d0d0" />
<circle cx="1110.4" cy="1659.2" r="0.5" fill="#e8d0d0" />
<circle cx="1115.5" cy="1689.5" r="0.5" fill="#e8d0d0" />
<circle cx="1109.7" cy="1683.7" r="0.5" fill="#e8d0d0" />
<circle cx="1104.9" cy="1682.3" r="0.5" fill="#e8d0d0" />
<circle cx="1092.4" cy="1671.1" r="0.5" fill="#e8d0d0" />
<circle cx="1111.6" cy="1658.9" r="0.5" fill="#e8d0d0" />
<circle cx="1114.3" cy="1689.3" r="0.5" fill="#e8d0d0" />
<circle cx="1100.2" cy="1666.2" r="0.5" fill="#e8d0d0" />
<circle cx="1101.4" cy="1667.1" r="0.5" fill="#e8d0d0" />
<circle cx="1116.2" cy="1667.1" r="0.5" fill="#e8d0d0" />
<circle cx="1089.7" cy="1654.1" r="0.5" fill="#e8d0d0" />
<circle cx="1108.7" cy="1693.9" r="0.5" fill="#e8d0d0" />
<circle cx="1102.6" cy="1671.8" r="0.5" fill="#e8d0d0" />
<circle cx="1104.1" cy="1683.1" r="0.5" fill="#e8d0d0" />
<circle cx="1095.1" cy="1676.9" r="0.5" fill="#e8d0d0" />
<circle cx="1104.2" cy="1677.5" r="0.5" fill="#e8d0d0" />
<circle cx="1093.9" cy="1657.5" r="0.5" fill="#e8d0d0" />
<circle cx="1098.5" cy="1691.0" r="0.5" fill="#e8d0d0" />
<circle cx="1098.5" cy="1676.4" r="0.5" fill="#e8d0d0" />
<circle cx="1097.4" cy="1654.6" r="0.5" fill="#e8d0d0" />
<rect x="1011.0" y="1714.9" width="161.6" height="26.7" fill="#1f2c86" />
<rect x="1011.0" y="1714.9" width="161.6" height="3.0" fill="#3b4aa0" />
<line x1="1014.0" y1="1717.9" x2="1014.0" y2="1726.9" stroke="#c8d0f0" stroke-width="0.9" />
<line x1="1017.4" y1="1717.9" x2="1017.4" y2="1722.4" stroke="#c8d0f0" stroke-width="0.9" />
<line x1="1020.8" y1="1717.9" x2="1020.8" y2="1722.4" stroke="#c8d0f0" stroke-width="0.9" />
<line x1="1024.2" y1="1717.9" x2="1024.2" y2="1722.4" stroke="#c8d0f0" stroke-width="0.9" />
<line x1="1027.6" y1="1717.9" x2="1027.6" y2="1722.4" stroke="#c8d0f0" stroke-width="0.9" />
<line x1="1031.0" y1="1717.9" x2="1031.0" y2="1724.4" stroke="#c8d0f0" stroke-width="0.9" />
<line x1="1034.4" y1="1717.9" x2="1034.4" y2="1722.4" stroke="#c8d0f0" stroke-width="0.9" />
<line x1="1037.8" y1="1717.9" x2="1037.8" y2="1722.4" stroke="#c8d0f0" stroke-width="0.9" />
<line x1="1041.2" y1="1717.9" x2="1041.2" y2="1722.4" stroke="#c8d0f0" stroke-width="0.9" />
<line x1="1044.6" y1="1717.9" x2="1044.6" y2="1722.4" stroke="#c8d0f0" stroke-width="0.9" />
<line x1="1048.0" y1="1717.9" x2="1048.0" y2="1726.9" stroke="#c8d0f0" stroke-width="0.9" />
<line x1="1051.4" y1="1717.9" x2="1051.4" y2="1722.4" stroke="#c8d0f0" stroke-width="0.9" />
<line x1="1054.8" y1="1717.9" x2="1054.8" y2="1722.4" stroke="#c8d0f0" stroke-width="0.9" />
<line x1="1058.2" y1="1717.9" x2="1058.2" y2="1722.4" stroke="#c8d0f0" stroke-width="0.9" />
<line x1="1061.6" y1="1717.9" x2="1061.6" y2="1722.4" stroke="#c8d0f0" stroke-width="0.9" />
<line x1="1065.0" y1="1717.9" x2="1065.0" y2="1724.4" stroke="#c8d0f0" stroke-width="0.9" />
<line x1="1068.4" y1="1717.9" x2="1068.4" y2="1722.4" stroke="#c8d0f0" stroke-width="0.9" />
<line x1="1071.8" y1="1717.9" x2="1071.8" y2="1722.4" stroke="#c8d0f0" stroke-width="0.9" />
<line x1="1075.2" y1="1717.9" x2="1075.2" y2="1722.4" stroke="#c8d0f0" stroke-width="0.9" />
<line x1="1078.6" y1="1717.9" x2="1078.6" y2="1722.4" stroke="#c8d0f0" stroke-width="0.9" />
<line x1="1082.0" y1="1717.9" x2="1082.0" y2="1726.9" stroke="#c8d0f0" stroke-width="0.9" />
<line x1="1085.4" y1="1717.9" x2="1085.4" y2="1722.4" stroke="#c8d0f0" stroke-width="0.9" />
<line x1="1088.8" y1="1717.9" x2="1088.8" y2="1722.4" stroke="#c8d0f0" stroke-width="0.9" />
<line x1="1092.2" y1="1717.9" x2="1092.2" y2="1722.4" stroke="#c8d0f0" stroke-width="0.9" />
<line x1="1095.6" y1="1717.9" x2="1095.6" y2="1722.4" stroke="#c8d0f0" stroke-width="0.9" />
<line x1="1099.0" y1="1717.9" x2="1099.0" y2="1724.4" stroke="#c8d0f0" stroke-width="0.9" />
<line x1="1102.4" y1="1717.9" x2="1102.4" y2="1722.4" stroke="#c8d0f0" stroke-width="0.9" />
<line x1="1105.8" y1="1717.9" x2="1105.8" y2="1722.4" stroke="#c8d0f0" stroke-width="0.9" />
<line x1="1109.2" y1="1717.9" x2="1109.2" y2="1722.4" stroke="#c8d0f0" stroke-width="0.9" />
<line x1="1112.6" y1="1717.9" x2="1112.6" y2="1722.4" stroke="#c8d0f0" stroke-width="0.9" />
<line x1="1116.0" y1="1717.9" x2="1116.0" y2="1726.9" stroke="#c8d0f0" stroke-width="0.9" />
<line x1="1119.4" y1="1717.9" x2="1119.4" y2="1722.4" stroke="#c8d0f0" stroke-width="0.9" />
<line x1="1122.8" y1="1717.9" x2="1122.8" y2="1722.4" stroke="#c8d0f0" stroke-width="0.9" />
<line x1="1126.2" y1="1717.9" x2="1126.2" y2="1722.4" stroke="#c8d0f0" stroke-width="0.9" />
<line x1="1129.6" y1="1717.9" x2="1129.6" y2="1722.4" stroke="#c8d0f0" stroke-width="0.9" />
<line x1="1133.0" y1="1717.9" x2="1133.0" y2="1724.4" stroke="#c8d0f0" stroke-width="0.9" />
<line x1="1136.4" y1="1717.9" x2="1136.4" y2="1722.4" stroke="#c8d0f0" stroke-width="0.9" />
<line x1="1139.8" y1="1717.9" x2="1139.8" y2="1722.4" stroke="#c8d0f0" stroke-width="0.9" />
<line x1="1143.2" y1="1717.9" x2="1143.2" y2="1722.4" stroke="#c8d0f0" stroke-width="0.9" />
<line x1="1146.6" y1="1717.9" x2="1146.6" y2="1722.4" stroke="#c8d0f0" stroke-width="0.9" />
<line x1="1150.0" y1="1717.9" x2="1150.0" y2="1726.9" stroke="#c8d0f0" stroke-width="0.9" />
<line x1="1153.4" y1="1717.9" x2="1153.4" y2="1722.4" stroke="#c8d0f0" stroke-width="0.9" />
<line x1="1156.8" y1="1717.9" x2="1156.8" y2="1722.4" stroke="#c8d0f0" stroke-width="0.9" />
<line x1="1160.2" y1="1717.9" x2="1160.2" y2="1722.4" stroke="#c8d0f0" stroke-width="0.9" />
<line x1="1163.6" y1="1717.9" x2="1163.6" y2="1722.4" stroke="#c8d0f0" stroke-width="0.9" />
<line x1="1167.0" y1="1717.9" x2="1167.0" y2="1724.4" stroke="#c8d0f0" stroke-width="0.9" />
<line x1="1170.4" y1="1717.9" x2="1170.4" y2="1722.4" stroke="#c8d0f0" stroke-width="0.9" />
<path d="M1067.9,1623.7 L1057.5,1617.7 L1067.9,1611.7 Z" fill="#ff2a1a" />
<path d="M1050.0,1666.9 L1039.6,1672.9 L1039.6,1660.9 Z" fill="#ff2a1a" />
<path d="M1067.9,1680.5 L1064.8,1692.1 L1056.3,1683.7 Z" fill="#ff2a1a" />
<path d="M1085.8,1703.1 L1091.8,1713.5 L1079.8,1713.5 Z" fill="#ff2a1a" />
<path d="M1102.7,1665.2 L1113.1,1659.2 L1113.1,1671.2 Z" fill="#ff2a1a" />
</g>
<clipPath id="phC"><rect x="838" y="1749" width="161.7" height="162.5"/></clipPath>
<g clip-path="url(#phC)">
<rect x="838" y="1749" width="161.7" height="162.5" fill="url(#photobg)"/>
<path d="M905.8,1780.0 Q912.1,1777.4 917.4,1779.0 Q922.7,1780.6 925.8,1784.8 Q929.0,1789.0 932.1,1783.7 Q935.3,1778.5 939.5,1778.5 Q943.7,1778.5 945.8,1784.8 Q947.9,1791.1 946.9,1796.4 Q945.8,1801.6 949.0,1807.9 Q952.1,1814.3 951.1,1821.6 Q950.0,1829.0 947.4,1834.3 Q944.8,1839.5 946.3,1843.7 Q947.9,1848.0 945.8,1854.3 Q943.7,1860.6 939.5,1864.8 Q935.3,1869.0 930.0,1871.1 Q924.8,1873.2 919.5,1873.2 Q914.2,1873.2 909.0,1871.1 Q903.7,1869.0 899.5,1864.8 Q895.3,1860.6 893.2,1856.4 Q891.1,1852.2 893.2,1846.9 Q895.3,1841.6 898.4,1837.4 Q901.6,1833.2 897.4,1830.1 Q893.2,1826.9 889.5,1821.6 Q885.8,1816.4 886.3,1811.1 Q886.9,1805.8 890.0,1801.6 Q893.2,1797.4 894.2,1793.2 Q895.3,1789.0 897.4,1785.8 Q899.5,1782.7 905.8,1780.0 Z" fill="url(#livC)" />
<defs><radialGradient id="nd380_1390" cx="0.42" cy="0.38" r="0.65"><stop offset="0" stop-color="#8e4c54"/><stop offset="1" stop-color="#6a3036"/></radialGradient></defs>
<circle cx="910.0" cy="1862.7" r="6.7" fill="url(#nd380_1390)" fill-opacity="0.95"/>
<defs><radialGradient id="nd440_1400" cx="0.42" cy="0.38" r="0.65"><stop offset="0" stop-color="#8a4650"/><stop offset="1" stop-color="#642c32"/></radialGradient></defs>
<circle cx="922.7" cy="1864.8" r="5.5" fill="url(#nd440_1400)" fill-opacity="0.95"/>
<defs><radialGradient id="nd460_1300" cx="0.42" cy="0.38" r="0.65"><stop offset="0" stop-color="#a0606a"/><stop offset="1" stop-color="#7a4048"/></radialGradient></defs>
<circle cx="926.9" cy="1843.7" r="4.6" fill="url(#nd460_1300)" fill-opacity="0.95"/>
<line x1="911.1" y1="1810.1" x2="935.3" y2="1803.7" stroke="#f4eeee" stroke-width="1.5" stroke-linecap="round" stroke-opacity="0.85"/>
<line x1="910.0" y1="1784.8" x2="914.2" y2="1783.7" stroke="#f4eeee" stroke-width="1.5" stroke-linecap="round" stroke-opacity="0.85"/>
<line x1="931.1" y1="1837.4" x2="934.2" y2="1836.4" stroke="#f4eeee" stroke-width="1.5" stroke-linecap="round" stroke-opacity="0.85"/>
<rect x="838.0" y="1901.6" width="161.7" height="10.0" fill="#1f2c86" />
<rect x="838.0" y="1901.6" width="161.7" height="3.0" fill="#3b4aa0" />
<line x1="841.0" y1="1904.6" x2="841.0" y2="1911.6" stroke="#c8d0f0" stroke-width="0.9" />
<line x1="844.4" y1="1904.6" x2="844.4" y2="1909.1" stroke="#c8d0f0" stroke-width="0.9" />
<line x1="847.8" y1="1904.6" x2="847.8" y2="1909.1" stroke="#c8d0f0" stroke-width="0.9" />
<line x1="851.2" y1="1904.6" x2="851.2" y2="1909.1" stroke="#c8d0f0" stroke-width="0.9" />
<line x1="854.6" y1="1904.6" x2="854.6" y2="1909.1" stroke="#c8d0f0" stroke-width="0.9" />
<line x1="858.0" y1="1904.6" x2="858.0" y2="1911.1" stroke="#c8d0f0" stroke-width="0.9" />
<line x1="861.4" y1="1904.6" x2="861.4" y2="1909.1" stroke="#c8d0f0" stroke-width="0.9" />
<line x1="864.8" y1="1904.6" x2="864.8" y2="1909.1" stroke="#c8d0f0" stroke-width="0.9" />
<line x1="868.2" y1="1904.6" x2="868.2" y2="1909.1" stroke="#c8d0f0" stroke-width="0.9" />
<line x1="871.6" y1="1904.6" x2="871.6" y2="1909.1" stroke="#c8d0f0" stroke-width="0.9" />
<line x1="875.0" y1="1904.6" x2="875.0" y2="1911.6" stroke="#c8d0f0" stroke-width="0.9" />
<line x1="878.4" y1="1904.6" x2="878.4" y2="1909.1" stroke="#c8d0f0" stroke-width="0.9" />
<line x1="881.8" y1="1904.6" x2="881.8" y2="1909.1" stroke="#c8d0f0" stroke-width="0.9" />
<line x1="885.2" y1="1904.6" x2="885.2" y2="1909.1" stroke="#c8d0f0" stroke-width="0.9" />
<line x1="888.6" y1="1904.6" x2="888.6" y2="1909.1" stroke="#c8d0f0" stroke-width="0.9" />
<line x1="892.0" y1="1904.6" x2="892.0" y2="1911.1" stroke="#c8d0f0" stroke-width="0.9" />
<line x1="895.4" y1="1904.6" x2="895.4" y2="1909.1" stroke="#c8d0f0" stroke-width="0.9" />
<line x1="898.8" y1="1904.6" x2="898.8" y2="1909.1" stroke="#c8d0f0" stroke-width="0.9" />
<line x1="902.2" y1="1904.6" x2="902.2" y2="1909.1" stroke="#c8d0f0" stroke-width="0.9" />
<line x1="905.6" y1="1904.6" x2="905.6" y2="1909.1" stroke="#c8d0f0" stroke-width="0.9" />
<line x1="909.0" y1="1904.6" x2="909.0" y2="1911.6" stroke="#c8d0f0" stroke-width="0.9" />
<line x1="912.4" y1="1904.6" x2="912.4" y2="1909.1" stroke="#c8d0f0" stroke-width="0.9" />
<line x1="915.8" y1="1904.6" x2="915.8" y2="1909.1" stroke="#c8d0f0" stroke-width="0.9" />
<line x1="919.2" y1="1904.6" x2="919.2" y2="1909.1" stroke="#c8d0f0" stroke-width="0.9" />
<line x1="922.6" y1="1904.6" x2="922.6" y2="1909.1" stroke="#c8d0f0" stroke-width="0.9" />
<line x1="926.0" y1="1904.6" x2="926.0" y2="1911.1" stroke="#c8d0f0" stroke-width="0.9" />
<line x1="929.4" y1="1904.6" x2="929.4" y2="1909.1" stroke="#c8d0f0" stroke-width="0.9" />
<line x1="932.8" y1="1904.6" x2="932.8" y2="1909.1" stroke="#c8d0f0" stroke-width="0.9" />
<line x1="936.2" y1="1904.6" x2="936.2" y2="1909.1" stroke="#c8d0f0" stroke-width="0.9" />
<line x1="939.6" y1="1904.6" x2="939.6" y2="1909.1" stroke="#c8d0f0" stroke-width="0.9" />
<line x1="943.0" y1="1904.6" x2="943.0" y2="1911.6" stroke="#c8d0f0" stroke-width="0.9" />
<line x1="946.4" y1="1904.6" x2="946.4" y2="1909.1" stroke="#c8d0f0" stroke-width="0.9" />
<line x1="949.8" y1="1904.6" x2="949.8" y2="1909.1" stroke="#c8d0f0" stroke-width="0.9" />
<line x1="953.2" y1="1904.6" x2="953.2" y2="1909.1" stroke="#c8d0f0" stroke-width="0.9" />
<line x1="956.6" y1="1904.6" x2="956.6" y2="1909.1" stroke="#c8d0f0" stroke-width="0.9" />
<line x1="960.0" y1="1904.6" x2="960.0" y2="1911.1" stroke="#c8d0f0" stroke-width="0.9" />
<line x1="963.4" y1="1904.6" x2="963.4" y2="1909.1" stroke="#c8d0f0" stroke-width="0.9" />
<line x1="966.8" y1="1904.6" x2="966.8" y2="1909.1" stroke="#c8d0f0" stroke-width="0.9" />
<line x1="970.2" y1="1904.6" x2="970.2" y2="1909.1" stroke="#c8d0f0" stroke-width="0.9" />
<line x1="973.6" y1="1904.6" x2="973.6" y2="1909.1" stroke="#c8d0f0" stroke-width="0.9" />
<line x1="977.0" y1="1904.6" x2="977.0" y2="1911.6" stroke="#c8d0f0" stroke-width="0.9" />
<line x1="980.4" y1="1904.6" x2="980.4" y2="1909.1" stroke="#c8d0f0" stroke-width="0.9" />
<line x1="983.8" y1="1904.6" x2="983.8" y2="1909.1" stroke="#c8d0f0" stroke-width="0.9" />
<line x1="987.2" y1="1904.6" x2="987.2" y2="1909.1" stroke="#c8d0f0" stroke-width="0.9" />
<line x1="990.6" y1="1904.6" x2="990.6" y2="1909.1" stroke="#c8d0f0" stroke-width="0.9" />
<line x1="994.0" y1="1904.6" x2="994.0" y2="1911.1" stroke="#c8d0f0" stroke-width="0.9" />
<line x1="997.4" y1="1904.6" x2="997.4" y2="1909.1" stroke="#c8d0f0" stroke-width="0.9" />
<path d="M904.8,1875.3 L901.6,1886.9 L893.2,1878.4 Z" fill="#ff2a1a" />
<path d="M934.2,1876.4 L945.8,1879.5 L937.3,1888.0 Z" fill="#ff2a1a" />
<path d="M937.4,1844.8 L947.8,1838.8 L947.8,1850.8 Z" fill="#ff2a1a" />
</g>
<clipPath id="phD"><rect x="1011" y="1749" width="161.6" height="162.5"/></clipPath>
<g clip-path="url(#phD)">
<rect x="1011" y="1749" width="161.6" height="162.5" fill="url(#photobg)"/>
<path d="M1065.8,1795.3 Q1072.2,1789.0 1077.4,1791.1 Q1082.7,1793.2 1089.0,1792.7 Q1095.3,1792.2 1101.6,1792.7 Q1108.0,1793.2 1114.3,1795.3 Q1120.6,1797.4 1122.7,1802.7 Q1124.8,1807.9 1123.7,1815.3 Q1122.7,1822.7 1120.6,1826.9 Q1118.5,1831.1 1120.1,1835.3 Q1121.6,1839.5 1119.0,1843.7 Q1116.4,1848.0 1110.1,1851.1 Q1103.7,1854.3 1099.5,1857.4 Q1095.3,1860.6 1089.0,1862.7 Q1082.7,1864.8 1077.4,1865.9 Q1072.2,1866.9 1067.9,1862.7 Q1063.7,1858.5 1062.7,1851.1 Q1061.6,1843.7 1062.7,1838.5 Q1063.7,1833.2 1065.8,1827.9 Q1067.9,1822.7 1064.8,1817.4 Q1061.6,1812.2 1060.6,1806.9 Q1059.5,1801.6 1065.8,1795.3 Z" fill="url(#livC)" />
<defs><radialGradient id="nd1220_1270" cx="0.42" cy="0.38" r="0.65"><stop offset="0" stop-color="#9a5a5e"/><stop offset="1" stop-color="#74383e"/></radialGradient></defs>
<circle cx="1086.9" cy="1837.4" r="6.3" fill="url(#nd1220_1270)" fill-opacity="0.8"/>
<defs><radialGradient id="nd1150_1120" cx="0.42" cy="0.38" r="0.65"><stop offset="0" stop-color="#a4646a"/><stop offset="1" stop-color="#7c4046"/></radialGradient></defs>
<circle cx="1072.2" cy="1805.8" r="8.4" fill="url(#nd1150_1120)" fill-opacity="0.8"/>
<defs><radialGradient id="nd1300_1150" cx="0.42" cy="0.38" r="0.65"><stop offset="0" stop-color="#96565a"/><stop offset="1" stop-color="#70363a"/></radialGradient></defs>
<circle cx="1103.7" cy="1812.2" r="7.6" fill="url(#nd1300_1150)" fill-opacity="0.8"/>
<line x1="1067.9" y1="1807.9" x2="1072.2" y2="1806.9" stroke="#f4eeee" stroke-width="1.4" stroke-linecap="round" stroke-opacity="0.85"/>
<line x1="1091.1" y1="1812.2" x2="1099.5" y2="1810.1" stroke="#f4eeee" stroke-width="1.4" stroke-linecap="round" stroke-opacity="0.85"/>
<line x1="1082.7" y1="1841.6" x2="1085.8" y2="1840.6" stroke="#f4eeee" stroke-width="1.4" stroke-linecap="round" stroke-opacity="0.85"/>
<rect x="1011.0" y="1881.6" width="161.6" height="25.0" fill="#1f2c86" />
<rect x="1011.0" y="1881.6" width="161.6" height="3.0" fill="#3b4aa0" />
<line x1="1014.0" y1="1884.6" x2="1014.0" y2="1893.6" stroke="#c8d0f0" stroke-width="0.9" />
<line x1="1017.4" y1="1884.6" x2="1017.4" y2="1889.1" stroke="#c8d0f0" stroke-width="0.9" />
<line x1="1020.8" y1="1884.6" x2="1020.8" y2="1889.1" stroke="#c8d0f0" stroke-width="0.9" />
<line x1="1024.2" y1="1884.6" x2="1024.2" y2="1889.1" stroke="#c8d0f0" stroke-width="0.9" />
<line x1="1027.6" y1="1884.6" x2="1027.6" y2="1889.1" stroke="#c8d0f0" stroke-width="0.9" />
<line x1="1031.0" y1="1884.6" x2="1031.0" y2="1891.1" stroke="#c8d0f0" stroke-width="0.9" />
<line x1="1034.4" y1="1884.6" x2="1034.4" y2="1889.1" stroke="#c8d0f0" stroke-width="0.9" />
<line x1="1037.8" y1="1884.6" x2="1037.8" y2="1889.1" stroke="#c8d0f0" stroke-width="0.9" />
<line x1="1041.2" y1="1884.6" x2="1041.2" y2="1889.1" stroke="#c8d0f0" stroke-width="0.9" />
<line x1="1044.6" y1="1884.6" x2="1044.6" y2="1889.1" stroke="#c8d0f0" stroke-width="0.9" />
<line x1="1048.0" y1="1884.6" x2="1048.0" y2="1893.6" stroke="#c8d0f0" stroke-width="0.9" />
<line x1="1051.4" y1="1884.6" x2="1051.4" y2="1889.1" stroke="#c8d0f0" stroke-width="0.9" />
<line x1="1054.8" y1="1884.6" x2="1054.8" y2="1889.1" stroke="#c8d0f0" stroke-width="0.9" />
<line x1="1058.2" y1="1884.6" x2="1058.2" y2="1889.1" stroke="#c8d0f0" stroke-width="0.9" />
<line x1="1061.6" y1="1884.6" x2="1061.6" y2="1889.1" stroke="#c8d0f0" stroke-width="0.9" />
<line x1="1065.0" y1="1884.6" x2="1065.0" y2="1891.1" stroke="#c8d0f0" stroke-width="0.9" />
<line x1="1068.4" y1="1884.6" x2="1068.4" y2="1889.1" stroke="#c8d0f0" stroke-width="0.9" />
<line x1="1071.8" y1="1884.6" x2="1071.8" y2="1889.1" stroke="#c8d0f0" stroke-width="0.9" />
<line x1="1075.2" y1="1884.6" x2="1075.2" y2="1889.1" stroke="#c8d0f0" stroke-width="0.9" />
<line x1="1078.6" y1="1884.6" x2="1078.6" y2="1889.1" stroke="#c8d0f0" stroke-width="0.9" />
<line x1="1082.0" y1="1884.6" x2="1082.0" y2="1893.6" stroke="#c8d0f0" stroke-width="0.9" />
<line x1="1085.4" y1="1884.6" x2="1085.4" y2="1889.1" stroke="#c8d0f0" stroke-width="0.9" />
<line x1="1088.8" y1="1884.6" x2="1088.8" y2="1889.1" stroke="#c8d0f0" stroke-width="0.9" />
<line x1="1092.2" y1="1884.6" x2="1092.2" y2="1889.1" stroke="#c8d0f0" stroke-width="0.9" />
<line x1="1095.6" y1="1884.6" x2="1095.6" y2="1889.1" stroke="#c8d0f0" stroke-width="0.9" />
<line x1="1099.0" y1="1884.6" x2="1099.0" y2="1891.1" stroke="#c8d0f0" stroke-width="0.9" />
<line x1="1102.4" y1="1884.6" x2="1102.4" y2="1889.1" stroke="#c8d0f0" stroke-width="0.9" />
<line x1="1105.8" y1="1884.6" x2="1105.8" y2="1889.1" stroke="#c8d0f0" stroke-width="0.9" />
<line x1="1109.2" y1="1884.6" x2="1109.2" y2="1889.1" stroke="#c8d0f0" stroke-width="0.9" />
<line x1="1112.6" y1="1884.6" x2="1112.6" y2="1889.1" stroke="#c8d0f0" stroke-width="0.9" />
<line x1="1116.0" y1="1884.6" x2="1116.0" y2="1893.6" stroke="#c8d0f0" stroke-width="0.9" />
<line x1="1119.4" y1="1884.6" x2="1119.4" y2="1889.1" stroke="#c8d0f0" stroke-width="0.9" />
<line x1="1122.8" y1="1884.6" x2="1122.8" y2="1889.1" stroke="#c8d0f0" stroke-width="0.9" />
<line x1="1126.2" y1="1884.6" x2="1126.2" y2="1889.1" stroke="#c8d0f0" stroke-width="0.9" />
<line x1="1129.6" y1="1884.6" x2="1129.6" y2="1889.1" stroke="#c8d0f0" stroke-width="0.9" />
<line x1="1133.0" y1="1884.6" x2="1133.0" y2="1891.1" stroke="#c8d0f0" stroke-width="0.9" />
<line x1="1136.4" y1="1884.6" x2="1136.4" y2="1889.1" stroke="#c8d0f0" stroke-width="0.9" />
<line x1="1139.8" y1="1884.6" x2="1139.8" y2="1889.1" stroke="#c8d0f0" stroke-width="0.9" />
<line x1="1143.2" y1="1884.6" x2="1143.2" y2="1889.1" stroke="#c8d0f0" stroke-width="0.9" />
<line x1="1146.6" y1="1884.6" x2="1146.6" y2="1889.1" stroke="#c8d0f0" stroke-width="0.9" />
<line x1="1150.0" y1="1884.6" x2="1150.0" y2="1893.6" stroke="#c8d0f0" stroke-width="0.9" />
<line x1="1153.4" y1="1884.6" x2="1153.4" y2="1889.1" stroke="#c8d0f0" stroke-width="0.9" />
<line x1="1156.8" y1="1884.6" x2="1156.8" y2="1889.1" stroke="#c8d0f0" stroke-width="0.9" />
<line x1="1160.2" y1="1884.6" x2="1160.2" y2="1889.1" stroke="#c8d0f0" stroke-width="0.9" />
<line x1="1163.6" y1="1884.6" x2="1163.6" y2="1889.1" stroke="#c8d0f0" stroke-width="0.9" />
<line x1="1167.0" y1="1884.6" x2="1167.0" y2="1891.1" stroke="#c8d0f0" stroke-width="0.9" />
<line x1="1170.4" y1="1884.6" x2="1170.4" y2="1889.1" stroke="#c8d0f0" stroke-width="0.9" />
<rect x="1011.0" y="1906.0" width="161.6" height="6.0" fill="#dfe3e7" />
<path d="M1075.3,1835.7 L1064.9,1841.7 L1064.9,1829.7 Z" fill="#ff2a1a" />
<path d="M1076.8,1863.7 L1073.7,1875.3 L1065.2,1866.9 Z" fill="#ff2a1a" />
</g>
<text x="820.6" y="1660.7" font-size="31" text-anchor="middle" transform="rotate(-90 820.6 1660.7)"><tspan font-style="italic">Mef2d</tspan><tspan font-size="18.0" dy="-9.0" font-weight="bold">fl/fl</tspan></text>
<text x="820.6" y="1829.6" font-size="31" text-anchor="middle" transform="rotate(-90 820.6 1829.6)"><tspan font-style="italic">Mef2d</tspan><tspan font-size="19.8" dy="-8.7">ΔHep</tspan></text>
<text x="1226.0" y="1507.0" font-size="45" font-weight="bold">l</text>
<text x="1456.1" y="1507.0" font-size="30" textLength="391.3" lengthAdjust="spacingAndGlyphs">DEN-treated liver (50 weeks)</text>
<rect x="1487.7" y="1532.6" width="25.2" height="14.4" fill="#ff2212" stroke="#000" stroke-width="2" />
<text x="1521.3" y="1548.9" font-size="30" textLength="96.3" lengthAdjust="spacingAndGlyphs">Control</text>
<rect x="1645.8" y="1532.6" width="25.2" height="14.4" fill="#2000ff" stroke="#000" stroke-width="2" />
<text x="1681.9" y="1548.9" font-size="30" textLength="128.4" lengthAdjust="spacingAndGlyphs">EG01377</text>
<line x1="1334.7" y1="1580.6" x2="1334.7" y2="1859.1" stroke="#000" stroke-width="2.6" />
<line x1="1323.5" y1="1857.8" x2="1334.7" y2="1857.8" stroke="#000" stroke-width="2.6" />
<text x="1312.5" y="1868.8" font-size="30.5" text-anchor="end">0</text>
<line x1="1323.5" y1="1788.8" x2="1334.7" y2="1788.8" stroke="#000" stroke-width="2.6" />
<text x="1312.5" y="1799.8" font-size="30.5" text-anchor="end">5</text>
<line x1="1323.5" y1="1719.8" x2="1334.7" y2="1719.8" stroke="#000" stroke-width="2.6" />
<text x="1312.5" y="1730.8" font-size="30.5" text-anchor="end">10</text>
<line x1="1323.5" y1="1650.8" x2="1334.7" y2="1650.8" stroke="#000" stroke-width="2.6" />
<text x="1312.5" y="1661.8" font-size="30.5" text-anchor="end">15</text>
<line x1="1323.5" y1="1581.8" x2="1334.7" y2="1581.8" stroke="#000" stroke-width="2.6" />
<text x="1312.5" y="1592.8" font-size="30.5" text-anchor="end">20</text>
<line x1="1323.5" y1="1857.8" x2="1611.9" y2="1857.8" stroke="#000" stroke-width="2.4" />
<line x1="1405.9" y1="1857.8" x2="1405.9" y2="1869.3" stroke="#000" stroke-width="2.4" />
<line x1="1538.7" y1="1857.8" x2="1538.7" y2="1869.3" stroke="#000" stroke-width="2.4" />
<rect x="1359.0" y="1730.0" width="39.8" height="127.8" fill="#ff2212" stroke="#000" stroke-width="2.5" />
<rect x="1413.8" y="1795.0" width="40.3" height="62.8" fill="#2000ff" stroke="#000" stroke-width="2.5" />
<rect x="1490.8" y="1795.0" width="41.2" height="62.8" fill="#ff2212" stroke="#000" stroke-width="2.5" />
<rect x="1546.8" y="1800.8" width="40.4" height="57.0" fill="#2000ff" stroke="#000" stroke-width="2.5" />
<line x1="1378.9" y1="1672.6" x2="1378.9" y2="1783.1" stroke="#000" stroke-width="2.8" />
<line x1="1368.3" y1="1672.6" x2="1389.5" y2="1672.6" stroke="#000" stroke-width="2.8" />
<line x1="1368.3" y1="1783.1" x2="1389.5" y2="1783.1" stroke="#000" stroke-width="2.8" />
<circle cx="1378.9" cy="1650.9" r="4.3" fill="#000" />
<circle cx="1378.9" cy="1664.7" r="4.3" fill="#000" />
<circle cx="1378.9" cy="1719.8" r="4.3" fill="#000" />
<circle cx="1378.9" cy="1733.6" r="4.3" fill="#000" />
<circle cx="1378.9" cy="1747.5" r="4.3" fill="#000" />
<circle cx="1378.9" cy="1775.0" r="4.3" fill="#000" />
<circle cx="1378.9" cy="1803.0" r="4.3" fill="#000" />
<line x1="1434.2" y1="1758.3" x2="1434.2" y2="1827.0" stroke="#000" stroke-width="2.8" />
<line x1="1423.6" y1="1758.3" x2="1444.8" y2="1758.3" stroke="#000" stroke-width="2.8" />
<line x1="1423.6" y1="1827.0" x2="1444.8" y2="1827.0" stroke="#000" stroke-width="2.8" />
<circle cx="1434.2" cy="1733.6" r="4.3" fill="#000" />
<circle cx="1434.2" cy="1775.0" r="4.3" fill="#000" />
<circle cx="1425.5" cy="1789.1" r="4.3" fill="#000" />
<circle cx="1442.9" cy="1789.1" r="4.3" fill="#000" />
<circle cx="1434.2" cy="1802.6" r="4.3" fill="#000" />
<circle cx="1434.2" cy="1816.4" r="4.3" fill="#000" />
<circle cx="1434.2" cy="1844.0" r="4.3" fill="#000" />
<line x1="1511.4" y1="1766.4" x2="1511.4" y2="1819.3" stroke="#000" stroke-width="2.8" />
<line x1="1500.8" y1="1766.4" x2="1522.0" y2="1766.4" stroke="#000" stroke-width="2.8" />
<line x1="1500.8" y1="1819.3" x2="1522.0" y2="1819.3" stroke="#000" stroke-width="2.8" />
<circle cx="1503.1" cy="1761.2" r="4.3" fill="#000" />
<circle cx="1520.0" cy="1761.2" r="4.3" fill="#000" />
<circle cx="1503.1" cy="1789.1" r="4.3" fill="#000" />
<circle cx="1520.0" cy="1789.1" r="4.3" fill="#000" />
<circle cx="1511.4" cy="1802.6" r="4.3" fill="#000" />
<circle cx="1511.4" cy="1816.4" r="4.3" fill="#000" />
<circle cx="1511.4" cy="1830.5" r="4.3" fill="#000" />
<line x1="1566.7" y1="1759.3" x2="1566.7" y2="1838.6" stroke="#000" stroke-width="2.8" />
<line x1="1556.1" y1="1759.3" x2="1577.3" y2="1759.3" stroke="#000" stroke-width="2.8" />
<line x1="1556.1" y1="1838.6" x2="1577.3" y2="1838.6" stroke="#000" stroke-width="2.8" />
<circle cx="1566.7" cy="1747.5" r="4.3" fill="#000" />
<circle cx="1558.0" cy="1775.0" r="4.3" fill="#000" />
<circle cx="1575.3" cy="1775.0" r="4.3" fill="#000" />
<circle cx="1566.7" cy="1789.1" r="4.3" fill="#000" />
<circle cx="1566.7" cy="1802.6" r="4.3" fill="#000" />
<circle cx="1566.7" cy="1844.4" r="4.3" fill="#000" />
<circle cx="1566.7" cy="1857.8" r="4.3" fill="#000" />
<text x="1409.1" y="1599.8" font-size="22" text-anchor="middle" textLength="108.4" lengthAdjust="spacingAndGlyphs"><tspan font-style="italic">P</tspan> = 0.0213</text>
<line x1="1364.5" y1="1614.9" x2="1450.6" y2="1614.9" stroke="#000" stroke-width="3.2" />
<text x="1541.2" y="1707.1" font-size="22" text-anchor="middle" textLength="106.9" lengthAdjust="spacingAndGlyphs"><tspan font-style="italic">P</tspan> = 0.7471</text>
<line x1="1499.3" y1="1724.0" x2="1585.3" y2="1724.0" stroke="#000" stroke-width="3.2" />
<text x="1259.5" y="1720.6" font-size="31" text-anchor="middle" transform="rotate(-90 1259.5 1720.6)">Number of tumors</text>
<text x="1349.4" y="1902.5" font-size="30"><tspan font-style="italic">Mef2d</tspan><tspan font-size="18.0" dy="-9.0" font-weight="bold">fl/fl</tspan></text>
<text x="1480.8" y="1902.5" font-size="30"><tspan font-style="italic">Mef2d</tspan><tspan font-size="19.8" dy="-8.7">ΔHep</tspan></text>
<line x1="1745.5" y1="1579.9" x2="1745.5" y2="1859.1" stroke="#000" stroke-width="2.6" />
<line x1="1735.0" y1="1857.8" x2="1745.5" y2="1857.8" stroke="#000" stroke-width="2.6" />
<text x="1725.0" y="1868.8" font-size="30.5" text-anchor="end">0</text>
<line x1="1735.0" y1="1765.6" x2="1745.5" y2="1765.6" stroke="#000" stroke-width="2.6" />
<text x="1725.0" y="1776.6" font-size="30.5" text-anchor="end">10</text>
<line x1="1735.0" y1="1673.4" x2="1745.5" y2="1673.4" stroke="#000" stroke-width="2.6" />
<text x="1725.0" y="1684.4" font-size="30.5" text-anchor="end">20</text>
<line x1="1735.0" y1="1581.2" x2="1745.5" y2="1581.2" stroke="#000" stroke-width="2.6" />
<text x="1725.0" y="1592.2" font-size="30.5" text-anchor="end">30</text>
<line x1="1735.0" y1="1857.8" x2="2023.2" y2="1857.8" stroke="#000" stroke-width="2.4" />
<line x1="1818.1" y1="1857.8" x2="1818.1" y2="1869.3" stroke="#000" stroke-width="2.4" />
<line x1="1950.2" y1="1857.8" x2="1950.2" y2="1869.3" stroke="#000" stroke-width="2.4" />
<rect x="1770.5" y="1678.8" width="40.6" height="179.0" fill="#ff2212" stroke="#000" stroke-width="2.5" />
<rect x="1825.5" y="1733.5" width="40.4" height="124.3" fill="#2000ff" stroke="#000" stroke-width="2.5" />
<rect x="1902.8" y="1724.8" width="40.4" height="133.0" fill="#ff2212" stroke="#000" stroke-width="2.5" />
<rect x="1957.8" y="1723.8" width="40.5" height="134.0" fill="#2000ff" stroke="#000" stroke-width="2.5" />
<line x1="1790.5" y1="1647.3" x2="1790.5" y2="1706.5" stroke="#000" stroke-width="2.8" />
<line x1="1779.9" y1="1647.3" x2="1801.1" y2="1647.3" stroke="#000" stroke-width="2.8" />
<line x1="1779.9" y1="1706.5" x2="1801.1" y2="1706.5" stroke="#000" stroke-width="2.8" />
<circle cx="1782.2" cy="1644.9" r="4.3" fill="#000" />
<circle cx="1798.8" cy="1652.1" r="4.3" fill="#000" />
<circle cx="1782.2" cy="1664.0" r="4.3" fill="#000" />
<circle cx="1798.8" cy="1664.0" r="4.3" fill="#000" />
<circle cx="1790.5" cy="1680.1" r="4.3" fill="#000" />
<circle cx="1790.5" cy="1706.2" r="4.3" fill="#000" />
<circle cx="1790.5" cy="1725.5" r="4.3" fill="#000" />
<line x1="1845.9" y1="1709.0" x2="1845.9" y2="1754.0" stroke="#000" stroke-width="2.8" />
<line x1="1835.3" y1="1709.0" x2="1856.5" y2="1709.0" stroke="#000" stroke-width="2.8" />
<line x1="1835.3" y1="1754.0" x2="1856.5" y2="1754.0" stroke="#000" stroke-width="2.8" />
<circle cx="1845.9" cy="1694.6" r="4.3" fill="#000" />
<circle cx="1836.8" cy="1723.5" r="4.3" fill="#000" />
<circle cx="1854.2" cy="1720.6" r="4.3" fill="#000" />
<circle cx="1854.2" cy="1729.9" r="4.3" fill="#000" />
<circle cx="1836.8" cy="1737.6" r="4.3" fill="#000" />
<circle cx="1845.9" cy="1748.6" r="4.3" fill="#000" />
<circle cx="1845.9" cy="1766.0" r="4.3" fill="#000" />
<line x1="1922.8" y1="1704.6" x2="1922.8" y2="1740.0" stroke="#000" stroke-width="2.8" />
<line x1="1912.2" y1="1704.6" x2="1933.4" y2="1704.6" stroke="#000" stroke-width="2.8" />
<line x1="1912.2" y1="1740.0" x2="1933.4" y2="1740.0" stroke="#000" stroke-width="2.8" />
<circle cx="1922.8" cy="1702.9" r="4.3" fill="#000" />
<circle cx="1905.0" cy="1708.7" r="4.3" fill="#000" />
<circle cx="1941.1" cy="1709.4" r="4.3" fill="#000" />
<circle cx="1941.1" cy="1719.7" r="4.3" fill="#000" />
<circle cx="1922.8" cy="1724.5" r="4.3" fill="#000" />
<circle cx="1913.5" cy="1747.3" r="4.3" fill="#000" />
<circle cx="1931.9" cy="1743.8" r="4.3" fill="#000" />
<line x1="1977.8" y1="1706.2" x2="1977.8" y2="1736.1" stroke="#000" stroke-width="2.8" />
<line x1="1967.2" y1="1706.2" x2="1988.4" y2="1706.2" stroke="#000" stroke-width="2.8" />
<line x1="1967.2" y1="1736.1" x2="1988.4" y2="1736.1" stroke="#000" stroke-width="2.8" />
<circle cx="1960.0" cy="1706.7" r="4.3" fill="#000" />
<circle cx="1977.8" cy="1705.2" r="4.3" fill="#000" />
<circle cx="1996.2" cy="1712.0" r="4.3" fill="#000" />
<circle cx="1977.8" cy="1716.8" r="4.3" fill="#000" />
<circle cx="1969.1" cy="1731.3" r="4.3" fill="#000" />
<circle cx="1986.9" cy="1735.1" r="4.3" fill="#000" />
<circle cx="1977.8" cy="1744.8" r="4.3" fill="#000" />
<text x="1815.3" y="1610.9" font-size="22" text-anchor="middle" textLength="96.0" lengthAdjust="spacingAndGlyphs"><tspan font-style="italic">P</tspan> = 0.002</text>
<line x1="1775.6" y1="1625.4" x2="1862.0" y2="1625.4" stroke="#000" stroke-width="3.2" />
<text x="1949.3" y="1668.5" font-size="22" text-anchor="middle" textLength="107.2" lengthAdjust="spacingAndGlyphs"><tspan font-style="italic">P</tspan> = 0.9091</text>
<line x1="1910.2" y1="1682.0" x2="1996.2" y2="1682.0" stroke="#000" stroke-width="3.2" />
<text x="1671.5" y="1718.0" font-size="31" text-anchor="middle" transform="rotate(-90 1671.5 1718.0)" textLength="294.0" lengthAdjust="spacingAndGlyphs">Liver/body weight (%)</text>
<text x="1761.0" y="1904.0" font-size="30"><tspan font-style="italic">Mef2d</tspan><tspan font-size="18.0" dy="-9.0" font-weight="bold">fl/fl</tspan></text>
<text x="1891.8" y="1904.0" font-size="30"><tspan font-style="italic">Mef2d</tspan><tspan font-size="19.8" dy="-8.7">ΔHep</tspan></text>
<text x="1.5" y="1973.2" font-size="45" font-weight="bold">m</text>
<line x1="126.6" y1="1986.6" x2="126.6" y2="2265.5" stroke="#000" stroke-width="2.6" />
<line x1="116.0" y1="2264.2" x2="126.6" y2="2264.2" stroke="#000" stroke-width="2.6" />
<text x="109.0" y="2275.2" font-size="30.5" text-anchor="end">0</text>
<line x1="116.0" y1="2195.1" x2="126.6" y2="2195.1" stroke="#000" stroke-width="2.6" />
<text x="109.0" y="2206.1" font-size="30.5" text-anchor="end">10</text>
<line x1="116.0" y1="2126.0" x2="126.6" y2="2126.0" stroke="#000" stroke-width="2.6" />
<text x="109.0" y="2137.0" font-size="30.5" text-anchor="end">20</text>
<line x1="116.0" y1="2056.9" x2="126.6" y2="2056.9" stroke="#000" stroke-width="2.6" />
<text x="109.0" y="2067.9" font-size="30.5" text-anchor="end">30</text>
<line x1="116.0" y1="1987.8" x2="126.6" y2="1987.8" stroke="#000" stroke-width="2.6" />
<text x="109.0" y="1998.8" font-size="30.5" text-anchor="end">40</text>
<line x1="116.0" y1="2264.2" x2="405.7" y2="2264.2" stroke="#000" stroke-width="2.4" />
<line x1="199.4" y1="2264.2" x2="199.4" y2="2275.7" stroke="#000" stroke-width="2.4" />
<line x1="332.2" y1="2264.2" x2="332.2" y2="2275.7" stroke="#000" stroke-width="2.4" />
<rect x="151.8" y="2080.7" width="39.9" height="183.5" fill="#ff2212" stroke="#000" stroke-width="2.5" />
<rect x="207.8" y="2092.8" width="39.8" height="171.4" fill="#2000ff" stroke="#000" stroke-width="2.5" />
<rect x="284.8" y="2091.2" width="40.4" height="172.9" fill="#ff2212" stroke="#000" stroke-width="2.5" />
<rect x="339.9" y="2077.2" width="40.9" height="187.0" fill="#2000ff" stroke="#000" stroke-width="2.5" />
<line x1="172.2" y1="2065.5" x2="172.2" y2="2090.3" stroke="#000" stroke-width="2.8" />
<line x1="161.4" y1="2065.5" x2="182.9" y2="2065.5" stroke="#000" stroke-width="2.8" />
<line x1="161.4" y1="2090.3" x2="182.9" y2="2090.3" stroke="#000" stroke-width="2.8" />
<circle cx="172.2" cy="2062.6" r="4.3" fill="#000" />
<circle cx="153.9" cy="2071.7" r="4.3" fill="#000" />
<circle cx="166.0" cy="2075.5" r="4.3" fill="#000" />
<circle cx="178.6" cy="2073.6" r="4.3" fill="#000" />
<circle cx="190.1" cy="2075.5" r="4.3" fill="#000" />
<circle cx="178.6" cy="2083.2" r="4.3" fill="#000" />
<circle cx="172.2" cy="2102.9" r="4.3" fill="#000" />
<line x1="227.7" y1="2064.9" x2="227.7" y2="2115.6" stroke="#000" stroke-width="2.8" />
<line x1="216.9" y1="2064.9" x2="238.4" y2="2064.9" stroke="#000" stroke-width="2.8" />
<line x1="216.9" y1="2115.6" x2="238.4" y2="2115.6" stroke="#000" stroke-width="2.8" />
<circle cx="227.7" cy="2063.0" r="4.3" fill="#000" />
<circle cx="219.0" cy="2072.6" r="4.3" fill="#000" />
<circle cx="236.3" cy="2075.5" r="4.3" fill="#000" />
<circle cx="227.7" cy="2088.0" r="4.3" fill="#000" />
<circle cx="236.3" cy="2118.8" r="4.3" fill="#000" />
<circle cx="219.0" cy="2124.0" r="4.3" fill="#000" />
<line x1="305.1" y1="2073.2" x2="305.1" y2="2103.8" stroke="#000" stroke-width="2.8" />
<line x1="294.4" y1="2073.2" x2="315.9" y2="2073.2" stroke="#000" stroke-width="2.8" />
<line x1="294.4" y1="2103.8" x2="315.9" y2="2103.8" stroke="#000" stroke-width="2.8" />
<circle cx="305.1" cy="2072.0" r="4.3" fill="#000" />
<circle cx="323.0" cy="2075.5" r="4.3" fill="#000" />
<circle cx="287.3" cy="2085.1" r="4.3" fill="#000" />
<circle cx="305.1" cy="2081.9" r="4.3" fill="#000" />
<circle cx="323.0" cy="2086.1" r="4.3" fill="#000" />
<circle cx="313.3" cy="2107.9" r="4.3" fill="#000" />
<circle cx="295.6" cy="2112.1" r="4.3" fill="#000" />
<line x1="360.5" y1="2055.3" x2="360.5" y2="2094.8" stroke="#000" stroke-width="2.8" />
<line x1="349.8" y1="2055.3" x2="371.2" y2="2055.3" stroke="#000" stroke-width="2.8" />
<line x1="349.8" y1="2094.8" x2="371.2" y2="2094.8" stroke="#000" stroke-width="2.8" />
<circle cx="368.8" cy="2053.4" r="4.3" fill="#000" />
<circle cx="351.8" cy="2058.6" r="4.3" fill="#000" />
<circle cx="368.8" cy="2063.0" r="4.3" fill="#000" />
<circle cx="360.5" cy="2081.3" r="4.3" fill="#000" />
<circle cx="360.5" cy="2091.9" r="4.3" fill="#000" />
<circle cx="360.5" cy="2102.5" r="4.3" fill="#000" />
<text x="240.4" y="1980.2" font-size="22" text-anchor="middle" textLength="109.3" lengthAdjust="spacingAndGlyphs"><tspan font-style="italic">P</tspan> = 0.6933</text>
<line x1="157.0" y1="1991.2" x2="318.7" y2="1991.2" stroke="#000" stroke-width="3.2" />
<text x="201.9" y="2026.4" font-size="22" text-anchor="middle" textLength="108.2" lengthAdjust="spacingAndGlyphs"><tspan font-style="italic">P</tspan> = 0.6247</text>
<line x1="157.0" y1="2038.9" x2="243.1" y2="2038.9" stroke="#000" stroke-width="3.2" />
<text x="332.1" y="2026.4" font-size="22" text-anchor="middle" textLength="108.8" lengthAdjust="spacingAndGlyphs"><tspan font-style="italic">P</tspan> = 0.5495</text>
<line x1="288.9" y1="2038.9" x2="374.6" y2="2038.9" stroke="#000" stroke-width="3.2" />
<rect x="443.0" y="2113.3" width="24.5" height="12.3" fill="#ff2212" stroke="#000" stroke-width="2" />
<text x="480.8" y="2128.7" font-size="30" textLength="96.9" lengthAdjust="spacingAndGlyphs">Control</text>
<rect x="443.0" y="2161.6" width="24.5" height="12.3" fill="#2000ff" stroke="#000" stroke-width="2" />
<text x="480.8" y="2175.7" font-size="30" textLength="126.8" lengthAdjust="spacingAndGlyphs">EG01377</text>
<text x="44.5" y="2128.7" font-size="31" text-anchor="middle" transform="rotate(-90 44.5 2128.7)">Body weight (g)</text>
<text x="154.7" y="2304.6" font-size="30"><tspan font-style="italic">Nrp1</tspan><tspan font-size="18.0" dy="-9.0" font-weight="bold">fl/fl</tspan></text>
<text x="280.3" y="2304.6" font-size="30"><tspan font-style="italic">Nrp1</tspan><tspan font-size="19.8" dy="-8.7">ΔKC</tspan></text>
<text x="1.5" y="2337.5" font-size="45" font-weight="bold">n</text>
<line x1="128.5" y1="2390.3" x2="128.5" y2="2669.2" stroke="#000" stroke-width="2.6" />
<line x1="117.0" y1="2667.9" x2="128.5" y2="2667.9" stroke="#000" stroke-width="2.6" />
<text x="105.0" y="2678.9" font-size="30.5" text-anchor="end">0</text>
<line x1="117.0" y1="2598.8" x2="128.5" y2="2598.8" stroke="#000" stroke-width="2.6" />
<text x="105.0" y="2609.8" font-size="30.5" text-anchor="end">2</text>
<line x1="117.0" y1="2529.7" x2="128.5" y2="2529.7" stroke="#000" stroke-width="2.6" />
<text x="105.0" y="2540.7" font-size="30.5" text-anchor="end">4</text>
<line x1="117.0" y1="2460.6" x2="128.5" y2="2460.6" stroke="#000" stroke-width="2.6" />
<text x="105.0" y="2471.6" font-size="30.5" text-anchor="end">6</text>
<line x1="117.0" y1="2391.5" x2="128.5" y2="2391.5" stroke="#000" stroke-width="2.6" />
<text x="105.0" y="2402.5" font-size="30.5" text-anchor="end">8</text>
<line x1="117.0" y1="2667.9" x2="406.7" y2="2667.9" stroke="#000" stroke-width="2.4" />
<line x1="194.9" y1="2667.9" x2="194.9" y2="2679.4" stroke="#000" stroke-width="2.4" />
<line x1="338.4" y1="2667.9" x2="338.4" y2="2679.4" stroke="#000" stroke-width="2.4" />
<line x1="165.3" y1="2438.8" x2="165.3" y2="2533.7" stroke="#000" stroke-width="2.8" />
<line x1="154.3" y1="2438.8" x2="176.3" y2="2438.8" stroke="#000" stroke-width="2.8" />
<line x1="154.3" y1="2533.7" x2="176.3" y2="2533.7" stroke="#000" stroke-width="2.8" />
<line x1="142.7" y1="2486.0" x2="188.0" y2="2486.0" stroke="#000" stroke-width="2.8" />
<circle cx="154.5" cy="2429.7" r="5.2" fill="#f02a1e" />
<circle cx="177.0" cy="2440.7" r="5.2" fill="#f02a1e" />
<circle cx="154.5" cy="2450.9" r="5.2" fill="#f02a1e" />
<circle cx="165.5" cy="2481.7" r="5.2" fill="#f02a1e" />
<circle cx="165.5" cy="2519.6" r="5.2" fill="#f02a1e" />
<circle cx="165.5" cy="2533.1" r="5.2" fill="#f02a1e" />
<circle cx="165.5" cy="2547.6" r="5.2" fill="#f02a1e" />
<rect x="220.4" y="2462.9" width="10.6" height="10.6" fill="#2000ff" />
<rect x="208.9" y="2507.6" width="10.6" height="10.6" fill="#2000ff" />
<rect x="232.0" y="2500.3" width="10.6" height="10.6" fill="#2000ff" />
<rect x="232.0" y="2517.2" width="10.6" height="10.6" fill="#2000ff" />
<rect x="208.9" y="2532.2" width="10.6" height="10.6" fill="#2000ff" />
<rect x="232.0" y="2538.4" width="10.6" height="10.6" fill="#2000ff" />
<rect x="220.4" y="2556.7" width="10.6" height="10.6" fill="#2000ff" />
<line x1="225.7" y1="2491.3" x2="225.7" y2="2552.4" stroke="#000" stroke-width="2.8" />
<line x1="214.7" y1="2491.3" x2="236.7" y2="2491.3" stroke="#000" stroke-width="2.8" />
<line x1="214.7" y1="2552.4" x2="236.7" y2="2552.4" stroke="#000" stroke-width="2.8" />
<line x1="203.0" y1="2521.6" x2="248.3" y2="2521.6" stroke="#000" stroke-width="2.8" />
<line x1="308.5" y1="2501.0" x2="308.5" y2="2538.5" stroke="#000" stroke-width="2.8" />
<line x1="297.5" y1="2501.0" x2="319.5" y2="2501.0" stroke="#000" stroke-width="2.8" />
<line x1="297.5" y1="2538.5" x2="319.5" y2="2538.5" stroke="#000" stroke-width="2.8" />
<line x1="285.9" y1="2520.2" x2="331.1" y2="2520.2" stroke="#000" stroke-width="2.8" />
<circle cx="308.5" cy="2488.5" r="5.2" fill="#f02a1e" />
<circle cx="314.3" cy="2505.6" r="5.2" fill="#f02a1e" />
<circle cx="302.7" cy="2511.9" r="5.2" fill="#f02a1e" />
<circle cx="302.7" cy="2526.4" r="5.2" fill="#f02a1e" />
<circle cx="291.2" cy="2537.0" r="5.2" fill="#f02a1e" />
<circle cx="314.3" cy="2537.5" r="5.2" fill="#f02a1e" />
<circle cx="326.4" cy="2533.1" r="5.2" fill="#f02a1e" />
<rect x="363.3" y="2472.9" width="10.6" height="10.6" fill="#2000ff" />
<rect x="352.3" y="2487.4" width="10.6" height="10.6" fill="#2000ff" />
<rect x="374.5" y="2490.3" width="10.6" height="10.6" fill="#2000ff" />
<rect x="363.3" y="2504.1" width="10.6" height="10.6" fill="#2000ff" />
<rect x="352.3" y="2527.8" width="10.6" height="10.6" fill="#2000ff" />
<rect x="374.5" y="2535.1" width="10.6" height="10.6" fill="#2000ff" />
<rect x="352.3" y="2545.1" width="10.6" height="10.6" fill="#2000ff" />
<line x1="368.6" y1="2486.3" x2="368.6" y2="2541.4" stroke="#000" stroke-width="2.8" />
<line x1="357.6" y1="2486.3" x2="379.6" y2="2486.3" stroke="#000" stroke-width="2.8" />
<line x1="357.6" y1="2541.4" x2="379.6" y2="2541.4" stroke="#000" stroke-width="2.8" />
<line x1="346.0" y1="2514.4" x2="391.2" y2="2514.4" stroke="#000" stroke-width="2.8" />
<text x="237.7" y="2355.4" font-size="22" text-anchor="middle" textLength="95.3" lengthAdjust="spacingAndGlyphs"><tspan font-style="italic">P</tspan> = 0.237</text>
<line x1="152.0" y1="2366.6" x2="324.9" y2="2366.6" stroke="#000" stroke-width="3.2" />
<text x="199.3" y="2399.3" font-size="22" text-anchor="middle" textLength="108.0" lengthAdjust="spacingAndGlyphs"><tspan font-style="italic">P</tspan> = 0.2057</text>
<line x1="153.5" y1="2408.9" x2="239.2" y2="2408.9" stroke="#000" stroke-width="3.2" />
<text x="338.4" y="2445.5" font-size="22" text-anchor="middle" textLength="108.6" lengthAdjust="spacingAndGlyphs"><tspan font-style="italic">P</tspan> = 0.9864</text>
<line x1="296.0" y1="2457.5" x2="381.7" y2="2457.5" stroke="#000" stroke-width="3.2" />
<circle cx="454.2" cy="2490.0" r="8.0" fill="#f02a1e" />
<text x="474.6" y="2501.0" font-size="30" textLength="97.4" lengthAdjust="spacingAndGlyphs">Control</text>
<rect x="447.0" y="2538.0" width="14.5" height="14.5" fill="#2000ff" />
<text x="474.6" y="2555.4" font-size="30" textLength="126.0" lengthAdjust="spacingAndGlyphs">EG01377</text>
<text x="44.5" y="2531.8" font-size="31" text-anchor="middle" transform="rotate(-90 44.5 2531.8)">MoMFs / CD45<tspan font-size="19" dy="-11">+</tspan><tspan dy="11"> cells (%)</tspan></text>
<text x="149.7" y="2710.2" font-size="30"><tspan font-style="italic">Nrp1</tspan><tspan font-size="18.0" dy="-9.0" font-weight="bold">fl/fl</tspan></text>
<text x="284.5" y="2710.2" font-size="30"><tspan font-style="italic">Nrp1</tspan><tspan font-size="19.8" dy="-8.7">ΔKC</tspan></text>
<text x="682.0" y="1972.9" font-size="42" font-weight="bold">o</text>
<text x="823.5" y="1988.0" font-size="25.5" font-weight="bold" textLength="150.4" lengthAdjust="spacingAndGlyphs">Healthy liver</text>
<text x="1272.4" y="1988.0" font-size="25.5" font-weight="bold" textLength="162.9" lengthAdjust="spacingAndGlyphs">Cirrhotic liver</text>
<text x="1636.4" y="1988.1" font-size="25.5" font-weight="bold" textLength="309.9" lengthAdjust="spacingAndGlyphs">Hepatocellular carcinoma</text>
<ellipse cx="865.7" cy="2110.0" rx="14.0" ry="9.0" fill="#72b866" stroke="#5a9a50" stroke-width="1"/>
<path d="M829.1,2011.8 Q836.7,2007.7 846.8,2006.5 Q856.9,2005.2 875.8,2005.7 Q894.8,2006.2 901.8,2007.5 Q908.7,2008.7 915.7,2008.2 Q922.6,2007.7 934.0,2008.0 Q945.4,2008.2 961.8,2008.8 Q978.2,2009.5 986.4,2011.4 Q994.6,2013.3 995.9,2015.8 Q997.2,2018.3 990.2,2024.7 Q983.3,2031.0 978.2,2037.3 Q973.2,2043.6 970.7,2051.2 Q968.1,2058.8 963.0,2065.1 Q958.0,2071.4 950.4,2074.6 Q942.8,2077.7 932.7,2079.6 Q922.6,2081.5 916.3,2082.8 Q910.0,2084.0 903.6,2087.8 Q897.3,2091.6 888.5,2096.6 Q879.6,2101.7 868.2,2108.1 Q856.9,2114.4 846.8,2119.4 Q836.7,2124.5 829.1,2128.3 Q821.5,2132.1 815.2,2134.0 Q808.9,2135.9 807.0,2134.0 Q805.1,2132.1 804.5,2124.5 Q803.8,2116.9 803.5,2104.2 Q803.3,2091.6 803.3,2079.0 Q803.3,2066.4 804.8,2053.8 Q806.4,2041.1 809.5,2033.5 Q812.7,2025.9 817.1,2020.8 Q821.5,2015.8 829.1,2011.8 Z" fill="#a3625b" stroke="#8a4c48" stroke-width="1.5" />
<path d="M815.0,2065.0 Q815.0,2040.0 840.0,2018.0" fill="none" stroke="#c08780" stroke-width="2" />
<path d="M805.1,2132.1 Q836.7,2120.0 856.9,2114.4" fill="none" stroke="#8a4a48" stroke-width="2.5" />
<path d="M908.7,2008.7 Q910.0,2050.0 913.8,2098.0" fill="none" stroke="#e2c2a4" stroke-width="2.6" />
<line x1="1034.0" y1="2061.8" x2="1185.5" y2="2061.8" stroke="#1a1a1a" stroke-width="5.5" />
<path d="M1183.5,2050.8 L1205.5,2061.8 L1183.5,2072.8 Z" fill="#1a1a1a" />
<ellipse cx="1309.3" cy="2115.2" rx="14.7" ry="9.4" fill="#72b866" stroke="#5a9a50" stroke-width="1"/>
<clipPath id="lvB"><path d="M1270.9,2012.4 Q1278.8,2008.1 1289.4,2006.8 Q1300.0,2005.5 1319.9,2006.0 Q1339.8,2006.6 1347.1,2007.9 Q1354.3,2009.2 1361.6,2008.6 Q1368.9,2008.1 1380.9,2008.4 Q1392.8,2008.6 1410.0,2009.3 Q1427.2,2010.0 1435.8,2012.0 Q1444.4,2014.0 1445.8,2016.6 Q1447.2,2019.2 1439.9,2025.9 Q1432.6,2032.5 1427.3,2039.1 Q1422.0,2045.7 1419.3,2053.7 Q1416.6,2061.6 1411.3,2068.2 Q1406.1,2074.8 1398.1,2078.1 Q1390.1,2081.4 1379.5,2083.4 Q1368.9,2085.4 1362.3,2086.7 Q1355.7,2088.0 1349.1,2092.0 Q1342.4,2095.9 1333.1,2101.2 Q1323.8,2106.5 1311.9,2113.1 Q1300.0,2119.8 1289.4,2125.1 Q1278.8,2130.4 1270.9,2134.3 Q1262.9,2138.3 1256.3,2140.3 Q1249.7,2142.3 1247.7,2140.3 Q1245.7,2138.3 1245.0,2130.4 Q1244.3,2122.4 1244.1,2109.2 Q1243.8,2095.9 1243.8,2082.7 Q1243.8,2069.6 1245.4,2056.3 Q1247.1,2043.1 1250.4,2035.1 Q1253.7,2027.2 1258.3,2021.9 Q1262.9,2016.6 1270.9,2012.4 Z"/></clipPath>
<path d="M1270.9,2012.4 Q1278.8,2008.1 1289.4,2006.8 Q1300.0,2005.5 1319.9,2006.0 Q1339.8,2006.6 1347.1,2007.9 Q1354.3,2009.2 1361.6,2008.6 Q1368.9,2008.1 1380.9,2008.4 Q1392.8,2008.6 1410.0,2009.3 Q1427.2,2010.0 1435.8,2012.0 Q1444.4,2014.0 1445.8,2016.6 Q1447.2,2019.2 1439.9,2025.9 Q1432.6,2032.5 1427.3,2039.1 Q1422.0,2045.7 1419.3,2053.7 Q1416.6,2061.6 1411.3,2068.2 Q1406.1,2074.8 1398.1,2078.1 Q1390.1,2081.4 1379.5,2083.4 Q1368.9,2085.4 1362.3,2086.7 Q1355.7,2088.0 1349.1,2092.0 Q1342.4,2095.9 1333.1,2101.2 Q1323.8,2106.5 1311.9,2113.1 Q1300.0,2119.8 1289.4,2125.1 Q1278.8,2130.4 1270.9,2134.3 Q1262.9,2138.3 1256.3,2140.3 Q1249.7,2142.3 1247.7,2140.3 Q1245.7,2138.3 1245.0,2130.4 Q1244.3,2122.4 1244.1,2109.2 Q1243.8,2095.9 1243.8,2082.7 Q1243.8,2069.6 1245.4,2056.3 Q1247.1,2043.1 1250.4,2035.1 Q1253.7,2027.2 1258.3,2021.9 Q1262.9,2016.6 1270.9,2012.4 Z" fill="#a3625b" stroke="#8a4c48" stroke-width="1.5" />
<path d="M1256.1,2068.1 Q1256.1,2041.9 1282.3,2018.9" fill="none" stroke="#c08780" stroke-width="2" />
<path d="M1245.7,2138.3 Q1278.8,2125.7 1300.0,2119.8" fill="none" stroke="#8a4a48" stroke-width="2.5" />
<g clip-path="url(#lvB)">
<ellipse cx="1298.0" cy="2031.5" rx="14.7" ry="8.4" fill="#d9545a" fill-opacity="0.85"/>
<ellipse cx="1332.6" cy="2044.0" rx="8.4" ry="6.3" fill="#d9545a" fill-opacity="0.85"/>
<ellipse cx="1416.5" cy="2041.9" rx="11.5" ry="9.4" fill="#d9545a" fill-opacity="0.85"/>
<ellipse cx="1305.4" cy="2081.7" rx="15.7" ry="10.5" fill="#d9545a" fill-opacity="0.85"/>
<ellipse cx="1271.8" cy="2096.4" rx="12.6" ry="9.4" fill="#d9545a" fill-opacity="0.85"/>
</g>
<path d="M1354.3,2009.2 Q1355.8,2052.4 1359.7,2102.6" fill="none" stroke="#e2c2a4" stroke-width="2.6" />
<line x1="1481.0" y1="2061.8" x2="1633.0" y2="2061.8" stroke="#1a1a1a" stroke-width="5.5" />
<path d="M1631.0,2050.8 L1653.0,2061.8 L1631.0,2072.8 Z" fill="#1a1a1a" />
<defs><radialGradient id="hccn" cx="0.4" cy="0.35" r="0.7"><stop offset="0" stop-color="#f0cfc2"/><stop offset="0.7" stop-color="#d3a292"/><stop offset="1" stop-color="#b07a6c"/></radialGradient></defs>
<ellipse cx="1755.5" cy="2109.2" rx="13.8" ry="9.1" fill="#72b866" stroke="#5a9a50" stroke-width="1"/>
<clipPath id="lvC"><path d="M1719.4,2010.2 Q1726.9,2006.1 1736.8,2004.9 Q1746.8,2003.6 1765.5,2004.1 Q1784.2,2004.6 1791.0,2005.9 Q1797.9,2007.1 1804.7,2006.6 Q1811.6,2006.1 1822.9,2006.4 Q1834.1,2006.6 1850.3,2007.3 Q1866.5,2007.9 1874.6,2009.8 Q1882.6,2011.8 1883.9,2014.3 Q1885.2,2016.8 1878.4,2023.2 Q1871.5,2029.6 1866.5,2035.9 Q1861.5,2042.3 1859.0,2050.0 Q1856.5,2057.6 1851.5,2064.0 Q1846.5,2070.3 1839.0,2073.5 Q1831.5,2076.7 1821.6,2078.6 Q1811.6,2080.5 1805.4,2081.7 Q1799.2,2083.0 1792.9,2086.8 Q1786.6,2090.7 1777.9,2095.7 Q1769.2,2100.8 1758.0,2107.2 Q1746.8,2113.6 1736.8,2118.7 Q1726.9,2123.8 1719.4,2127.6 Q1711.9,2131.5 1705.6,2133.4 Q1699.4,2135.3 1697.5,2133.4 Q1695.7,2131.5 1695.0,2123.8 Q1694.4,2116.2 1694.1,2103.4 Q1693.9,2090.7 1693.9,2078.0 Q1693.9,2065.3 1695.4,2052.5 Q1697.0,2039.8 1700.1,2032.1 Q1703.2,2024.5 1707.5,2019.4 Q1711.9,2014.3 1719.4,2010.2 Z"/></clipPath>
<path d="M1719.4,2010.2 Q1726.9,2006.1 1736.8,2004.9 Q1746.8,2003.6 1765.5,2004.1 Q1784.2,2004.6 1791.0,2005.9 Q1797.9,2007.1 1804.7,2006.6 Q1811.6,2006.1 1822.9,2006.4 Q1834.1,2006.6 1850.3,2007.3 Q1866.5,2007.9 1874.6,2009.8 Q1882.6,2011.8 1883.9,2014.3 Q1885.2,2016.8 1878.4,2023.2 Q1871.5,2029.6 1866.5,2035.9 Q1861.5,2042.3 1859.0,2050.0 Q1856.5,2057.6 1851.5,2064.0 Q1846.5,2070.3 1839.0,2073.5 Q1831.5,2076.7 1821.6,2078.6 Q1811.6,2080.5 1805.4,2081.7 Q1799.2,2083.0 1792.9,2086.8 Q1786.6,2090.7 1777.9,2095.7 Q1769.2,2100.8 1758.0,2107.2 Q1746.8,2113.6 1736.8,2118.7 Q1726.9,2123.8 1719.4,2127.6 Q1711.9,2131.5 1705.6,2133.4 Q1699.4,2135.3 1697.5,2133.4 Q1695.7,2131.5 1695.0,2123.8 Q1694.4,2116.2 1694.1,2103.4 Q1693.9,2090.7 1693.9,2078.0 Q1693.9,2065.3 1695.4,2052.5 Q1697.0,2039.8 1700.1,2032.1 Q1703.2,2024.5 1707.5,2019.4 Q1711.9,2014.3 1719.4,2010.2 Z" fill="#85493e" stroke="#5e3028" stroke-width="1.5" />
<path d="M1705.4,2063.9 Q1705.4,2038.7 1730.1,2016.5" fill="none" stroke="#c08780" stroke-width="2" />
<path d="M1695.7,2131.5 Q1726.9,2119.3 1746.8,2113.6" fill="none" stroke="#8a4a48" stroke-width="2.5" />
<g clip-path="url(#lvC)">
<ellipse cx="1740.0" cy="2062.9" rx="35.5" ry="33.3" fill="#8a4844" stroke="#6e3430" stroke-width="1.5"/>
<ellipse cx="1740.0" cy="2062.9" rx="28.6" ry="26.2" fill="#6a2a2a"/>
<ellipse cx="1742.0" cy="2064.9" rx="20.7" ry="19.1" fill="#3e1c1a"/>
<circle cx="1732.0" cy="2056.9" r="4.0" fill="#6a5a48" fill-opacity="0.8"/>
<circle cx="1746.0" cy="2070.9" r="4.5" fill="#6a5a48" fill-opacity="0.8"/>
<circle cx="1750.0" cy="2052.9" r="3.5" fill="#6a5a48" fill-opacity="0.8"/>
<circle cx="1730.0" cy="2072.9" r="3.5" fill="#6a5a48" fill-opacity="0.8"/>
<ellipse cx="1840.6" cy="2038.7" rx="16.8" ry="15.1" fill="#7a3a36" stroke="#a56a60" stroke-width="1.5"/>
<ellipse cx="1840.6" cy="2038.7" rx="9.9" ry="9.1" fill="#3e1a18"/>
<circle cx="1813.4" cy="2101.3" r="6.1" fill="url(#hccn)"/>
<circle cx="1874.9" cy="2101.1" r="6.7" fill="url(#hccn)"/>
<circle cx="1699.2" cy="2064.9" r="6.7" fill="url(#hccn)"/>
<circle cx="1818.5" cy="2122.3" r="3.0" fill="url(#hccn)"/>
<circle cx="1783.8" cy="2035.9" r="4.9" fill="url(#hccn)"/>
<circle cx="1804.0" cy="2005.1" r="3.5" fill="url(#hccn)"/>
<circle cx="1747.4" cy="2124.4" r="5.9" fill="url(#hccn)"/>
<circle cx="1724.3" cy="2108.6" r="3.1" fill="url(#hccn)"/>
<circle cx="1812.4" cy="2020.1" r="2.5" fill="url(#hccn)"/>
<circle cx="1861.3" cy="2031.0" r="3.5" fill="url(#hccn)"/>
<circle cx="1882.6" cy="2118.6" r="3.8" fill="url(#hccn)"/>
<circle cx="1878.6" cy="2074.6" r="5.6" fill="url(#hccn)"/>
<circle cx="1733.0" cy="2127.6" r="5.6" fill="url(#hccn)"/>
<circle cx="1879.6" cy="2121.4" r="3.8" fill="url(#hccn)"/>
<circle cx="1763.1" cy="2025.3" r="3.2" fill="url(#hccn)"/>
<circle cx="1706.1" cy="2043.2" r="5.2" fill="url(#hccn)"/>
<circle cx="1694.3" cy="2092.9" r="4.0" fill="url(#hccn)"/>
<circle cx="1753.2" cy="2111.4" r="4.7" fill="url(#hccn)"/>
<circle cx="1829.2" cy="2010.9" r="6.9" fill="url(#hccn)"/>
<circle cx="1698.0" cy="2102.4" r="6.3" fill="url(#hccn)"/>
<circle cx="1697.1" cy="2107.4" r="4.1" fill="url(#hccn)"/>
<circle cx="1804.9" cy="2004.6" r="2.7" fill="url(#hccn)"/>
<circle cx="1728.4" cy="2129.5" r="3.4" fill="url(#hccn)"/>
<circle cx="1839.0" cy="2126.1" r="6.7" fill="url(#hccn)"/>
<circle cx="1794.6" cy="2105.8" r="3.0" fill="url(#hccn)"/>
<circle cx="1837.6" cy="2108.6" r="6.4" fill="url(#hccn)"/>
<circle cx="1700.6" cy="2128.2" r="2.9" fill="url(#hccn)"/>
<circle cx="1870.2" cy="2048.3" r="6.7" fill="url(#hccn)"/>
<circle cx="1798.5" cy="2044.6" r="3.9" fill="url(#hccn)"/>
<circle cx="1727.7" cy="2013.7" r="3.2" fill="url(#hccn)"/>
<circle cx="1826.2" cy="2135.0" r="3.2" fill="url(#hccn)"/>
<circle cx="1702.9" cy="2133.6" r="4.9" fill="url(#hccn)"/>
<circle cx="1771.7" cy="2034.7" r="5.2" fill="url(#hccn)"/>
<circle cx="1852.6" cy="2063.5" r="4.4" fill="url(#hccn)"/>
<circle cx="1704.3" cy="2124.3" r="2.6" fill="url(#hccn)"/>
<circle cx="1788.6" cy="2114.1" r="3.1" fill="url(#hccn)"/>
<circle cx="1834.4" cy="2128.8" r="5.3" fill="url(#hccn)"/>
<circle cx="1845.2" cy="2017.5" r="4.5" fill="url(#hccn)"/>
<circle cx="1722.3" cy="2114.9" r="3.8" fill="url(#hccn)"/>
<circle cx="1780.8" cy="2135.3" r="6.3" fill="url(#hccn)"/>
<circle cx="1881.4" cy="2063.3" r="4.7" fill="url(#hccn)"/>
<circle cx="1834.0" cy="2066.6" r="3.8" fill="url(#hccn)"/>
<circle cx="1771.3" cy="2022.7" r="4.2" fill="url(#hccn)"/>
<circle cx="1883.8" cy="2130.1" r="5.3" fill="url(#hccn)"/>
<circle cx="1789.7" cy="2048.1" r="2.9" fill="url(#hccn)"/>
<circle cx="1746.0" cy="2106.6" r="6.4" fill="url(#hccn)"/>
<circle cx="1763.1" cy="2107.2" r="6.0" fill="url(#hccn)"/>
<circle cx="1827.2" cy="2091.1" r="5.9" fill="url(#hccn)"/>
<circle cx="1763.5" cy="2096.4" r="3.8" fill="url(#hccn)"/>
<circle cx="1787.0" cy="2105.0" r="5.6" fill="url(#hccn)"/>
<circle cx="1750.1" cy="2128.2" r="5.4" fill="url(#hccn)"/>
<circle cx="1805.3" cy="2004.9" r="5.0" fill="url(#hccn)"/>
<circle cx="1782.7" cy="2111.2" r="5.4" fill="url(#hccn)"/>
<circle cx="1817.5" cy="2100.8" r="6.2" fill="url(#hccn)"/>
<circle cx="1760.9" cy="2114.7" r="6.4" fill="url(#hccn)"/>
<circle cx="1826.0" cy="2132.2" r="6.8" fill="url(#hccn)"/>
<circle cx="1793.3" cy="2073.3" r="3.2" fill="url(#hccn)"/>
<circle cx="1854.6" cy="2127.1" r="4.6" fill="url(#hccn)"/>
<circle cx="1826.6" cy="2098.4" r="5.8" fill="url(#hccn)"/>
<circle cx="1726.7" cy="2106.4" r="5.1" fill="url(#hccn)"/>
<circle cx="1821.7" cy="2058.9" r="5.3" fill="url(#hccn)"/>
<circle cx="1842.7" cy="2087.5" r="5.7" fill="url(#hccn)"/>
<circle cx="1698.9" cy="2024.5" r="4.5" fill="url(#hccn)"/>
<circle cx="1818.7" cy="2032.3" r="5.6" fill="url(#hccn)"/>
<circle cx="1815.0" cy="2008.9" r="4.6" fill="url(#hccn)"/>
<circle cx="1737.1" cy="2010.5" r="3.1" fill="url(#hccn)"/>
<circle cx="1754.7" cy="2027.4" r="3.4" fill="url(#hccn)"/>
<circle cx="1700.5" cy="2064.8" r="4.2" fill="url(#hccn)"/>
<circle cx="1811.3" cy="2081.3" r="3.6" fill="url(#hccn)"/>
<circle cx="1867.4" cy="2003.5" r="4.3" fill="url(#hccn)"/>
<circle cx="1715.7" cy="2113.1" r="4.2" fill="url(#hccn)"/>
<circle cx="1700.5" cy="2084.4" r="2.9" fill="url(#hccn)"/>
<circle cx="1798.5" cy="2048.2" r="5.1" fill="url(#hccn)"/>
<circle cx="1878.0" cy="2111.4" r="4.4" fill="url(#hccn)"/>
<circle cx="1850.0" cy="2088.2" r="4.2" fill="url(#hccn)"/>
<circle cx="1802.1" cy="2129.8" r="6.9" fill="url(#hccn)"/>
<circle cx="1810.7" cy="2049.7" r="6.5" fill="url(#hccn)"/>
<circle cx="1693.8" cy="2017.6" r="5.0" fill="url(#hccn)"/>
<circle cx="1812.0" cy="2022.0" r="5.3" fill="url(#hccn)"/>
<circle cx="1865.1" cy="2053.0" r="4.4" fill="url(#hccn)"/>
<circle cx="1880.7" cy="2053.5" r="6.8" fill="url(#hccn)"/>
<circle cx="1869.4" cy="2082.0" r="3.7" fill="url(#hccn)"/>
<circle cx="1882.3" cy="2068.9" r="4.4" fill="url(#hccn)"/>
<circle cx="1755.0" cy="2133.3" r="4.7" fill="url(#hccn)"/>
<circle cx="1778.9" cy="2042.1" r="6.0" fill="url(#hccn)"/>
<circle cx="1852.7" cy="2005.1" r="4.9" fill="url(#hccn)"/>
<circle cx="1746.3" cy="2126.9" r="6.0" fill="url(#hccn)"/>
<circle cx="1723.4" cy="2133.9" r="3.8" fill="url(#hccn)"/>
<circle cx="1810.6" cy="2066.1" r="5.4" fill="url(#hccn)"/>
<circle cx="1809.8" cy="2101.5" r="3.0" fill="url(#hccn)"/>
<circle cx="1796.2" cy="2047.8" r="3.8" fill="url(#hccn)"/>
<circle cx="1795.5" cy="2064.7" r="4.1" fill="url(#hccn)"/>
<circle cx="1836.9" cy="2081.4" r="2.7" fill="url(#hccn)"/>
<circle cx="1869.9" cy="2120.6" r="5.0" fill="url(#hccn)"/>
<circle cx="1696.4" cy="2106.1" r="4.4" fill="url(#hccn)"/>
<circle cx="1804.4" cy="2096.9" r="5.3" fill="url(#hccn)"/>
<circle cx="1786.3" cy="2123.7" r="4.2" fill="url(#hccn)"/>
<circle cx="1769.0" cy="2115.9" r="3.4" fill="url(#hccn)"/>
<circle cx="1750.6" cy="2113.0" r="2.8" fill="url(#hccn)"/>
<circle cx="1854.5" cy="2095.1" r="4.4" fill="url(#hccn)"/>
<circle cx="1748.7" cy="2106.5" r="6.6" fill="url(#hccn)"/>
<circle cx="1799.2" cy="2069.1" r="4.0" fill="url(#hccn)"/>
<circle cx="1849.8" cy="2012.4" r="3.5" fill="url(#hccn)"/>
<circle cx="1851.3" cy="2107.9" r="5.5" fill="url(#hccn)"/>
<circle cx="1698.5" cy="2098.8" r="6.9" fill="url(#hccn)"/>
<circle cx="1885.7" cy="2096.0" r="2.7" fill="url(#hccn)"/>
<circle cx="1855.6" cy="2032.3" r="5.4" fill="url(#hccn)"/>
<circle cx="1876.8" cy="2097.4" r="3.1" fill="url(#hccn)"/>
<circle cx="1749.9" cy="2124.6" r="3.2" fill="url(#hccn)"/>
<circle cx="1811.1" cy="2058.0" r="3.2" fill="url(#hccn)"/>
<circle cx="1813.4" cy="2009.2" r="3.0" fill="url(#hccn)"/>
<circle cx="1766.6" cy="2012.9" r="2.8" fill="url(#hccn)"/>
<circle cx="1804.3" cy="2101.4" r="6.5" fill="url(#hccn)"/>
<circle cx="1787.8" cy="2127.3" r="4.2" fill="url(#hccn)"/>
<circle cx="1704.3" cy="2095.4" r="3.2" fill="url(#hccn)"/>
<circle cx="1815.1" cy="2070.2" r="6.6" fill="url(#hccn)"/>
<circle cx="1800.4" cy="2085.4" r="3.7" fill="url(#hccn)"/>
<circle cx="1799.7" cy="2037.0" r="5.9" fill="url(#hccn)"/>
<circle cx="1793.1" cy="2021.1" r="3.6" fill="url(#hccn)"/>
<circle cx="1765.0" cy="2100.7" r="3.3" fill="url(#hccn)"/>
<circle cx="1830.8" cy="2089.9" r="2.9" fill="url(#hccn)"/>
<circle cx="1822.1" cy="2015.4" r="3.1" fill="url(#hccn)"/>
<circle cx="1807.9" cy="2034.9" r="6.4" fill="url(#hccn)"/>
</g>
<path d="M1797.9,2007.1 Q1799.1,2048.7 1802.9,2097.1" fill="none" stroke="#e2c2a4" stroke-width="2.6" />
<rect x="1298.7" y="2059.7" width="24.3" height="20.3" fill="none" stroke="#000" stroke-width="2.2"/>
<line x1="1298.7" y1="2080.0" x2="724.8" y2="2223.3" stroke="#111" stroke-width="2.6" stroke-dasharray="6 5"/>
<line x1="1323.0" y1="2080.0" x2="2000.0" y2="2223.3" stroke="#111" stroke-width="2.6" stroke-dasharray="6 5"/>
<text x="1081.3" y="2205.0" font-size="25" font-weight="bold" textLength="553.4" lengthAdjust="spacingAndGlyphs">Precancerous niche within dysplastic nodules</text>
<rect x="724.8" y="2223.3" width="1275.2" height="475.7" fill="none" stroke="#b9b9b9" stroke-width="2.6"/>
<path d="M1047.4,2355.7 L1048.6,2358.8 L1049.5,2362.0 L1049.8,2365.3 L1049.6,2368.5 L1048.8,2371.6 L1047.5,2374.5 L1045.7,2377.3 L1043.8,2380.0 L1041.8,2382.5 L1040.1,2385.1 L1038.7,2387.7 L1037.6,2390.5 L1036.8,2393.4 L1036.3,2396.5 L1035.8,2399.7 L1035.2,2402.9 L1034.2,2406.0 L1032.9,2408.8 L1031.1,2411.3 L1028.8,2413.4 L1026.1,2415.0 L1023.2,2416.4 L1020.2,2417.5 L1017.3,2418.6 L1014.6,2419.7 L1012.2,2421.1 L1010.0,2422.9 L1008.0,2424.9 L1006.2,2427.3 L1004.3,2429.8 L1002.4,2432.2 L1000.2,2434.5 L997.8,2436.3 L995.2,2437.6 L992.3,2438.3 L989.4,2438.5 L986.3,2438.3 L983.3,2437.9 L980.4,2437.5 L977.6,2437.3 L974.8,2437.4 L972.2,2438.0 L969.5,2439.0 L966.8,2440.3 L964.0,2441.8 L961.1,2443.1 L958.2,2444.1 L955.2,2444.7 L952.2,2444.6 L949.3,2443.9 L946.6,2442.6 L944.0,2441.0 L941.4,2439.2 L939.0,2437.3 L936.5,2435.7 L934.0,2434.4 L931.3,2433.5 L928.5,2433.0 L925.5,2432.6 L922.3,2432.3 L919.2,2431.8 L916.1,2431.1 L913.3,2429.8 L910.8,2428.0 L908.6,2425.7 L906.9,2423.0 L905.5,2420.0 L904.3,2416.9 L903.2,2413.8 L902.0,2410.9 L900.6,2408.3 L898.8,2405.9 L896.8,2403.8 L894.6,2401.7 L892.2,2399.7 L889.9,2397.5 L887.9,2395.1 L886.2,2392.4 L885.1,2389.5 L884.5,2386.4 L884.5,2383.1 L884.9,2379.8 L885.4,2376.5 L886.0,2373.3 L886.4,2370.2 L886.5,2367.3 L886.2,2364.4 L885.5,2361.5 L884.5,2358.6 L883.4,2355.7 L882.3,2352.7 L881.6,2349.6 L881.3,2346.5 L881.6,2343.4 L882.4,2340.4 L883.7,2337.6 L885.4,2334.9 L887.3,2332.4 L889.1,2329.9 L890.7,2327.4 L891.9,2324.8 L892.7,2322.0 L893.3,2319.1 L893.5,2315.9 L893.8,2312.7 L894.1,2309.4 L894.7,2306.1 L895.8,2303.1 L897.3,2300.4 L899.3,2298.1 L901.7,2296.2 L904.4,2294.6 L907.2,2293.2 L909.9,2291.9 L912.4,2290.5 L914.7,2288.8 L916.8,2286.8 L918.7,2284.4 L920.5,2281.8 L922.3,2279.1 L924.3,2276.4 L926.4,2274.0 L928.9,2272.0 L931.6,2270.6 L934.5,2269.8 L937.6,2269.6 L940.8,2269.8 L943.9,2270.3 L947.0,2270.8 L949.9,2271.1 L952.8,2271.1 L955.6,2270.7 L958.3,2269.9 L961.1,2268.9 L964.0,2267.8 L966.9,2266.7 L969.9,2266.0 L972.9,2265.9 L975.8,2266.3 L978.7,2267.3 L981.4,2268.9 L983.9,2270.9 L986.3,2273.1 L988.6,2275.3 L990.9,2277.2 L993.3,2278.7 L995.8,2279.9 L998.5,2280.7 L1001.3,2281.2 L1004.3,2281.6 L1007.3,2282.2 L1010.2,2283.0 L1012.9,2284.3 L1015.2,2286.1 L1017.3,2288.4 L1018.9,2291.0 L1020.3,2293.9 L1021.4,2296.9 L1022.5,2299.8 L1023.8,2302.5 L1025.3,2304.9 L1027.1,2307.1 L1029.3,2309.0 L1031.7,2310.8 L1034.2,2312.7 L1036.8,2314.6 L1039.1,2316.8 L1041.0,2319.3 L1042.4,2322.1 L1043.3,2325.1 L1043.7,2328.2 L1043.7,2331.5 L1043.4,2334.7 L1043.1,2337.9 L1043.0,2340.9 L1043.3,2343.9 L1043.9,2346.8 L1044.8,2349.7 L1046.1,2352.7 Z" fill="#dedcf2" stroke="#8c87c8" stroke-width="1.8" />
<circle cx="942.0" cy="2299.0" r="5.5" fill="#ecebf8" stroke="#c9c6e6" stroke-width="1" />
<circle cx="906.0" cy="2347.0" r="4.5" fill="#ecebf8" stroke="#c9c6e6" stroke-width="1" />
<circle cx="1023.0" cy="2339.0" r="6.0" fill="#ecebf8" stroke="#c9c6e6" stroke-width="1" />
<circle cx="920.0" cy="2389.0" r="6.0" fill="#ecebf8" stroke="#c9c6e6" stroke-width="1" />
<circle cx="950.0" cy="2418.0" r="6.0" fill="#ecebf8" stroke="#c9c6e6" stroke-width="1" />
<circle cx="1017.0" cy="2396.0" r="5.0" fill="#ecebf8" stroke="#c9c6e6" stroke-width="1" />
<circle cx="996.0" cy="2360.0" r="3.0" fill="#ecebf8" stroke="#c9c6e6" stroke-width="1" />
<circle cx="958.9" cy="2365.1" r="1.5" fill="#c6c2e6" />
<circle cx="960.8" cy="2350.6" r="1.5" fill="#c6c2e6" />
<circle cx="937.3" cy="2348.9" r="1.5" fill="#c6c2e6" />
<circle cx="999.6" cy="2368.6" r="1.5" fill="#c6c2e6" />
<circle cx="995.6" cy="2362.6" r="1.5" fill="#c6c2e6" />
<circle cx="970.2" cy="2357.9" r="1.5" fill="#c6c2e6" />
<circle cx="908.9" cy="2383.4" r="1.5" fill="#c6c2e6" />
<circle cx="975.9" cy="2366.7" r="1.5" fill="#c6c2e6" />
<circle cx="914.4" cy="2304.1" r="1.5" fill="#c6c2e6" />
<circle cx="937.6" cy="2341.2" r="1.5" fill="#c6c2e6" />
<circle cx="967.5" cy="2354.5" r="1.5" fill="#c6c2e6" />
<circle cx="977.6" cy="2338.1" r="1.5" fill="#c6c2e6" />
<circle cx="969.5" cy="2362.0" r="1.5" fill="#c6c2e6" />
<circle cx="942.1" cy="2412.1" r="1.5" fill="#c6c2e6" />
<circle cx="982.4" cy="2394.5" r="1.5" fill="#c6c2e6" />
<circle cx="946.0" cy="2333.6" r="1.5" fill="#c6c2e6" />
<circle cx="959.5" cy="2353.6" r="1.5" fill="#c6c2e6" />
<circle cx="978.4" cy="2360.6" r="1.5" fill="#c6c2e6" />
<circle cx="950.4" cy="2326.0" r="1.5" fill="#c6c2e6" />
<circle cx="946.8" cy="2395.4" r="1.5" fill="#c6c2e6" />
<circle cx="942.5" cy="2361.5" r="1.5" fill="#c6c2e6" />
<circle cx="978.3" cy="2304.6" r="1.5" fill="#c6c2e6" />
<circle cx="965.6" cy="2398.1" r="1.5" fill="#c6c2e6" />
<circle cx="899.2" cy="2344.8" r="1.5" fill="#c6c2e6" />
<circle cx="961.2" cy="2333.6" r="1.5" fill="#c6c2e6" />
<circle cx="951.7" cy="2345.2" r="36.2" fill="#b2aade" stroke="#9a92cf" stroke-width="1.2" />
<text x="916.3" y="2408.4" font-size="21.5" textLength="90.5" lengthAdjust="spacingAndGlyphs">mTORC1</text>
<line x1="1013.2" y1="2342.7" x2="982.7" y2="2367.2" stroke="#111" stroke-width="4" stroke-dasharray="10 7"/>
<path d="M970.2,2377.2 L977.0,2360.2 L988.3,2374.2 Z" fill="#111" />
<line x1="1030.0" y1="2336.8" x2="1060.0" y2="2336.8" stroke="#a8323a" stroke-width="2" />
<rect x="1025.8" y="2331.7" width="8.5" height="11" rx="2" fill="#cc4449" stroke="#a8323a" stroke-width="1"/>
<ellipse cx="1067.1" cy="2336.8" rx="8.4" ry="5.9" fill="#cc4449" stroke="#a8323a" stroke-width="1"/>
<ellipse cx="1082.7" cy="2336.8" rx="4.6" ry="5.5" fill="#cc4449" stroke="#a8323a" stroke-width="1"/>
<ellipse cx="1093.2" cy="2336.8" rx="4.2" ry="5.3" fill="#cc4449" stroke="#a8323a" stroke-width="1"/>
<ellipse cx="1102.0" cy="2336.8" rx="3.0" ry="5" fill="#cc4449" stroke="#a8323a" stroke-width="1"/>
<ellipse cx="1107.9" cy="2336.8" rx="2.1" ry="4.5" fill="#cc4449" stroke="#a8323a" stroke-width="1"/>
<defs><radialGradient id="g11222336" cx="0.4" cy="0.35" r="0.7"><stop offset="0" stop-color="#f7b6c6"/><stop offset="1" stop-color="#e0788f"/></radialGradient></defs>
<circle cx="1122.2" cy="2336.8" r="9.3" fill="url(#g11222336)" stroke="#e0788f" stroke-width="1" />
<text x="1062.0" y="2375.5" font-size="21" textLength="54.8" lengthAdjust="spacingAndGlyphs">NRP1</text>
<text x="742.1" y="2348.3" font-size="22.5" font-weight="bold" textLength="122.2" lengthAdjust="spacingAndGlyphs">Kupffer cell</text>
<text x="777.0" y="2376.0" font-size="22.5" font-weight="bold" textLength="58.6" lengthAdjust="spacingAndGlyphs">(KC2)</text>
<defs><radialGradient id="g11992310" cx="0.4" cy="0.35" r="0.7"><stop offset="0" stop-color="#c23b3e"/><stop offset="1" stop-color="#8c1e22"/></radialGradient></defs>
<circle cx="1199.2" cy="2310.4" r="9.8" fill="url(#g11992310)" stroke="#8c1e22" stroke-width="1" />
<defs><radialGradient id="g12892310" cx="0.4" cy="0.35" r="0.7"><stop offset="0" stop-color="#f5a3a8"/><stop offset="1" stop-color="#dc7078"/></radialGradient></defs>
<circle cx="1289.7" cy="2310.4" r="9.8" fill="url(#g12892310)" stroke="#dc7078" stroke-width="1" />
<defs><radialGradient id="g13572331" cx="0.4" cy="0.35" r="0.7"><stop offset="0" stop-color="#c23b3e"/><stop offset="1" stop-color="#8c1e22"/></radialGradient></defs>
<circle cx="1357.0" cy="2331.4" r="9.8" fill="url(#g13572331)" stroke="#8c1e22" stroke-width="1" />
<text x="1160.4" y="2355.9" font-size="22" textLength="170.2" lengthAdjust="spacingAndGlyphs">VEGFs &amp; SEMAs</text>
<path d="M1378,2306 Q1260,2225 1128,2297" fill="none" stroke="#111" stroke-width="3" />
<path d="M1116.8,2303.9 L1130.0,2284.0 L1141.0,2301.0 Z" fill="#111" />
<line x1="965.4" y1="2425.4" x2="965.4" y2="2486.0" stroke="#111" stroke-width="4" stroke-dasharray="10 7"/>
<path d="M965.4,2502.0 L956.4,2486.0 L974.4,2486.0 Z" fill="#111" />
<text x="784.2" y="2475.9" font-size="22.5" font-weight="bold" textLength="151.7" lengthAdjust="spacingAndGlyphs">Differentiation</text>
<path d="M1033.6,2580.5 L1032.4,2581.1 L1030.9,2581.7 L1028.9,2582.2 L1025.9,2582.7 L1022.5,2583.1 L1022.6,2583.6 L1022.7,2584.1 L1022.8,2584.6 L1022.8,2585.2 L1022.9,2585.7 L1022.9,2586.2 L1023.0,2586.8 L1023.0,2587.3 L1023.0,2587.8 L1023.0,2588.3 L1023.0,2588.9 L1022.9,2589.4 L1022.9,2589.9 L1022.8,2590.4 L1022.7,2590.9 L1022.6,2591.5 L1022.5,2592.0 L1022.4,2592.5 L1026.3,2593.8 L1028.8,2595.0 L1030.6,2596.0 L1031.9,2596.9 L1032.9,2597.8 L1033.6,2598.6 L1034.2,2599.4 L1034.6,2600.2 L1034.8,2601.0 L1034.9,2601.7 L1034.3,2602.2 L1033.5,2602.6 L1032.6,2602.9 L1031.5,2603.2 L1030.2,2603.5 L1028.7,2603.6 L1026.9,2603.6 L1024.8,2603.4 L1022.1,2603.0 L1017.3,2601.7 L1016.9,2602.1 L1016.6,2602.5 L1016.3,2602.9 L1015.9,2603.3 L1015.6,2603.7 L1015.2,2604.1 L1014.9,2604.5 L1014.6,2604.9 L1014.2,2605.2 L1013.9,2605.6 L1013.5,2606.0 L1013.2,2606.4 L1012.9,2606.7 L1012.5,2607.1 L1012.2,2607.5 L1011.9,2607.9 L1011.6,2608.3 L1011.3,2608.6 L1010.9,2609.0 L1010.6,2609.4 L1010.3,2609.8 L1010.0,2610.1 L1009.7,2610.5 L1009.5,2610.9 L1009.2,2611.3 L1008.9,2611.7 L1008.6,2612.1 L1008.3,2612.5 L1008.0,2612.9 L1007.8,2613.2 L1007.5,2613.6 L1007.2,2614.0 L1006.9,2614.4 L1006.7,2614.8 L1010.3,2618.4 L1013.6,2621.8 L1015.6,2624.2 L1017.0,2626.2 L1018.1,2628.0 L1018.9,2629.5 L1019.5,2630.9 L1019.9,2632.2 L1020.1,2633.3 L1020.1,2634.2 L1020.0,2635.1 L1019.5,2635.5 L1018.7,2635.7 L1017.8,2635.7 L1016.7,2635.6 L1015.5,2635.3 L1014.1,2634.8 L1012.5,2634.0 L1010.7,2633.0 L1008.6,2631.5 L1006.0,2629.4 L1001.8,2625.4 L999.7,2623.6 L999.3,2623.9 L998.9,2624.3 L998.6,2624.6 L998.2,2624.9 L997.8,2625.2 L1001.8,2631.3 L1003.3,2634.4 L1004.3,2636.7 L1005.0,2638.6 L1005.3,2640.2 L1005.5,2641.6 L1005.5,2642.8 L1005.4,2643.8 L1005.1,2644.6 L1004.5,2644.9 L1003.7,2644.8 L1002.7,2644.4 L1001.6,2643.9 L1000.4,2643.1 L999.0,2642.1 L997.5,2640.6 L995.8,2638.7 L993.6,2635.9 L989.9,2630.2 L989.5,2630.4 L989.1,2630.7 L988.6,2630.9 L988.2,2631.1 L987.8,2631.4 L987.3,2631.6 L986.9,2631.8 L986.5,2632.0 L986.0,2632.3 L985.6,2632.5 L985.1,2632.7 L984.7,2633.0 L984.3,2633.2 L983.8,2633.5 L983.4,2633.7 L982.9,2633.9 L982.5,2634.2 L982.1,2634.4 L981.6,2634.7 L981.2,2634.9 L982.2,2639.7 L982.5,2642.7 L982.6,2644.9 L982.5,2646.7 L982.3,2648.2 L982.0,2649.4 L981.6,2650.5 L981.2,2651.4 L980.7,2652.1 L980.1,2652.4 L979.4,2652.1 L978.6,2651.7 L977.9,2651.1 L977.1,2650.3 L976.2,2649.3 L975.4,2647.9 L974.5,2646.1 L973.5,2643.4 L972.3,2639.1 L971.8,2639.3 L971.3,2639.4 L970.8,2639.6 L970.2,2639.7 L969.7,2639.8 L969.2,2639.9 L968.7,2640.0 L968.2,2640.1 L967.7,2640.2 L967.2,2640.2 L966.6,2640.2 L966.1,2640.3 L965.6,2640.3 L965.1,2640.3 L964.5,2640.2 L964.0,2640.2 L963.5,2640.2 L963.0,2640.1 L962.5,2640.0 L961.9,2639.9 L961.4,2639.8 L960.9,2639.7 L960.4,2639.6 L959.9,2639.4 L959.4,2639.3 L958.9,2639.1 L958.4,2638.9 L957.9,2638.7 L957.4,2638.5 L956.9,2638.3 L956.4,2638.1 L955.9,2637.9 L955.5,2637.6 L955.0,2637.4 L953.8,2641.7 L952.5,2646.2 L951.4,2649.1 L950.4,2651.2 L949.4,2652.8 L948.5,2654.1 L947.6,2655.1 L946.8,2655.9 L946.0,2656.4 L945.2,2656.7 L944.5,2656.9 L943.8,2656.6 L943.3,2655.8 L942.9,2654.9 L942.5,2653.8 L942.2,2652.5 L942.0,2650.9 L941.9,2649.1 L941.9,2647.0 L942.1,2644.5 L942.6,2641.3 L943.6,2636.7 L944.9,2631.6 L944.5,2631.3 L944.1,2631.1 L943.6,2630.9 L943.2,2630.7 L942.8,2630.6 L942.3,2630.4 L941.9,2630.2 L941.5,2630.0 L941.0,2629.8 L940.6,2629.7 L940.1,2629.5 L939.7,2629.4 L939.2,2629.2 L938.8,2629.1 L938.3,2628.9 L937.8,2628.8 L935.5,2632.1 L933.4,2634.8 L931.7,2636.6 L930.3,2638.0 L929.0,2639.0 L927.9,2639.8 L926.8,2640.4 L925.8,2640.8 L924.9,2641.0 L924.1,2641.1 L923.8,2640.6 L923.5,2639.8 L923.3,2639.0 L923.3,2637.9 L923.4,2636.7 L923.7,2635.3 L924.2,2633.6 L925.0,2631.6 L926.5,2628.7 L928.5,2625.3 L928.1,2625.0 L927.6,2624.8 L927.2,2624.5 L926.8,2624.3 L926.3,2624.0 L925.9,2623.7 L925.5,2623.5 L925.1,2623.2 L924.7,2622.9 L924.3,2622.6 L923.9,2622.2 L923.5,2621.9 L923.1,2621.6 L922.7,2621.3 L922.4,2620.9 L918.3,2624.2 L914.8,2626.7 L912.3,2628.3 L910.2,2629.3 L908.4,2630.1 L906.9,2630.6 L905.5,2630.9 L904.3,2631.1 L903.2,2631.1 L902.3,2630.9 L901.5,2630.7 L901.1,2630.1 L901.0,2629.3 L901.1,2628.4 L901.3,2627.4 L901.7,2626.2 L902.3,2624.9 L903.1,2623.5 L904.2,2622.0 L905.7,2620.2 L907.7,2618.1 L910.7,2615.4 L915.2,2611.9 L914.9,2611.5 L914.6,2611.0 L914.3,2610.6 L914.1,2610.2 L913.8,2609.8 L913.5,2609.4 L913.2,2608.9 L912.9,2608.5 L912.7,2608.1 L912.4,2607.7 L912.1,2607.2 L911.8,2606.8 L911.6,2606.4 L911.3,2606.0 L911.0,2605.5 L910.8,2605.1 L910.5,2604.7 L910.2,2604.2 L910.0,2603.8 L909.7,2603.3 L909.5,2602.9 L909.2,2602.4 L909.0,2602.0 L904.7,2603.1 L902.0,2603.5 L899.9,2603.6 L898.3,2603.6 L896.9,2603.4 L895.7,2603.2 L894.6,2602.9 L893.7,2602.5 L893.0,2602.1 L892.4,2601.6 L892.1,2601.0 L892.3,2600.2 L892.7,2599.5 L893.2,2598.7 L893.8,2597.9 L894.7,2597.0 L895.7,2596.1 L897.1,2595.2 L898.8,2594.3 L901.1,2593.2 L905.9,2591.7 L905.9,2591.2 L905.9,2590.7 L905.9,2590.1 L905.9,2589.6 L905.9,2589.1 L906.0,2588.6 L906.0,2588.1 L906.1,2587.5 L906.2,2587.0 L906.2,2586.5 L906.3,2586.0 L906.4,2585.5 L906.5,2585.0 L906.7,2584.5 L906.8,2584.0 L906.9,2583.5 L901.1,2583.2 L897.4,2582.8 L894.9,2582.3 L893.0,2581.7 L891.6,2581.1 L890.4,2580.5 L889.6,2579.9 L888.9,2579.2 L888.6,2578.5 L888.8,2577.9 L889.5,2577.3 L890.5,2576.7 L891.7,2576.1 L893.2,2575.6 L895.0,2575.1 L897.3,2574.7 L900.2,2574.4 L904.3,2574.3 L909.7,2574.4 L909.8,2573.9 L910.0,2573.5 L910.1,2573.0 L910.2,2572.5 L910.3,2572.1 L910.4,2571.6 L910.5,2571.1 L910.5,2570.7 L910.6,2570.2 L910.7,2569.8 L910.7,2569.3 L910.8,2568.8 L910.8,2568.3 L910.9,2567.9 L910.9,2567.4 L906.7,2565.8 L904.4,2564.7 L902.7,2563.6 L901.3,2562.7 L900.2,2561.7 L899.3,2560.9 L898.5,2560.0 L897.9,2559.2 L897.3,2558.4 L896.9,2557.6 L896.7,2556.8 L896.7,2556.2 L897.2,2555.7 L897.7,2555.2 L898.3,2554.8 L899.1,2554.5 L900.0,2554.2 L901.0,2554.0 L902.2,2553.8 L903.6,2553.8 L905.4,2554.0 L907.7,2554.5 L911.7,2555.8 L911.7,2555.3 L911.8,2554.7 L912.0,2554.2 L912.1,2553.7 L912.2,2553.2 L912.4,2552.7 L912.5,2552.2 L912.7,2551.7 L912.8,2551.3 L913.0,2550.8 L913.2,2550.3 L913.4,2549.8 L913.7,2549.4 L913.9,2548.9 L914.1,2548.4 L914.4,2548.0 L914.7,2547.6 L914.9,2547.1 L915.2,2546.7 L915.5,2546.3 L915.8,2545.8 L916.1,2545.4 L916.4,2545.0 L916.8,2544.6 L917.1,2544.2 L917.4,2543.9 L915.8,2541.9 L912.0,2538.0 L910.0,2535.6 L908.6,2533.6 L907.7,2532.0 L907.0,2530.5 L906.6,2529.3 L906.4,2528.2 L906.4,2527.2 L906.5,2526.4 L907.2,2526.1 L908.1,2526.0 L909.2,2526.2 L910.4,2526.5 L911.8,2527.0 L913.4,2527.7 L915.3,2528.8 L917.5,2530.4 L920.5,2532.7 L925.2,2537.2 L925.6,2536.9 L926.0,2536.6 L926.4,2536.3 L926.8,2536.0 L927.2,2535.7 L927.6,2535.4 L928.0,2535.1 L928.4,2534.8 L928.8,2534.5 L929.2,2534.2 L929.6,2533.9 L930.1,2533.6 L930.5,2533.3 L930.9,2533.0 L931.3,2532.7 L931.7,2532.5 L932.1,2532.2 L932.5,2531.9 L933.0,2531.6 L933.4,2531.3 L930.3,2525.3 L929.2,2522.3 L928.5,2519.9 L928.1,2518.0 L927.9,2516.3 L927.9,2514.9 L928.0,2513.6 L928.1,2512.6 L928.4,2511.6 L928.8,2510.9 L929.2,2510.2 L929.9,2510.2 L930.8,2510.3 L931.7,2510.6 L932.6,2511.1 L933.6,2511.8 L934.7,2512.7 L935.9,2513.8 L937.1,2515.3 L938.5,2517.1 L940.1,2519.6 L942.2,2523.6 L944.0,2526.8 L944.5,2526.7 L944.9,2526.6 L945.4,2526.5 L945.9,2526.5 L946.4,2526.4 L947.0,2526.4 L947.5,2526.3 L948.0,2526.3 L948.5,2526.3 L949.0,2526.2 L949.5,2526.2 L950.0,2526.2 L950.5,2526.2 L951.0,2526.2 L951.5,2526.2 L952.0,2526.2 L952.5,2526.2 L951.7,2520.0 L951.7,2516.6 L951.8,2514.2 L952.1,2512.3 L952.4,2510.7 L952.9,2509.5 L953.4,2508.4 L953.9,2507.6 L954.5,2507.1 L955.1,2506.7 L955.8,2507.1 L956.5,2507.7 L957.2,2508.5 L957.9,2509.5 L958.6,2510.8 L959.3,2512.3 L960.0,2514.3 L960.7,2516.8 L961.4,2520.3 L962.1,2526.3 L962.6,2526.3 L963.0,2526.2 L963.5,2526.2 L964.0,2526.1 L964.5,2526.0 L964.9,2526.0 L965.4,2525.9 L965.9,2525.8 L966.4,2525.7 L966.9,2525.6 L967.3,2525.6 L967.8,2525.5 L968.3,2525.4 L968.8,2525.3 L969.3,2525.2 L970.0,2523.3 L971.2,2517.6 L972.2,2514.5 L973.1,2512.1 L974.0,2510.3 L974.9,2508.8 L975.7,2507.6 L976.5,2506.6 L977.3,2505.9 L978.1,2505.5 L978.7,2505.9 L979.2,2506.5 L979.7,2507.3 L980.1,2508.4 L980.5,2509.8 L980.7,2511.6 L980.7,2513.8 L980.6,2516.8 L979.5,2522.8 L979.7,2523.9 L980.3,2523.9 L980.8,2523.9 L981.3,2524.0 L981.8,2524.0 L982.4,2524.1 L982.9,2524.2 L983.4,2524.3 L983.9,2524.4 L984.4,2524.6 L984.9,2524.7 L985.4,2524.9 L985.9,2525.0 L986.4,2525.2 L986.9,2525.4 L987.4,2525.6 L990.6,2519.5 L993.1,2515.6 L995.0,2513.0 L996.6,2511.1 L998.0,2509.7 L999.3,2508.8 L1000.4,2508.1 L1001.3,2507.8 L1002.2,2507.8 L1002.6,2508.5 L1002.8,2509.6 L1002.8,2511.0 L1002.7,2512.6 L1002.3,2514.6 L1001.6,2517.0 L1000.6,2520.0 L998.8,2524.0 L994.9,2531.2 L995.2,2531.6 L995.6,2532.0 L996.0,2532.4 L996.3,2532.7 L996.7,2533.1 L997.0,2533.5 L997.4,2533.9 L997.7,2534.3 L998.0,2534.7 L998.4,2535.0 L998.7,2535.4 L999.0,2535.8 L999.4,2536.2 L999.7,2536.6 L1000.0,2536.9 L1000.4,2537.3 L1004.1,2533.8 L1007.4,2530.9 L1009.8,2529.1 L1011.7,2527.9 L1013.4,2527.0 L1014.8,2526.4 L1016.0,2526.1 L1017.1,2526.0 L1018.0,2526.0 L1018.7,2526.2 L1018.9,2527.0 L1018.8,2528.0 L1018.6,2529.1 L1018.2,2530.4 L1017.5,2531.9 L1016.5,2533.6 L1015.2,2535.6 L1013.2,2538.0 L1009.9,2541.6 L1007.0,2544.7 L1007.3,2545.0 L1007.6,2545.4 L1007.9,2545.8 L1008.2,2546.2 L1008.5,2546.6 L1008.8,2547.0 L1009.1,2547.4 L1009.4,2547.8 L1009.7,2548.2 L1010.0,2548.6 L1010.3,2549.0 L1010.5,2549.4 L1010.8,2549.8 L1011.0,2550.2 L1011.3,2550.6 L1011.5,2551.1 L1011.8,2551.5 L1012.0,2551.9 L1012.2,2552.4 L1012.4,2552.8 L1012.7,2553.3 L1012.9,2553.7 L1013.1,2554.2 L1013.2,2554.6 L1013.4,2555.1 L1013.6,2555.5 L1013.8,2556.0 L1013.9,2556.4 L1014.1,2556.9 L1014.2,2557.4 L1020.4,2555.1 L1023.6,2554.4 L1026.0,2554.0 L1027.9,2553.8 L1029.5,2553.8 L1030.8,2554.0 L1031.9,2554.2 L1032.8,2554.6 L1033.5,2555.0 L1033.8,2555.6 L1033.6,2556.4 L1033.1,2557.2 L1032.4,2558.1 L1031.5,2559.1 L1030.3,2560.1 L1028.8,2561.1 L1026.9,2562.3 L1024.3,2563.6 L1020.0,2565.4 L1016.8,2566.7 L1016.9,2567.2 L1017.1,2567.6 L1017.2,2568.1 L1017.4,2568.6 L1017.5,2569.0 L1017.7,2569.5 L1017.8,2569.9 L1018.0,2570.4 L1018.2,2570.9 L1018.3,2571.3 L1018.5,2571.8 L1018.7,2572.3 L1018.9,2572.7 L1019.4,2573.1 L1024.7,2573.0 L1027.3,2573.2 L1029.3,2573.6 L1031.0,2574.0 L1032.4,2574.5 L1033.6,2575.0 L1034.6,2575.5 L1035.4,2576.1 L1036.1,2576.7 L1036.5,2577.3 L1036.2,2578.0 L1035.8,2578.6 L1035.3,2579.2 L1034.5,2579.9 Z" fill="#6a5ab4" stroke="#3c2d8c" stroke-width="1.8" stroke-linejoin="round"/>
<ellipse cx="966" cy="2538" rx="5.9" ry="4.5" fill="#9c90d4"/>
<ellipse cx="990" cy="2553" rx="5.9" ry="4.5" fill="#9c90d4"/>
<ellipse cx="923" cy="2555" rx="4.5" ry="3.5" fill="#9c90d4"/>
<ellipse cx="908" cy="2586" rx="5.2" ry="4.0" fill="#9c90d4"/>
<ellipse cx="1004" cy="2584" rx="4.5" ry="3.5" fill="#9c90d4"/>
<ellipse cx="968" cy="2619" rx="4.9" ry="3.8" fill="#9c90d4"/>
<ellipse cx="928" cy="2612" rx="3.9" ry="3.0" fill="#9c90d4"/>
<ellipse cx="965.7" cy="2583.1" rx="31.9" ry="23.9" fill="#4b3c96"/>
<text x="745.5" y="2579.1" font-size="22.5" font-weight="bold" textLength="122.2" lengthAdjust="spacingAndGlyphs">Kupffer cell</text>
<text x="777.0" y="2606.5" font-size="22.5" font-weight="bold" textLength="58.6" lengthAdjust="spacingAndGlyphs">(KC1)</text>
<text x="1075.7" y="2565.0" font-size="22.5" textLength="244.0" lengthAdjust="spacingAndGlyphs">Inflammatory cytokines</text>
<text x="1140.4" y="2591.4" font-size="22.5" textLength="113.8" lengthAdjust="spacingAndGlyphs">(IL-6, et al.)</text>
<defs><radialGradient id="g10972601" cx="0.4" cy="0.35" r="0.7"><stop offset="0" stop-color="#7cc8f0"/><stop offset="1" stop-color="#2a8cc8"/></radialGradient></defs>
<circle cx="1097.0" cy="2601.6" r="10.2" fill="url(#g10972601)" stroke="#2a8cc8" stroke-width="1" />
<defs><radialGradient id="g11922624" cx="0.4" cy="0.35" r="0.7"><stop offset="0" stop-color="#5cb870"/><stop offset="1" stop-color="#1e7a32"/></radialGradient></defs>
<circle cx="1192.0" cy="2624.0" r="10.2" fill="url(#g11922624)" stroke="#1e7a32" stroke-width="1" />
<defs><radialGradient id="g12902604" cx="0.4" cy="0.35" r="0.7"><stop offset="0" stop-color="#b8c6e4"/><stop offset="1" stop-color="#7e92c0"/></radialGradient></defs>
<circle cx="1290.9" cy="2604.2" r="10.2" fill="url(#g12902604)" stroke="#7e92c0" stroke-width="1" />
<path d="M1074,2622 Q1170,2668 1271,2637 Q1310,2622 1332,2606" fill="none" stroke="#111" stroke-width="3.2" />
<path d="M1268,2638 Q1300,2642 1322,2650" fill="none" stroke="#111" stroke-width="4" />
<path d="M1345.1,2598.4 L1320.0,2598.0 L1334.0,2619.0 Z" fill="#111" />
<path d="M1341.0,2656.0 L1318.0,2641.0 L1316.0,2664.0 Z" fill="#111" />
<text x="1348.4" y="2670.3" font-size="21.5" font-weight="bold" textLength="228.6" lengthAdjust="spacingAndGlyphs">Chronic inflammation</text>
<path d="M1473.5,2311.3 L1474.3,2310.4 L1475.0,2309.5 L1475.8,2308.7 L1476.6,2308.0 L1477.4,2307.4 L1478.1,2307.1 L1478.9,2306.9 L1479.7,2306.9 L1480.6,2307.1 L1481.4,2307.5 L1482.2,2308.0 L1483.0,2308.7 L1483.9,2309.5 L1484.7,2310.3 L1485.5,2310.4 L1486.3,2309.5 L1487.1,2308.7 L1487.8,2307.9 L1488.6,2307.3 L1489.4,2306.8 L1490.2,2306.5 L1491.0,2306.4 L1491.8,2306.5 L1492.6,2306.7 L1493.4,2307.2 L1494.3,2307.8 L1495.1,2308.5 L1495.9,2309.3 L1496.8,2310.2 L1497.5,2309.6 L1498.3,2308.7 L1499.1,2307.9 L1499.8,2307.2 L1500.6,2306.6 L1501.4,2306.2 L1502.2,2305.9 L1503.0,2305.9 L1503.8,2306.1 L1504.6,2306.4 L1505.5,2306.9 L1506.3,2307.6 L1507.1,2308.3 L1508.0,2309.2 L1508.8,2309.7 L1509.6,2308.7 L1510.3,2307.9 L1511.1,2307.1 L1511.9,2306.4 L1512.7,2305.9 L1513.4,2305.6 L1514.2,2305.4 L1515.0,2305.5 L1515.9,2305.7 L1516.7,2306.1 L1517.5,2306.7 L1518.3,2307.4 L1519.2,2308.2 L1520.0,2309.0 L1520.8,2308.8 L1521.6,2307.9 L1522.3,2307.1 L1523.1,2306.3 L1523.9,2305.7 L1524.7,2305.3 L1525.5,2305.0 L1526.3,2304.9 L1527.1,2305.1 L1527.9,2305.4 L1528.7,2305.8 L1529.6,2306.5 L1530.4,2307.2 L1531.2,2308.0 L1532.1,2308.9 L1532.8,2308.0 L1533.6,2307.1 L1534.4,2306.3 L1535.1,2305.6 L1535.9,2305.0 L1536.7,2304.7 L1537.5,2304.5 L1538.3,2304.5 L1539.1,2304.7 L1539.9,2305.1 L1540.8,2305.6 L1541.6,2306.3 L1542.4,2307.1 L1543.3,2307.9 L1544.1,2308.0 L1544.9,2307.1 L1545.6,2306.3 L1546.4,2305.5 L1547.2,2304.9 L1548.0,2304.4 L1548.7,2304.1 L1549.5,2304.0 L1550.4,2304.1 L1551.2,2304.3 L1552.0,2304.8 L1552.8,2305.4 L1553.6,2306.1 L1554.5,2306.9 L1555.3,2307.8 L1556.1,2307.2 L1556.9,2306.3 L1557.6,2305.5 L1558.4,2304.8 L1559.2,2304.2 L1560.0,2303.8 L1560.8,2303.5 L1561.6,2303.5 L1562.4,2303.7 L1563.2,2304.0 L1564.0,2304.5 L1564.9,2305.2 L1565.7,2305.9 L1566.5,2306.8 L1567.4,2307.3 L1568.1,2306.3 L1568.9,2305.5 L1569.7,2304.7 L1570.4,2304.0 L1571.2,2303.5 L1572.0,2303.2 L1572.8,2303.0 L1573.6,2303.1 L1574.4,2303.3 L1575.3,2303.7 L1576.1,2304.3 L1576.9,2305.0 L1577.7,2305.8 L1578.6,2306.6 L1579.4,2306.4 L1580.1,2305.5 L1580.9,2304.7 L1581.7,2303.9 L1582.5,2303.3 L1583.3,2302.9 L1584.0,2302.6 L1584.8,2302.5 L1585.7,2302.7 L1586.5,2303.0 L1587.3,2303.4 L1588.1,2304.1 L1589.0,2304.8 L1589.8,2305.6 L1590.6,2306.5 L1591.4,2305.6 L1592.2,2304.7 L1592.9,2303.9 L1593.7,2303.2 L1594.5,2302.6 L1595.3,2302.3 L1596.1,2302.1 L1596.9,2302.1 L1597.7,2302.3 L1598.5,2302.7 L1599.3,2303.2 L1600.2,2303.9 L1601.0,2304.7 L1601.8,2305.5 L1602.7,2305.6 L1603.4,2304.7 L1604.2,2303.9 L1605.0,2303.1 L1605.7,2302.5 L1606.5,2302.0 L1607.3,2301.7 L1608.1,2301.6 L1608.9,2301.7 L1609.7,2301.9 L1610.6,2302.4 L1611.4,2303.0 L1612.2,2303.7 L1613.1,2304.5 L1613.9,2305.4 L1614.7,2304.8 L1615.4,2303.9 L1616.2,2303.1 L1617.0,2302.4 L1617.8,2301.8 L1618.6,2301.4 L1619.3,2301.1 L1620.1,2301.1 L1621.0,2301.3 L1621.8,2301.6 L1622.6,2302.1 L1623.4,2302.8 L1624.3,2303.5 L1625.1,2304.4 L1625.9,2304.9 L1626.7,2303.9 L1627.5,2303.1 L1628.2,2302.3 L1629.0,2301.6 L1629.8,2301.1 L1630.6,2300.8 L1631.4,2300.6 L1632.2,2300.7 L1633.0,2300.9 L1633.8,2301.3 L1634.6,2301.9 L1635.5,2302.6 L1636.3,2303.4 L1637.2,2304.2 L1637.9,2304.0 L1638.7,2303.1 L1639.5,2302.3 L1640.3,2301.5 L1641.0,2300.9 L1641.8,2300.5 L1642.6,2300.2 L1643.4,2300.1 L1644.2,2300.3 L1645.0,2300.6 L1645.9,2301.0 L1646.7,2301.7 L1647.5,2302.4 L1648.4,2303.2 L1649.2,2304.1 L1650.4,2304.4 L1651.6,2304.7 L1652.7,2305.0 L1653.6,2305.4 L1654.4,2305.9 L1655.1,2306.5 L1655.5,2307.2 L1655.8,2308.0 L1655.9,2308.8 L1655.8,2309.8 L1655.5,2310.8 L1655.2,2311.9 L1654.7,2313.0 L1654.5,2314.1 L1655.7,2314.3 L1656.8,2314.7 L1657.9,2315.0 L1658.8,2315.4 L1659.6,2315.9 L1660.2,2316.5 L1660.7,2317.2 L1660.9,2318.0 L1661.0,2318.9 L1660.8,2319.8 L1660.6,2320.9 L1660.2,2322.0 L1659.8,2323.1 L1659.7,2324.0 L1660.9,2324.3 L1662.1,2324.6 L1663.1,2325.0 L1664.1,2325.4 L1664.8,2325.9 L1665.4,2326.5 L1665.8,2327.2 L1666.0,2328.0 L1666.1,2328.9 L1665.9,2329.9 L1665.7,2330.9 L1665.3,2332.0 L1664.8,2333.2 L1665.0,2334.0 L1666.2,2334.3 L1667.3,2334.6 L1668.4,2335.0 L1669.3,2335.4 L1670.0,2335.9 L1670.6,2336.5 L1671.0,2337.2 L1671.2,2338.0 L1671.2,2338.9 L1671.0,2339.9 L1670.7,2341.0 L1670.3,2342.1 L1669.9,2343.2 L1670.3,2343.9 L1671.4,2344.2 L1672.6,2344.6 L1673.6,2344.9 L1674.5,2345.4 L1675.2,2345.9 L1675.8,2346.5 L1676.1,2347.3 L1676.3,2348.1 L1676.3,2349.0 L1676.1,2350.0 L1675.8,2351.0 L1675.4,2352.2 L1674.9,2353.3 L1675.5,2353.9 L1676.7,2354.2 L1677.8,2354.5 L1678.8,2354.9 L1679.7,2355.4 L1680.4,2355.9 L1680.9,2356.5 L1681.3,2357.3 L1681.4,2358.1 L1681.4,2359.0 L1681.2,2360.0 L1680.9,2361.1 L1680.5,2362.2 L1680.0,2363.4 L1680.8,2363.9 L1682.0,2364.2 L1683.1,2364.5 L1684.1,2364.9 L1684.9,2365.4 L1685.6,2365.9 L1686.1,2366.6 L1686.4,2367.3 L1686.5,2368.1 L1686.5,2369.1 L1686.3,2370.1 L1685.9,2371.2 L1685.5,2372.3 L1685.0,2373.4 L1686.0,2373.8 L1687.2,2374.1 L1688.3,2374.5 L1689.3,2374.9 L1690.1,2375.3 L1690.8,2375.9 L1691.3,2376.6 L1691.5,2377.3 L1691.6,2378.2 L1691.6,2379.1 L1691.3,2380.1 L1691.0,2381.2 L1690.6,2382.4 L1690.1,2383.5 L1690.1,2385.0 L1690.0,2386.4 L1689.9,2387.6 L1689.5,2388.6 L1689.0,2389.3 L1688.3,2389.6 L1687.3,2389.7 L1686.2,2389.5 L1684.9,2389.1 L1683.6,2388.6 L1682.9,2389.0 L1682.9,2390.5 L1682.8,2391.8 L1682.5,2392.9 L1682.1,2393.8 L1681.5,2394.3 L1680.6,2394.5 L1679.6,2394.5 L1678.4,2394.2 L1677.1,2393.7 L1675.7,2393.1 L1676.6,2392.5 L1677.6,2391.9 L1678.5,2391.3 L1679.4,2390.8 L1680.3,2390.5 L1681.2,2390.2 L1682.0,2390.1 L1682.9,2390.1 L1683.6,2390.3 L1684.4,2390.6 L1685.2,2391.1 L1685.9,2391.7 L1686.6,2392.4 L1687.2,2393.2 L1687.9,2394.1 L1688.6,2395.0 L1689.4,2395.2 L1690.3,2394.6 L1691.2,2394.0 L1692.2,2393.5 L1693.1,2393.0 L1694.0,2392.7 L1694.8,2392.5 L1695.6,2392.5 L1696.5,2392.6 L1697.2,2392.9 L1698.0,2393.3 L1698.7,2393.8 L1699.4,2394.5 L1700.1,2395.2 L1700.8,2396.1 L1701.4,2397.0 L1702.1,2397.9 L1703.3,2398.1 L1704.5,2398.4 L1705.5,2398.7 L1706.5,2399.1 L1707.3,2399.5 L1708.0,2400.1 L1708.5,2400.7 L1708.8,2401.4 L1709.0,2402.3 L1709.0,2403.2 L1708.8,2404.2 L1708.6,2405.3 L1708.2,2406.4 L1707.8,2407.5 L1708.7,2408.0 L1709.8,2408.2 L1710.9,2408.5 L1711.9,2408.9 L1712.8,2409.3 L1713.5,2409.8 L1714.0,2410.4 L1714.4,2411.2 L1714.6,2412.0 L1714.6,2412.9 L1714.5,2413.9 L1714.3,2414.9 L1713.9,2416.0 L1713.5,2417.2 L1714.0,2417.8 L1715.2,2418.1 L1716.3,2418.4 L1717.3,2418.7 L1718.2,2419.1 L1719.0,2419.6 L1719.6,2420.2 L1720.0,2420.9 L1720.2,2421.7 L1720.3,2422.6 L1720.2,2423.5 L1719.9,2424.6 L1719.6,2425.7 L1719.2,2426.8 L1719.4,2427.7 L1720.6,2427.9 L1721.7,2428.2 L1722.7,2428.5 L1723.7,2428.9 L1724.4,2429.4 L1725.1,2430.0 L1725.5,2430.6 L1725.8,2431.4 L1725.9,2432.3 L1725.8,2433.2 L1725.6,2434.3 L1725.3,2435.3 L1725.0,2436.5 L1724.7,2437.5 L1725.9,2437.8 L1727.1,2438.0 L1728.1,2438.3 L1729.1,2438.7 L1729.9,2439.2 L1730.6,2439.7 L1731.1,2440.4 L1731.4,2441.1 L1731.5,2442.0 L1731.5,2442.9 L1731.3,2443.9 L1731.0,2445.0 L1730.7,2446.1 L1730.3,2447.3 L1731.3,2447.6 L1732.4,2447.9 L1733.5,2448.2 L1734.5,2448.5 L1735.4,2449.0 L1736.1,2449.5 L1736.6,2450.1 L1736.9,2450.8 L1737.1,2451.7 L1737.1,2452.6 L1737.0,2453.6 L1736.7,2454.7 L1736.4,2455.8 L1736.0,2456.9 L1736.6,2457.5 L1737.8,2457.7 L1738.9,2458.0 L1739.9,2458.4 L1740.8,2458.8 L1741.5,2459.3 L1742.1,2459.9 L1742.5,2460.6 L1742.7,2461.4 L1742.7,2462.3 L1742.6,2463.3 L1742.4,2464.3 L1742.1,2465.4 L1741.7,2466.6 L1742.0,2467.3 L1743.2,2467.6 L1744.3,2467.8 L1745.3,2468.2 L1746.2,2468.6 L1747.0,2469.1 L1747.6,2469.6 L1748.0,2470.3 L1748.3,2471.1 L1748.4,2472.0 L1748.3,2472.9 L1748.1,2474.0 L1747.8,2475.1 L1747.4,2476.2 L1747.3,2477.2 L1748.5,2477.4 L1749.7,2477.7 L1750.7,2478.0 L1751.7,2478.4 L1752.5,2478.8 L1753.1,2479.4 L1753.6,2480.1 L1753.9,2480.8 L1754.0,2481.7 L1753.9,2482.6 L1753.8,2483.6 L1753.5,2484.7 L1753.1,2485.8 L1752.7,2487.0 L1753.3,2488.1 L1753.9,2489.1 L1754.3,2490.1 L1754.7,2491.1 L1754.9,2492.0 L1754.9,2492.9 L1754.8,2493.7 L1754.5,2494.4 L1754.0,2495.1 L1753.3,2495.7 L1752.4,2496.2 L1751.5,2496.8 L1750.4,2497.2 L1749.3,2497.7 L1749.3,2498.5 L1749.9,2499.6 L1750.4,2500.6 L1750.8,2501.6 L1751.0,2502.5 L1751.1,2503.4 L1751.1,2504.3 L1750.8,2505.0 L1750.3,2505.7 L1749.7,2506.3 L1748.9,2506.9 L1748.0,2507.4 L1746.9,2507.9 L1745.8,2508.4 L1745.3,2509.0 L1745.9,2510.1 L1746.4,2511.1 L1746.8,2512.1 L1747.2,2513.1 L1747.3,2514.0 L1747.3,2514.8 L1747.1,2515.6 L1746.7,2516.3 L1746.1,2517.0 L1745.4,2517.5 L1744.5,2518.1 L1743.5,2518.6 L1742.4,2519.0 L1741.3,2519.5 L1741.9,2520.6 L1742.4,2521.6 L1742.9,2522.6 L1743.3,2523.6 L1743.5,2524.5 L1743.5,2525.4 L1743.4,2526.2 L1743.0,2526.9 L1742.5,2527.6 L1741.8,2528.2 L1741.0,2528.7 L1740.0,2529.3 L1739.0,2529.7 L1737.8,2530.2 L1737.9,2531.0 L1738.4,2532.1 L1738.9,2533.1 L1739.3,2534.1 L1739.6,2535.0 L1739.7,2535.9 L1739.6,2536.8 L1739.4,2537.5 L1738.9,2538.2 L1738.3,2538.8 L1737.5,2539.4 L1736.6,2539.9 L1735.5,2540.4 L1734.4,2540.9 L1733.9,2541.5 L1734.4,2542.6 L1735.0,2543.6 L1735.4,2544.6 L1735.7,2545.6 L1735.9,2546.5 L1735.9,2547.3 L1735.7,2548.1 L1735.3,2548.8 L1734.7,2549.5 L1734.0,2550.0 L1733.1,2550.6 L1732.1,2551.1 L1731.0,2551.5 L1729.8,2552.0 L1730.4,2553.1 L1731.0,2554.1 L1731.5,2555.1 L1731.8,2556.1 L1732.0,2557.0 L1732.1,2557.9 L1731.9,2558.7 L1731.6,2559.4 L1731.1,2560.1 L1730.4,2560.7 L1729.6,2561.2 L1728.6,2561.8 L1727.5,2562.2 L1726.4,2562.7 L1726.4,2563.5 L1727.0,2564.6 L1727.5,2565.6 L1727.9,2566.6 L1728.2,2567.5 L1728.3,2568.4 L1728.2,2569.3 L1727.9,2570.0 L1727.5,2570.7 L1726.9,2571.3 L1726.1,2571.9 L1725.1,2572.4 L1724.1,2572.9 L1723.0,2573.4 L1722.4,2574.0 L1723.0,2575.1 L1723.6,2576.1 L1724.0,2577.1 L1724.3,2578.1 L1724.5,2579.0 L1724.4,2579.8 L1724.2,2580.6 L1723.9,2581.3 L1723.3,2582.0 L1722.5,2582.5 L1721.6,2583.1 L1720.6,2583.6 L1719.6,2584.0 L1718.4,2584.5 L1719.0,2585.6 L1719.6,2586.6 L1720.0,2587.6 L1720.4,2588.6 L1720.6,2589.5 L1720.7,2590.4 L1720.5,2591.2 L1720.2,2591.9 L1719.7,2592.6 L1719.0,2593.2 L1718.1,2593.7 L1717.2,2594.3 L1716.1,2594.7 L1715.0,2595.2 L1715.0,2596.0 L1715.6,2597.1 L1716.1,2598.1 L1716.5,2599.1 L1716.8,2600.0 L1716.9,2600.9 L1716.8,2601.8 L1716.5,2602.5 L1716.1,2603.2 L1715.4,2603.8 L1714.6,2604.4 L1713.7,2604.9 L1712.7,2605.4 L1711.6,2605.9 L1711.0,2606.5 L1711.6,2607.6 L1712.1,2608.6 L1712.6,2609.6 L1712.9,2610.6 L1713.0,2611.5 L1713.0,2612.3 L1712.8,2613.1 L1712.4,2613.8 L1711.9,2614.5 L1711.1,2615.0 L1710.2,2615.6 L1709.2,2616.1 L1708.1,2616.5 L1707.0,2617.0 L1706.2,2618.0 L1705.5,2618.9 L1704.7,2619.7 L1703.9,2620.4 L1703.1,2620.9 L1702.3,2621.3 L1701.5,2621.4 L1700.7,2621.4 L1699.9,2621.1 L1699.1,2620.7 L1698.3,2620.1 L1697.4,2619.3 L1696.6,2618.5 L1695.8,2617.6 L1695.0,2618.2 L1694.2,2619.1 L1693.5,2620.0 L1692.7,2620.7 L1691.9,2621.3 L1691.1,2621.6 L1690.3,2621.8 L1689.5,2621.8 L1688.7,2621.6 L1687.9,2621.2 L1687.0,2620.6 L1686.2,2619.9 L1685.4,2619.1 L1684.5,2618.2 L1683.7,2618.5 L1683.0,2619.4 L1682.2,2620.3 L1681.4,2621.0 L1680.7,2621.6 L1679.9,2622.0 L1679.1,2622.3 L1678.3,2622.3 L1677.5,2622.1 L1676.6,2621.7 L1675.8,2621.2 L1675.0,2620.5 L1674.1,2619.7 L1673.3,2618.8 L1672.5,2618.7 L1671.7,2619.7 L1671.0,2620.6 L1670.2,2621.3 L1669.4,2621.9 L1668.6,2622.4 L1667.8,2622.7 L1667.0,2622.7 L1666.2,2622.6 L1665.4,2622.2 L1664.6,2621.7 L1663.8,2621.0 L1662.9,2620.3 L1662.1,2619.4 L1661.3,2619.0 L1660.5,2620.0 L1659.7,2620.8 L1659.0,2621.6 L1658.2,2622.3 L1657.4,2622.8 L1656.6,2623.1 L1655.8,2623.2 L1655.0,2623.1 L1654.2,2622.7 L1653.4,2622.3 L1652.5,2621.6 L1651.7,2620.8 L1650.9,2620.0 L1650.0,2619.3 L1649.3,2620.2 L1648.5,2621.1 L1647.7,2621.9 L1646.9,2622.6 L1646.2,2623.1 L1645.4,2623.5 L1644.6,2623.6 L1643.8,2623.5 L1642.9,2623.3 L1642.1,2622.8 L1641.3,2622.2 L1640.5,2621.4 L1639.6,2620.6 L1638.8,2619.7 L1638.0,2620.5 L1637.2,2621.4 L1636.5,2622.2 L1635.7,2622.9 L1634.9,2623.5 L1634.1,2623.9 L1633.3,2624.0 L1632.5,2624.0 L1631.7,2623.8 L1630.9,2623.3 L1630.1,2622.7 L1629.2,2622.0 L1628.4,2621.2 L1627.6,2620.3 L1626.8,2620.8 L1626.0,2621.7 L1625.2,2622.5 L1624.5,2623.3 L1623.7,2623.8 L1622.9,2624.2 L1622.1,2624.4 L1621.3,2624.4 L1620.5,2624.2 L1619.7,2623.9 L1618.8,2623.3 L1618.0,2622.6 L1617.2,2621.8 L1616.3,2620.9 L1615.5,2621.0 L1614.8,2621.9 L1614.0,2622.8 L1613.2,2623.6 L1612.4,2624.2 L1611.6,2624.6 L1610.9,2624.9 L1610.0,2624.9 L1609.2,2624.7 L1608.4,2624.4 L1607.6,2623.8 L1606.8,2623.2 L1605.9,2622.4 L1605.1,2621.5 L1604.3,2621.3 L1603.5,2622.2 L1602.7,2623.1 L1602.0,2623.9 L1601.2,2624.5 L1600.4,2625.0 L1599.6,2625.3 L1598.8,2625.3 L1598.0,2625.2 L1597.2,2624.9 L1596.4,2624.4 L1595.5,2623.7 L1594.7,2623.0 L1593.9,2622.1 L1593.0,2621.5 L1592.3,2622.5 L1591.5,2623.4 L1590.7,2624.2 L1590.0,2624.8 L1589.2,2625.4 L1588.4,2625.7 L1587.6,2625.8 L1586.8,2625.7 L1586.0,2625.4 L1585.1,2624.9 L1584.3,2624.3 L1583.5,2623.5 L1582.6,2622.7 L1581.8,2621.8 L1580.5,2621.7 L1579.3,2621.5 L1578.2,2621.3 L1577.2,2621.0 L1576.4,2620.6 L1575.7,2620.1 L1575.2,2619.4 L1574.9,2618.7 L1574.8,2617.8 L1574.8,2616.8 L1575.0,2615.7 L1575.3,2614.5 L1575.6,2613.4 L1575.2,2612.7 L1573.9,2612.5 L1572.8,2612.3 L1571.7,2612.1 L1570.8,2611.7 L1570.0,2611.3 L1569.4,2610.7 L1569.0,2610.0 L1568.8,2609.2 L1568.8,2608.2 L1568.9,2607.2 L1569.1,2606.1 L1569.4,2604.9 L1569.8,2603.7 L1570.2,2604.9 L1570.5,2606.1 L1570.7,2607.2 L1570.8,2608.3 L1570.8,2609.2 L1570.5,2610.0 L1570.1,2610.7 L1569.6,2611.3 L1568.8,2611.8 L1567.9,2612.1 L1566.8,2612.4 L1565.6,2612.5 L1564.4,2612.7 L1563.9,2613.4 L1564.3,2614.6 L1564.5,2615.7 L1564.7,2616.8 L1564.8,2617.8 L1564.6,2618.7 L1564.3,2619.4 L1563.8,2620.1 L1563.1,2620.6 L1562.3,2621.0 L1561.3,2621.3 L1560.2,2621.5 L1559.0,2621.7 L1557.7,2621.8 L1556.9,2622.6 L1556.0,2623.4 L1555.2,2624.2 L1554.4,2624.8 L1553.5,2625.3 L1552.7,2625.6 L1551.9,2625.7 L1551.1,2625.7 L1550.3,2625.5 L1549.5,2625.1 L1548.7,2624.5 L1548.0,2623.8 L1547.2,2623.0 L1546.4,2622.2 L1545.7,2621.3 L1544.8,2622.1 L1544.0,2622.9 L1543.2,2623.6 L1542.3,2624.2 L1541.5,2624.7 L1540.7,2625.0 L1539.9,2625.2 L1539.1,2625.2 L1538.3,2624.9 L1537.5,2624.5 L1536.7,2624.0 L1535.9,2623.3 L1535.2,2622.5 L1534.4,2621.6 L1533.6,2620.7 L1532.8,2621.6 L1532.0,2622.4 L1531.1,2623.1 L1530.3,2623.7 L1529.5,2624.2 L1528.6,2624.5 L1527.8,2624.7 L1527.0,2624.6 L1526.2,2624.4 L1525.5,2624.0 L1524.7,2623.5 L1523.9,2622.8 L1523.1,2622.0 L1522.4,2621.1 L1521.6,2620.2 L1520.8,2621.0 L1519.9,2621.8 L1519.1,2622.6 L1518.3,2623.2 L1517.4,2623.7 L1516.6,2624.0 L1515.8,2624.1 L1515.0,2624.1 L1514.2,2623.9 L1513.4,2623.5 L1512.6,2622.9 L1511.9,2622.2 L1511.1,2621.4 L1510.3,2620.6 L1509.6,2619.7 L1508.7,2620.5 L1507.9,2621.3 L1507.1,2622.0 L1506.2,2622.6 L1505.4,2623.1 L1504.6,2623.4 L1503.8,2623.6 L1503.0,2623.6 L1502.2,2623.3 L1501.4,2622.9 L1500.6,2622.4 L1499.8,2621.7 L1499.1,2620.9 L1498.3,2620.0 L1497.5,2619.1 L1496.7,2620.0 L1495.9,2620.8 L1495.0,2621.5 L1494.2,2622.1 L1493.4,2622.6 L1492.5,2622.9 L1491.7,2623.1 L1490.9,2623.0 L1490.1,2622.8 L1489.4,2622.4 L1488.6,2621.9 L1487.8,2621.2 L1487.0,2620.4 L1486.3,2619.5 L1485.5,2618.6 L1484.7,2619.4 L1483.8,2620.2 L1483.0,2621.0 L1482.2,2621.6 L1481.3,2622.1 L1480.5,2622.4 L1479.7,2622.5 L1478.9,2622.5 L1478.1,2622.3 L1477.3,2621.9 L1476.5,2621.3 L1475.8,2620.6 L1475.0,2619.8 L1474.2,2619.0 L1473.5,2618.1 L1472.6,2618.9 L1471.8,2619.7 L1471.0,2620.4 L1470.1,2621.0 L1469.3,2621.5 L1468.5,2621.8 L1467.7,2622.0 L1466.9,2622.0 L1466.1,2621.7 L1465.3,2621.3 L1464.5,2620.8 L1463.7,2620.1 L1463.0,2619.3 L1462.2,2618.4 L1461.4,2617.5 L1460.6,2618.4 L1459.8,2619.2 L1458.9,2619.9 L1458.1,2620.5 L1457.3,2621.0 L1456.4,2621.3 L1455.6,2621.5 L1454.8,2621.4 L1454.0,2621.2 L1453.3,2620.8 L1452.5,2620.3 L1451.7,2619.6 L1450.9,2618.8 L1450.2,2617.9 L1449.4,2617.0 L1448.2,2616.7 L1447.0,2616.4 L1446.0,2616.1 L1445.0,2615.7 L1444.2,2615.2 L1443.5,2614.6 L1443.1,2614.0 L1442.8,2613.2 L1442.7,2612.4 L1442.7,2611.4 L1442.9,2610.4 L1443.2,2609.4 L1443.6,2608.2 L1444.1,2607.1 L1443.0,2606.7 L1441.9,2606.4 L1440.8,2606.1 L1439.8,2605.7 L1439.0,2605.2 L1438.3,2604.7 L1437.8,2604.0 L1437.5,2603.3 L1437.4,2602.5 L1437.4,2601.5 L1437.6,2600.5 L1437.9,2599.4 L1438.3,2598.3 L1438.8,2597.2 L1437.8,2596.8 L1436.7,2596.5 L1435.6,2596.1 L1434.6,2595.8 L1433.8,2595.3 L1433.1,2594.7 L1432.6,2594.1 L1432.3,2593.4 L1432.1,2592.5 L1432.1,2591.6 L1432.3,2590.6 L1432.6,2589.5 L1433.0,2588.4 L1433.5,2587.3 L1432.6,2586.8 L1431.5,2586.5 L1430.4,2586.2 L1429.4,2585.8 L1428.5,2585.3 L1427.8,2584.8 L1427.3,2584.1 L1427.0,2583.4 L1426.8,2582.6 L1426.9,2581.7 L1427.0,2580.7 L1427.3,2579.6 L1427.7,2578.5 L1428.2,2577.4 L1427.5,2576.8 L1426.3,2576.5 L1425.2,2576.2 L1424.2,2575.8 L1423.3,2575.4 L1422.6,2574.8 L1422.1,2574.2 L1421.7,2573.5 L1421.6,2572.7 L1421.6,2571.7 L1421.7,2570.7 L1422.0,2569.7 L1422.4,2568.6 L1422.8,2567.4 L1422.3,2566.8 L1421.1,2566.5 L1420.0,2566.2 L1419.0,2565.8 L1418.1,2565.4 L1417.4,2564.9 L1416.8,2564.3 L1416.5,2563.5 L1416.3,2562.7 L1416.3,2561.8 L1416.4,2560.8 L1416.7,2559.8 L1417.1,2558.7 L1417.5,2557.5 L1417.1,2556.9 L1415.9,2556.6 L1414.8,2556.2 L1413.8,2555.9 L1412.9,2555.4 L1412.2,2554.9 L1411.6,2554.3 L1411.2,2553.6 L1411.0,2552.8 L1411.0,2551.9 L1411.2,2550.9 L1411.4,2549.9 L1411.8,2548.8 L1412.2,2547.6 L1411.9,2546.9 L1410.7,2546.6 L1409.6,2546.3 L1408.6,2545.9 L1407.7,2545.5 L1406.9,2545.0 L1406.4,2544.4 L1406.0,2543.7 L1405.8,2542.9 L1405.7,2542.0 L1405.9,2541.0 L1406.1,2539.9 L1406.5,2538.8 L1406.9,2537.7 L1406.7,2536.9 L1405.5,2536.6 L1404.4,2536.3 L1403.4,2535.9 L1402.5,2535.5 L1401.7,2535.0 L1401.1,2534.4 L1400.7,2533.7 L1400.5,2532.9 L1400.4,2532.0 L1400.6,2531.1 L1400.8,2530.0 L1401.2,2528.9 L1401.6,2527.8 L1401.5,2526.9 L1400.3,2526.6 L1399.2,2526.3 L1398.2,2526.0 L1397.2,2525.5 L1396.5,2525.0 L1395.9,2524.5 L1395.5,2523.8 L1395.2,2523.0 L1395.2,2522.1 L1395.3,2521.1 L1395.5,2520.1 L1395.9,2519.0 L1396.3,2517.9 L1396.4,2516.9 L1395.2,2516.7 L1394.0,2516.4 L1393.0,2516.0 L1392.0,2515.6 L1391.3,2515.1 L1390.6,2514.5 L1390.2,2513.8 L1390.0,2513.0 L1389.9,2512.2 L1390.0,2511.2 L1390.2,2510.2 L1390.6,2509.1 L1391.0,2508.0 L1391.2,2507.0 L1390.0,2506.7 L1388.8,2506.4 L1387.8,2506.0 L1386.8,2505.6 L1386.0,2505.1 L1385.4,2504.6 L1385.0,2503.9 L1384.7,2503.1 L1384.6,2502.2 L1384.7,2501.3 L1384.9,2500.3 L1385.3,2499.2 L1385.7,2498.1 L1386.0,2497.0 L1384.8,2496.7 L1383.6,2496.4 L1382.6,2496.1 L1381.6,2495.7 L1380.8,2495.2 L1380.2,2494.6 L1379.7,2493.9 L1379.4,2493.2 L1379.3,2492.3 L1379.4,2491.4 L1379.6,2490.3 L1379.9,2489.3 L1380.4,2488.1 L1380.8,2487.0 L1380.3,2485.8 L1379.9,2484.7 L1379.6,2483.6 L1379.4,2482.6 L1379.3,2481.7 L1379.4,2480.8 L1379.7,2480.1 L1380.2,2479.4 L1380.9,2478.8 L1381.7,2478.4 L1382.7,2478.0 L1383.8,2477.6 L1384.9,2477.3 L1386.0,2477.0 L1385.5,2475.8 L1385.1,2474.7 L1384.8,2473.6 L1384.6,2472.6 L1384.5,2471.7 L1384.7,2470.8 L1385.0,2470.1 L1385.5,2469.4 L1386.2,2468.9 L1387.0,2468.4 L1388.0,2468.0 L1389.1,2467.7 L1390.3,2467.4 L1391.1,2466.9 L1390.7,2465.8 L1390.3,2464.7 L1390.0,2463.6 L1389.8,2462.6 L1389.8,2461.7 L1389.9,2460.8 L1390.3,2460.1 L1390.8,2459.5 L1391.5,2458.9 L1392.3,2458.5 L1393.4,2458.1 L1394.5,2457.8 L1395.7,2457.5 L1396.3,2456.9 L1395.9,2455.8 L1395.5,2454.6 L1395.2,2453.6 L1395.0,2452.6 L1395.0,2451.7 L1395.2,2450.8 L1395.5,2450.1 L1396.1,2449.5 L1396.8,2449.0 L1397.7,2448.5 L1398.7,2448.2 L1399.8,2447.8 L1401.0,2447.6 L1401.5,2446.9 L1401.0,2445.7 L1400.7,2444.6 L1400.4,2443.6 L1400.2,2442.6 L1400.2,2441.7 L1400.4,2440.9 L1400.8,2440.1 L1401.4,2439.5 L1402.1,2439.0 L1403.0,2438.6 L1404.0,2438.2 L1405.2,2437.9 L1406.4,2437.6 L1406.7,2436.9 L1406.2,2435.7 L1405.8,2434.6 L1405.6,2433.6 L1405.4,2432.6 L1405.5,2431.7 L1405.7,2430.9 L1406.1,2430.2 L1406.7,2429.6 L1407.4,2429.1 L1408.3,2428.6 L1409.4,2428.3 L1410.5,2428.0 L1411.7,2427.7 L1411.8,2426.8 L1411.4,2425.7 L1411.0,2424.6 L1410.8,2423.5 L1410.7,2422.6 L1410.7,2421.7 L1410.9,2420.9 L1411.4,2420.2 L1412.0,2419.6 L1412.7,2419.1 L1413.7,2418.7 L1414.7,2418.3 L1415.9,2418.0 L1417.1,2417.8 L1417.0,2416.8 L1416.6,2415.7 L1416.2,2414.6 L1416.0,2413.5 L1415.9,2412.6 L1415.9,2411.7 L1416.2,2410.9 L1416.6,2410.2 L1417.3,2409.6 L1418.1,2409.2 L1419.0,2408.7 L1420.1,2408.4 L1421.2,2408.1 L1422.4,2407.8 L1422.2,2406.8 L1421.7,2405.6 L1421.4,2404.5 L1421.2,2403.5 L1421.1,2402.6 L1421.2,2401.7 L1421.5,2400.9 L1421.9,2400.3 L1422.6,2399.7 L1423.4,2399.2 L1424.3,2398.8 L1425.4,2398.5 L1426.6,2398.2 L1427.8,2397.9 L1428.5,2396.9 L1429.1,2395.9 L1429.8,2395.0 L1430.5,2394.2 L1431.3,2393.6 L1432.0,2393.2 L1432.8,2392.9 L1433.6,2392.9 L1434.5,2393.1 L1435.4,2393.5 L1436.3,2394.1 L1437.2,2394.7 L1438.1,2395.5 L1439.0,2396.3 L1439.7,2395.3 L1440.4,2394.3 L1441.1,2393.4 L1441.8,2392.6 L1442.5,2392.0 L1443.3,2391.6 L1444.1,2391.3 L1444.9,2391.3 L1445.7,2391.5 L1446.6,2391.9 L1447.5,2392.5 L1448.4,2393.1 L1449.3,2393.9 L1450.3,2394.7 L1450.9,2393.7 L1451.6,2392.7 L1452.3,2391.8 L1453.0,2391.0 L1453.7,2390.4 L1454.5,2390.0 L1455.3,2389.7 L1456.1,2389.7 L1457.0,2389.9 L1457.8,2390.3 L1458.7,2390.9 L1459.6,2391.5 L1460.6,2392.3 L1461.5,2393.1 L1460.1,2393.7 L1458.8,2394.2 L1457.6,2394.5 L1456.6,2394.5 L1455.7,2394.3 L1455.1,2393.8 L1454.7,2392.9 L1454.4,2391.8 L1454.3,2390.5 L1454.2,2389.1 L1453.6,2388.6 L1452.2,2389.1 L1450.9,2389.5 L1449.8,2389.7 L1448.9,2389.7 L1448.1,2389.3 L1447.6,2388.6 L1447.3,2387.6 L1447.1,2386.4 L1447.0,2385.0 L1447.0,2383.5 L1446.4,2382.4 L1445.8,2381.4 L1445.3,2380.3 L1445.0,2379.3 L1444.8,2378.4 L1444.8,2377.6 L1445.0,2376.8 L1445.4,2376.1 L1446.0,2375.5 L1446.8,2374.9 L1447.7,2374.4 L1448.8,2373.9 L1449.9,2373.5 L1450.6,2372.9 L1450.0,2371.8 L1449.4,2370.7 L1449.0,2369.7 L1448.7,2368.8 L1448.6,2367.9 L1448.6,2367.0 L1448.9,2366.3 L1449.3,2365.6 L1450.0,2365.0 L1450.8,2364.4 L1451.8,2363.9 L1452.9,2363.5 L1454.1,2363.1 L1454.2,2362.3 L1453.6,2361.2 L1453.1,2360.1 L1452.7,2359.1 L1452.4,2358.2 L1452.3,2357.3 L1452.5,2356.5 L1452.8,2355.7 L1453.3,2355.1 L1454.0,2354.5 L1454.9,2354.0 L1455.9,2353.5 L1457.0,2353.0 L1458.2,2352.6 L1457.8,2351.6 L1457.2,2350.6 L1456.7,2349.5 L1456.4,2348.5 L1456.2,2347.6 L1456.1,2346.7 L1456.3,2346.0 L1456.7,2345.2 L1457.3,2344.6 L1458.0,2344.0 L1459.0,2343.5 L1460.0,2343.0 L1461.1,2342.6 L1462.1,2342.1 L1461.4,2341.0 L1460.9,2339.9 L1460.4,2338.9 L1460.1,2338.0 L1459.9,2337.0 L1459.9,2336.2 L1460.2,2335.4 L1460.6,2334.7 L1461.3,2334.1 L1462.1,2333.6 L1463.0,2333.1 L1464.1,2332.6 L1465.3,2332.2 L1465.7,2331.5 L1465.1,2330.4 L1464.5,2329.3 L1464.1,2328.3 L1463.8,2327.4 L1463.7,2326.5 L1463.8,2325.7 L1464.1,2324.9 L1464.6,2324.2 L1465.3,2323.6 L1466.1,2323.1 L1467.1,2322.6 L1468.2,2322.2 L1469.4,2321.7 L1469.3,2320.8 L1468.7,2319.8 L1468.2,2318.7 L1467.8,2317.7 L1467.5,2316.8 L1467.5,2315.9 L1467.6,2315.1 L1468.0,2314.4 L1468.5,2313.7 L1469.3,2313.2 L1470.2,2312.6 L1471.2,2312.2 L1472.3,2311.7 Z" fill="#f2d3bf" stroke="#bc9276" stroke-width="2.8" stroke-linejoin="round"/>
<circle cx="1564.5" cy="2474.5" r="127.6" fill="#edf2fa" stroke="#8ca5d7" stroke-width="2" />
<text x="1519.2" y="2385.9" font-size="22.5" textLength="90.3" lengthAdjust="spacingAndGlyphs">Distal on</text>
<text x="1475.4" y="2422.5" font-size="20" textLength="81.1" lengthAdjust="spacingAndGlyphs">H3K27ac</text>
<path d="M1460.3,2477.4 L1656.4,2477.4 L1656.4,2457 L1668,2457" fill="none" stroke="#4a2a78" stroke-width="1.6" />
<path d="M1677.0,2457.0 L1666.0,2451.0 L1666.0,2463.0 Z" fill="#6a2a90" />
<ellipse cx="1494.9" cy="2458.0" rx="13" ry="16" fill="#72d0d4" stroke="#1e6a86" stroke-width="1" transform="rotate(20 1494.9 2458.0)"/>
<ellipse cx="1499.9" cy="2459.5" rx="13" ry="16" fill="#4fb8c8" stroke="#1e6a86" stroke-width="1" transform="rotate(20 1499.9 2459.5)"/>
<ellipse cx="1504.9" cy="2461.0" rx="13" ry="16" fill="#3aa0be" stroke="#1e6a86" stroke-width="1" transform="rotate(20 1504.9 2461.0)"/>
<ellipse cx="1610.9" cy="2458.0" rx="13" ry="16" fill="#72d0d4" stroke="#1e6a86" stroke-width="1" transform="rotate(20 1610.9 2458.0)"/>
<ellipse cx="1615.9" cy="2459.5" rx="13" ry="16" fill="#4fb8c8" stroke="#1e6a86" stroke-width="1" transform="rotate(20 1615.9 2459.5)"/>
<ellipse cx="1620.9" cy="2461.0" rx="13" ry="16" fill="#3aa0be" stroke="#1e6a86" stroke-width="1" transform="rotate(20 1620.9 2461.0)"/>
<line x1="1490.3" y1="2432.1" x2="1498.0" y2="2441.0" stroke="#b01818" stroke-width="1.2" />
<line x1="1614.3" y1="2426.8" x2="1614.3" y2="2440.0" stroke="#b01818" stroke-width="1.2" />
<circle cx="1490.3" cy="2432.1" r="5.3" fill="#f01e1e" stroke="#a01010" stroke-width="1" />
<circle cx="1614.3" cy="2426.8" r="5.3" fill="#f01e1e" stroke="#a01010" stroke-width="1" />
<rect x="1524" y="2443.7" width="72.2" height="33.7" rx="16.8" fill="#965ac8" stroke="#5a2c8c" stroke-width="1.4"/>
<text x="1536.0" y="2465.3" font-size="15.5" font-weight="bold" fill="#ffffff" textLength="47.7" lengthAdjust="spacingAndGlyphs">MEF2D</text>
<text x="1467.5" y="2513.5" font-size="22" font-style="italic" textLength="208.2" lengthAdjust="spacingAndGlyphs">Sox2, Notch3, Wnt6,</text>
<text x="1467.5" y="2539.9" font-size="22" font-style="italic" textLength="193.7" lengthAdjust="spacingAndGlyphs">Flt1, Vegf, Sema, ...</text>
<line x1="1445.8" y1="2406.4" x2="1389.8" y2="2351.4" stroke="#111" stroke-width="4" stroke-dasharray="10 7"/>
<path d="M1378.4,2340.2 L1396.1,2345.0 L1383.5,2357.8 Z" fill="#111" />
<line x1="1414.5" y1="2521.9" x2="1439.2" y2="2502.8" stroke="#111" stroke-width="4" stroke-dasharray="10 7"/>
<path d="M1451.8,2493.0 L1444.7,2509.9 L1433.6,2495.7 Z" fill="#111" />
<line x1="1414.5" y1="2521.9" x2="1378.0" y2="2549.0" stroke="#8c46b4" stroke-width="5" stroke-linecap="round"/>
<defs><radialGradient id="g13622558" cx="0.4" cy="0.35" r="0.7"><stop offset="0" stop-color="#6cc4ec"/><stop offset="1" stop-color="#2080c0"/></radialGradient></defs>
<circle cx="1362.7" cy="2558.6" r="9.6" fill="url(#g13622558)" stroke="#2080c0" stroke-width="1" />
<path d="M1352,2566 Q1358,2575 1370,2572 Q1381,2566 1378,2551" fill="none" stroke="#9050be" stroke-width="5" />
<text x="1334.0" y="2533.0" font-size="21" textLength="45.6" lengthAdjust="spacingAndGlyphs">IL6R</text>
<text x="1430.7" y="2275.9" font-size="22.5" font-weight="bold" textLength="270.0" lengthAdjust="spacingAndGlyphs">MEF2D<tspan font-size="14" dy="-9">+</tspan><tspan dy="9"> cancer precursor</tspan></text>
<defs><linearGradient id="tia" x1="0" x2="1"><stop offset="0" stop-color="#000" stop-opacity="0.1"/><stop offset="1" stop-color="#111"/></linearGradient></defs>
<rect x="1766.0" y="2475.7" width="18.0" height="12.0" fill="url(#tia)" />
<path d="M1782.0,2467.5 L1806.0,2481.7 L1782.0,2495.9 Z" fill="#111" />
<text x="1820.0" y="2490.2" font-size="23" font-weight="bold" textLength="167.4" lengthAdjust="spacingAndGlyphs">Tumor initiation</text>
</svg></body></html>
